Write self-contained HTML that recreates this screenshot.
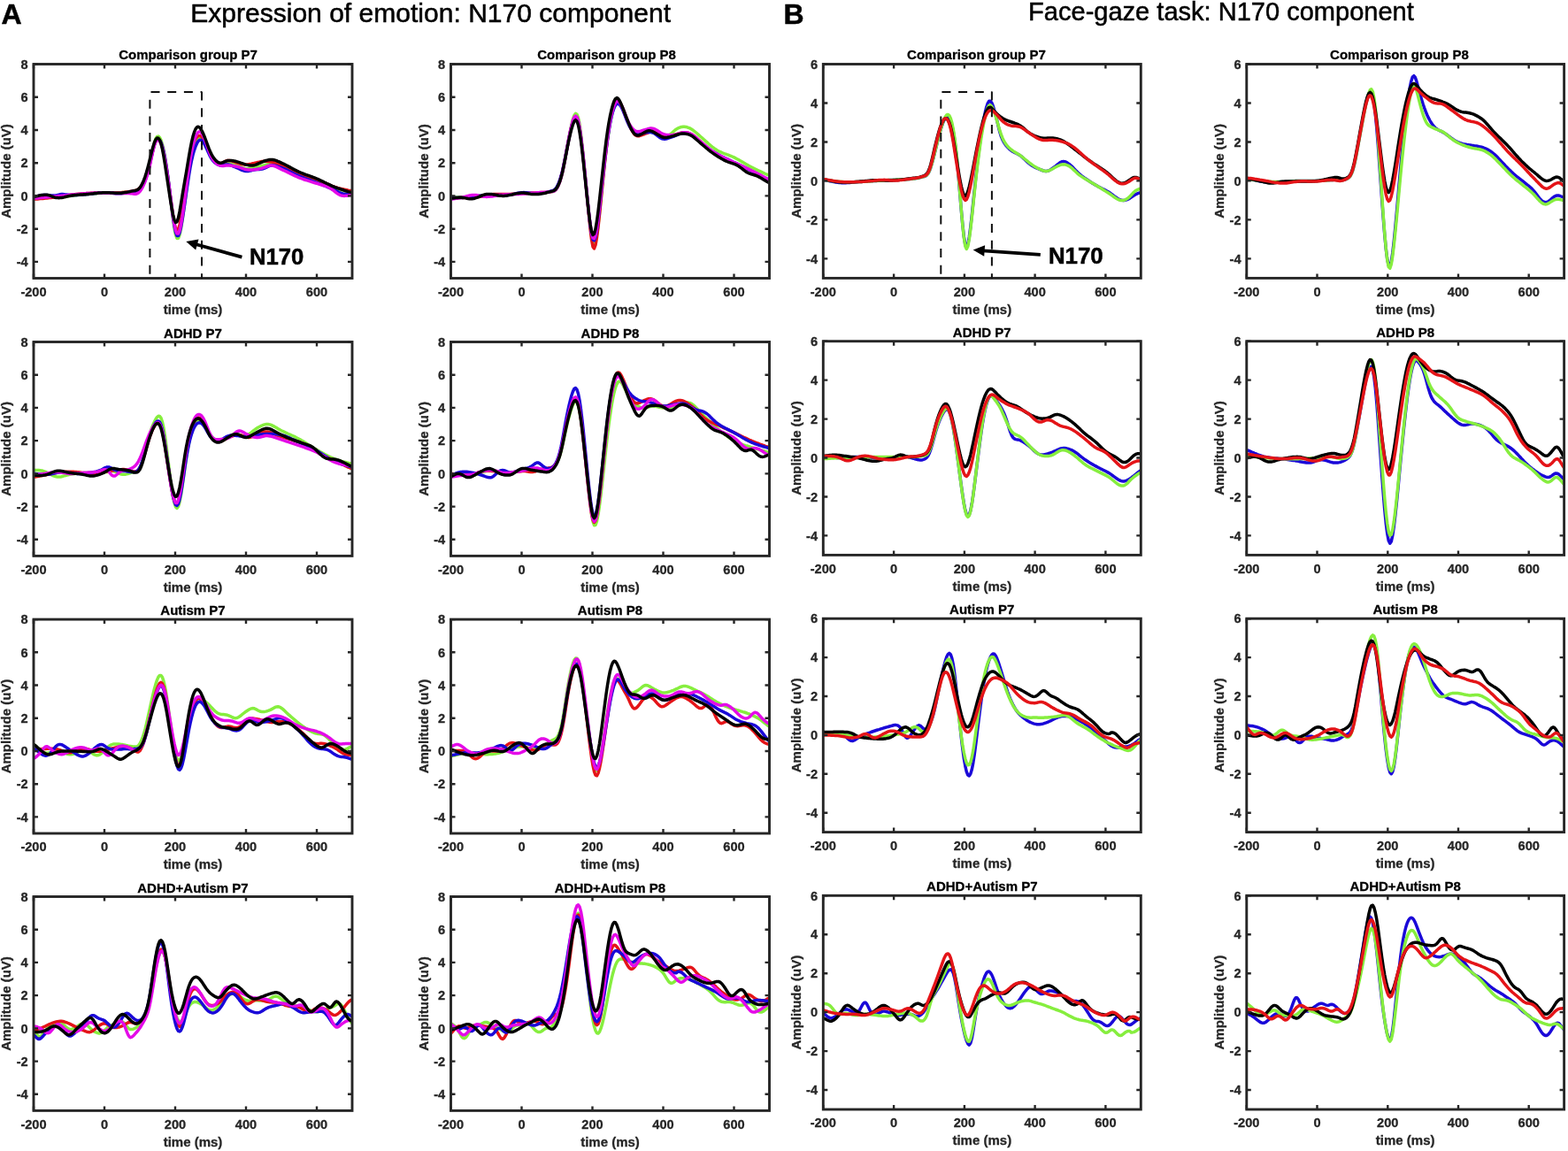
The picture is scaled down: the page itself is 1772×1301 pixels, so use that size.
<!DOCTYPE html><html><head><meta charset="utf-8"><title>N170 component</title>
<style>html,body{margin:0;padding:0;background:#fff;}svg{display:block;}text{font-family:'Liberation Sans', Arial, Helvetica, sans-serif;}</style></head><body>
<svg width="1772" height="1301" viewBox="0 0 1772 1301">
<rect width="1772" height="1301" fill="#fff"/>
<text x="1.4" y="26.7" font-size="32" font-weight="bold" fill="#000" stroke="#000" stroke-width="0.5">A</text>
<text x="885.6" y="27.1" font-size="32" font-weight="bold" fill="#000" stroke="#000" stroke-width="0.5">B</text>
<text x="215.2" y="24.8" font-size="29" fill="#000" stroke="#000" stroke-width="0.5" textLength="542.8" lengthAdjust="spacingAndGlyphs">Expression of emotion: N170 component</text>
<text x="1162.1" y="22.9" font-size="29" fill="#000" stroke="#000" stroke-width="0.5" textLength="435.7" lengthAdjust="spacingAndGlyphs">Face-gaze task: N170 component</text>
<g><clipPath id="cp00"><rect x="38.0" y="72.5" width="360.0" height="242.0"/></clipPath><g clip-path="url(#cp00)" fill="none" stroke-width="3.5" stroke-linejoin="round" stroke-linecap="round"><path d="M38.0 223.3L39.5 223.1 41.0 222.8 42.5 222.5 44.0 222.2 45.5 221.9 47.0 221.7 48.5 221.5 50.0 221.4 51.5 221.4 53.0 221.5 54.5 221.7 56.0 222.0 57.5 222.3 59.0 222.6 60.5 222.8 62.0 223.1 63.5 223.2 65.0 223.3 66.5 223.3 68.0 223.2 69.5 223.0 71.0 222.7 72.5 222.5 74.0 222.2 75.5 221.9 77.0 221.7 78.5 221.4 80.0 221.2 81.5 221.1 83.0 220.9 84.5 220.7 86.0 220.6 87.5 220.5 89.0 220.3 90.5 220.2 92.0 220.1 93.5 219.9 95.0 219.8 96.5 219.7 98.0 219.6 99.5 219.4 101.0 219.3 102.5 219.2 104.0 219.0 105.5 218.9 107.0 218.8 108.5 218.7 110.0 218.6 111.5 218.4 113.0 218.3 114.5 218.2 116.0 218.2 117.5 218.1 119.0 218.0 120.5 218.0 122.0 217.9 123.5 217.9 125.0 217.9 126.5 217.9 128.0 217.9 129.5 217.9 131.0 217.8 132.5 217.8 134.0 217.8 135.5 217.8 137.0 217.7 138.5 217.6 140.0 217.6 141.5 217.5 143.0 217.4 144.5 217.3 146.0 217.2 147.5 217.0 149.0 216.9 150.5 216.7 152.0 216.6 153.5 216.5 155.0 216.1 156.5 215.4 158.0 214.2 159.5 212.4 161.0 210.0 162.5 207.1 164.0 203.5 165.5 199.3 167.0 194.4 168.5 188.6 170.0 181.9 171.5 174.6 173.0 167.3 174.5 161.1 176.0 156.8 177.5 154.5 179.0 154.1 180.5 155.5 182.0 158.6 183.5 163.4 185.0 169.8 186.5 177.7 188.0 187.1 189.5 197.8 191.0 209.8 192.5 222.7 194.0 235.7 195.5 247.7 197.0 257.9 198.5 265.4 200.0 269.4 201.5 269.3 203.0 265.4 204.5 258.5 206.0 249.5 207.5 239.1 209.0 227.9 210.5 216.5 212.0 205.2 213.5 194.5 215.0 184.7 216.5 176.4 218.0 169.6 219.5 164.4 221.0 160.5 222.5 157.7 224.0 156.0 225.5 155.4 227.0 155.6 228.5 156.6 230.0 158.5 231.5 160.9 233.0 164.1 234.5 167.6 236.0 171.3 237.5 174.8 239.0 177.7 240.5 180.1 242.0 181.9 243.5 183.3 245.0 184.4 246.5 185.3 248.0 185.8 249.5 186.1 251.0 186.1 252.5 185.9 254.0 185.5 255.5 185.2 257.0 185.1 258.5 185.1 260.0 185.3 261.5 185.6 263.0 185.9 264.5 186.3 266.0 186.7 267.5 187.2 269.0 187.6 270.5 188.2 272.0 188.7 273.5 189.3 275.0 189.9 276.5 190.4 278.0 190.7 279.5 190.8 281.0 190.7 282.5 190.5 284.0 190.3 285.5 190.0 287.0 189.7 288.5 189.4 290.0 189.0 291.5 188.6 293.0 188.2 294.5 187.8 296.0 187.4 297.5 187.0 299.0 186.7 300.5 186.3 302.0 185.9 303.5 185.6 305.0 185.3 306.5 185.1 308.0 185.1 309.5 185.3 311.0 185.5 312.5 185.9 314.0 186.4 315.5 186.9 317.0 187.4 318.5 188.0 320.0 188.6 321.5 189.2 323.0 189.9 324.5 190.6 326.0 191.3 327.5 192.1 329.0 192.9 330.5 193.6 332.0 194.4 333.5 195.1 335.0 195.9 336.5 196.5 338.0 197.2 339.5 197.7 341.0 198.3 342.5 198.8 344.0 199.3 345.5 199.8 347.0 200.3 348.5 200.7 350.0 201.2 351.5 201.6 353.0 202.1 354.5 202.6 356.0 203.1 357.5 203.6 359.0 204.2 360.5 204.8 362.0 205.4 363.5 206.1 365.0 206.8 366.5 207.4 368.0 208.1 369.5 208.8 371.0 209.4 372.5 210.1 374.0 210.7 375.5 211.3 377.0 211.9 378.5 212.4 380.0 212.9 381.5 213.4 383.0 213.9 384.5 214.3 386.0 214.7 387.5 215.1 389.0 215.5 390.5 215.9 392.0 216.3 393.5 216.7 395.0 217.1 396.5 217.4 398.0 217.7" stroke="#86ee3e"/><path d="M38.0 225.1L39.5 225.1 41.0 225.0 42.5 224.9 44.0 224.8 45.5 224.6 47.0 224.5 48.5 224.4 50.0 224.3 51.5 224.1 53.0 224.0 54.5 223.8 56.0 223.6 57.5 223.5 59.0 223.3 60.5 223.1 62.0 222.9 63.5 222.7 65.0 222.5 66.5 222.3 68.0 222.1 69.5 221.8 71.0 221.6 72.5 221.4 74.0 221.1 75.5 220.9 77.0 220.7 78.5 220.5 80.0 220.3 81.5 220.1 83.0 219.9 84.5 219.8 86.0 219.6 87.5 219.5 89.0 219.3 90.5 219.2 92.0 219.1 93.5 219.0 95.0 218.8 96.5 218.7 98.0 218.6 99.5 218.5 101.0 218.4 102.5 218.3 104.0 218.2 105.5 218.2 107.0 218.1 108.5 218.0 110.0 217.9 111.5 217.9 113.0 217.8 114.5 217.8 116.0 217.7 117.5 217.7 119.0 217.7 120.5 217.7 122.0 217.7 123.5 217.7 125.0 217.8 126.5 217.8 128.0 217.9 129.5 217.9 131.0 218.0 132.5 218.0 134.0 217.9 135.5 217.9 137.0 217.8 138.5 217.6 140.0 217.5 141.5 217.3 143.0 217.1 144.5 216.9 146.0 216.7 147.5 216.4 149.0 216.1 150.5 215.8 152.0 215.5 153.5 215.1 155.0 214.6 156.5 213.7 158.0 212.3 159.5 210.5 161.0 208.1 162.5 205.2 164.0 201.8 165.5 197.9 167.0 193.3 168.5 188.1 170.0 182.1 171.5 175.6 173.0 169.1 174.5 163.6 176.0 159.7 177.5 157.6 179.0 157.2 180.5 158.6 182.0 161.7 183.5 166.4 185.0 172.7 186.5 180.6 188.0 189.6 189.5 199.6 191.0 210.4 192.5 221.6 194.0 232.8 195.5 243.2 197.0 252.0 198.5 258.1 200.0 260.7 201.5 259.2 203.0 254.2 204.5 246.4 206.0 236.6 207.5 225.8 209.0 214.7 210.5 203.9 212.0 193.6 213.5 184.2 215.0 176.1 216.5 169.3 218.0 164.0 219.5 159.9 221.0 156.9 222.5 154.9 224.0 153.7 225.5 153.4 227.0 153.9 228.5 155.0 230.0 156.8 231.5 159.3 233.0 162.3 234.5 165.9 236.0 169.6 237.5 173.2 239.0 176.2 240.5 178.7 242.0 180.8 243.5 182.4 245.0 183.6 246.5 184.4 248.0 184.8 249.5 184.7 251.0 184.2 252.5 183.5 254.0 182.7 255.5 182.0 257.0 181.5 258.5 181.4 260.0 181.6 261.5 181.9 263.0 182.4 264.5 182.9 266.0 183.4 267.5 183.9 269.0 184.4 270.5 184.8 272.0 185.2 273.5 185.5 275.0 185.8 276.5 186.0 278.0 186.1 279.5 186.0 281.0 185.8 282.5 185.5 284.0 185.2 285.5 184.8 287.0 184.5 288.5 184.1 290.0 183.8 291.5 183.4 293.0 183.1 294.5 182.8 296.0 182.6 297.5 182.4 299.0 182.3 300.5 182.3 302.0 182.4 303.5 182.5 305.0 182.7 306.5 182.9 308.0 183.3 309.5 183.7 311.0 184.2 312.5 184.7 314.0 185.3 315.5 185.9 317.0 186.5 318.5 187.2 320.0 187.8 321.5 188.5 323.0 189.2 324.5 189.9 326.0 190.7 327.5 191.4 329.0 192.2 330.5 192.9 332.0 193.6 333.5 194.3 335.0 195.0 336.5 195.7 338.0 196.3 339.5 196.9 341.0 197.4 342.5 197.9 344.0 198.4 345.5 198.9 347.0 199.4 348.5 199.8 350.0 200.3 351.5 200.7 353.0 201.2 354.5 201.7 356.0 202.2 357.5 202.7 359.0 203.3 360.5 203.9 362.0 204.6 363.5 205.2 365.0 205.9 366.5 206.6 368.0 207.2 369.5 207.9 371.0 208.6 372.5 209.2 374.0 209.8 375.5 210.4 377.0 211.0 378.5 211.5 380.0 211.9 381.5 212.4 383.0 212.8 384.5 213.1 386.0 213.5 387.5 213.8 389.0 214.1 390.5 214.4 392.0 214.7 393.5 215.1 395.0 215.4 396.5 215.6 398.0 215.8" stroke="#e41418"/><path d="M38.0 222.4L39.5 222.2 41.0 221.9 42.5 221.6 44.0 221.3 45.5 221.0 47.0 220.8 48.5 220.6 50.0 220.5 51.5 220.5 53.0 220.5 54.5 220.7 56.0 220.8 57.5 221.0 59.0 221.1 60.5 221.1 62.0 221.0 63.5 220.8 65.0 220.5 66.5 220.1 68.0 219.8 69.5 219.6 71.0 219.6 72.5 219.7 74.0 219.9 75.5 220.1 77.0 220.3 78.5 220.5 80.0 220.6 81.5 220.6 83.0 220.6 84.5 220.6 86.0 220.5 87.5 220.4 89.0 220.3 90.5 220.2 92.0 220.1 93.5 219.9 95.0 219.8 96.5 219.7 98.0 219.6 99.5 219.4 101.0 219.3 102.5 219.1 104.0 219.0 105.5 218.8 107.0 218.6 108.5 218.4 110.0 218.3 111.5 218.1 113.0 218.0 114.5 217.9 116.0 217.8 117.5 217.7 119.0 217.7 120.5 217.7 122.0 217.8 123.5 217.9 125.0 218.1 126.5 218.2 128.0 218.4 129.5 218.5 131.0 218.7 132.5 218.8 134.0 218.8 135.5 218.8 137.0 218.7 138.5 218.6 140.0 218.3 141.5 218.1 143.0 217.8 144.5 217.4 146.0 217.1 147.5 216.8 149.0 216.5 150.5 216.4 152.0 216.3 153.5 216.2 155.0 216.0 156.5 215.4 158.0 214.2 159.5 212.5 161.0 210.2 162.5 207.2 164.0 203.7 165.5 199.4 167.0 194.5 168.5 188.8 170.0 182.4 171.5 175.5 173.0 168.8 174.5 163.2 176.0 159.4 177.5 157.5 179.0 157.2 180.5 158.5 182.0 161.2 183.5 165.5 185.0 171.4 186.5 178.9 188.0 187.8 189.5 198.0 191.0 209.5 192.5 221.9 194.0 234.3 195.5 245.8 197.0 255.5 198.5 262.7 200.0 266.6 201.5 266.6 203.0 263.1 204.5 256.8 206.0 248.5 207.5 239.0 209.0 228.7 210.5 218.3 212.0 208.1 213.5 198.2 215.0 189.2 216.5 181.5 218.0 175.0 219.5 169.8 221.0 165.6 222.5 162.2 224.0 159.7 225.5 158.3 227.0 158.2 228.5 159.2 230.0 161.2 231.5 163.8 233.0 166.9 234.5 170.3 236.0 173.6 237.5 176.7 239.0 179.3 240.5 181.4 242.0 183.1 243.5 184.4 245.0 185.4 246.5 186.2 248.0 186.7 249.5 186.9 251.0 186.8 252.5 186.5 254.0 186.2 255.5 185.9 257.0 185.9 258.5 186.1 260.0 186.5 261.5 187.0 263.0 187.6 264.5 188.3 266.0 188.9 267.5 189.6 269.0 190.2 270.5 190.9 272.0 191.6 273.5 192.3 275.0 192.8 276.5 193.2 278.0 193.5 279.5 193.5 281.0 193.4 282.5 193.1 284.0 192.7 285.5 192.4 287.0 192.0 288.5 191.8 290.0 191.6 291.5 191.5 293.0 191.4 294.5 191.3 296.0 191.0 297.5 190.7 299.0 190.1 300.5 189.4 302.0 188.6 303.5 187.9 305.0 187.3 306.5 187.0 308.0 186.8 309.5 186.9 311.0 187.2 312.5 187.6 314.0 188.1 315.5 188.7 317.0 189.2 318.5 189.7 320.0 190.3 321.5 190.9 323.0 191.6 324.5 192.3 326.0 193.0 327.5 193.8 329.0 194.5 330.5 195.3 332.0 196.1 333.5 196.8 335.0 197.5 336.5 198.2 338.0 198.9 339.5 199.5 341.0 200.1 342.5 200.7 344.0 201.3 345.5 201.8 347.0 202.4 348.5 202.9 350.0 203.5 351.5 204.0 353.0 204.6 354.5 205.1 356.0 205.7 357.5 206.3 359.0 206.9 360.5 207.5 362.0 208.1 363.5 208.7 365.0 209.3 366.5 209.9 368.0 210.5 369.5 211.2 371.0 211.8 372.5 212.5 374.0 213.1 375.5 213.8 377.0 214.5 378.5 215.2 380.0 215.9 381.5 216.6 383.0 217.3 384.5 218.0 386.0 218.5 387.5 218.9 389.0 219.2 390.5 219.3 392.0 219.4 393.5 219.5 395.0 219.5 396.5 219.5 398.0 219.6" stroke="#1a08d8"/><path d="M38.0 224.2L39.5 224.1 41.0 224.0 42.5 223.9 44.0 223.7 45.5 223.6 47.0 223.4 48.5 223.3 50.0 223.2 51.5 223.0 53.0 222.9 54.5 222.7 56.0 222.6 57.5 222.5 59.0 222.3 60.5 222.2 62.0 222.0 63.5 221.9 65.0 221.7 66.5 221.6 68.0 221.5 69.5 221.3 71.0 221.2 72.5 221.0 74.0 220.9 75.5 220.8 77.0 220.6 78.5 220.5 80.0 220.3 81.5 220.2 83.0 220.0 84.5 219.9 86.0 219.7 87.5 219.5 89.0 219.4 90.5 219.2 92.0 219.1 93.5 219.0 95.0 218.9 96.5 218.7 98.0 218.6 99.5 218.6 101.0 218.5 102.5 218.4 104.0 218.3 105.5 218.3 107.0 218.2 108.5 218.2 110.0 218.2 111.5 218.1 113.0 218.1 114.5 218.1 116.0 218.1 117.5 218.1 119.0 218.1 120.5 218.1 122.0 218.1 123.5 218.2 125.0 218.2 126.5 218.3 128.0 218.3 129.5 218.4 131.0 218.4 132.5 218.5 134.0 218.5 135.5 218.6 137.0 218.6 138.5 218.6 140.0 218.6 141.5 218.6 143.0 218.6 144.5 218.6 146.0 218.6 147.5 218.7 149.0 218.8 150.5 219.0 152.0 219.2 153.5 219.2 155.0 218.8 156.5 217.9 158.0 216.5 159.5 214.4 161.0 211.8 162.5 208.7 164.0 205.1 165.5 200.9 167.0 196.1 168.5 190.5 170.0 184.1 171.5 177.0 173.0 170.0 174.5 164.2 176.0 160.2 177.5 158.3 179.0 158.1 180.5 159.6 182.0 162.6 183.5 167.2 185.0 173.3 186.5 180.9 188.0 189.7 189.5 199.6 191.0 210.4 192.5 221.9 194.0 233.5 195.5 244.2 197.0 253.5 198.5 260.4 200.0 264.1 201.5 264.0 203.0 260.5 204.5 254.0 206.0 245.3 207.5 234.9 209.0 223.7 210.5 212.3 212.0 201.0 213.5 190.2 215.0 180.3 216.5 171.8 218.0 164.7 219.5 159.0 221.0 154.6 222.5 151.3 224.0 149.4 225.5 148.8 227.0 149.5 228.5 151.5 230.0 154.5 231.5 158.0 233.0 162.0 234.5 166.2 236.0 170.5 237.5 174.4 239.0 177.6 240.5 180.2 242.0 182.3 243.5 183.9 245.0 185.2 246.5 186.2 248.0 186.9 249.5 187.3 251.0 187.5 252.5 187.5 254.0 187.2 255.5 187.0 257.0 186.9 258.5 187.0 260.0 187.1 261.5 187.3 263.0 187.5 264.5 187.7 266.0 187.9 267.5 188.2 269.0 188.6 270.5 189.0 272.0 189.6 273.5 190.1 275.0 190.7 276.5 191.2 278.0 191.5 279.5 191.8 281.0 192.0 282.5 192.0 284.0 192.0 285.5 191.9 287.0 191.8 288.5 191.6 290.0 191.4 291.5 191.2 293.0 190.9 294.5 190.6 296.0 190.2 297.5 189.7 299.0 189.2 300.5 188.6 302.0 188.0 303.5 187.5 305.0 187.1 306.5 187.0 308.0 187.1 309.5 187.5 311.0 188.0 312.5 188.7 314.0 189.4 315.5 190.1 317.0 190.9 318.5 191.6 320.0 192.3 321.5 193.0 323.0 193.7 324.5 194.4 326.0 195.2 327.5 195.9 329.0 196.7 330.5 197.4 332.0 198.1 333.5 198.8 335.0 199.5 336.5 200.2 338.0 200.8 339.5 201.4 341.0 201.9 342.5 202.5 344.0 203.0 345.5 203.5 347.0 203.9 348.5 204.4 350.0 204.9 351.5 205.3 353.0 205.8 354.5 206.3 356.0 206.8 357.5 207.2 359.0 207.7 360.5 208.2 362.0 208.6 363.5 209.0 365.0 209.5 366.5 209.9 368.0 210.4 369.5 211.0 371.0 211.6 372.5 212.4 374.0 213.3 375.5 214.3 377.0 215.4 378.5 216.6 380.0 217.8 381.5 218.9 383.0 219.8 384.5 220.6 386.0 221.0 387.5 221.3 389.0 221.4 390.5 221.3 392.0 221.2 393.5 221.0 395.0 220.8 396.5 220.6 398.0 220.5" stroke="#e40ae8"/><path d="M38.0 222.4L39.5 222.1 41.0 221.8 42.5 221.5 44.0 221.1 45.5 220.8 47.0 220.6 48.5 220.4 50.0 220.2 51.5 220.2 53.0 220.3 54.5 220.5 56.0 220.9 57.5 221.5 59.0 222.1 60.5 222.7 62.0 223.2 63.5 223.5 65.0 223.6 66.5 223.7 68.0 223.6 69.5 223.5 71.0 223.2 72.5 222.9 74.0 222.5 75.5 222.1 77.0 221.7 78.5 221.4 80.0 221.2 81.5 221.0 83.0 220.8 84.5 220.6 86.0 220.5 87.5 220.3 89.0 220.2 90.5 220.1 92.0 220.0 93.5 219.9 95.0 219.8 96.5 219.7 98.0 219.5 99.5 219.4 101.0 219.2 102.5 219.1 104.0 218.9 105.5 218.8 107.0 218.6 108.5 218.4 110.0 218.3 111.5 218.1 113.0 218.0 114.5 217.9 116.0 217.8 117.5 217.7 119.0 217.7 120.5 217.7 122.0 217.7 123.5 217.8 125.0 217.9 126.5 218.0 128.0 218.1 129.5 218.2 131.0 218.2 132.5 218.3 134.0 218.3 135.5 218.2 137.0 218.2 138.5 218.0 140.0 217.8 141.5 217.6 143.0 217.4 144.5 217.1 146.0 216.8 147.5 216.4 149.0 216.1 150.5 215.8 152.0 215.6 153.5 215.2 155.0 214.7 156.5 213.7 158.0 212.2 159.5 210.0 161.0 207.2 162.5 203.7 164.0 199.6 165.5 194.8 167.0 189.4 168.5 183.6 170.0 177.4 171.5 171.3 173.0 165.7 174.5 161.0 176.0 157.7 177.5 156.0 179.0 156.2 180.5 158.3 182.0 162.4 183.5 168.6 185.0 176.6 186.5 185.9 188.0 196.0 189.5 206.1 191.0 216.1 192.5 225.8 194.0 234.7 195.5 242.6 197.0 248.5 198.5 251.4 200.0 250.6 201.5 246.3 203.0 239.1 204.5 230.3 206.0 221.0 207.5 212.0 209.0 203.3 210.5 194.7 212.0 185.8 213.5 176.7 215.0 168.2 216.5 160.6 218.0 154.3 219.5 149.4 221.0 145.9 222.5 143.9 224.0 143.2 225.5 144.0 227.0 145.8 228.5 148.5 230.0 151.8 231.5 155.5 233.0 159.5 234.5 163.6 236.0 167.6 237.5 171.2 239.0 174.3 240.5 177.0 242.0 179.2 243.5 181.0 245.0 182.4 246.5 183.5 248.0 184.0 249.5 184.2 251.0 183.9 252.5 183.3 254.0 182.7 255.5 182.1 257.0 181.6 258.5 181.4 260.0 181.4 261.5 181.5 263.0 181.7 264.5 182.0 266.0 182.3 267.5 182.7 269.0 183.1 270.5 183.6 272.0 184.2 273.5 184.7 275.0 185.2 276.5 185.7 278.0 186.1 279.5 186.4 281.0 186.7 282.5 186.9 284.0 187.0 285.5 187.0 287.0 186.8 288.5 186.4 290.0 185.9 291.5 185.2 293.0 184.5 294.5 183.8 296.0 183.1 297.5 182.5 299.0 182.0 300.5 181.5 302.0 181.1 303.5 180.8 305.0 180.5 306.5 180.4 308.0 180.5 309.5 180.7 311.0 181.1 312.5 181.6 314.0 182.3 315.5 182.9 317.0 183.6 318.5 184.3 320.0 185.0 321.5 185.7 323.0 186.5 324.5 187.3 326.0 188.1 327.5 188.9 329.0 189.7 330.5 190.6 332.0 191.4 333.5 192.2 335.0 192.9 336.5 193.7 338.0 194.4 339.5 195.0 341.0 195.7 342.5 196.2 344.0 196.8 345.5 197.4 347.0 197.9 348.5 198.4 350.0 198.9 351.5 199.5 353.0 200.0 354.5 200.6 356.0 201.2 357.5 201.8 359.0 202.4 360.5 203.1 362.0 203.8 363.5 204.5 365.0 205.2 366.5 206.0 368.0 206.7 369.5 207.5 371.0 208.2 372.5 208.9 374.0 209.6 375.5 210.3 377.0 210.9 378.5 211.5 380.0 212.1 381.5 212.7 383.0 213.2 384.5 213.7 386.0 214.2 387.5 214.7 389.0 215.2 390.5 215.6 392.0 216.1 393.5 216.6 395.0 217.0 396.5 217.4 398.0 217.7" stroke="#000000"/></g><path d="M38.0 314.5V309.5M38.0 72.5V77.5M118.0 314.5V309.5M118.0 72.5V77.5M198.0 314.5V309.5M198.0 72.5V77.5M278.0 314.5V309.5M278.0 72.5V77.5M358.0 314.5V309.5M358.0 72.5V77.5M38.0 295.9H43.0M398.0 295.9H393.0M38.0 258.7H43.0M398.0 258.7H393.0M38.0 221.4H43.0M398.0 221.4H393.0M38.0 184.2H43.0M398.0 184.2H393.0M38.0 147.0H43.0M398.0 147.0H393.0M38.0 109.7H43.0M398.0 109.7H393.0M38.0 72.5H43.0M398.0 72.5H393.0" stroke="#262626" stroke-width="2.4" fill="none"/><rect x="38.0" y="72.5" width="360.0" height="242.0" fill="none" stroke="#262626" stroke-width="2.9"/><text x="38.0" y="334.9" font-size="14.6" font-weight="bold" text-anchor="middle" fill="#262626" stroke="#262626" stroke-width="0.3">-200</text><text x="118.0" y="334.9" font-size="14.6" font-weight="bold" text-anchor="middle" fill="#262626" stroke="#262626" stroke-width="0.3">0</text><text x="198.0" y="334.9" font-size="14.6" font-weight="bold" text-anchor="middle" fill="#262626" stroke="#262626" stroke-width="0.3">200</text><text x="278.0" y="334.9" font-size="14.6" font-weight="bold" text-anchor="middle" fill="#262626" stroke="#262626" stroke-width="0.3">400</text><text x="358.0" y="334.9" font-size="14.6" font-weight="bold" text-anchor="middle" fill="#262626" stroke="#262626" stroke-width="0.3">600</text><text x="31.7" y="301.1" font-size="14.6" font-weight="bold" text-anchor="end" fill="#262626" stroke="#262626" stroke-width="0.3">-4</text><text x="31.7" y="263.9" font-size="14.6" font-weight="bold" text-anchor="end" fill="#262626" stroke="#262626" stroke-width="0.3">-2</text><text x="31.7" y="226.6" font-size="14.6" font-weight="bold" text-anchor="end" fill="#262626" stroke="#262626" stroke-width="0.3">0</text><text x="31.7" y="189.4" font-size="14.6" font-weight="bold" text-anchor="end" fill="#262626" stroke="#262626" stroke-width="0.3">2</text><text x="31.7" y="152.2" font-size="14.6" font-weight="bold" text-anchor="end" fill="#262626" stroke="#262626" stroke-width="0.3">4</text><text x="31.7" y="114.9" font-size="14.6" font-weight="bold" text-anchor="end" fill="#262626" stroke="#262626" stroke-width="0.3">6</text><text x="31.7" y="77.7" font-size="14.6" font-weight="bold" text-anchor="end" fill="#262626" stroke="#262626" stroke-width="0.3">8</text><text x="218.0" y="354.9" font-size="15" font-weight="bold" text-anchor="middle" fill="#262626" stroke="#262626" stroke-width="0.3">time (ms)</text><text transform="translate(12.4 193.5) rotate(-90)" font-size="15" font-weight="bold" text-anchor="middle" fill="#262626" stroke="#262626" stroke-width="0.3">Amplitude (uV)</text><text x="212.5" y="66.8" font-size="15" font-weight="bold" text-anchor="middle" fill="#000" stroke="#000" stroke-width="0.3">Comparison group P7</text></g>
<g><clipPath id="cp01"><rect x="509.5" y="72.5" width="360.0" height="242.0"/></clipPath><g clip-path="url(#cp01)" fill="none" stroke-width="3.5" stroke-linejoin="round" stroke-linecap="round"><path d="M509.5 223.3L511.0 223.2 512.5 223.2 514.0 223.1 515.5 223.1 517.0 223.0 518.5 222.9 520.0 222.9 521.5 222.8 523.0 222.7 524.5 222.7 526.0 222.6 527.5 222.5 529.0 222.4 530.5 222.3 532.0 222.2 533.5 222.0 535.0 221.9 536.5 221.7 538.0 221.5 539.5 221.4 541.0 221.2 542.5 221.0 544.0 220.9 545.5 220.8 547.0 220.7 548.5 220.6 550.0 220.5 551.5 220.4 553.0 220.4 554.5 220.4 556.0 220.4 557.5 220.4 559.0 220.5 560.5 220.5 562.0 220.6 563.5 220.6 565.0 220.6 566.5 220.6 568.0 220.5 569.5 220.5 571.0 220.4 572.5 220.3 574.0 220.2 575.5 220.0 577.0 219.8 578.5 219.7 580.0 219.5 581.5 219.3 583.0 219.2 584.5 219.0 586.0 218.9 587.5 218.8 589.0 218.7 590.5 218.6 592.0 218.6 593.5 218.6 595.0 218.6 596.5 218.6 598.0 218.7 599.5 218.8 601.0 218.8 602.5 218.8 604.0 218.9 605.5 218.8 607.0 218.8 608.5 218.7 610.0 218.6 611.5 218.4 613.0 218.3 614.5 218.1 616.0 217.8 617.5 217.6 619.0 217.3 620.5 217.0 622.0 216.8 623.5 216.7 625.0 216.5 626.5 215.9 628.0 214.8 629.5 212.8 631.0 209.8 632.5 205.9 634.0 201.1 635.5 195.2 637.0 188.2 638.5 180.4 640.0 172.2 641.5 163.8 643.0 155.5 644.5 147.6 646.0 140.4 647.5 134.5 649.0 130.3 650.5 128.4 652.0 129.2 653.5 133.3 655.0 140.8 656.5 151.5 658.0 164.7 659.5 179.4 661.0 195.0 662.5 210.9 664.0 226.6 665.5 241.6 667.0 255.3 668.5 266.4 670.0 273.6 671.5 275.5 673.0 272.3 674.5 264.8 676.0 254.0 677.5 241.0 679.0 226.7 680.5 212.0 682.0 197.4 683.5 183.3 685.0 170.0 686.5 158.1 688.0 147.8 689.5 139.0 691.0 131.7 692.5 125.7 694.0 121.0 695.5 117.6 697.0 115.6 698.5 115.3 700.0 116.3 701.5 118.5 703.0 121.3 704.5 124.7 706.0 128.4 707.5 132.1 709.0 135.7 710.5 138.9 712.0 141.8 713.5 144.5 715.0 146.7 716.5 148.5 718.0 149.9 719.5 150.7 721.0 151.1 722.5 151.0 724.0 150.5 725.5 149.9 727.0 149.4 728.5 149.0 730.0 148.8 731.5 148.9 733.0 149.0 734.5 149.2 736.0 149.5 737.5 149.8 739.0 150.1 740.5 150.5 742.0 151.0 743.5 151.6 745.0 152.2 746.5 152.9 748.0 153.6 749.5 154.2 751.0 154.5 752.5 154.5 754.0 154.2 755.5 153.5 757.0 152.4 758.5 151.1 760.0 149.7 761.5 148.3 763.0 147.0 764.5 145.9 766.0 145.0 767.5 144.3 769.0 143.8 770.5 143.4 772.0 143.2 773.5 143.2 775.0 143.4 776.5 143.8 778.0 144.3 779.5 144.9 781.0 145.7 782.5 146.7 784.0 147.8 785.5 149.0 787.0 150.3 788.5 151.6 790.0 152.9 791.5 154.2 793.0 155.5 794.5 156.9 796.0 158.2 797.5 159.6 799.0 160.9 800.5 162.3 802.0 163.6 803.5 164.9 805.0 166.1 806.5 167.2 808.0 168.3 809.5 169.3 811.0 170.2 812.5 171.0 814.0 171.7 815.5 172.4 817.0 173.0 818.5 173.6 820.0 174.1 821.5 174.7 823.0 175.2 824.5 175.8 826.0 176.4 827.5 177.0 829.0 177.7 830.5 178.4 832.0 179.2 833.5 180.0 835.0 180.8 836.5 181.7 838.0 182.6 839.5 183.4 841.0 184.3 842.5 185.2 844.0 186.1 845.5 186.9 847.0 187.8 848.5 188.6 850.0 189.4 851.5 190.1 853.0 190.9 854.5 191.6 856.0 192.3 857.5 193.0 859.0 193.7 860.5 194.4 862.0 195.1 863.5 195.8 865.0 196.5 866.5 197.1 868.0 197.7 869.5 198.2" stroke="#86ee3e"/><path d="M509.5 224.2L511.0 224.2 512.5 224.1 514.0 224.0 515.5 223.9 517.0 223.8 518.5 223.7 520.0 223.6 521.5 223.6 523.0 223.5 524.5 223.4 526.0 223.3 527.5 223.2 529.0 223.2 530.5 223.1 532.0 223.0 533.5 223.0 535.0 222.9 536.5 222.8 538.0 222.7 539.5 222.6 541.0 222.4 542.5 222.2 544.0 222.0 545.5 221.7 547.0 221.4 548.5 221.1 550.0 220.8 551.5 220.5 553.0 220.2 554.5 220.0 556.0 219.8 557.5 219.6 559.0 219.5 560.5 219.4 562.0 219.4 563.5 219.4 565.0 219.4 566.5 219.5 568.0 219.5 569.5 219.6 571.0 219.6 572.5 219.6 574.0 219.5 575.5 219.5 577.0 219.4 578.5 219.3 580.0 219.3 581.5 219.2 583.0 219.1 584.5 218.9 586.0 218.8 587.5 218.8 589.0 218.7 590.5 218.6 592.0 218.5 593.5 218.4 595.0 218.4 596.5 218.3 598.0 218.2 599.5 218.2 601.0 218.1 602.5 218.0 604.0 218.0 605.5 217.9 607.0 217.8 608.5 217.7 610.0 217.7 611.5 217.6 613.0 217.6 614.5 217.5 616.0 217.5 617.5 217.4 619.0 217.2 620.5 216.9 622.0 216.7 623.5 216.4 625.0 216.0 626.5 215.3 628.0 214.0 629.5 211.8 631.0 208.8 632.5 204.9 634.0 200.0 635.5 194.2 637.0 187.4 638.5 179.8 640.0 171.8 641.5 163.9 643.0 156.2 644.5 148.9 646.0 142.5 647.5 137.1 649.0 133.4 650.5 132.0 652.0 133.3 653.5 137.7 655.0 145.2 656.5 155.4 658.0 167.9 659.5 181.8 661.0 196.6 662.5 212.1 664.0 227.8 665.5 243.4 667.0 258.3 668.5 270.8 670.0 278.9 671.5 281.0 673.0 277.0 674.5 268.4 676.0 256.6 677.5 242.8 679.0 227.9 680.5 212.7 682.0 197.7 683.5 183.2 685.0 169.7 686.5 157.4 688.0 146.7 689.5 137.7 691.0 130.1 692.5 123.8 694.0 118.9 695.5 115.4 697.0 113.6 698.5 113.4 700.0 114.8 701.5 117.2 703.0 120.5 704.5 124.2 706.0 128.3 707.5 132.4 709.0 136.4 710.5 140.1 712.0 143.5 713.5 146.5 715.0 149.1 716.5 151.2 718.0 152.7 719.5 153.5 721.0 153.8 722.5 153.7 724.0 153.2 725.5 152.6 727.0 152.0 728.5 151.5 730.0 150.9 731.5 150.3 733.0 149.7 734.5 149.2 736.0 148.9 737.5 148.8 739.0 149.0 740.5 149.5 742.0 150.1 743.5 150.9 745.0 151.6 746.5 152.4 748.0 152.9 749.5 153.4 751.0 153.6 752.5 153.7 754.0 153.6 755.5 153.5 757.0 153.3 758.5 153.1 760.0 152.8 761.5 152.5 763.0 152.2 764.5 151.7 766.0 151.3 767.5 150.8 769.0 150.4 770.5 150.0 772.0 149.8 773.5 149.7 775.0 149.8 776.5 150.0 778.0 150.3 779.5 150.8 781.0 151.5 782.5 152.3 784.0 153.4 785.5 154.6 787.0 155.8 788.5 157.2 790.0 158.5 791.5 159.8 793.0 161.2 794.5 162.6 796.0 164.0 797.5 165.4 799.0 166.8 800.5 168.1 802.0 169.4 803.5 170.6 805.0 171.7 806.5 172.8 808.0 173.8 809.5 174.7 811.0 175.5 812.5 176.3 814.0 177.1 815.5 177.9 817.0 178.6 818.5 179.3 820.0 180.0 821.5 180.6 823.0 181.3 824.5 182.0 826.0 182.6 827.5 183.2 829.0 183.8 830.5 184.4 832.0 184.9 833.5 185.5 835.0 186.2 836.5 186.8 838.0 187.5 839.5 188.3 841.0 189.0 842.5 189.8 844.0 190.6 845.5 191.4 847.0 192.2 848.5 193.0 850.0 193.8 851.5 194.6 853.0 195.5 854.5 196.3 856.0 197.1 857.5 197.8 859.0 198.6 860.5 199.4 862.0 200.2 863.5 201.0 865.0 201.8 866.5 202.6 868.0 203.2 869.5 203.7" stroke="#e41418"/><path d="M509.5 223.7L511.0 223.6 512.5 223.6 514.0 223.6 515.5 223.6 517.0 223.6 518.5 223.6 520.0 223.5 521.5 223.5 523.0 223.4 524.5 223.3 526.0 223.2 527.5 223.1 529.0 222.9 530.5 222.8 532.0 222.6 533.5 222.4 535.0 222.2 536.5 222.0 538.0 221.8 539.5 221.6 541.0 221.5 542.5 221.3 544.0 221.2 545.5 221.1 547.0 221.0 548.5 220.9 550.0 220.8 551.5 220.7 553.0 220.6 554.5 220.6 556.0 220.5 557.5 220.5 559.0 220.5 560.5 220.5 562.0 220.5 563.5 220.5 565.0 220.6 566.5 220.6 568.0 220.7 569.5 220.7 571.0 220.6 572.5 220.5 574.0 220.4 575.5 220.2 577.0 220.0 578.5 219.7 580.0 219.4 581.5 219.1 583.0 218.7 584.5 218.4 586.0 218.1 587.5 217.9 589.0 217.8 590.5 217.7 592.0 217.6 593.5 217.7 595.0 217.8 596.5 217.9 598.0 218.1 599.5 218.2 601.0 218.4 602.5 218.6 604.0 218.7 605.5 218.8 607.0 218.8 608.5 218.7 610.0 218.6 611.5 218.4 613.0 218.2 614.5 218.0 616.0 217.7 617.5 217.4 619.0 217.0 620.5 216.6 622.0 216.2 623.5 215.8 625.0 215.3 626.5 214.5 628.0 213.1 629.5 210.9 631.0 207.9 632.5 203.9 634.0 199.1 635.5 193.4 637.0 186.7 638.5 179.4 640.0 171.6 641.5 163.8 643.0 156.2 644.5 149.0 646.0 142.5 647.5 137.1 649.0 133.4 650.5 132.0 652.0 133.3 653.5 137.6 655.0 145.1 656.5 155.3 658.0 167.6 659.5 181.5 661.0 196.4 662.5 211.7 664.0 226.9 665.5 241.3 667.0 254.3 668.5 264.6 670.0 270.7 671.5 271.7 673.0 267.9 674.5 260.1 676.0 249.2 677.5 236.4 679.0 222.5 680.5 208.4 682.0 194.6 683.5 181.4 685.0 169.1 686.5 157.8 688.0 147.9 689.5 139.3 691.0 132.1 692.5 126.3 694.0 122.0 695.5 119.0 697.0 117.4 698.5 117.2 700.0 118.1 701.5 120.0 703.0 122.7 704.5 126.1 706.0 129.9 707.5 133.8 709.0 137.5 710.5 140.8 712.0 143.6 713.5 146.0 715.0 148.0 716.5 149.6 718.0 150.9 719.5 151.6 721.0 151.9 722.5 151.8 724.0 151.5 725.5 151.0 727.0 150.4 728.5 150.0 730.0 149.7 731.5 149.6 733.0 149.5 734.5 149.5 736.0 149.6 737.5 150.0 739.0 150.6 740.5 151.5 742.0 152.6 743.5 153.8 745.0 155.0 746.5 156.0 748.0 156.7 749.5 157.1 751.0 157.2 752.5 157.0 754.0 156.7 755.5 156.2 757.0 155.7 758.5 155.2 760.0 154.6 761.5 154.1 763.0 153.4 764.5 152.8 766.0 152.2 767.5 151.7 769.0 151.2 770.5 150.9 772.0 150.7 773.5 150.7 775.0 150.8 776.5 150.9 778.0 151.3 779.5 151.7 781.0 152.4 782.5 153.3 784.0 154.3 785.5 155.5 787.0 156.8 788.5 158.1 790.0 159.4 791.5 160.6 793.0 161.8 794.5 163.0 796.0 164.2 797.5 165.4 799.0 166.6 800.5 167.7 802.0 168.8 803.5 169.9 805.0 170.9 806.5 171.8 808.0 172.7 809.5 173.6 811.0 174.4 812.5 175.2 814.0 176.0 815.5 176.8 817.0 177.5 818.5 178.2 820.0 179.0 821.5 179.7 823.0 180.4 824.5 181.2 826.0 181.9 827.5 182.6 829.0 183.3 830.5 183.9 832.0 184.6 833.5 185.3 835.0 186.1 836.5 186.8 838.0 187.5 839.5 188.3 841.0 189.1 842.5 189.8 844.0 190.6 845.5 191.4 847.0 192.2 848.5 193.0 850.0 193.9 851.5 194.7 853.0 195.5 854.5 196.3 856.0 197.1 857.5 197.8 859.0 198.6 860.5 199.4 862.0 200.2 863.5 201.0 865.0 201.8 866.5 202.6 868.0 203.2 869.5 203.7" stroke="#1a08d8"/><path d="M509.5 225.1L511.0 225.0 512.5 224.8 514.0 224.5 515.5 224.2 517.0 224.0 518.5 223.7 520.0 223.4 521.5 223.2 523.0 222.9 524.5 222.5 526.0 222.2 527.5 221.8 529.0 221.4 530.5 221.0 532.0 220.7 533.5 220.5 535.0 220.4 536.5 220.4 538.0 220.6 539.5 220.8 541.0 221.1 542.5 221.4 544.0 221.7 545.5 222.0 547.0 222.2 548.5 222.3 550.0 222.4 551.5 222.3 553.0 222.2 554.5 222.1 556.0 221.9 557.5 221.7 559.0 221.4 560.5 221.2 562.0 221.0 563.5 220.8 565.0 220.6 566.5 220.4 568.0 220.3 569.5 220.2 571.0 220.1 572.5 220.0 574.0 219.9 575.5 219.9 577.0 219.8 578.5 219.7 580.0 219.7 581.5 219.6 583.0 219.5 584.5 219.4 586.0 219.4 587.5 219.3 589.0 219.2 590.5 219.1 592.0 219.0 593.5 218.9 595.0 218.8 596.5 218.7 598.0 218.5 599.5 218.4 601.0 218.3 602.5 218.2 604.0 218.1 605.5 217.9 607.0 217.8 608.5 217.7 610.0 217.6 611.5 217.5 613.0 217.5 614.5 217.4 616.0 217.3 617.5 217.2 619.0 217.1 620.5 216.9 622.0 216.7 623.5 216.6 625.0 216.4 626.5 215.9 628.0 214.7 629.5 212.7 631.0 209.7 632.5 205.9 634.0 201.0 635.5 195.1 637.0 188.1 638.5 180.3 640.0 172.1 641.5 163.9 643.0 155.9 644.5 148.4 646.0 141.8 647.5 136.3 649.0 132.5 650.5 131.0 652.0 132.3 653.5 136.8 655.0 144.3 656.5 154.7 658.0 167.4 659.5 181.4 661.0 196.4 662.5 211.8 664.0 226.8 665.5 241.0 667.0 253.5 668.5 263.3 670.0 269.0 671.5 269.7 673.0 265.8 674.5 258.0 676.0 247.1 677.5 234.3 679.0 220.4 680.5 206.3 682.0 192.5 683.5 179.3 685.0 167.0 686.5 155.7 688.0 145.8 689.5 137.2 691.0 130.0 692.5 124.0 694.0 119.4 695.5 116.2 697.0 114.5 698.5 114.3 700.0 115.5 701.5 117.7 703.0 120.6 704.5 124.2 706.0 128.0 707.5 131.9 709.0 135.6 710.5 138.8 712.0 141.4 713.5 143.7 715.0 145.5 716.5 147.0 718.0 148.0 719.5 148.6 721.0 148.8 722.5 148.6 724.0 148.2 725.5 147.7 727.0 147.2 728.5 146.8 730.0 146.3 731.5 145.9 733.0 145.4 734.5 145.1 736.0 145.0 737.5 145.2 739.0 145.5 740.5 146.2 742.0 147.0 743.5 148.0 745.0 149.0 746.5 150.0 748.0 150.8 749.5 151.4 751.0 151.9 752.5 152.3 754.0 152.5 755.5 152.6 757.0 152.7 758.5 152.7 760.0 152.6 761.5 152.5 763.0 152.2 764.5 151.9 766.0 151.4 767.5 150.9 769.0 150.5 770.5 150.1 772.0 149.8 773.5 149.7 775.0 149.8 776.5 150.0 778.0 150.3 779.5 150.8 781.0 151.5 782.5 152.3 784.0 153.4 785.5 154.6 787.0 155.8 788.5 157.2 790.0 158.5 791.5 159.8 793.0 161.0 794.5 162.3 796.0 163.6 797.5 164.9 799.0 166.2 800.5 167.4 802.0 168.6 803.5 169.8 805.0 170.8 806.5 171.8 808.0 172.8 809.5 173.7 811.0 174.5 812.5 175.3 814.0 176.1 815.5 176.8 817.0 177.5 818.5 178.3 820.0 179.0 821.5 179.7 823.0 180.5 824.5 181.2 826.0 181.9 827.5 182.6 829.0 183.3 830.5 184.0 832.0 184.7 833.5 185.4 835.0 186.1 836.5 186.8 838.0 187.5 839.5 188.2 841.0 188.9 842.5 189.6 844.0 190.3 845.5 191.0 847.0 191.7 848.5 192.4 850.0 193.1 851.5 193.8 853.0 194.6 854.5 195.3 856.0 196.1 857.5 196.9 859.0 197.7 860.5 198.4 862.0 199.3 863.5 200.1 865.0 200.9 866.5 201.6 868.0 202.3 869.5 202.8" stroke="#e40ae8"/><path d="M509.5 224.2L511.0 224.1 512.5 223.9 514.0 223.8 515.5 223.6 517.0 223.4 518.5 223.3 520.0 223.3 521.5 223.3 523.0 223.4 524.5 223.6 526.0 223.9 527.5 224.2 529.0 224.5 530.5 224.7 532.0 224.8 533.5 224.8 535.0 224.6 536.5 224.2 538.0 223.7 539.5 223.2 541.0 222.6 542.5 221.9 544.0 221.3 545.5 220.7 547.0 220.2 548.5 219.8 550.0 219.5 551.5 219.4 553.0 219.4 554.5 219.5 556.0 219.6 557.5 219.9 559.0 220.1 560.5 220.4 562.0 220.7 563.5 221.0 565.0 221.2 566.5 221.3 568.0 221.4 569.5 221.4 571.0 221.3 572.5 221.2 574.0 220.9 575.5 220.6 577.0 220.3 578.5 220.0 580.0 219.6 581.5 219.2 583.0 218.9 584.5 218.6 586.0 218.4 587.5 218.2 589.0 218.1 590.5 218.1 592.0 218.1 593.5 218.3 595.0 218.5 596.5 218.7 598.0 218.9 599.5 219.2 601.0 219.4 602.5 219.5 604.0 219.6 605.5 219.6 607.0 219.5 608.5 219.4 610.0 219.2 611.5 219.0 613.0 218.8 614.5 218.5 616.0 218.2 617.5 217.8 619.0 217.4 620.5 217.0 622.0 216.6 623.5 216.3 625.0 215.9 626.5 215.2 628.0 213.9 629.5 211.9 631.0 209.1 632.5 205.4 634.0 200.7 635.5 195.0 637.0 188.2 638.5 180.7 640.0 172.8 641.5 165.1 643.0 157.9 644.5 151.3 646.0 145.4 647.5 140.5 649.0 137.1 650.5 135.7 652.0 137.0 653.5 141.4 655.0 148.9 656.5 159.2 658.0 171.5 659.5 185.1 661.0 199.4 662.5 213.9 664.0 228.2 665.5 241.6 667.0 253.2 668.5 261.6 670.0 265.5 671.5 264.3 673.0 258.8 674.5 249.9 676.0 238.7 677.5 225.9 679.0 212.3 680.5 198.5 682.0 184.7 683.5 171.5 685.0 159.2 686.5 148.4 688.0 139.0 689.5 131.0 691.0 124.3 692.5 118.7 694.0 114.4 695.5 111.6 697.0 110.6 698.5 111.4 700.0 113.6 701.5 116.6 703.0 120.1 704.5 123.9 706.0 127.9 707.5 131.9 709.0 135.7 710.5 139.4 712.0 142.8 713.5 145.9 715.0 148.6 716.5 150.8 718.0 152.2 719.5 152.9 721.0 153.0 722.5 152.7 724.0 152.0 725.5 151.3 727.0 150.5 728.5 149.6 730.0 148.8 731.5 148.1 733.0 147.7 734.5 147.8 736.0 148.1 737.5 148.7 739.0 149.5 740.5 150.4 742.0 151.3 743.5 152.2 745.0 153.1 746.5 154.0 748.0 154.8 749.5 155.2 751.0 155.5 752.5 155.5 754.0 155.3 755.5 155.0 757.0 154.7 758.5 154.3 760.0 153.9 761.5 153.5 763.0 153.0 764.5 152.5 766.0 152.0 767.5 151.6 769.0 151.3 770.5 151.1 772.0 151.0 773.5 151.0 775.0 151.2 776.5 151.5 778.0 151.9 779.5 152.4 781.0 153.1 782.5 154.0 784.0 155.1 785.5 156.4 787.0 157.7 788.5 159.0 790.0 160.3 791.5 161.6 793.0 162.9 794.5 164.2 796.0 165.5 797.5 166.8 799.0 168.0 800.5 169.3 802.0 170.5 803.5 171.6 805.0 172.7 806.5 173.8 808.0 174.8 809.5 175.8 811.0 176.8 812.5 177.7 814.0 178.6 815.5 179.5 817.0 180.3 818.5 181.1 820.0 181.8 821.5 182.5 823.0 183.1 824.5 183.6 826.0 184.1 827.5 184.6 829.0 185.1 830.5 185.6 832.0 186.3 833.5 187.1 835.0 188.0 836.5 189.1 838.0 190.2 839.5 191.4 841.0 192.6 842.5 193.7 844.0 194.7 845.5 195.5 847.0 196.2 848.5 196.7 850.0 197.1 851.5 197.5 853.0 198.0 854.5 198.5 856.0 199.2 857.5 199.9 859.0 200.7 860.5 201.6 862.0 202.5 863.5 203.4 865.0 204.3 866.5 205.2 868.0 206.0 869.5 206.5" stroke="#000000"/></g><path d="M509.5 314.5V309.5M509.5 72.5V77.5M589.5 314.5V309.5M589.5 72.5V77.5M669.5 314.5V309.5M669.5 72.5V77.5M749.5 314.5V309.5M749.5 72.5V77.5M829.5 314.5V309.5M829.5 72.5V77.5M509.5 295.9H514.5M869.5 295.9H864.5M509.5 258.7H514.5M869.5 258.7H864.5M509.5 221.4H514.5M869.5 221.4H864.5M509.5 184.2H514.5M869.5 184.2H864.5M509.5 147.0H514.5M869.5 147.0H864.5M509.5 109.7H514.5M869.5 109.7H864.5M509.5 72.5H514.5M869.5 72.5H864.5" stroke="#262626" stroke-width="2.4" fill="none"/><rect x="509.5" y="72.5" width="360.0" height="242.0" fill="none" stroke="#262626" stroke-width="2.9"/><text x="509.5" y="334.9" font-size="14.6" font-weight="bold" text-anchor="middle" fill="#262626" stroke="#262626" stroke-width="0.3">-200</text><text x="589.5" y="334.9" font-size="14.6" font-weight="bold" text-anchor="middle" fill="#262626" stroke="#262626" stroke-width="0.3">0</text><text x="669.5" y="334.9" font-size="14.6" font-weight="bold" text-anchor="middle" fill="#262626" stroke="#262626" stroke-width="0.3">200</text><text x="749.5" y="334.9" font-size="14.6" font-weight="bold" text-anchor="middle" fill="#262626" stroke="#262626" stroke-width="0.3">400</text><text x="829.5" y="334.9" font-size="14.6" font-weight="bold" text-anchor="middle" fill="#262626" stroke="#262626" stroke-width="0.3">600</text><text x="503.2" y="301.1" font-size="14.6" font-weight="bold" text-anchor="end" fill="#262626" stroke="#262626" stroke-width="0.3">-4</text><text x="503.2" y="263.9" font-size="14.6" font-weight="bold" text-anchor="end" fill="#262626" stroke="#262626" stroke-width="0.3">-2</text><text x="503.2" y="226.6" font-size="14.6" font-weight="bold" text-anchor="end" fill="#262626" stroke="#262626" stroke-width="0.3">0</text><text x="503.2" y="189.4" font-size="14.6" font-weight="bold" text-anchor="end" fill="#262626" stroke="#262626" stroke-width="0.3">2</text><text x="503.2" y="152.2" font-size="14.6" font-weight="bold" text-anchor="end" fill="#262626" stroke="#262626" stroke-width="0.3">4</text><text x="503.2" y="114.9" font-size="14.6" font-weight="bold" text-anchor="end" fill="#262626" stroke="#262626" stroke-width="0.3">6</text><text x="503.2" y="77.7" font-size="14.6" font-weight="bold" text-anchor="end" fill="#262626" stroke="#262626" stroke-width="0.3">8</text><text x="689.5" y="354.9" font-size="15" font-weight="bold" text-anchor="middle" fill="#262626" stroke="#262626" stroke-width="0.3">time (ms)</text><text transform="translate(483.9 193.5) rotate(-90)" font-size="15" font-weight="bold" text-anchor="middle" fill="#262626" stroke="#262626" stroke-width="0.3">Amplitude (uV)</text><text x="685.5" y="66.8" font-size="15" font-weight="bold" text-anchor="middle" fill="#000" stroke="#000" stroke-width="0.3">Comparison group P8</text></g>
<g><clipPath id="cp02"><rect x="930.3" y="72.5" width="359.0" height="241.9"/></clipPath><g clip-path="url(#cp02)" fill="none" stroke-width="3.5" stroke-linejoin="round" stroke-linecap="round"><path d="M930.3 203.3L931.8 203.5 933.3 203.8 934.8 204.1 936.3 204.4 937.8 204.7 939.3 205.0 940.8 205.3 942.3 205.6 943.8 205.9 945.3 206.1 946.8 206.3 948.3 206.5 949.8 206.6 951.3 206.7 952.8 206.7 954.3 206.7 955.8 206.7 957.3 206.6 958.8 206.5 960.3 206.4 961.8 206.3 963.3 206.1 964.8 206.0 966.3 205.9 967.8 205.7 969.3 205.6 970.8 205.5 972.3 205.4 973.8 205.4 975.3 205.3 976.8 205.2 978.3 205.1 979.8 205.0 981.3 204.9 982.8 204.9 984.3 204.8 985.8 204.7 987.3 204.6 988.8 204.5 990.3 204.4 991.8 204.3 993.3 204.3 994.8 204.2 996.3 204.1 997.8 204.0 999.3 203.9 1000.8 203.8 1002.3 203.8 1003.8 203.7 1005.3 203.6 1006.8 203.5 1008.3 203.4 1009.8 203.3 1011.3 203.3 1012.8 203.2 1014.3 203.1 1015.8 203.1 1017.3 203.0 1018.8 203.0 1020.3 202.9 1021.8 202.9 1023.3 202.8 1024.8 202.7 1026.3 202.6 1027.8 202.4 1029.3 202.3 1030.8 202.1 1032.3 201.9 1033.8 201.7 1035.3 201.5 1036.8 201.3 1038.3 201.0 1039.8 200.6 1041.3 200.2 1042.8 199.9 1044.3 199.5 1045.8 199.0 1047.3 198.0 1048.8 196.1 1050.3 193.3 1051.8 189.3 1053.3 184.3 1054.8 178.7 1056.3 172.8 1057.8 166.8 1059.3 160.9 1060.8 155.0 1062.3 149.3 1063.8 144.1 1065.3 139.6 1066.8 136.1 1068.3 133.5 1069.8 132.1 1071.3 131.9 1072.8 133.3 1074.3 136.5 1075.8 141.6 1077.3 148.8 1078.8 158.2 1080.3 170.0 1081.8 184.4 1083.3 201.0 1084.8 219.0 1086.3 237.0 1087.8 253.6 1089.3 267.3 1090.8 276.3 1092.3 279.3 1093.8 276.1 1095.3 268.1 1096.8 256.8 1098.3 243.5 1099.8 229.0 1101.3 214.4 1102.8 200.3 1104.3 186.9 1105.8 174.4 1107.3 162.8 1108.8 152.2 1110.3 142.7 1111.8 134.2 1113.3 127.0 1114.8 121.0 1116.3 116.7 1117.8 114.3 1119.3 114.2 1120.8 116.2 1122.3 120.0 1123.8 124.9 1125.3 130.5 1126.8 136.7 1128.3 143.1 1129.8 149.0 1131.3 153.9 1132.8 157.7 1134.3 160.5 1135.8 162.9 1137.3 164.9 1138.8 166.6 1140.3 168.1 1141.8 169.4 1143.3 170.5 1144.8 171.5 1146.3 172.3 1147.8 173.0 1149.3 173.7 1150.8 174.5 1152.3 175.4 1153.8 176.4 1155.3 177.7 1156.8 179.1 1158.3 180.5 1159.8 182.0 1161.3 183.4 1162.8 184.7 1164.3 185.8 1165.8 186.9 1167.3 187.8 1168.8 188.6 1170.3 189.4 1171.8 190.1 1173.3 190.7 1174.8 191.4 1176.3 192.0 1177.8 192.5 1179.3 193.0 1180.8 193.4 1182.3 193.5 1183.8 193.3 1185.3 192.8 1186.8 192.0 1188.3 191.1 1189.8 190.0 1191.3 188.9 1192.8 187.8 1194.3 186.6 1195.8 185.4 1197.3 184.3 1198.8 183.3 1200.3 182.7 1201.8 182.5 1203.3 182.7 1204.8 183.2 1206.3 184.1 1207.8 185.1 1209.3 186.2 1210.8 187.5 1212.3 189.0 1213.8 190.6 1215.3 192.2 1216.8 193.7 1218.3 195.2 1219.8 196.6 1221.3 197.9 1222.8 199.1 1224.3 200.2 1225.8 201.3 1227.3 202.3 1228.8 203.3 1230.3 204.3 1231.8 205.3 1233.3 206.2 1234.8 207.2 1236.3 208.1 1237.8 208.9 1239.3 209.8 1240.8 210.7 1242.3 211.5 1243.8 212.3 1245.3 213.1 1246.8 213.8 1248.3 214.6 1249.8 215.4 1251.3 216.2 1252.8 217.1 1254.3 218.0 1255.8 219.1 1257.3 220.2 1258.8 221.3 1260.3 222.5 1261.8 223.5 1263.3 224.5 1264.8 225.3 1266.3 225.9 1267.8 226.3 1269.3 226.4 1270.8 226.4 1272.3 226.1 1273.8 225.6 1275.3 224.9 1276.8 224.1 1278.3 223.1 1279.8 222.1 1281.3 221.1 1282.8 220.1 1284.3 219.3 1285.8 218.7 1287.3 218.1 1288.8 217.7 1289.3 217.6" stroke="#1a08d8"/><path d="M930.3 203.3L931.8 203.5 933.3 203.6 934.8 203.8 936.3 204.0 937.8 204.2 939.3 204.4 940.8 204.6 942.3 204.8 943.8 205.0 945.3 205.1 946.8 205.3 948.3 205.4 949.8 205.5 951.3 205.6 952.8 205.6 954.3 205.7 955.8 205.7 957.3 205.8 958.8 205.8 960.3 205.8 961.8 205.7 963.3 205.7 964.8 205.7 966.3 205.7 967.8 205.6 969.3 205.6 970.8 205.5 972.3 205.5 973.8 205.4 975.3 205.3 976.8 205.3 978.3 205.2 979.8 205.1 981.3 205.0 982.8 204.9 984.3 204.8 985.8 204.7 987.3 204.6 988.8 204.5 990.3 204.4 991.8 204.3 993.3 204.2 994.8 204.2 996.3 204.1 997.8 204.0 999.3 203.9 1000.8 203.8 1002.3 203.7 1003.8 203.6 1005.3 203.6 1006.8 203.5 1008.3 203.4 1009.8 203.3 1011.3 203.2 1012.8 203.2 1014.3 203.1 1015.8 203.1 1017.3 203.0 1018.8 203.0 1020.3 202.9 1021.8 202.8 1023.3 202.8 1024.8 202.7 1026.3 202.6 1027.8 202.4 1029.3 202.2 1030.8 202.1 1032.3 201.9 1033.8 201.7 1035.3 201.5 1036.8 201.3 1038.3 201.0 1039.8 200.6 1041.3 200.2 1042.8 199.8 1044.3 199.5 1045.8 198.9 1047.3 197.9 1048.8 196.1 1050.3 193.2 1051.8 189.2 1053.3 184.2 1054.8 178.6 1056.3 172.6 1057.8 166.7 1059.3 160.7 1060.8 154.8 1062.3 149.1 1063.8 143.9 1065.3 139.2 1066.8 135.2 1068.3 132.1 1069.8 130.0 1071.3 129.5 1072.8 130.6 1074.3 133.7 1075.8 138.8 1077.3 146.1 1078.8 155.5 1080.3 167.5 1081.8 182.1 1083.3 199.3 1084.8 218.0 1086.3 236.8 1087.8 254.2 1089.3 268.6 1090.8 278.2 1092.3 281.5 1093.8 278.5 1095.3 270.5 1096.8 259.2 1098.3 245.8 1099.8 231.4 1101.3 216.8 1102.8 202.8 1104.3 189.8 1105.8 177.7 1107.3 166.5 1108.8 156.3 1110.3 147.1 1111.8 138.9 1113.3 131.8 1114.8 125.9 1116.3 121.6 1117.8 119.1 1119.3 118.8 1120.8 120.2 1122.3 123.2 1123.8 127.2 1125.3 131.9 1126.8 137.0 1128.3 142.3 1129.8 147.4 1131.3 151.9 1132.8 155.7 1134.3 158.9 1135.8 161.5 1137.3 163.7 1138.8 165.5 1140.3 167.0 1141.8 168.3 1143.3 169.5 1144.8 170.6 1146.3 171.6 1147.8 172.5 1149.3 173.4 1150.8 174.3 1152.3 175.2 1153.8 176.3 1155.3 177.5 1156.8 178.7 1158.3 180.0 1159.8 181.2 1161.3 182.4 1162.8 183.6 1164.3 184.8 1165.8 185.8 1167.3 186.9 1168.8 187.9 1170.3 188.8 1171.8 189.7 1173.3 190.5 1174.8 191.2 1176.3 191.9 1177.8 192.5 1179.3 193.0 1180.8 193.3 1182.3 193.5 1183.8 193.3 1185.3 192.9 1186.8 192.3 1188.3 191.5 1189.8 190.7 1191.3 189.8 1192.8 189.0 1194.3 188.2 1195.8 187.5 1197.3 186.8 1198.8 186.2 1200.3 185.9 1201.8 185.8 1203.3 185.9 1204.8 186.3 1206.3 186.8 1207.8 187.6 1209.3 188.5 1210.8 189.6 1212.3 190.9 1213.8 192.4 1215.3 193.8 1216.8 195.2 1218.3 196.6 1219.8 197.8 1221.3 198.9 1222.8 199.9 1224.3 200.9 1225.8 201.8 1227.3 202.7 1228.8 203.6 1230.3 204.5 1231.8 205.4 1233.3 206.3 1234.8 207.1 1236.3 208.0 1237.8 208.9 1239.3 209.8 1240.8 210.8 1242.3 211.7 1243.8 212.6 1245.3 213.5 1246.8 214.5 1248.3 215.4 1249.8 216.4 1251.3 217.3 1252.8 218.3 1254.3 219.3 1255.8 220.3 1257.3 221.4 1258.8 222.5 1260.3 223.6 1261.8 224.5 1263.3 225.3 1264.8 226.0 1266.3 226.4 1267.8 226.6 1269.3 226.5 1270.8 226.1 1272.3 225.5 1273.8 224.6 1275.3 223.5 1276.8 222.1 1278.3 220.5 1279.8 218.9 1281.3 217.3 1282.8 216.0 1284.3 215.0 1285.8 214.3 1287.3 213.7 1288.8 213.3 1289.3 213.2" stroke="#86ee3e"/><path d="M930.3 202.7L931.8 202.9 933.3 203.1 934.8 203.4 936.3 203.7 937.8 204.0 939.3 204.3 940.8 204.6 942.3 204.9 943.8 205.2 945.3 205.4 946.8 205.6 948.3 205.8 949.8 205.9 951.3 206.0 952.8 206.1 954.3 206.1 955.8 206.1 957.3 206.1 958.8 206.1 960.3 206.0 961.8 205.9 963.3 205.8 964.8 205.7 966.3 205.6 967.8 205.5 969.3 205.4 970.8 205.3 972.3 205.1 973.8 205.0 975.3 204.8 976.8 204.7 978.3 204.5 979.8 204.4 981.3 204.2 982.8 204.1 984.3 203.9 985.8 203.8 987.3 203.7 988.8 203.7 990.3 203.7 991.8 203.7 993.3 203.7 994.8 203.7 996.3 203.7 997.8 203.8 999.3 203.8 1000.8 203.9 1002.3 203.9 1003.8 203.9 1005.3 203.9 1006.8 203.9 1008.3 203.9 1009.8 203.8 1011.3 203.7 1012.8 203.6 1014.3 203.5 1015.8 203.4 1017.3 203.2 1018.8 203.1 1020.3 202.9 1021.8 202.7 1023.3 202.5 1024.8 202.3 1026.3 202.1 1027.8 201.9 1029.3 201.7 1030.8 201.5 1032.3 201.3 1033.8 201.2 1035.3 201.0 1036.8 200.8 1038.3 200.5 1039.8 200.1 1041.3 199.6 1042.8 199.1 1044.3 198.5 1045.8 197.8 1047.3 196.4 1048.8 194.2 1050.3 190.7 1051.8 185.9 1053.3 180.0 1054.8 173.6 1056.3 167.0 1057.8 160.8 1059.3 154.9 1060.8 149.5 1062.3 144.6 1063.8 140.5 1065.3 137.2 1066.8 135.0 1068.3 133.9 1069.8 134.1 1071.3 135.6 1072.8 138.6 1074.3 143.3 1075.8 149.8 1077.3 157.8 1078.8 166.7 1080.3 176.1 1081.8 185.4 1083.3 194.4 1084.8 202.8 1086.3 210.4 1087.8 216.4 1089.3 220.3 1090.8 221.6 1092.3 220.2 1093.8 216.5 1095.3 211.0 1096.8 204.5 1098.3 197.2 1099.8 189.4 1101.3 181.4 1102.8 173.4 1104.3 165.8 1105.8 158.5 1107.3 151.5 1108.8 145.0 1110.3 139.1 1111.8 133.8 1113.3 129.2 1114.8 125.4 1116.3 122.8 1117.8 121.4 1119.3 121.3 1120.8 122.3 1122.3 124.0 1123.8 125.8 1125.3 127.4 1126.8 128.8 1128.3 130.1 1129.8 131.3 1131.3 132.4 1132.8 133.5 1134.3 134.4 1135.8 135.2 1137.3 135.8 1138.8 136.4 1140.3 137.0 1141.8 137.5 1143.3 138.0 1144.8 138.5 1146.3 139.0 1147.8 139.6 1149.3 140.2 1150.8 140.9 1152.3 141.7 1153.8 142.6 1155.3 143.7 1156.8 144.9 1158.3 146.3 1159.8 147.6 1161.3 148.8 1162.8 149.9 1164.3 150.9 1165.8 151.8 1167.3 152.6 1168.8 153.3 1170.3 154.0 1171.8 154.5 1173.3 155.0 1174.8 155.4 1176.3 155.8 1177.8 156.1 1179.3 156.2 1180.8 156.3 1182.3 156.2 1183.8 156.1 1185.3 156.0 1186.8 155.9 1188.3 156.0 1189.8 156.1 1191.3 156.3 1192.8 156.5 1194.3 156.8 1195.8 157.2 1197.3 157.6 1198.8 158.2 1200.3 158.8 1201.8 159.6 1203.3 160.5 1204.8 161.4 1206.3 162.5 1207.8 163.6 1209.3 164.7 1210.8 165.8 1212.3 166.9 1213.8 168.1 1215.3 169.3 1216.8 170.4 1218.3 171.6 1219.8 172.8 1221.3 174.0 1222.8 175.2 1224.3 176.4 1225.8 177.6 1227.3 178.7 1228.8 179.9 1230.3 180.9 1231.8 182.0 1233.3 183.0 1234.8 184.1 1236.3 185.1 1237.8 186.1 1239.3 187.0 1240.8 188.0 1242.3 189.0 1243.8 190.0 1245.3 191.0 1246.8 192.0 1248.3 193.0 1249.8 194.1 1251.3 195.2 1252.8 196.5 1254.3 197.9 1255.8 199.3 1257.3 200.7 1258.8 202.1 1260.3 203.4 1261.8 204.6 1263.3 205.6 1264.8 206.4 1266.3 206.9 1267.8 207.2 1269.3 207.1 1270.8 206.7 1272.3 206.1 1273.8 205.3 1275.3 204.3 1276.8 203.3 1278.3 202.2 1279.8 201.2 1281.3 200.6 1282.8 200.4 1284.3 200.6 1285.8 201.2 1287.3 201.9 1288.8 202.5 1289.3 202.7" stroke="#000000"/><path d="M930.3 202.7L931.8 202.8 933.3 203.0 934.8 203.3 936.3 203.5 937.8 203.8 939.3 204.1 940.8 204.3 942.3 204.6 943.8 204.8 945.3 205.0 946.8 205.2 948.3 205.3 949.8 205.5 951.3 205.6 952.8 205.7 954.3 205.7 955.8 205.8 957.3 205.8 958.8 205.8 960.3 205.8 961.8 205.8 963.3 205.8 964.8 205.7 966.3 205.7 967.8 205.6 969.3 205.6 970.8 205.5 972.3 205.4 973.8 205.4 975.3 205.3 976.8 205.2 978.3 205.1 979.8 204.9 981.3 204.8 982.8 204.7 984.3 204.6 985.8 204.4 987.3 204.3 988.8 204.1 990.3 204.0 991.8 203.8 993.3 203.6 994.8 203.5 996.3 203.4 997.8 203.4 999.3 203.3 1000.8 203.4 1002.3 203.5 1003.8 203.6 1005.3 203.8 1006.8 203.9 1008.3 204.0 1009.8 204.0 1011.3 204.0 1012.8 203.9 1014.3 203.9 1015.8 203.7 1017.3 203.6 1018.8 203.4 1020.3 203.3 1021.8 203.1 1023.3 202.8 1024.8 202.6 1026.3 202.4 1027.8 202.2 1029.3 201.9 1030.8 201.7 1032.3 201.5 1033.8 201.4 1035.3 201.2 1036.8 200.9 1038.3 200.6 1039.8 200.3 1041.3 199.9 1042.8 199.4 1044.3 199.0 1045.8 198.4 1047.3 197.2 1048.8 195.1 1050.3 191.9 1051.8 187.3 1053.3 181.7 1054.8 175.4 1056.3 168.9 1057.8 162.6 1059.3 156.5 1060.8 150.8 1062.3 145.4 1063.8 140.8 1065.3 137.2 1066.8 134.7 1068.3 133.7 1069.8 134.1 1071.3 136.2 1072.8 139.8 1074.3 145.3 1075.8 152.4 1077.3 160.9 1078.8 170.3 1080.3 180.0 1081.8 189.5 1083.3 198.6 1084.8 207.1 1086.3 214.6 1087.8 220.6 1089.3 224.7 1090.8 226.4 1092.3 225.5 1093.8 222.1 1095.3 216.7 1096.8 210.0 1098.3 202.3 1099.8 193.8 1101.3 185.1 1102.8 176.5 1104.3 168.3 1105.8 160.8 1107.3 153.7 1108.8 147.3 1110.3 141.6 1111.8 136.7 1113.3 132.6 1114.8 129.3 1116.3 126.9 1117.8 125.3 1119.3 124.6 1120.8 124.8 1122.3 125.6 1123.8 126.9 1125.3 128.4 1126.8 130.0 1128.3 131.7 1129.8 133.5 1131.3 135.2 1132.8 136.7 1134.3 138.1 1135.8 139.2 1137.3 140.1 1138.8 140.8 1140.3 141.4 1141.8 141.9 1143.3 142.2 1144.8 142.5 1146.3 142.6 1147.8 142.6 1149.3 142.7 1150.8 143.0 1152.3 143.3 1153.8 143.9 1155.3 144.7 1156.8 145.7 1158.3 146.8 1159.8 147.9 1161.3 149.0 1162.8 150.0 1164.3 151.1 1165.8 152.1 1167.3 153.1 1168.8 154.1 1170.3 155.0 1171.8 155.9 1173.3 156.6 1174.8 157.3 1176.3 157.8 1177.8 158.2 1179.3 158.5 1180.8 158.6 1182.3 158.6 1183.8 158.5 1185.3 158.3 1186.8 158.2 1188.3 158.2 1189.8 158.3 1191.3 158.4 1192.8 158.6 1194.3 158.8 1195.8 159.0 1197.3 159.3 1198.8 159.7 1200.3 160.1 1201.8 160.5 1203.3 161.0 1204.8 161.6 1206.3 162.2 1207.8 162.9 1209.3 163.7 1210.8 164.6 1212.3 165.6 1213.8 166.6 1215.3 167.8 1216.8 169.1 1218.3 170.4 1219.8 171.7 1221.3 173.1 1222.8 174.5 1224.3 175.9 1225.8 177.2 1227.3 178.5 1228.8 179.8 1230.3 181.0 1231.8 182.1 1233.3 183.3 1234.8 184.4 1236.3 185.5 1237.8 186.6 1239.3 187.6 1240.8 188.7 1242.3 189.8 1243.8 190.8 1245.3 191.9 1246.8 192.9 1248.3 194.0 1249.8 195.1 1251.3 196.3 1252.8 197.5 1254.3 198.9 1255.8 200.2 1257.3 201.6 1258.8 202.9 1260.3 204.1 1261.8 205.2 1263.3 206.2 1264.8 207.0 1266.3 207.5 1267.8 207.8 1269.3 207.8 1270.8 207.5 1272.3 207.0 1273.8 206.3 1275.3 205.5 1276.8 204.5 1278.3 203.5 1279.8 202.5 1281.3 201.7 1282.8 201.2 1284.3 201.2 1285.8 201.7 1287.3 202.4 1288.8 203.1 1289.3 203.3" stroke="#e41418"/></g><path d="M930.3 314.4V309.4M930.3 72.5V77.5M1010.1 314.4V309.4M1010.1 72.5V77.5M1089.9 314.4V309.4M1089.9 72.5V77.5M1169.6 314.4V309.4M1169.6 72.5V77.5M1249.4 314.4V309.4M1249.4 72.5V77.5M930.3 292.4H935.3M1289.3 292.4H1284.3M930.3 248.4H935.3M1289.3 248.4H1284.3M930.3 204.4H935.3M1289.3 204.4H1284.3M930.3 160.5H935.3M1289.3 160.5H1284.3M930.3 116.5H935.3M1289.3 116.5H1284.3M930.3 72.5H935.3M1289.3 72.5H1284.3" stroke="#262626" stroke-width="2.4" fill="none"/><rect x="930.3" y="72.5" width="359.0" height="241.9" fill="none" stroke="#262626" stroke-width="2.9"/><text x="930.3" y="334.8" font-size="14.6" font-weight="bold" text-anchor="middle" fill="#262626" stroke="#262626" stroke-width="0.3">-200</text><text x="1010.1" y="334.8" font-size="14.6" font-weight="bold" text-anchor="middle" fill="#262626" stroke="#262626" stroke-width="0.3">0</text><text x="1089.9" y="334.8" font-size="14.6" font-weight="bold" text-anchor="middle" fill="#262626" stroke="#262626" stroke-width="0.3">200</text><text x="1169.6" y="334.8" font-size="14.6" font-weight="bold" text-anchor="middle" fill="#262626" stroke="#262626" stroke-width="0.3">400</text><text x="1249.4" y="334.8" font-size="14.6" font-weight="bold" text-anchor="middle" fill="#262626" stroke="#262626" stroke-width="0.3">600</text><text x="924.0" y="297.6" font-size="14.6" font-weight="bold" text-anchor="end" fill="#262626" stroke="#262626" stroke-width="0.3">-4</text><text x="924.0" y="253.6" font-size="14.6" font-weight="bold" text-anchor="end" fill="#262626" stroke="#262626" stroke-width="0.3">-2</text><text x="924.0" y="209.6" font-size="14.6" font-weight="bold" text-anchor="end" fill="#262626" stroke="#262626" stroke-width="0.3">0</text><text x="924.0" y="165.7" font-size="14.6" font-weight="bold" text-anchor="end" fill="#262626" stroke="#262626" stroke-width="0.3">2</text><text x="924.0" y="121.7" font-size="14.6" font-weight="bold" text-anchor="end" fill="#262626" stroke="#262626" stroke-width="0.3">4</text><text x="924.0" y="77.7" font-size="14.6" font-weight="bold" text-anchor="end" fill="#262626" stroke="#262626" stroke-width="0.3">6</text><text x="1109.8" y="354.8" font-size="15" font-weight="bold" text-anchor="middle" fill="#262626" stroke="#262626" stroke-width="0.3">time (ms)</text><text transform="translate(904.7 193.4) rotate(-90)" font-size="15" font-weight="bold" text-anchor="middle" fill="#262626" stroke="#262626" stroke-width="0.3">Amplitude (uV)</text><text x="1103.4" y="66.8" font-size="15" font-weight="bold" text-anchor="middle" fill="#000" stroke="#000" stroke-width="0.3">Comparison group P7</text></g>
<g><clipPath id="cp03"><rect x="1408.8" y="72.5" width="358.8" height="241.9"/></clipPath><g clip-path="url(#cp03)" fill="none" stroke-width="3.5" stroke-linejoin="round" stroke-linecap="round"><path d="M1408.8 201.8L1410.3 202.0 1411.8 202.3 1413.3 202.6 1414.8 202.9 1416.3 203.3 1417.8 203.6 1419.3 203.9 1420.8 204.3 1422.3 204.5 1423.8 204.8 1425.3 205.1 1426.8 205.3 1428.3 205.5 1429.8 205.6 1431.3 205.7 1432.8 205.8 1434.3 205.8 1435.8 205.9 1437.3 205.9 1438.8 205.9 1440.3 205.8 1441.8 205.8 1443.3 205.7 1444.8 205.7 1446.3 205.6 1447.8 205.6 1449.3 205.5 1450.8 205.5 1452.3 205.4 1453.8 205.3 1455.3 205.2 1456.8 205.1 1458.3 205.0 1459.8 204.9 1461.3 204.8 1462.8 204.7 1464.3 204.6 1465.8 204.6 1467.3 204.5 1468.8 204.4 1470.3 204.4 1471.8 204.4 1473.3 204.4 1474.8 204.4 1476.3 204.4 1477.8 204.4 1479.3 204.5 1480.8 204.5 1482.3 204.5 1483.8 204.5 1485.3 204.5 1486.8 204.5 1488.3 204.4 1489.8 204.4 1491.3 204.3 1492.8 204.3 1494.3 204.2 1495.8 204.1 1497.3 204.0 1498.8 203.9 1500.3 203.8 1501.8 203.7 1503.3 203.6 1504.8 203.5 1506.3 203.4 1507.8 203.3 1509.3 203.3 1510.8 203.4 1512.3 203.6 1513.8 203.8 1515.3 203.8 1516.8 203.7 1518.3 203.4 1519.8 203.0 1521.3 202.5 1522.8 201.8 1524.3 200.8 1525.8 199.2 1527.3 196.5 1528.8 192.3 1530.3 186.7 1531.8 179.8 1533.3 172.1 1534.8 163.9 1536.3 155.6 1537.8 147.4 1539.3 139.2 1540.8 131.2 1542.3 123.6 1543.8 116.6 1545.3 110.6 1546.8 105.9 1548.3 103.3 1549.8 103.8 1551.3 108.1 1552.8 116.4 1554.3 128.7 1555.8 144.8 1557.3 163.9 1558.8 184.7 1560.3 206.0 1561.8 226.9 1563.3 247.1 1564.8 265.7 1566.3 281.6 1567.8 293.4 1569.3 300.1 1570.8 300.8 1572.3 295.7 1573.8 285.7 1575.3 272.5 1576.8 257.3 1578.3 240.9 1579.8 223.6 1581.3 206.1 1582.8 189.1 1584.3 172.9 1585.8 157.7 1587.3 143.5 1588.8 130.2 1590.3 118.3 1591.8 107.7 1593.3 98.8 1594.8 91.7 1596.3 87.1 1597.8 85.7 1599.3 87.4 1600.8 91.6 1602.3 97.1 1603.8 102.8 1605.3 108.2 1606.8 113.2 1608.3 118.0 1609.8 122.4 1611.3 126.4 1612.8 130.0 1614.3 133.2 1615.8 136.0 1617.3 138.6 1618.8 140.8 1620.3 142.7 1621.8 144.3 1623.3 145.5 1624.8 146.5 1626.3 147.3 1627.8 148.0 1629.3 148.7 1630.8 149.5 1632.3 150.4 1633.8 151.4 1635.3 152.5 1636.8 153.6 1638.3 154.7 1639.8 155.8 1641.3 156.9 1642.8 158.0 1644.3 158.9 1645.8 159.8 1647.3 160.6 1648.8 161.2 1650.3 161.8 1651.8 162.2 1653.3 162.6 1654.8 162.9 1656.3 163.2 1657.8 163.5 1659.3 163.7 1660.8 163.9 1662.3 164.1 1663.8 164.4 1665.3 164.6 1666.8 164.9 1668.3 165.1 1669.8 165.3 1671.3 165.6 1672.8 165.9 1674.3 166.3 1675.8 166.7 1677.3 167.3 1678.8 167.9 1680.3 168.6 1681.8 169.4 1683.3 170.2 1684.8 171.2 1686.3 172.3 1687.8 173.5 1689.3 174.8 1690.8 176.3 1692.3 177.8 1693.8 179.4 1695.3 181.0 1696.8 182.6 1698.3 184.2 1699.8 185.8 1701.3 187.4 1702.8 188.9 1704.3 190.5 1705.8 192.0 1707.3 193.4 1708.8 194.9 1710.3 196.2 1711.8 197.5 1713.3 198.8 1714.8 200.0 1716.3 201.2 1717.8 202.3 1719.3 203.5 1720.8 204.7 1722.3 205.9 1723.8 207.1 1725.3 208.3 1726.8 209.5 1728.3 210.7 1729.8 212.0 1731.3 213.5 1732.8 215.1 1734.3 216.9 1735.8 218.8 1737.3 220.8 1738.8 222.8 1740.3 224.6 1741.8 226.2 1743.3 227.5 1744.8 228.3 1746.3 228.7 1747.8 228.6 1749.3 228.0 1750.8 227.0 1752.3 225.7 1753.8 224.4 1755.3 223.1 1756.8 222.0 1758.3 221.3 1759.8 221.0 1761.3 221.0 1762.8 221.4 1764.3 222.0 1765.8 222.6 1767.3 223.1 1767.5 223.1" stroke="#1a08d8"/><path d="M1408.8 202.2L1410.3 202.4 1411.8 202.6 1413.3 202.8 1414.8 203.0 1416.3 203.2 1417.8 203.5 1419.3 203.7 1420.8 203.9 1422.3 204.1 1423.8 204.3 1425.3 204.5 1426.8 204.7 1428.3 204.8 1429.8 204.9 1431.3 205.1 1432.8 205.2 1434.3 205.2 1435.8 205.3 1437.3 205.4 1438.8 205.4 1440.3 205.5 1441.8 205.5 1443.3 205.5 1444.8 205.6 1446.3 205.6 1447.8 205.5 1449.3 205.5 1450.8 205.5 1452.3 205.4 1453.8 205.4 1455.3 205.3 1456.8 205.2 1458.3 205.1 1459.8 205.0 1461.3 204.8 1462.8 204.7 1464.3 204.6 1465.8 204.6 1467.3 204.5 1468.8 204.4 1470.3 204.4 1471.8 204.4 1473.3 204.4 1474.8 204.4 1476.3 204.4 1477.8 204.4 1479.3 204.5 1480.8 204.5 1482.3 204.5 1483.8 204.5 1485.3 204.5 1486.8 204.5 1488.3 204.4 1489.8 204.4 1491.3 204.3 1492.8 204.3 1494.3 204.2 1495.8 204.1 1497.3 204.0 1498.8 203.9 1500.3 203.8 1501.8 203.7 1503.3 203.6 1504.8 203.5 1506.3 203.4 1507.8 203.3 1509.3 203.3 1510.8 203.4 1512.3 203.6 1513.8 203.8 1515.3 203.8 1516.8 203.7 1518.3 203.4 1519.8 203.0 1521.3 202.4 1522.8 201.8 1524.3 200.8 1525.8 199.1 1527.3 196.4 1528.8 192.4 1530.3 186.9 1531.8 180.1 1533.3 172.5 1534.8 164.5 1536.3 156.3 1537.8 148.2 1539.3 140.1 1540.8 132.1 1542.3 124.4 1543.8 117.2 1545.3 110.8 1546.8 105.5 1548.3 101.8 1549.8 100.8 1551.3 103.5 1552.8 110.3 1554.3 121.5 1555.8 137.0 1557.3 156.1 1558.8 177.6 1560.3 200.1 1561.8 222.4 1563.3 244.0 1564.8 264.0 1566.3 281.2 1567.8 294.2 1569.3 301.8 1570.8 303.2 1572.3 298.7 1573.8 289.4 1575.3 276.9 1576.8 262.6 1578.3 247.0 1579.8 230.6 1581.3 214.0 1582.8 197.8 1584.3 182.3 1585.8 167.8 1587.3 154.1 1588.8 141.4 1590.3 129.8 1591.8 119.5 1593.3 110.6 1594.8 103.4 1596.3 98.5 1597.8 96.7 1599.3 98.1 1600.8 102.2 1602.3 107.8 1603.8 113.8 1605.3 119.6 1606.8 125.0 1608.3 129.8 1609.8 134.0 1611.3 137.3 1612.8 139.8 1614.3 141.5 1615.8 142.6 1617.3 143.5 1618.8 144.2 1620.3 144.9 1621.8 145.6 1623.3 146.2 1624.8 146.7 1626.3 147.3 1627.8 147.8 1629.3 148.5 1630.8 149.2 1632.3 150.2 1633.8 151.3 1635.3 152.5 1636.8 153.8 1638.3 155.1 1639.8 156.3 1641.3 157.5 1642.8 158.5 1644.3 159.5 1645.8 160.4 1647.3 161.2 1648.8 162.0 1650.3 162.7 1651.8 163.3 1653.3 164.0 1654.8 164.5 1656.3 165.1 1657.8 165.6 1659.3 166.0 1660.8 166.5 1662.3 166.9 1663.8 167.3 1665.3 167.6 1666.8 167.9 1668.3 168.1 1669.8 168.4 1671.3 168.6 1672.8 169.0 1674.3 169.4 1675.8 169.9 1677.3 170.5 1678.8 171.3 1680.3 172.2 1681.8 173.1 1683.3 174.1 1684.8 175.2 1686.3 176.4 1687.8 177.7 1689.3 179.1 1690.8 180.6 1692.3 182.2 1693.8 183.7 1695.3 185.3 1696.8 186.9 1698.3 188.5 1699.8 190.1 1701.3 191.6 1702.8 193.2 1704.3 194.8 1705.8 196.3 1707.3 197.8 1708.8 199.2 1710.3 200.5 1711.8 201.8 1713.3 203.1 1714.8 204.3 1716.3 205.5 1717.8 206.7 1719.3 207.9 1720.8 209.1 1722.3 210.3 1723.8 211.5 1725.3 212.7 1726.8 213.9 1728.3 215.1 1729.8 216.4 1731.3 217.8 1732.8 219.2 1734.3 220.8 1735.8 222.5 1737.3 224.3 1738.8 225.9 1740.3 227.5 1741.8 228.8 1743.3 229.9 1744.8 230.6 1746.3 230.9 1747.8 230.8 1749.3 230.2 1750.8 229.4 1752.3 228.4 1753.8 227.4 1755.3 226.5 1756.8 225.8 1758.3 225.4 1759.8 225.3 1761.3 225.3 1762.8 225.5 1764.3 225.9 1765.8 226.2 1767.3 226.4 1767.5 226.4" stroke="#86ee3e"/><path d="M1408.8 201.6L1410.3 201.8 1411.8 202.1 1413.3 202.4 1414.8 202.7 1416.3 203.1 1417.8 203.4 1419.3 203.7 1420.8 204.0 1422.3 204.4 1423.8 204.7 1425.3 205.0 1426.8 205.4 1428.3 205.7 1429.8 206.1 1431.3 206.4 1432.8 206.7 1434.3 206.9 1435.8 207.1 1437.3 207.1 1438.8 207.0 1440.3 206.8 1441.8 206.6 1443.3 206.3 1444.8 206.0 1446.3 205.8 1447.8 205.5 1449.3 205.3 1450.8 205.2 1452.3 205.1 1453.8 205.0 1455.3 205.0 1456.8 204.9 1458.3 204.9 1459.8 204.9 1461.3 204.9 1462.8 204.9 1464.3 204.9 1465.8 204.9 1467.3 204.9 1468.8 204.9 1470.3 204.9 1471.8 204.9 1473.3 204.9 1474.8 204.9 1476.3 204.9 1477.8 204.9 1479.3 204.9 1480.8 204.9 1482.3 204.9 1483.8 204.8 1485.3 204.7 1486.8 204.6 1488.3 204.4 1489.8 204.2 1491.3 204.0 1492.8 203.7 1494.3 203.4 1495.8 203.1 1497.3 202.8 1498.8 202.5 1500.3 202.1 1501.8 201.8 1503.3 201.5 1504.8 201.2 1506.3 200.9 1507.8 200.6 1509.3 200.5 1510.8 200.5 1512.3 200.8 1513.8 201.2 1515.3 201.7 1516.8 202.0 1518.3 202.1 1519.8 201.9 1521.3 201.4 1522.8 200.7 1524.3 199.6 1525.8 197.7 1527.3 194.7 1528.8 190.3 1530.3 184.4 1531.8 177.3 1533.3 169.4 1534.8 161.2 1536.3 152.8 1537.8 144.5 1539.3 136.3 1540.8 128.3 1542.3 121.0 1543.8 114.5 1545.3 109.3 1546.8 105.7 1548.3 104.4 1549.8 105.7 1551.3 109.8 1552.8 116.4 1554.3 125.3 1555.8 136.0 1557.3 147.9 1558.8 160.2 1560.3 172.3 1561.8 184.1 1563.3 195.0 1564.8 204.6 1566.3 211.9 1567.8 216.4 1569.3 217.6 1570.8 215.4 1572.3 210.4 1573.8 203.3 1575.3 195.0 1576.8 186.0 1578.3 176.4 1579.8 166.6 1581.3 156.9 1582.8 147.7 1584.3 139.0 1585.8 130.8 1587.3 123.2 1588.8 116.2 1590.3 110.1 1591.8 104.7 1593.3 100.3 1594.8 97.0 1596.3 95.0 1597.8 94.4 1599.3 95.0 1600.8 96.5 1602.3 98.4 1603.8 100.2 1605.3 101.9 1606.8 103.5 1608.3 105.0 1609.8 106.4 1611.3 107.6 1612.8 108.7 1614.3 109.6 1615.8 110.3 1617.3 110.9 1618.8 111.4 1620.3 111.8 1621.8 112.2 1623.3 112.7 1624.8 113.2 1626.3 113.7 1627.8 114.2 1629.3 114.7 1630.8 115.3 1632.3 115.8 1633.8 116.5 1635.3 117.2 1636.8 118.0 1638.3 118.9 1639.8 119.9 1641.3 120.9 1642.8 122.0 1644.3 123.0 1645.8 123.9 1647.3 124.7 1648.8 125.4 1650.3 126.0 1651.8 126.4 1653.3 126.7 1654.8 126.9 1656.3 127.1 1657.8 127.3 1659.3 127.5 1660.8 127.8 1662.3 128.2 1663.8 128.7 1665.3 129.2 1666.8 129.9 1668.3 130.6 1669.8 131.4 1671.3 132.2 1672.8 133.2 1674.3 134.2 1675.8 135.4 1677.3 136.8 1678.8 138.3 1680.3 140.0 1681.8 141.7 1683.3 143.5 1684.8 145.2 1686.3 147.0 1687.8 148.6 1689.3 150.2 1690.8 151.8 1692.3 153.3 1693.8 154.7 1695.3 156.1 1696.8 157.6 1698.3 159.0 1699.8 160.5 1701.3 162.0 1702.8 163.5 1704.3 165.1 1705.8 166.7 1707.3 168.4 1708.8 170.1 1710.3 171.8 1711.8 173.6 1713.3 175.3 1714.8 177.0 1716.3 178.7 1717.8 180.3 1719.3 181.9 1720.8 183.4 1722.3 184.8 1723.8 186.3 1725.3 187.6 1726.8 189.0 1728.3 190.3 1729.8 191.5 1731.3 192.8 1732.8 194.0 1734.3 195.2 1735.8 196.5 1737.3 197.7 1738.8 199.1 1740.3 200.4 1741.8 201.6 1743.3 202.7 1744.8 203.6 1746.3 204.2 1747.8 204.4 1749.3 204.3 1750.8 203.9 1752.3 203.3 1753.8 202.5 1755.3 201.6 1756.8 200.8 1758.3 200.2 1759.8 200.1 1761.3 200.4 1762.8 201.3 1764.3 202.5 1765.8 203.7 1767.3 204.7 1767.5 204.9" stroke="#000000"/><path d="M1408.8 201.1L1410.3 201.3 1411.8 201.4 1413.3 201.6 1414.8 201.8 1416.3 202.0 1417.8 202.3 1419.3 202.5 1420.8 202.7 1422.3 202.9 1423.8 203.2 1425.3 203.4 1426.8 203.7 1428.3 204.0 1429.8 204.3 1431.3 204.6 1432.8 204.8 1434.3 205.1 1435.8 205.4 1437.3 205.7 1438.8 205.9 1440.3 206.2 1441.8 206.4 1443.3 206.6 1444.8 206.8 1446.3 206.9 1447.8 207.1 1449.3 207.1 1450.8 207.1 1452.3 207.0 1453.8 206.9 1455.3 206.7 1456.8 206.5 1458.3 206.3 1459.8 206.1 1461.3 205.8 1462.8 205.6 1464.3 205.4 1465.8 205.2 1467.3 205.0 1468.8 204.9 1470.3 204.8 1471.8 204.8 1473.3 204.8 1474.8 204.8 1476.3 204.8 1477.8 204.9 1479.3 204.9 1480.8 204.9 1482.3 205.0 1483.8 205.0 1485.3 205.0 1486.8 204.9 1488.3 204.9 1489.8 204.8 1491.3 204.7 1492.8 204.5 1494.3 204.3 1495.8 204.2 1497.3 204.0 1498.8 203.8 1500.3 203.6 1501.8 203.5 1503.3 203.4 1504.8 203.3 1506.3 203.4 1507.8 203.5 1509.3 203.8 1510.8 204.1 1512.3 204.3 1513.8 204.4 1515.3 204.4 1516.8 204.1 1518.3 203.7 1519.8 203.1 1521.3 202.3 1522.8 201.5 1524.3 200.3 1525.8 198.4 1527.3 195.5 1528.8 191.3 1530.3 185.6 1531.8 178.7 1533.3 171.0 1534.8 162.9 1536.3 154.8 1537.8 146.7 1539.3 138.7 1540.8 130.9 1542.3 123.8 1543.8 117.5 1545.3 112.4 1546.8 108.9 1548.3 107.7 1549.8 109.1 1551.3 113.3 1552.8 120.0 1554.3 129.1 1555.8 140.1 1557.3 152.3 1558.8 165.0 1560.3 177.7 1561.8 189.9 1563.3 201.5 1564.8 211.7 1566.3 219.9 1567.8 225.3 1569.3 227.5 1570.8 226.3 1572.3 221.9 1573.8 215.3 1575.3 207.3 1576.8 198.5 1578.3 189.0 1579.8 179.2 1581.3 169.4 1582.8 159.9 1584.3 150.9 1585.8 142.4 1587.3 134.4 1588.8 127.0 1590.3 120.2 1591.8 114.3 1593.3 109.2 1594.8 105.1 1596.3 102.1 1597.8 100.3 1599.3 99.9 1600.8 100.6 1602.3 101.9 1603.8 103.5 1605.3 105.0 1606.8 106.3 1608.3 107.6 1609.8 108.8 1611.3 110.0 1612.8 111.2 1614.3 112.4 1615.8 113.5 1617.3 114.5 1618.8 115.4 1620.3 116.1 1621.8 116.5 1623.3 116.8 1624.8 116.9 1626.3 117.0 1627.8 117.1 1629.3 117.4 1630.8 118.0 1632.3 118.7 1633.8 119.6 1635.3 120.7 1636.8 121.8 1638.3 122.9 1639.8 124.0 1641.3 125.1 1642.8 126.2 1644.3 127.3 1645.8 128.4 1647.3 129.6 1648.8 130.7 1650.3 131.8 1651.8 132.8 1653.3 133.8 1654.8 134.6 1656.3 135.4 1657.8 136.0 1659.3 136.5 1660.8 136.8 1662.3 137.2 1663.8 137.4 1665.3 137.7 1666.8 138.1 1668.3 138.5 1669.8 139.0 1671.3 139.7 1672.8 140.5 1674.3 141.4 1675.8 142.5 1677.3 143.6 1678.8 144.8 1680.3 146.1 1681.8 147.5 1683.3 148.9 1684.8 150.3 1686.3 151.8 1687.8 153.3 1689.3 154.8 1690.8 156.4 1692.3 158.1 1693.8 159.8 1695.3 161.5 1696.8 163.2 1698.3 165.0 1699.8 166.7 1701.3 168.4 1702.8 170.1 1704.3 171.7 1705.8 173.2 1707.3 174.7 1708.8 176.2 1710.3 177.7 1711.8 179.1 1713.3 180.6 1714.8 182.0 1716.3 183.5 1717.8 185.0 1719.3 186.5 1720.8 188.0 1722.3 189.6 1723.8 191.2 1725.3 192.8 1726.8 194.5 1728.3 196.1 1729.8 197.7 1731.3 199.3 1732.8 200.8 1734.3 202.3 1735.8 203.9 1737.3 205.4 1738.8 207.0 1740.3 208.6 1741.8 210.1 1743.3 211.4 1744.8 212.4 1746.3 213.0 1747.8 213.2 1749.3 212.9 1750.8 212.2 1752.3 211.2 1753.8 210.1 1755.3 209.0 1756.8 208.1 1758.3 207.3 1759.8 206.8 1761.3 206.6 1762.8 207.0 1764.3 207.8 1765.8 208.9 1767.3 209.8 1767.5 209.9" stroke="#e41418"/></g><path d="M1408.8 314.4V309.4M1408.8 72.5V77.5M1488.5 314.4V309.4M1488.5 72.5V77.5M1568.3 314.4V309.4M1568.3 72.5V77.5M1648.0 314.4V309.4M1648.0 72.5V77.5M1727.7 314.4V309.4M1727.7 72.5V77.5M1408.8 292.4H1413.8M1767.6 292.4H1762.6M1408.8 248.4H1413.8M1767.6 248.4H1762.6M1408.8 204.4H1413.8M1767.6 204.4H1762.6M1408.8 160.5H1413.8M1767.6 160.5H1762.6M1408.8 116.5H1413.8M1767.6 116.5H1762.6M1408.8 72.5H1413.8M1767.6 72.5H1762.6" stroke="#262626" stroke-width="2.4" fill="none"/><rect x="1408.8" y="72.5" width="358.8" height="241.9" fill="none" stroke="#262626" stroke-width="2.9"/><text x="1408.8" y="334.8" font-size="14.6" font-weight="bold" text-anchor="middle" fill="#262626" stroke="#262626" stroke-width="0.3">-200</text><text x="1488.5" y="334.8" font-size="14.6" font-weight="bold" text-anchor="middle" fill="#262626" stroke="#262626" stroke-width="0.3">0</text><text x="1568.3" y="334.8" font-size="14.6" font-weight="bold" text-anchor="middle" fill="#262626" stroke="#262626" stroke-width="0.3">200</text><text x="1648.0" y="334.8" font-size="14.6" font-weight="bold" text-anchor="middle" fill="#262626" stroke="#262626" stroke-width="0.3">400</text><text x="1727.7" y="334.8" font-size="14.6" font-weight="bold" text-anchor="middle" fill="#262626" stroke="#262626" stroke-width="0.3">600</text><text x="1402.5" y="297.6" font-size="14.6" font-weight="bold" text-anchor="end" fill="#262626" stroke="#262626" stroke-width="0.3">-4</text><text x="1402.5" y="253.6" font-size="14.6" font-weight="bold" text-anchor="end" fill="#262626" stroke="#262626" stroke-width="0.3">-2</text><text x="1402.5" y="209.6" font-size="14.6" font-weight="bold" text-anchor="end" fill="#262626" stroke="#262626" stroke-width="0.3">0</text><text x="1402.5" y="165.7" font-size="14.6" font-weight="bold" text-anchor="end" fill="#262626" stroke="#262626" stroke-width="0.3">2</text><text x="1402.5" y="121.7" font-size="14.6" font-weight="bold" text-anchor="end" fill="#262626" stroke="#262626" stroke-width="0.3">4</text><text x="1402.5" y="77.7" font-size="14.6" font-weight="bold" text-anchor="end" fill="#262626" stroke="#262626" stroke-width="0.3">6</text><text x="1588.2" y="354.8" font-size="15" font-weight="bold" text-anchor="middle" fill="#262626" stroke="#262626" stroke-width="0.3">time (ms)</text><text transform="translate(1383.2 193.4) rotate(-90)" font-size="15" font-weight="bold" text-anchor="middle" fill="#262626" stroke="#262626" stroke-width="0.3">Amplitude (uV)</text><text x="1581.4" y="66.8" font-size="15" font-weight="bold" text-anchor="middle" fill="#000" stroke="#000" stroke-width="0.3">Comparison group P8</text></g>
<g><clipPath id="cp10"><rect x="38.0" y="386.5" width="360.0" height="241.9"/></clipPath><g clip-path="url(#cp10)" fill="none" stroke-width="3.5" stroke-linejoin="round" stroke-linecap="round"><path d="M38.0 531.6L39.5 531.6 41.0 531.5 42.5 531.5 44.0 531.6 45.5 531.7 47.0 531.9 48.5 532.3 50.0 532.8 51.5 533.4 53.0 534.2 54.5 534.9 56.0 535.7 57.5 536.5 59.0 537.2 60.5 537.9 62.0 538.4 63.5 538.8 65.0 539.0 66.5 539.1 68.0 539.0 69.5 538.7 71.0 538.3 72.5 537.9 74.0 537.5 75.5 537.0 77.0 536.7 78.5 536.3 80.0 536.1 81.5 535.8 83.0 535.6 84.5 535.4 86.0 535.3 87.5 535.1 89.0 535.0 90.5 534.9 92.0 534.8 93.5 534.7 95.0 534.6 96.5 534.5 98.0 534.4 99.5 534.4 101.0 534.3 102.5 534.3 104.0 534.3 105.5 534.3 107.0 534.4 108.5 534.4 110.0 534.4 111.5 534.4 113.0 534.3 114.5 534.3 116.0 534.2 117.5 534.0 119.0 533.8 120.5 533.5 122.0 533.2 123.5 532.8 125.0 532.6 126.5 532.5 128.0 532.6 129.5 533.0 131.0 533.5 132.5 534.2 134.0 534.9 135.5 535.6 137.0 536.0 138.5 536.3 140.0 536.3 141.5 536.2 143.0 535.9 144.5 535.5 146.0 535.1 147.5 534.6 149.0 534.1 150.5 533.7 152.0 533.5 153.5 533.1 155.0 532.4 156.5 530.9 158.0 528.4 159.5 525.0 161.0 520.6 162.5 515.6 164.0 510.1 165.5 504.4 167.0 498.7 168.5 493.3 170.0 488.4 171.5 483.9 173.0 480.0 174.5 476.6 176.0 473.7 177.5 471.5 179.0 470.3 180.5 470.5 182.0 472.6 183.5 477.1 185.0 484.2 186.5 493.6 188.0 504.6 189.5 516.5 191.0 528.6 192.5 540.4 194.0 551.3 195.5 560.8 197.0 568.2 198.5 572.9 200.0 574.4 201.5 572.4 203.0 567.2 204.5 559.5 206.0 550.0 207.5 539.2 209.0 528.2 210.5 517.7 212.0 508.4 213.5 500.6 215.0 494.1 216.5 488.6 218.0 484.1 219.5 480.6 221.0 477.9 222.5 476.1 224.0 475.1 225.5 474.9 227.0 475.4 228.5 476.6 230.0 478.3 231.5 480.5 233.0 483.1 234.5 485.9 236.0 488.7 237.5 491.3 239.0 493.3 240.5 494.9 242.0 496.2 243.5 497.1 245.0 497.9 246.5 498.3 248.0 498.6 249.5 498.5 251.0 498.2 252.5 497.6 254.0 496.8 255.5 495.9 257.0 494.9 258.5 493.9 260.0 492.9 261.5 492.1 263.0 491.4 264.5 490.9 266.0 490.7 267.5 490.7 269.0 491.0 270.5 491.5 272.0 492.0 273.5 492.5 275.0 492.8 276.5 492.8 278.0 492.5 279.5 491.9 281.0 491.1 282.5 490.0 284.0 488.9 285.5 487.6 287.0 486.4 288.5 485.3 290.0 484.3 291.5 483.3 293.0 482.5 294.5 481.7 296.0 481.0 297.5 480.4 299.0 479.9 300.5 479.6 302.0 479.5 303.5 479.6 305.0 479.9 306.5 480.4 308.0 481.1 309.5 481.9 311.0 482.7 312.5 483.6 314.0 484.5 315.5 485.4 317.0 486.2 318.5 487.0 320.0 487.7 321.5 488.4 323.0 489.1 324.5 489.8 326.0 490.5 327.5 491.1 329.0 491.8 330.5 492.5 332.0 493.2 333.5 493.9 335.0 494.7 336.5 495.5 338.0 496.3 339.5 497.1 341.0 498.0 342.5 498.8 344.0 499.8 345.5 500.7 347.0 501.6 348.5 502.6 350.0 503.6 351.5 504.5 353.0 505.4 354.5 506.4 356.0 507.3 357.5 508.1 359.0 509.0 360.5 509.9 362.0 510.7 363.5 511.5 365.0 512.4 366.5 513.2 368.0 514.0 369.5 514.8 371.0 515.6 372.5 516.3 374.0 517.0 375.5 517.7 377.0 518.3 378.5 518.9 380.0 519.5 381.5 520.0 383.0 520.5 384.5 520.9 386.0 521.4 387.5 521.8 389.0 522.1 390.5 522.5 392.0 522.9 393.5 523.3 395.0 523.6 396.5 523.9 398.0 524.2" stroke="#86ee3e"/><path d="M38.0 539.1L39.5 538.9 41.0 538.7 42.5 538.4 44.0 538.2 45.5 537.9 47.0 537.6 48.5 537.4 50.0 537.1 51.5 536.8 53.0 536.5 54.5 536.3 56.0 536.0 57.5 535.7 59.0 535.4 60.5 535.1 62.0 534.8 63.5 534.5 65.0 534.2 66.5 534.0 68.0 533.7 69.5 533.6 71.0 533.4 72.5 533.3 74.0 533.3 75.5 533.2 77.0 533.2 78.5 533.2 80.0 533.2 81.5 533.3 83.0 533.3 84.5 533.4 86.0 533.5 87.5 533.7 89.0 533.8 90.5 534.0 92.0 534.3 93.5 534.5 95.0 534.7 96.5 534.9 98.0 535.1 99.5 535.3 101.0 535.3 102.5 535.4 104.0 535.3 105.5 535.2 107.0 535.1 108.5 534.9 110.0 534.7 111.5 534.5 113.0 534.3 114.5 534.0 116.0 533.8 117.5 533.6 119.0 533.3 120.5 533.1 122.0 532.8 123.5 532.6 125.0 532.3 126.5 532.1 128.0 531.9 129.5 531.6 131.0 531.4 132.5 531.2 134.0 531.0 135.5 530.8 137.0 530.7 138.5 530.6 140.0 530.6 141.5 530.7 143.0 531.0 144.5 531.4 146.0 531.9 147.5 532.3 149.0 532.7 150.5 532.9 152.0 533.0 153.5 532.9 155.0 532.4 156.5 531.0 158.0 528.7 159.5 525.5 161.0 521.4 162.5 516.7 164.0 511.5 165.5 506.2 167.0 501.0 168.5 496.2 170.0 491.8 171.5 487.9 173.0 484.6 174.5 481.7 176.0 479.4 177.5 478.0 179.0 477.7 180.5 479.0 182.0 482.2 183.5 487.6 185.0 495.0 186.5 504.1 188.0 514.0 189.5 524.2 191.0 534.5 192.5 544.3 194.0 553.2 195.5 560.7 197.0 566.3 198.5 569.4 200.0 569.4 201.5 566.2 203.0 560.2 204.5 551.9 206.0 542.0 207.5 531.2 209.0 520.3 210.5 510.3 212.0 501.7 213.5 494.4 215.0 488.4 216.5 483.4 218.0 479.4 219.5 476.3 221.0 474.0 222.5 472.7 224.0 472.1 225.5 472.3 227.0 473.3 228.5 474.9 230.0 477.1 231.5 479.7 233.0 482.8 234.5 486.1 236.0 489.3 237.5 492.1 239.0 494.4 240.5 496.1 242.0 497.4 243.5 498.3 245.0 498.9 246.5 499.2 248.0 499.2 249.5 498.9 251.0 498.3 252.5 497.5 254.0 496.6 255.5 495.8 257.0 495.0 258.5 494.4 260.0 493.8 261.5 493.3 263.0 492.8 264.5 492.4 266.0 492.0 267.5 491.8 269.0 491.6 270.5 491.7 272.0 491.9 273.5 492.3 275.0 492.9 276.5 493.5 278.0 494.0 279.5 494.3 281.0 494.5 282.5 494.3 284.0 493.9 285.5 493.3 287.0 492.5 288.5 491.6 290.0 490.8 291.5 490.0 293.0 489.3 294.5 488.8 296.0 488.4 297.5 488.1 299.0 487.9 300.5 487.9 302.0 487.9 303.5 488.2 305.0 488.6 306.5 489.1 308.0 489.8 309.5 490.5 311.0 491.2 312.5 491.8 314.0 492.4 315.5 492.9 317.0 493.4 318.5 493.9 320.0 494.3 321.5 494.7 323.0 495.2 324.5 495.6 326.0 496.0 327.5 496.4 329.0 496.9 330.5 497.4 332.0 497.8 333.5 498.3 335.0 498.7 336.5 499.2 338.0 499.7 339.5 500.2 341.0 500.8 342.5 501.3 344.0 502.0 345.5 502.7 347.0 503.5 348.5 504.3 350.0 505.2 351.5 506.2 353.0 507.2 354.5 508.3 356.0 509.3 357.5 510.3 359.0 511.3 360.5 512.3 362.0 513.2 363.5 514.0 365.0 514.8 366.5 515.5 368.0 516.2 369.5 516.9 371.0 517.6 372.5 518.3 374.0 519.0 375.5 519.6 377.0 520.3 378.5 521.0 380.0 521.7 381.5 522.4 383.0 523.1 384.5 523.8 386.0 524.5 387.5 525.2 389.0 525.9 390.5 526.7 392.0 527.4 393.5 528.1 395.0 528.7 396.5 529.3 398.0 529.8" stroke="#e41418"/><path d="M38.0 535.4L39.5 535.4 41.0 535.6 42.5 535.7 44.0 535.9 45.5 536.0 47.0 536.1 48.5 536.3 50.0 536.3 51.5 536.4 53.0 536.3 54.5 536.2 56.0 536.1 57.5 535.8 59.0 535.5 60.5 535.2 62.0 534.8 63.5 534.5 65.0 534.1 66.5 533.9 68.0 533.7 69.5 533.5 71.0 533.5 72.5 533.5 74.0 533.7 75.5 533.9 77.0 534.1 78.5 534.4 80.0 534.6 81.5 534.9 83.0 535.1 84.5 535.2 86.0 535.3 87.5 535.4 89.0 535.4 90.5 535.4 92.0 535.4 93.5 535.3 95.0 535.2 96.5 535.1 98.0 534.9 99.5 534.7 101.0 534.5 102.5 534.3 104.0 534.0 105.5 533.7 107.0 533.4 108.5 533.1 110.0 532.7 111.5 532.2 113.0 531.7 114.5 531.0 116.0 530.2 117.5 529.4 119.0 528.6 120.5 528.1 122.0 527.9 123.5 528.1 125.0 528.7 126.5 529.5 128.0 530.3 129.5 531.1 131.0 531.6 132.5 532.0 134.0 532.2 135.5 532.3 137.0 532.4 138.5 532.4 140.0 532.5 141.5 532.6 143.0 532.8 144.5 533.1 146.0 533.3 147.5 533.5 149.0 533.6 150.5 533.6 152.0 533.5 153.5 533.2 155.0 532.5 156.5 531.0 158.0 528.5 159.5 525.1 161.0 520.9 162.5 516.0 164.0 510.7 165.5 505.3 167.0 499.9 168.5 494.9 170.0 490.4 171.5 486.4 173.0 482.9 174.5 480.0 176.0 477.6 177.5 476.2 179.0 475.9 180.5 477.1 182.0 480.3 183.5 485.7 185.0 493.1 186.5 502.2 188.0 512.2 189.5 522.7 191.0 533.2 192.5 543.3 194.0 552.6 195.5 560.5 197.0 566.7 198.5 570.6 200.0 571.6 201.5 569.5 203.0 564.5 204.5 557.3 206.0 548.3 207.5 538.2 209.0 527.8 210.5 518.0 212.0 509.3 213.5 501.9 215.0 495.7 216.5 490.6 218.0 486.4 219.5 483.0 221.0 480.5 222.5 478.8 224.0 477.9 225.5 477.7 227.0 478.2 228.5 479.3 230.0 480.9 231.5 483.1 233.0 485.6 234.5 488.3 236.0 490.9 237.5 493.2 239.0 495.0 240.5 496.3 242.0 497.2 243.5 497.8 245.0 498.1 246.5 498.1 248.0 497.9 249.5 497.4 251.0 496.6 252.5 495.7 254.0 494.7 255.5 493.9 257.0 493.1 258.5 492.6 260.0 492.2 261.5 492.0 263.0 492.0 264.5 492.0 266.0 492.2 267.5 492.4 269.0 492.6 270.5 492.9 272.0 493.1 273.5 493.3 275.0 493.4 276.5 493.5 278.0 493.5 279.5 493.4 281.0 493.3 282.5 493.1 284.0 492.9 285.5 492.6 287.0 492.3 288.5 492.0 290.0 491.8 291.5 491.5 293.0 491.3 294.5 491.1 296.0 490.9 297.5 490.8 299.0 490.7 300.5 490.6 302.0 490.5 303.5 490.5 305.0 490.5 306.5 490.5 308.0 490.5 309.5 490.5 311.0 490.6 312.5 490.8 314.0 490.9 315.5 491.2 317.0 491.5 318.5 491.8 320.0 492.2 321.5 492.7 323.0 493.2 324.5 493.8 326.0 494.4 327.5 495.1 329.0 495.8 330.5 496.5 332.0 497.2 333.5 497.9 335.0 498.7 336.5 499.4 338.0 500.0 339.5 500.7 341.0 501.4 342.5 502.0 344.0 502.7 345.5 503.3 347.0 504.0 348.5 504.7 350.0 505.4 351.5 506.1 353.0 506.8 354.5 507.6 356.0 508.4 357.5 509.2 359.0 510.1 360.5 511.0 362.0 512.0 363.5 513.0 365.0 514.0 366.5 515.0 368.0 516.0 369.5 517.0 371.0 518.0 372.5 518.9 374.0 519.7 375.5 520.5 377.0 521.2 378.5 521.8 380.0 522.4 381.5 523.0 383.0 523.5 384.5 524.0 386.0 524.5 387.5 525.0 389.0 525.4 390.5 525.9 392.0 526.3 393.5 526.8 395.0 527.2 396.5 527.6 398.0 527.9" stroke="#1a08d8"/><path d="M38.0 537.2L39.5 537.1 41.0 536.8 42.5 536.6 44.0 536.4 45.5 536.1 47.0 535.9 48.5 535.6 50.0 535.4 51.5 535.1 53.0 534.9 54.5 534.6 56.0 534.4 57.5 534.1 59.0 533.9 60.5 533.7 62.0 533.6 63.5 533.5 65.0 533.5 66.5 533.5 68.0 533.7 69.5 533.9 71.0 534.2 72.5 534.5 74.0 534.8 75.5 535.0 77.0 535.2 78.5 535.4 80.0 535.4 81.5 535.4 83.0 535.4 84.5 535.3 86.0 535.2 87.5 535.0 89.0 534.9 90.5 534.7 92.0 534.6 93.5 534.4 95.0 534.3 96.5 534.3 98.0 534.2 99.5 534.1 101.0 534.0 102.5 534.0 104.0 533.9 105.5 533.8 107.0 533.6 108.5 533.5 110.0 533.2 111.5 532.8 113.0 532.3 114.5 531.7 116.0 531.2 117.5 530.8 119.0 530.8 120.5 531.2 122.0 532.2 123.5 533.7 125.0 535.6 126.5 537.2 128.0 538.1 129.5 538.1 131.0 537.3 132.5 536.0 134.0 534.6 135.5 533.4 137.0 532.5 138.5 531.9 140.0 531.6 141.5 531.4 143.0 531.2 144.5 530.9 146.0 530.4 147.5 529.8 149.0 529.2 150.5 528.3 152.0 527.2 153.5 525.7 155.0 523.8 156.5 521.3 158.0 518.3 159.5 514.9 161.0 511.2 162.5 507.1 164.0 502.9 165.5 498.7 167.0 494.8 168.5 491.2 170.0 488.0 171.5 485.1 173.0 482.6 174.5 480.5 176.0 478.8 177.5 477.8 179.0 477.8 180.5 479.2 182.0 482.4 183.5 487.7 185.0 495.0 186.5 503.9 188.0 513.7 189.5 523.9 191.0 534.0 192.5 543.7 194.0 552.5 195.5 559.9 197.0 565.4 198.5 568.5 200.0 568.5 201.5 565.4 203.0 559.5 204.5 551.4 206.0 541.7 207.5 530.9 209.0 519.9 210.5 509.7 212.0 500.8 213.5 493.2 215.0 486.9 216.5 481.6 218.0 477.2 219.5 473.7 221.0 471.1 222.5 469.3 224.0 468.5 225.5 468.5 227.0 469.3 228.5 470.9 230.0 473.3 231.5 476.2 233.0 479.8 234.5 483.6 236.0 487.4 237.5 490.7 239.0 493.2 240.5 495.0 242.0 496.1 243.5 496.7 245.0 496.8 246.5 496.8 248.0 496.7 249.5 496.6 251.0 496.5 252.5 496.4 254.0 496.2 255.5 495.9 257.0 495.5 258.5 494.9 260.0 494.2 261.5 493.1 263.0 491.8 264.5 490.5 266.0 489.1 267.5 488.0 269.0 487.2 270.5 487.0 272.0 487.2 273.5 487.8 275.0 488.6 276.5 489.5 278.0 490.4 279.5 491.1 281.0 491.8 282.5 492.4 284.0 493.0 285.5 493.5 287.0 494.0 288.5 494.3 290.0 494.4 291.5 494.4 293.0 494.3 294.5 494.0 296.0 493.6 297.5 493.2 299.0 492.8 300.5 492.6 302.0 492.6 303.5 492.7 305.0 492.9 306.5 493.2 308.0 493.6 309.5 494.1 311.0 494.6 312.5 495.1 314.0 495.7 315.5 496.2 317.0 496.7 318.5 497.2 320.0 497.7 321.5 498.2 323.0 498.7 324.5 499.1 326.0 499.6 327.5 500.1 329.0 500.6 330.5 501.1 332.0 501.6 333.5 502.1 335.0 502.6 336.5 503.2 338.0 503.7 339.5 504.2 341.0 504.7 342.5 505.2 344.0 505.7 345.5 506.3 347.0 506.8 348.5 507.3 350.0 507.9 351.5 508.5 353.0 509.1 354.5 509.7 356.0 510.3 357.5 511.0 359.0 511.7 360.5 512.5 362.0 513.4 363.5 514.2 365.0 515.1 366.5 516.1 368.0 517.0 369.5 517.9 371.0 518.8 372.5 519.7 374.0 520.5 375.5 521.3 377.0 522.0 378.5 522.6 380.0 523.1 381.5 523.6 383.0 524.1 384.5 524.5 386.0 524.8 387.5 525.1 389.0 525.4 390.5 525.7 392.0 526.0 393.5 526.3 395.0 526.5 396.5 526.8 398.0 527.0" stroke="#e40ae8"/><path d="M38.0 537.2L39.5 537.3 41.0 537.3 42.5 537.4 44.0 537.4 45.5 537.5 47.0 537.4 48.5 537.3 50.0 537.1 51.5 536.8 53.0 536.4 54.5 535.9 56.0 535.3 57.5 534.7 59.0 534.0 60.5 533.4 62.0 532.9 63.5 532.5 65.0 532.3 66.5 532.2 68.0 532.3 69.5 532.4 71.0 532.7 72.5 533.1 74.0 533.4 75.5 533.8 77.0 534.1 78.5 534.4 80.0 534.6 81.5 534.8 83.0 535.0 84.5 535.2 86.0 535.3 87.5 535.5 89.0 535.6 90.5 535.8 92.0 536.0 93.5 536.3 95.0 536.6 96.5 536.9 98.0 537.3 99.5 537.6 101.0 537.9 102.5 538.0 104.0 538.0 105.5 537.9 107.0 537.7 108.5 537.4 110.0 537.0 111.5 536.6 113.0 536.1 114.5 535.5 116.0 534.8 117.5 534.1 119.0 533.3 120.5 532.4 122.0 531.5 123.5 530.6 125.0 530.0 126.5 529.6 128.0 529.5 129.5 529.6 131.0 529.9 132.5 530.2 134.0 530.5 135.5 530.7 137.0 530.8 138.5 531.0 140.0 531.1 141.5 531.2 143.0 531.4 144.5 531.7 146.0 532.0 147.5 532.5 149.0 533.1 150.5 533.7 152.0 534.1 153.5 534.1 155.0 533.8 156.5 532.8 158.0 530.8 159.5 527.5 161.0 523.2 162.5 518.1 164.0 512.6 165.5 506.9 167.0 501.4 168.5 496.3 170.0 491.8 171.5 487.8 173.0 484.4 174.5 481.6 176.0 479.5 177.5 478.5 179.0 478.8 180.5 480.6 182.0 484.4 183.5 490.1 185.0 497.4 186.5 505.8 188.0 514.8 189.5 523.9 191.0 532.9 192.5 541.4 194.0 548.9 195.5 555.1 197.0 559.5 198.5 561.4 200.0 560.6 201.5 556.9 203.0 550.8 204.5 542.9 206.0 533.7 207.5 523.8 209.0 514.1 210.5 505.4 212.0 497.9 213.5 491.7 215.0 486.5 216.5 482.2 218.0 478.8 219.5 476.2 221.0 474.3 222.5 473.3 224.0 473.0 225.5 473.5 227.0 474.6 228.5 476.2 230.0 478.4 231.5 481.1 233.0 484.1 234.5 487.3 236.0 490.4 237.5 493.1 239.0 495.4 240.5 497.1 242.0 498.4 243.5 499.3 245.0 499.9 246.5 500.1 248.0 499.9 249.5 499.4 251.0 498.6 252.5 497.7 254.0 496.7 255.5 495.8 257.0 494.8 258.5 493.9 260.0 493.0 261.5 492.2 263.0 491.5 264.5 491.0 266.0 490.7 267.5 490.7 269.0 491.1 270.5 491.7 272.0 492.5 273.5 493.3 275.0 493.9 276.5 494.3 278.0 494.4 279.5 494.2 281.0 493.8 282.5 493.1 284.0 492.3 285.5 491.4 287.0 490.5 288.5 489.7 290.0 488.9 291.5 488.1 293.0 487.3 294.5 486.5 296.0 485.7 297.5 485.1 299.0 484.6 300.5 484.3 302.0 484.2 303.5 484.4 305.0 484.8 306.5 485.4 308.0 486.2 309.5 487.0 311.0 487.9 312.5 488.7 314.0 489.5 315.5 490.3 317.0 491.0 318.5 491.8 320.0 492.5 321.5 493.2 323.0 493.9 324.5 494.6 326.0 495.2 327.5 495.8 329.0 496.4 330.5 497.0 332.0 497.5 333.5 498.0 335.0 498.5 336.5 499.0 338.0 499.5 339.5 500.0 341.0 500.6 342.5 501.1 344.0 501.6 345.5 502.1 347.0 502.6 348.5 503.1 350.0 503.7 351.5 504.4 353.0 505.2 354.5 506.3 356.0 507.5 357.5 508.9 359.0 510.4 360.5 511.9 362.0 513.4 363.5 514.8 365.0 516.1 366.5 517.0 368.0 517.8 369.5 518.3 371.0 518.6 372.5 518.8 374.0 519.0 375.5 519.0 377.0 519.1 378.5 519.3 380.0 519.5 381.5 519.9 383.0 520.3 384.5 520.9 386.0 521.6 387.5 522.3 389.0 523.0 390.5 523.8 392.0 524.6 393.5 525.4 395.0 526.2 396.5 526.9 398.0 527.4" stroke="#000000"/></g><path d="M38.0 628.4V623.4M38.0 386.5V391.5M118.0 628.4V623.4M118.0 386.5V391.5M198.0 628.4V623.4M198.0 386.5V391.5M278.0 628.4V623.4M278.0 386.5V391.5M358.0 628.4V623.4M358.0 386.5V391.5M38.0 609.8H43.0M398.0 609.8H393.0M38.0 572.6H43.0M398.0 572.6H393.0M38.0 535.4H43.0M398.0 535.4H393.0M38.0 498.1H43.0M398.0 498.1H393.0M38.0 460.9H43.0M398.0 460.9H393.0M38.0 423.7H43.0M398.0 423.7H393.0M38.0 386.5H43.0M398.0 386.5H393.0" stroke="#262626" stroke-width="2.4" fill="none"/><rect x="38.0" y="386.5" width="360.0" height="241.9" fill="none" stroke="#262626" stroke-width="2.9"/><text x="38.0" y="648.8" font-size="14.6" font-weight="bold" text-anchor="middle" fill="#262626" stroke="#262626" stroke-width="0.3">-200</text><text x="118.0" y="648.8" font-size="14.6" font-weight="bold" text-anchor="middle" fill="#262626" stroke="#262626" stroke-width="0.3">0</text><text x="198.0" y="648.8" font-size="14.6" font-weight="bold" text-anchor="middle" fill="#262626" stroke="#262626" stroke-width="0.3">200</text><text x="278.0" y="648.8" font-size="14.6" font-weight="bold" text-anchor="middle" fill="#262626" stroke="#262626" stroke-width="0.3">400</text><text x="358.0" y="648.8" font-size="14.6" font-weight="bold" text-anchor="middle" fill="#262626" stroke="#262626" stroke-width="0.3">600</text><text x="31.7" y="615.0" font-size="14.6" font-weight="bold" text-anchor="end" fill="#262626" stroke="#262626" stroke-width="0.3">-4</text><text x="31.7" y="577.8" font-size="14.6" font-weight="bold" text-anchor="end" fill="#262626" stroke="#262626" stroke-width="0.3">-2</text><text x="31.7" y="540.6" font-size="14.6" font-weight="bold" text-anchor="end" fill="#262626" stroke="#262626" stroke-width="0.3">0</text><text x="31.7" y="503.3" font-size="14.6" font-weight="bold" text-anchor="end" fill="#262626" stroke="#262626" stroke-width="0.3">2</text><text x="31.7" y="466.1" font-size="14.6" font-weight="bold" text-anchor="end" fill="#262626" stroke="#262626" stroke-width="0.3">4</text><text x="31.7" y="428.9" font-size="14.6" font-weight="bold" text-anchor="end" fill="#262626" stroke="#262626" stroke-width="0.3">6</text><text x="31.7" y="391.7" font-size="14.6" font-weight="bold" text-anchor="end" fill="#262626" stroke="#262626" stroke-width="0.3">8</text><text x="218.0" y="668.8" font-size="15" font-weight="bold" text-anchor="middle" fill="#262626" stroke="#262626" stroke-width="0.3">time (ms)</text><text transform="translate(12.4 507.4) rotate(-90)" font-size="15" font-weight="bold" text-anchor="middle" fill="#262626" stroke="#262626" stroke-width="0.3">Amplitude (uV)</text><text x="218.0" y="381.6" font-size="15" font-weight="bold" text-anchor="middle" fill="#000" stroke="#000" stroke-width="0.3">ADHD P7</text></g>
<g><clipPath id="cp11"><rect x="509.5" y="386.5" width="360.0" height="241.9"/></clipPath><g clip-path="url(#cp11)" fill="none" stroke-width="3.5" stroke-linejoin="round" stroke-linecap="round"><path d="M509.5 537.2L511.0 536.9 512.5 536.5 514.0 536.0 515.5 535.5 517.0 535.1 518.5 534.7 520.0 534.5 521.5 534.4 523.0 534.6 524.5 534.9 526.0 535.4 527.5 535.9 529.0 536.4 530.5 536.9 532.0 537.2 533.5 537.2 535.0 537.1 536.5 536.8 538.0 536.3 539.5 535.7 541.0 535.2 542.5 534.6 544.0 534.0 545.5 533.5 547.0 533.1 548.5 532.7 550.0 532.4 551.5 532.1 553.0 531.8 554.5 531.6 556.0 531.6 557.5 531.7 559.0 531.9 560.5 532.4 562.0 532.9 563.5 533.5 565.0 534.1 566.5 534.7 568.0 535.1 569.5 535.3 571.0 535.4 572.5 535.3 574.0 535.1 575.5 534.9 577.0 534.6 578.5 534.2 580.0 533.9 581.5 533.6 583.0 533.3 584.5 533.0 586.0 532.8 587.5 532.5 589.0 532.2 590.5 532.0 592.0 531.8 593.5 531.7 595.0 531.6 596.5 531.5 598.0 531.5 599.5 531.5 601.0 531.5 602.5 531.6 604.0 531.6 605.5 531.7 607.0 531.7 608.5 531.8 610.0 532.0 611.5 532.1 613.0 532.1 614.5 532.0 616.0 531.9 617.5 531.7 619.0 531.5 620.5 531.2 622.0 530.8 623.5 530.2 625.0 529.2 626.5 527.6 628.0 525.6 629.5 523.0 631.0 519.7 632.5 515.6 634.0 510.4 635.5 504.2 637.0 497.3 638.5 490.2 640.0 483.3 641.5 477.0 643.0 471.2 644.5 465.9 646.0 461.2 647.5 457.3 649.0 454.5 650.5 453.5 652.0 454.7 653.5 458.5 655.0 465.0 656.5 474.3 658.0 485.8 659.5 499.0 661.0 513.3 662.5 528.1 664.0 542.8 665.5 557.0 667.0 570.0 668.5 581.2 670.0 589.5 671.5 593.7 673.0 593.5 674.5 589.1 676.0 581.5 677.5 571.4 679.0 559.4 680.5 546.2 682.0 532.5 683.5 518.8 685.0 505.3 686.5 492.3 688.0 480.1 689.5 469.0 691.0 459.2 692.5 450.7 694.0 443.7 695.5 438.1 697.0 434.2 698.5 431.8 700.0 431.0 701.5 431.7 703.0 433.5 704.5 436.1 706.0 439.1 707.5 442.4 709.0 445.6 710.5 448.7 712.0 451.3 713.5 453.4 715.0 455.0 716.5 456.3 718.0 457.4 719.5 458.4 721.0 459.2 722.5 459.8 724.0 460.4 725.5 460.7 727.0 460.9 728.5 461.0 730.0 460.8 731.5 460.5 733.0 460.0 734.5 459.6 736.0 459.3 737.5 459.1 739.0 459.1 740.5 459.2 742.0 459.5 743.5 459.8 745.0 460.2 746.5 460.5 748.0 460.7 749.5 460.9 751.0 461.0 752.5 460.9 754.0 460.9 755.5 460.7 757.0 460.5 758.5 460.3 760.0 460.1 761.5 459.8 763.0 459.5 764.5 459.2 766.0 458.8 767.5 458.3 769.0 457.7 770.5 457.0 772.0 456.3 773.5 455.7 775.0 455.3 776.5 455.0 778.0 455.1 779.5 455.4 781.0 456.1 782.5 457.0 784.0 458.2 785.5 459.6 787.0 461.2 788.5 462.8 790.0 464.5 791.5 466.1 793.0 467.6 794.5 469.1 796.0 470.6 797.5 472.0 799.0 473.5 800.5 474.9 802.0 476.3 803.5 477.8 805.0 479.2 806.5 480.5 808.0 481.9 809.5 483.2 811.0 484.5 812.5 485.8 814.0 487.0 815.5 488.3 817.0 489.5 818.5 490.7 820.0 491.8 821.5 492.9 823.0 494.0 824.5 495.1 826.0 496.1 827.5 497.0 829.0 497.9 830.5 498.7 832.0 499.5 833.5 500.2 835.0 500.9 836.5 501.5 838.0 502.0 839.5 502.6 841.0 503.1 842.5 503.6 844.0 504.0 845.5 504.5 847.0 505.0 848.5 505.5 850.0 505.9 851.5 506.4 853.0 506.9 854.5 507.3 856.0 507.7 857.5 508.2 859.0 508.6 860.5 509.0 862.0 509.4 863.5 509.8 865.0 510.2 866.5 510.6 868.0 510.9 869.5 511.2" stroke="#86ee3e"/><path d="M509.5 535.4L511.0 535.6 512.5 535.8 514.0 536.1 515.5 536.4 517.0 536.7 518.5 536.9 520.0 537.1 521.5 537.2 523.0 537.3 524.5 537.3 526.0 537.2 527.5 537.1 529.0 537.0 530.5 536.8 532.0 536.5 533.5 536.2 535.0 535.9 536.5 535.4 538.0 534.9 539.5 534.4 541.0 533.8 542.5 533.4 544.0 532.9 545.5 532.6 547.0 532.4 548.5 532.3 550.0 532.2 551.5 532.2 553.0 532.2 554.5 532.3 556.0 532.4 557.5 532.6 559.0 532.9 560.5 533.3 562.0 533.7 563.5 534.1 565.0 534.6 566.5 534.9 568.0 535.2 569.5 535.4 571.0 535.4 572.5 535.2 574.0 535.0 575.5 534.7 577.0 534.4 578.5 534.1 580.0 533.8 581.5 533.5 583.0 533.3 584.5 533.1 586.0 532.9 587.5 532.8 589.0 532.7 590.5 532.6 592.0 532.5 593.5 532.6 595.0 532.8 596.5 533.0 598.0 533.3 599.5 533.5 601.0 533.5 602.5 533.4 604.0 533.1 605.5 532.7 607.0 532.1 608.5 531.6 610.0 531.0 611.5 530.5 613.0 530.1 614.5 529.8 616.0 529.6 617.5 529.5 619.0 529.3 620.5 529.0 622.0 528.7 623.5 528.3 625.0 527.5 626.5 526.3 628.0 524.5 629.5 521.9 631.0 518.4 632.5 514.0 634.0 508.4 635.5 501.7 637.0 494.4 638.5 486.9 640.0 479.8 641.5 473.2 643.0 467.1 644.5 461.7 646.0 456.9 647.5 453.0 649.0 450.4 650.5 449.8 652.0 451.6 653.5 456.1 655.0 463.4 656.5 473.4 658.0 485.5 659.5 499.0 661.0 513.5 662.5 528.4 664.0 543.1 665.5 557.1 667.0 569.8 668.5 580.3 670.0 587.5 671.5 590.4 673.0 588.5 674.5 582.6 676.0 573.5 677.5 561.9 679.0 548.5 680.5 534.1 682.0 519.4 683.5 504.8 685.0 490.6 686.5 477.1 688.0 464.8 689.5 453.7 691.0 444.1 692.5 436.0 694.0 429.6 695.5 424.9 697.0 422.0 698.5 420.9 700.0 421.4 701.5 423.3 703.0 426.1 704.5 429.4 706.0 433.1 707.5 436.8 709.0 440.5 710.5 443.9 712.0 447.1 713.5 450.0 715.0 452.4 716.5 454.3 718.0 455.4 719.5 455.9 721.0 455.8 722.5 455.3 724.0 454.6 725.5 453.8 727.0 453.1 728.5 452.4 730.0 451.8 731.5 451.2 733.0 450.8 734.5 450.7 736.0 450.8 737.5 451.3 739.0 452.1 740.5 453.1 742.0 454.3 743.5 455.5 745.0 456.7 746.5 457.7 748.0 458.5 749.5 459.0 751.0 459.2 752.5 459.1 754.0 458.7 755.5 458.1 757.0 457.3 758.5 456.4 760.0 455.5 761.5 454.6 763.0 453.8 764.5 453.1 766.0 452.7 767.5 452.4 769.0 452.5 770.5 452.7 772.0 453.2 773.5 453.9 775.0 454.6 776.5 455.5 778.0 456.5 779.5 457.5 781.0 458.6 782.5 459.7 784.0 461.0 785.5 462.4 787.0 463.8 788.5 465.4 790.0 466.9 791.5 468.4 793.0 469.9 794.5 471.3 796.0 472.6 797.5 473.8 799.0 474.8 800.5 475.7 802.0 476.5 803.5 477.2 805.0 477.9 806.5 478.5 808.0 479.1 809.5 479.8 811.0 480.4 812.5 481.0 814.0 481.7 815.5 482.4 817.0 483.1 818.5 483.8 820.0 484.5 821.5 485.2 823.0 485.9 824.5 486.6 826.0 487.3 827.5 488.0 829.0 488.7 830.5 489.4 832.0 490.2 833.5 490.9 835.0 491.6 836.5 492.3 838.0 493.1 839.5 493.8 841.0 494.5 842.5 495.2 844.0 495.9 845.5 496.6 847.0 497.3 848.5 497.9 850.0 498.6 851.5 499.2 853.0 499.8 854.5 500.4 856.0 501.0 857.5 501.5 859.0 502.1 860.5 502.6 862.0 503.2 863.5 503.7 865.0 504.3 866.5 504.8 868.0 505.2 869.5 505.6" stroke="#e41418"/><path d="M509.5 537.2L511.0 536.8 512.5 536.2 514.0 535.5 515.5 534.9 517.0 534.4 518.5 533.9 520.0 533.6 521.5 533.4 523.0 533.2 524.5 533.2 526.0 533.2 527.5 533.3 529.0 533.5 530.5 533.7 532.0 533.9 533.5 534.2 535.0 534.5 536.5 534.8 538.0 535.2 539.5 535.6 541.0 536.0 542.5 536.5 544.0 537.0 545.5 537.5 547.0 538.0 548.5 538.6 550.0 539.1 551.5 539.6 553.0 539.8 554.5 539.8 556.0 539.3 557.5 538.4 559.0 537.2 560.5 535.8 562.0 534.4 563.5 533.1 565.0 532.2 566.5 531.7 568.0 531.5 569.5 531.7 571.0 532.2 572.5 532.8 574.0 533.4 575.5 533.8 577.0 534.0 578.5 534.0 580.0 533.8 581.5 533.4 583.0 533.0 584.5 532.4 586.0 531.9 587.5 531.3 589.0 530.8 590.5 530.4 592.0 530.0 593.5 529.7 595.0 529.3 596.5 528.9 598.0 528.4 599.5 527.7 601.0 526.8 602.5 525.7 604.0 524.5 605.5 523.5 607.0 522.9 608.5 523.1 610.0 523.9 611.5 525.1 613.0 526.4 614.5 527.6 616.0 528.5 617.5 529.2 619.0 529.5 620.5 529.6 622.0 529.3 623.5 528.7 625.0 527.7 626.5 526.0 628.0 523.6 629.5 520.5 631.0 516.6 632.5 511.5 634.0 505.2 635.5 497.7 637.0 489.4 638.5 480.9 640.0 472.8 641.5 465.3 643.0 458.5 644.5 452.3 646.0 446.8 647.5 442.4 649.0 439.4 650.5 438.6 652.0 440.4 653.5 445.0 655.0 452.6 656.5 462.9 658.0 475.3 659.5 489.3 661.0 504.3 662.5 519.7 664.0 534.9 665.5 549.4 667.0 562.4 668.5 573.4 670.0 580.8 671.5 583.8 673.0 582.1 674.5 576.3 676.0 567.3 677.5 555.9 679.0 542.8 680.5 528.7 682.0 514.5 683.5 500.4 685.0 486.8 686.5 474.0 688.0 462.5 689.5 452.2 691.0 443.5 692.5 436.3 694.0 430.9 695.5 427.1 697.0 425.0 698.5 424.5 700.0 425.3 701.5 427.1 703.0 429.4 704.5 432.1 706.0 434.9 707.5 437.7 709.0 440.3 710.5 442.7 712.0 444.7 713.5 446.4 715.0 447.9 716.5 449.1 718.0 450.2 719.5 451.1 721.0 452.0 722.5 452.6 724.0 453.1 725.5 453.5 727.0 453.7 728.5 453.8 730.0 453.9 731.5 454.1 733.0 454.3 734.5 454.7 736.0 455.1 737.5 455.6 739.0 456.2 740.5 456.7 742.0 457.3 743.5 457.8 745.0 458.3 746.5 458.7 748.0 458.9 749.5 459.1 751.0 459.1 752.5 458.9 754.0 458.7 755.5 458.4 757.0 458.1 758.5 457.8 760.0 457.5 761.5 457.2 763.0 456.9 764.5 456.6 766.0 456.4 767.5 456.2 769.0 456.0 770.5 456.0 772.0 456.1 773.5 456.4 775.0 456.8 776.5 457.5 778.0 458.3 779.5 459.2 781.0 460.1 782.5 461.0 784.0 461.8 785.5 462.5 787.0 463.1 788.5 463.6 790.0 464.0 791.5 464.3 793.0 464.7 794.5 465.2 796.0 465.9 797.5 466.7 799.0 467.7 800.5 469.0 802.0 470.4 803.5 471.9 805.0 473.4 806.5 474.9 808.0 476.3 809.5 477.6 811.0 478.7 812.5 479.8 814.0 480.8 815.5 481.7 817.0 482.6 818.5 483.4 820.0 484.2 821.5 484.9 823.0 485.6 824.5 486.4 826.0 487.1 827.5 487.9 829.0 488.7 830.5 489.6 832.0 490.4 833.5 491.3 835.0 492.2 836.5 493.1 838.0 494.0 839.5 494.9 841.0 495.8 842.5 496.6 844.0 497.4 845.5 498.2 847.0 499.0 848.5 499.7 850.0 500.4 851.5 501.0 853.0 501.6 854.5 502.2 856.0 502.7 857.5 503.2 859.0 503.6 860.5 504.1 862.0 504.5 863.5 505.0 865.0 505.4 866.5 505.8 868.0 506.2 869.5 506.5" stroke="#1a08d8"/><path d="M509.5 539.1L511.0 538.9 512.5 538.7 514.0 538.5 515.5 538.2 517.0 538.0 518.5 537.7 520.0 537.5 521.5 537.4 523.0 537.2 524.5 537.1 526.0 537.0 527.5 536.9 529.0 536.8 530.5 536.7 532.0 536.5 533.5 536.3 535.0 535.9 536.5 535.5 538.0 535.0 539.5 534.4 541.0 533.9 542.5 533.4 544.0 533.0 545.5 532.6 547.0 532.3 548.5 532.0 550.0 531.8 551.5 531.7 553.0 531.6 554.5 531.5 556.0 531.6 557.5 531.7 559.0 531.9 560.5 532.2 562.0 532.6 563.5 533.0 565.0 533.5 566.5 533.9 568.0 534.2 569.5 534.4 571.0 534.5 572.5 534.5 574.0 534.4 575.5 534.3 577.0 534.1 578.5 533.9 580.0 533.7 581.5 533.5 583.0 533.3 584.5 533.1 586.0 532.9 587.5 532.7 589.0 532.4 590.5 532.1 592.0 531.8 593.5 531.5 595.0 531.1 596.5 530.7 598.0 530.2 599.5 529.8 601.0 529.4 602.5 529.1 604.0 528.9 605.5 528.9 607.0 529.0 608.5 529.3 610.0 529.8 611.5 530.2 613.0 530.7 614.5 531.1 616.0 531.5 617.5 531.7 619.0 531.7 620.5 531.5 622.0 530.9 623.5 530.1 625.0 528.8 626.5 527.1 628.0 524.8 629.5 522.0 631.0 518.4 632.5 513.9 634.0 508.3 635.5 501.5 637.0 494.1 638.5 486.6 640.0 479.3 641.5 472.6 643.0 466.5 644.5 460.9 646.0 456.1 647.5 452.1 649.0 449.5 650.5 448.9 652.0 450.7 653.5 455.2 655.0 462.5 656.5 472.4 658.0 484.5 659.5 498.1 661.0 512.6 662.5 527.5 664.0 542.2 665.5 556.1 667.0 568.8 668.5 579.4 670.0 586.6 671.5 589.4 673.0 587.6 674.5 581.8 676.0 572.8 677.5 561.3 679.0 548.0 680.5 533.9 682.0 519.4 683.5 505.1 685.0 491.2 686.5 478.1 688.0 466.2 689.5 455.6 691.0 446.4 692.5 438.8 694.0 432.9 695.5 428.7 697.0 426.2 698.5 425.5 700.0 426.2 701.5 428.2 703.0 430.9 704.5 434.0 706.0 437.3 707.5 440.8 709.0 444.2 710.5 447.7 712.0 451.0 713.5 454.2 715.0 457.0 716.5 459.3 718.0 461.0 719.5 461.9 721.0 462.3 722.5 462.2 724.0 461.7 725.5 460.9 727.0 459.8 728.5 458.3 730.0 456.6 731.5 454.8 733.0 453.3 734.5 452.2 736.0 451.6 737.5 451.5 739.0 452.1 740.5 453.0 742.0 454.2 743.5 455.6 745.0 457.0 746.5 458.2 748.0 459.2 749.5 459.8 751.0 460.2 752.5 460.2 754.0 460.1 755.5 459.7 757.0 459.3 758.5 458.8 760.0 458.3 761.5 457.8 763.0 457.5 764.5 457.3 766.0 457.2 767.5 457.2 769.0 457.3 770.5 457.4 772.0 457.6 773.5 457.8 775.0 458.2 776.5 458.6 778.0 459.2 779.5 459.9 781.0 460.8 782.5 461.8 784.0 463.1 785.5 464.5 787.0 466.1 788.5 467.8 790.0 469.6 791.5 471.3 793.0 473.1 794.5 474.7 796.0 476.2 797.5 477.6 799.0 478.8 800.5 479.9 802.0 480.9 803.5 481.8 805.0 482.7 806.5 483.5 808.0 484.3 809.5 485.1 811.0 485.8 812.5 486.6 814.0 487.3 815.5 488.1 817.0 488.7 818.5 489.4 820.0 490.0 821.5 490.7 823.0 491.3 824.5 492.0 826.0 492.7 827.5 493.5 829.0 494.5 830.5 495.5 832.0 496.7 833.5 498.1 835.0 499.5 836.5 501.0 838.0 502.5 839.5 503.9 841.0 505.1 842.5 506.2 844.0 506.9 845.5 507.4 847.0 507.5 848.5 507.4 850.0 507.0 851.5 506.6 853.0 506.5 854.5 506.7 856.0 507.1 857.5 507.7 859.0 508.4 860.5 509.3 862.0 510.3 863.5 511.4 865.0 512.4 866.5 513.4 868.0 514.3 869.5 514.9" stroke="#e40ae8"/><path d="M509.5 538.5L511.0 538.0 512.5 537.2 514.0 536.4 515.5 535.8 517.0 535.4 518.5 535.4 520.0 535.7 521.5 536.3 523.0 537.1 524.5 538.0 526.0 538.8 527.5 539.4 529.0 539.6 530.5 539.6 532.0 539.2 533.5 538.6 535.0 537.8 536.5 537.0 538.0 536.1 539.5 535.2 541.0 534.3 542.5 533.5 544.0 532.8 545.5 532.0 547.0 531.2 548.5 530.5 550.0 530.0 551.5 529.7 553.0 529.6 554.5 529.8 556.0 530.3 557.5 531.0 559.0 531.9 560.5 532.9 562.0 533.8 563.5 534.7 565.0 535.4 566.5 536.0 568.0 536.4 569.5 536.7 571.0 537.0 572.5 537.1 574.0 537.1 575.5 537.0 577.0 536.7 578.5 536.1 580.0 535.4 581.5 534.4 583.0 533.4 584.5 532.3 586.0 531.3 587.5 530.4 589.0 529.8 590.5 529.5 592.0 529.4 593.5 529.5 595.0 529.8 596.5 530.2 598.0 530.6 599.5 531.0 601.0 531.3 602.5 531.6 604.0 531.8 605.5 532.1 607.0 532.3 608.5 532.5 610.0 532.7 611.5 532.9 613.0 533.1 614.5 533.4 616.0 533.6 617.5 533.7 619.0 533.6 620.5 533.2 622.0 532.5 623.5 531.6 625.0 530.2 626.5 528.4 628.0 526.1 629.5 523.4 631.0 519.9 632.5 515.5 634.0 510.1 635.5 503.6 637.0 496.4 638.5 489.1 640.0 482.1 641.5 475.6 643.0 469.7 644.5 464.3 646.0 459.6 647.5 455.7 649.0 453.2 650.5 452.6 652.0 454.3 653.5 458.6 655.0 465.5 656.5 474.9 658.0 486.4 659.5 499.2 661.0 513.0 662.5 527.1 664.0 541.1 665.5 554.4 667.0 566.4 668.5 576.4 670.0 583.2 671.5 585.7 673.0 583.6 674.5 577.6 676.0 568.3 677.5 556.6 679.0 543.1 680.5 528.6 682.0 514.0 683.5 499.5 685.0 485.5 686.5 472.4 688.0 460.4 689.5 449.9 691.0 440.9 692.5 433.5 694.0 427.9 695.5 424.1 697.0 422.1 698.5 421.9 700.0 423.3 701.5 426.0 703.0 429.4 704.5 433.2 706.0 437.3 707.5 441.5 709.0 445.6 710.5 449.5 712.0 453.1 713.5 456.5 715.0 459.9 716.5 463.1 718.0 466.1 719.5 468.5 721.0 469.9 722.5 470.2 724.0 469.2 725.5 467.3 727.0 465.1 728.5 463.0 730.0 461.2 731.5 459.9 733.0 459.1 734.5 458.7 736.0 458.5 737.5 458.4 739.0 458.4 740.5 458.3 742.0 458.3 743.5 458.4 745.0 458.6 746.5 458.9 748.0 459.3 749.5 460.0 751.0 460.8 752.5 461.8 754.0 462.7 755.5 463.6 757.0 464.0 758.5 464.1 760.0 463.6 761.5 462.7 763.0 461.5 764.5 460.2 766.0 459.0 767.5 458.1 769.0 457.4 770.5 457.2 772.0 457.2 773.5 457.5 775.0 458.0 776.5 458.7 778.0 459.5 779.5 460.4 781.0 461.4 782.5 462.6 784.0 463.9 785.5 465.3 787.0 466.9 788.5 468.5 790.0 470.1 791.5 471.8 793.0 473.3 794.5 474.9 796.0 476.4 797.5 478.0 799.0 479.5 800.5 480.9 802.0 482.3 803.5 483.6 805.0 484.7 806.5 485.6 808.0 486.3 809.5 486.9 811.0 487.4 812.5 487.9 814.0 488.4 815.5 489.0 817.0 489.6 818.5 490.5 820.0 491.4 821.5 492.4 823.0 493.5 824.5 494.7 826.0 495.9 827.5 497.2 829.0 498.5 830.5 499.9 832.0 501.4 833.5 503.0 835.0 504.6 836.5 506.1 838.0 507.5 839.5 508.5 841.0 509.3 842.5 509.6 844.0 509.5 845.5 508.9 847.0 508.4 848.5 508.3 850.0 508.7 851.5 509.6 853.0 510.8 854.5 512.2 856.0 513.7 857.5 514.9 859.0 515.8 860.5 516.3 862.0 516.4 863.5 516.1 865.0 515.6 866.5 515.0 868.0 514.4 869.5 514.0" stroke="#000000"/></g><path d="M509.5 628.4V623.4M509.5 386.5V391.5M589.5 628.4V623.4M589.5 386.5V391.5M669.5 628.4V623.4M669.5 386.5V391.5M749.5 628.4V623.4M749.5 386.5V391.5M829.5 628.4V623.4M829.5 386.5V391.5M509.5 609.8H514.5M869.5 609.8H864.5M509.5 572.6H514.5M869.5 572.6H864.5M509.5 535.4H514.5M869.5 535.4H864.5M509.5 498.1H514.5M869.5 498.1H864.5M509.5 460.9H514.5M869.5 460.9H864.5M509.5 423.7H514.5M869.5 423.7H864.5M509.5 386.5H514.5M869.5 386.5H864.5" stroke="#262626" stroke-width="2.4" fill="none"/><rect x="509.5" y="386.5" width="360.0" height="241.9" fill="none" stroke="#262626" stroke-width="2.9"/><text x="509.5" y="648.8" font-size="14.6" font-weight="bold" text-anchor="middle" fill="#262626" stroke="#262626" stroke-width="0.3">-200</text><text x="589.5" y="648.8" font-size="14.6" font-weight="bold" text-anchor="middle" fill="#262626" stroke="#262626" stroke-width="0.3">0</text><text x="669.5" y="648.8" font-size="14.6" font-weight="bold" text-anchor="middle" fill="#262626" stroke="#262626" stroke-width="0.3">200</text><text x="749.5" y="648.8" font-size="14.6" font-weight="bold" text-anchor="middle" fill="#262626" stroke="#262626" stroke-width="0.3">400</text><text x="829.5" y="648.8" font-size="14.6" font-weight="bold" text-anchor="middle" fill="#262626" stroke="#262626" stroke-width="0.3">600</text><text x="503.2" y="615.0" font-size="14.6" font-weight="bold" text-anchor="end" fill="#262626" stroke="#262626" stroke-width="0.3">-4</text><text x="503.2" y="577.8" font-size="14.6" font-weight="bold" text-anchor="end" fill="#262626" stroke="#262626" stroke-width="0.3">-2</text><text x="503.2" y="540.6" font-size="14.6" font-weight="bold" text-anchor="end" fill="#262626" stroke="#262626" stroke-width="0.3">0</text><text x="503.2" y="503.3" font-size="14.6" font-weight="bold" text-anchor="end" fill="#262626" stroke="#262626" stroke-width="0.3">2</text><text x="503.2" y="466.1" font-size="14.6" font-weight="bold" text-anchor="end" fill="#262626" stroke="#262626" stroke-width="0.3">4</text><text x="503.2" y="428.9" font-size="14.6" font-weight="bold" text-anchor="end" fill="#262626" stroke="#262626" stroke-width="0.3">6</text><text x="503.2" y="391.7" font-size="14.6" font-weight="bold" text-anchor="end" fill="#262626" stroke="#262626" stroke-width="0.3">8</text><text x="689.5" y="668.8" font-size="15" font-weight="bold" text-anchor="middle" fill="#262626" stroke="#262626" stroke-width="0.3">time (ms)</text><text transform="translate(483.9 507.4) rotate(-90)" font-size="15" font-weight="bold" text-anchor="middle" fill="#262626" stroke="#262626" stroke-width="0.3">Amplitude (uV)</text><text x="689.5" y="381.6" font-size="15" font-weight="bold" text-anchor="middle" fill="#000" stroke="#000" stroke-width="0.3">ADHD P8</text></g>
<g><clipPath id="cp12"><rect x="930.3" y="385.7" width="359.0" height="241.7"/></clipPath><g clip-path="url(#cp12)" fill="none" stroke-width="3.5" stroke-linejoin="round" stroke-linecap="round"><path d="M930.3 516.4L931.8 516.5 933.3 516.6 934.8 516.7 936.3 516.8 937.8 516.9 939.3 517.0 940.8 517.2 942.3 517.3 943.8 517.3 945.3 517.4 946.8 517.5 948.3 517.5 949.8 517.5 951.3 517.5 952.8 517.5 954.3 517.4 955.8 517.3 957.3 517.2 958.8 517.1 960.3 517.0 961.8 516.9 963.3 516.7 964.8 516.6 966.3 516.5 967.8 516.5 969.3 516.4 970.8 516.4 972.3 516.5 973.8 516.5 975.3 516.6 976.8 516.7 978.3 516.8 979.8 516.9 981.3 517.0 982.8 517.1 984.3 517.2 985.8 517.3 987.3 517.4 988.8 517.5 990.3 517.5 991.8 517.6 993.3 517.6 994.8 517.6 996.3 517.7 997.8 517.7 999.3 517.7 1000.8 517.7 1002.3 517.7 1003.8 517.7 1005.3 517.7 1006.8 517.6 1008.3 517.6 1009.8 517.5 1011.3 517.4 1012.8 517.2 1014.3 517.1 1015.8 516.9 1017.3 516.6 1018.8 516.5 1020.3 516.3 1021.8 516.2 1023.3 516.2 1024.8 516.3 1026.3 516.5 1027.8 516.9 1029.3 517.3 1030.8 517.8 1032.3 518.2 1033.8 518.7 1035.3 519.1 1036.8 519.5 1038.3 519.8 1039.8 519.9 1041.3 519.9 1042.8 519.7 1044.3 519.2 1045.8 518.5 1047.3 517.2 1048.8 515.2 1050.3 512.2 1051.8 508.1 1053.3 503.1 1054.8 497.6 1056.3 492.0 1057.8 486.7 1059.3 482.0 1060.8 477.8 1062.3 474.1 1063.8 470.8 1065.3 467.9 1066.8 465.4 1068.3 463.5 1069.8 462.6 1071.3 463.2 1072.8 465.7 1074.3 470.0 1075.8 476.1 1077.3 483.9 1078.8 493.1 1080.3 503.6 1081.8 514.7 1083.3 526.1 1084.8 537.5 1086.3 548.6 1087.8 559.3 1089.3 568.8 1090.8 576.5 1092.3 581.5 1093.8 583.4 1095.3 581.9 1096.8 577.1 1098.3 569.4 1099.8 559.5 1101.3 548.1 1102.8 536.0 1104.3 523.8 1105.8 511.9 1107.3 500.2 1108.8 489.3 1110.3 479.3 1111.8 470.5 1113.3 463.0 1114.8 456.9 1116.3 452.2 1117.8 449.0 1119.3 447.4 1120.8 447.4 1122.3 448.5 1123.8 450.2 1125.3 452.1 1126.8 454.0 1128.3 456.0 1129.8 458.2 1131.3 460.7 1132.8 463.4 1134.3 466.5 1135.8 470.2 1137.3 474.3 1138.8 479.1 1140.3 483.9 1141.8 488.4 1143.3 492.0 1144.8 494.5 1146.3 495.9 1147.8 496.6 1149.3 496.9 1150.8 497.1 1152.3 497.4 1153.8 498.1 1155.3 498.9 1156.8 499.8 1158.3 500.9 1159.8 501.9 1161.3 503.0 1162.8 504.2 1164.3 505.4 1165.8 506.8 1167.3 508.2 1168.8 509.6 1170.3 510.9 1171.8 512.1 1173.3 513.0 1174.8 513.6 1176.3 514.0 1177.8 514.0 1179.3 513.9 1180.8 513.6 1182.3 513.3 1183.8 512.9 1185.3 512.4 1186.8 512.0 1188.3 511.5 1189.8 510.9 1191.3 510.2 1192.8 509.5 1194.3 508.8 1195.8 508.1 1197.3 507.5 1198.8 507.0 1200.3 506.7 1201.8 506.6 1203.3 506.6 1204.8 506.8 1206.3 507.1 1207.8 507.5 1209.3 508.1 1210.8 508.7 1212.3 509.4 1213.8 510.2 1215.3 511.2 1216.8 512.2 1218.3 513.3 1219.8 514.6 1221.3 515.8 1222.8 517.0 1224.3 518.2 1225.8 519.3 1227.3 520.3 1228.8 521.3 1230.3 522.3 1231.8 523.2 1233.3 524.1 1234.8 524.9 1236.3 525.8 1237.8 526.6 1239.3 527.4 1240.8 528.2 1242.3 529.0 1243.8 529.8 1245.3 530.5 1246.8 531.3 1248.3 532.0 1249.8 532.8 1251.3 533.6 1252.8 534.4 1254.3 535.3 1255.8 536.4 1257.3 537.5 1258.8 538.6 1260.3 539.7 1261.8 540.8 1263.3 541.8 1264.8 542.7 1266.3 543.4 1267.8 543.8 1269.3 544.0 1270.8 543.9 1272.3 543.5 1273.8 542.9 1275.3 542.1 1276.8 541.1 1278.3 540.1 1279.8 539.0 1281.3 537.9 1282.8 536.7 1284.3 535.4 1285.8 534.2 1287.3 533.0 1288.8 532.1 1289.3 531.8" stroke="#1a08d8"/><path d="M930.3 518.6L931.8 518.6 933.3 518.5 934.8 518.4 936.3 518.3 937.8 518.2 939.3 518.1 940.8 518.0 942.3 517.9 943.8 517.8 945.3 517.7 946.8 517.7 948.3 517.6 949.8 517.6 951.3 517.5 952.8 517.5 954.3 517.5 955.8 517.5 957.3 517.5 958.8 517.5 960.3 517.5 961.8 517.6 963.3 517.6 964.8 517.6 966.3 517.6 967.8 517.6 969.3 517.6 970.8 517.5 972.3 517.5 973.8 517.4 975.3 517.3 976.8 517.2 978.3 517.1 979.8 517.0 981.3 516.9 982.8 516.8 984.3 516.7 985.8 516.6 987.3 516.6 988.8 516.5 990.3 516.4 991.8 516.4 993.3 516.4 994.8 516.4 996.3 516.4 997.8 516.4 999.3 516.4 1000.8 516.4 1002.3 516.4 1003.8 516.4 1005.3 516.4 1006.8 516.4 1008.3 516.4 1009.8 516.4 1011.3 516.4 1012.8 516.5 1014.3 516.5 1015.8 516.5 1017.3 516.5 1018.8 516.5 1020.3 516.5 1021.8 516.5 1023.3 516.5 1024.8 516.5 1026.3 516.4 1027.8 516.4 1029.3 516.4 1030.8 516.4 1032.3 516.4 1033.8 516.4 1035.3 516.3 1036.8 516.2 1038.3 516.0 1039.8 515.8 1041.3 515.5 1042.8 515.3 1044.3 515.1 1045.8 514.7 1047.3 513.9 1048.8 512.4 1050.3 509.7 1051.8 505.9 1053.3 501.1 1054.8 495.7 1056.3 490.2 1057.8 485.1 1059.3 480.4 1060.8 476.3 1062.3 472.7 1063.8 469.4 1065.3 466.6 1066.8 464.2 1068.3 462.3 1069.8 461.5 1071.3 462.1 1072.8 464.7 1074.3 469.1 1075.8 475.3 1077.3 483.2 1078.8 492.6 1080.3 503.2 1081.8 514.6 1083.3 526.2 1084.8 537.8 1086.3 549.2 1087.8 560.0 1089.3 569.7 1090.8 577.5 1092.3 582.6 1093.8 584.5 1095.3 582.9 1096.8 577.9 1098.3 570.0 1099.8 559.8 1101.3 548.0 1102.8 535.6 1104.3 523.2 1105.8 510.9 1107.3 499.1 1108.8 488.0 1110.3 478.0 1111.8 469.2 1113.3 461.8 1114.8 455.8 1116.3 451.3 1117.8 448.4 1119.3 447.2 1120.8 447.6 1122.3 449.1 1123.8 451.1 1125.3 453.1 1126.8 455.2 1128.3 457.4 1129.8 459.9 1131.3 462.8 1132.8 466.1 1134.3 469.5 1135.8 473.0 1137.3 476.5 1138.8 479.8 1140.3 482.8 1141.8 485.5 1143.3 487.7 1144.8 489.3 1146.3 490.4 1147.8 491.2 1149.3 491.9 1150.8 492.5 1152.3 493.3 1153.8 494.4 1155.3 495.6 1156.8 497.1 1158.3 498.6 1159.8 500.2 1161.3 501.7 1162.8 503.3 1164.3 504.9 1165.8 506.4 1167.3 507.9 1168.8 509.3 1170.3 510.7 1171.8 511.9 1173.3 513.0 1174.8 513.8 1176.3 514.5 1177.8 515.0 1179.3 515.3 1180.8 515.5 1182.3 515.6 1183.8 515.5 1185.3 515.4 1186.8 515.1 1188.3 514.7 1189.8 514.1 1191.3 513.3 1192.8 512.4 1194.3 511.4 1195.8 510.5 1197.3 509.7 1198.8 509.1 1200.3 508.8 1201.8 508.7 1203.3 508.9 1204.8 509.3 1206.3 510.0 1207.8 510.7 1209.3 511.6 1210.8 512.5 1212.3 513.5 1213.8 514.6 1215.3 515.8 1216.8 517.0 1218.3 518.3 1219.8 519.7 1221.3 521.0 1222.8 522.3 1224.3 523.6 1225.8 524.7 1227.3 525.8 1228.8 526.7 1230.3 527.6 1231.8 528.4 1233.3 529.2 1234.8 529.9 1236.3 530.6 1237.8 531.4 1239.3 532.1 1240.8 532.9 1242.3 533.6 1243.8 534.4 1245.3 535.1 1246.8 535.9 1248.3 536.6 1249.8 537.4 1251.3 538.2 1252.8 539.1 1254.3 540.1 1255.8 541.2 1257.3 542.5 1258.8 543.7 1260.3 545.0 1261.8 546.2 1263.3 547.3 1264.8 548.2 1266.3 548.8 1267.8 549.1 1269.3 549.1 1270.8 548.6 1272.3 547.6 1273.8 546.4 1275.3 544.9 1276.8 543.3 1278.3 541.8 1279.8 540.5 1281.3 539.2 1282.8 538.1 1284.3 537.0 1285.8 536.0 1287.3 535.1 1288.8 534.4 1289.3 534.2" stroke="#86ee3e"/><path d="M930.3 515.3L931.8 515.2 933.3 515.1 934.8 514.9 936.3 514.7 937.8 514.5 939.3 514.4 940.8 514.3 942.3 514.2 943.8 514.3 945.3 514.3 946.8 514.4 948.3 514.6 949.8 514.8 951.3 515.0 952.8 515.2 954.3 515.4 955.8 515.6 957.3 515.8 958.8 516.0 960.3 516.2 961.8 516.4 963.3 516.5 964.8 516.7 966.3 516.9 967.8 517.2 969.3 517.4 970.8 517.8 972.3 518.2 973.8 518.6 975.3 519.0 976.8 519.4 978.3 519.8 979.8 520.2 981.3 520.5 982.8 520.8 984.3 521.0 985.8 521.2 987.3 521.3 988.8 521.3 990.3 521.2 991.8 521.0 993.3 520.7 994.8 520.3 996.3 520.0 997.8 519.6 999.3 519.2 1000.8 518.9 1002.3 518.6 1003.8 518.4 1005.3 518.2 1006.8 518.0 1008.3 517.7 1009.8 517.2 1011.3 516.5 1012.8 515.7 1014.3 515.0 1015.8 514.4 1017.3 514.1 1018.8 514.2 1020.3 514.5 1021.8 515.0 1023.3 515.6 1024.8 516.0 1026.3 516.4 1027.8 516.5 1029.3 516.5 1030.8 516.4 1032.3 516.3 1033.8 516.1 1035.3 515.9 1036.8 515.6 1038.3 515.4 1039.8 515.1 1041.3 514.8 1042.8 514.3 1044.3 513.8 1045.8 513.0 1047.3 511.9 1048.8 510.0 1050.3 507.1 1051.8 502.7 1053.3 497.2 1054.8 491.0 1056.3 484.7 1057.8 479.0 1059.3 473.9 1060.8 469.5 1062.3 465.7 1063.8 462.3 1065.3 459.6 1066.8 457.5 1068.3 456.5 1069.8 456.8 1071.3 458.7 1072.8 461.9 1074.3 466.2 1075.8 471.7 1077.3 477.9 1078.8 484.8 1080.3 491.9 1081.8 499.0 1083.3 506.0 1084.8 512.7 1086.3 518.7 1087.8 523.4 1089.3 526.5 1090.8 527.7 1092.3 526.8 1093.8 524.0 1095.3 519.6 1096.8 514.1 1098.3 507.5 1099.8 500.5 1101.3 493.4 1102.8 486.3 1104.3 479.4 1105.8 472.6 1107.3 466.3 1108.8 460.4 1110.3 455.3 1111.8 450.8 1113.3 447.0 1114.8 443.9 1116.3 441.6 1117.8 440.1 1119.3 439.5 1120.8 439.8 1122.3 440.8 1123.8 442.2 1125.3 443.8 1126.8 445.4 1128.3 446.9 1129.8 448.3 1131.3 449.7 1132.8 451.0 1134.3 452.3 1135.8 453.4 1137.3 454.4 1138.8 455.3 1140.3 456.0 1141.8 456.6 1143.3 457.2 1144.8 457.6 1146.3 458.1 1147.8 458.7 1149.3 459.4 1150.8 460.2 1152.3 461.1 1153.8 462.1 1155.3 463.1 1156.8 464.2 1158.3 465.2 1159.8 466.2 1161.3 467.1 1162.8 467.9 1164.3 468.7 1165.8 469.5 1167.3 470.2 1168.8 470.9 1170.3 471.5 1171.8 472.0 1173.3 472.5 1174.8 472.8 1176.3 473.0 1177.8 473.2 1179.3 473.1 1180.8 473.0 1182.3 472.8 1183.8 472.5 1185.3 472.0 1186.8 471.4 1188.3 470.6 1189.8 469.9 1191.3 469.2 1192.8 468.7 1194.3 468.5 1195.8 468.6 1197.3 468.9 1198.8 469.4 1200.3 470.0 1201.8 470.7 1203.3 471.4 1204.8 472.3 1206.3 473.2 1207.8 474.2 1209.3 475.3 1210.8 476.4 1212.3 477.6 1213.8 478.8 1215.3 480.1 1216.8 481.5 1218.3 482.9 1219.8 484.3 1221.3 485.8 1222.8 487.2 1224.3 488.6 1225.8 489.9 1227.3 491.1 1228.8 492.3 1230.3 493.4 1231.8 494.5 1233.3 495.6 1234.8 496.8 1236.3 498.0 1237.8 499.3 1239.3 500.6 1240.8 502.1 1242.3 503.5 1243.8 505.0 1245.3 506.5 1246.8 507.9 1248.3 509.2 1249.8 510.4 1251.3 511.4 1252.8 512.4 1254.3 513.2 1255.8 514.0 1257.3 514.8 1258.8 515.6 1260.3 516.4 1261.8 517.4 1263.3 518.5 1264.8 519.7 1266.3 520.8 1267.8 521.8 1269.3 522.4 1270.8 522.6 1272.3 522.4 1273.8 521.6 1275.3 520.6 1276.8 519.3 1278.3 517.8 1279.8 516.3 1281.3 514.9 1282.8 513.8 1284.3 513.1 1285.8 512.8 1287.3 512.8 1288.8 513.0 1289.3 513.1" stroke="#000000"/><path d="M930.3 515.3L931.8 515.4 933.3 515.4 934.8 515.5 936.3 515.5 937.8 515.5 939.3 515.6 940.8 515.7 942.3 515.8 943.8 516.1 945.3 516.4 946.8 516.8 948.3 517.3 949.8 518.0 951.3 518.7 952.8 519.4 954.3 520.0 955.8 520.5 957.3 520.8 958.8 520.8 960.3 520.6 961.8 520.1 963.3 519.5 964.8 518.8 966.3 518.1 967.8 517.4 969.3 516.8 970.8 516.3 972.3 515.9 973.8 515.6 975.3 515.4 976.8 515.3 978.3 515.3 979.8 515.4 981.3 515.6 982.8 515.9 984.3 516.2 985.8 516.6 987.3 517.0 988.8 517.4 990.3 517.8 991.8 518.2 993.3 518.5 994.8 518.7 996.3 518.9 997.8 519.1 999.3 519.3 1000.8 519.5 1002.3 519.6 1003.8 519.7 1005.3 519.8 1006.8 519.8 1008.3 519.8 1009.8 519.7 1011.3 519.6 1012.8 519.4 1014.3 519.1 1015.8 518.8 1017.3 518.5 1018.8 518.1 1020.3 517.7 1021.8 517.3 1023.3 517.0 1024.8 516.7 1026.3 516.4 1027.8 516.2 1029.3 516.1 1030.8 516.0 1032.3 516.0 1033.8 515.9 1035.3 515.8 1036.8 515.6 1038.3 515.3 1039.8 514.9 1041.3 514.4 1042.8 513.9 1044.3 513.3 1045.8 512.6 1047.3 511.3 1048.8 509.3 1050.3 506.1 1051.8 501.8 1053.3 496.6 1054.8 490.8 1056.3 485.2 1057.8 480.0 1059.3 475.3 1060.8 471.3 1062.3 467.7 1063.8 464.7 1065.3 462.1 1066.8 460.2 1068.3 459.3 1069.8 459.7 1071.3 461.6 1072.8 464.9 1074.3 469.3 1075.8 474.7 1077.3 481.1 1078.8 488.1 1080.3 495.6 1081.8 503.0 1083.3 510.5 1084.8 517.7 1086.3 524.5 1087.8 530.4 1089.3 535.0 1090.8 537.7 1092.3 538.4 1093.8 537.0 1095.3 533.7 1096.8 528.9 1098.3 522.9 1099.8 515.9 1101.3 508.5 1102.8 501.0 1104.3 493.7 1105.8 486.5 1107.3 479.5 1108.8 472.9 1110.3 467.0 1111.8 461.7 1113.3 457.2 1114.8 453.4 1116.3 450.3 1117.8 448.1 1119.3 446.7 1120.8 446.1 1122.3 446.3 1123.8 447.1 1125.3 448.2 1126.8 449.4 1128.3 450.6 1129.8 451.6 1131.3 452.7 1132.8 453.7 1134.3 454.6 1135.8 455.5 1137.3 456.4 1138.8 457.1 1140.3 457.8 1141.8 458.4 1143.3 458.9 1144.8 459.5 1146.3 460.0 1147.8 460.5 1149.3 461.1 1150.8 461.7 1152.3 462.3 1153.8 463.0 1155.3 463.6 1156.8 464.3 1158.3 465.1 1159.8 465.9 1161.3 466.9 1162.8 468.0 1164.3 469.3 1165.8 470.8 1167.3 472.2 1168.8 473.6 1170.3 474.9 1171.8 476.0 1173.3 476.7 1174.8 477.1 1176.3 477.1 1177.8 476.7 1179.3 476.2 1180.8 475.5 1182.3 474.9 1183.8 474.6 1185.3 474.7 1186.8 475.0 1188.3 475.5 1189.8 476.3 1191.3 477.2 1192.8 478.2 1194.3 479.1 1195.8 480.0 1197.3 480.8 1198.8 481.4 1200.3 481.9 1201.8 482.3 1203.3 482.6 1204.8 483.0 1206.3 483.4 1207.8 483.9 1209.3 484.5 1210.8 485.2 1212.3 486.0 1213.8 486.9 1215.3 487.9 1216.8 488.9 1218.3 490.0 1219.8 491.1 1221.3 492.3 1222.8 493.5 1224.3 494.7 1225.8 495.9 1227.3 497.2 1228.8 498.5 1230.3 499.8 1231.8 501.1 1233.3 502.4 1234.8 503.6 1236.3 504.7 1237.8 505.7 1239.3 506.6 1240.8 507.3 1242.3 508.0 1243.8 508.6 1245.3 509.2 1246.8 509.9 1248.3 510.8 1249.8 511.7 1251.3 512.9 1252.8 514.2 1254.3 515.6 1255.8 517.0 1257.3 518.5 1258.8 520.0 1260.3 521.5 1261.8 522.9 1263.3 524.4 1264.8 525.8 1266.3 527.1 1267.8 528.0 1269.3 528.5 1270.8 528.5 1272.3 527.9 1273.8 527.0 1275.3 526.0 1276.8 524.9 1278.3 524.0 1279.8 523.1 1281.3 522.4 1282.8 521.8 1284.3 521.3 1285.8 521.0 1287.3 520.9 1288.8 520.8 1289.3 520.8" stroke="#e41418"/></g><path d="M930.3 627.4V622.4M930.3 385.7V390.7M1010.1 627.4V622.4M1010.1 385.7V390.7M1089.9 627.4V622.4M1089.9 385.7V390.7M1169.6 627.4V622.4M1169.6 385.7V390.7M1249.4 627.4V622.4M1249.4 385.7V390.7M930.3 605.4H935.3M1289.3 605.4H1284.3M930.3 561.5H935.3M1289.3 561.5H1284.3M930.3 517.5H935.3M1289.3 517.5H1284.3M930.3 473.6H935.3M1289.3 473.6H1284.3M930.3 429.6H935.3M1289.3 429.6H1284.3M930.3 385.7H935.3M1289.3 385.7H1284.3" stroke="#262626" stroke-width="2.4" fill="none"/><rect x="930.3" y="385.7" width="359.0" height="241.7" fill="none" stroke="#262626" stroke-width="2.9"/><text x="930.3" y="647.8" font-size="14.6" font-weight="bold" text-anchor="middle" fill="#262626" stroke="#262626" stroke-width="0.3">-200</text><text x="1010.1" y="647.8" font-size="14.6" font-weight="bold" text-anchor="middle" fill="#262626" stroke="#262626" stroke-width="0.3">0</text><text x="1089.9" y="647.8" font-size="14.6" font-weight="bold" text-anchor="middle" fill="#262626" stroke="#262626" stroke-width="0.3">200</text><text x="1169.6" y="647.8" font-size="14.6" font-weight="bold" text-anchor="middle" fill="#262626" stroke="#262626" stroke-width="0.3">400</text><text x="1249.4" y="647.8" font-size="14.6" font-weight="bold" text-anchor="middle" fill="#262626" stroke="#262626" stroke-width="0.3">600</text><text x="924.0" y="610.6" font-size="14.6" font-weight="bold" text-anchor="end" fill="#262626" stroke="#262626" stroke-width="0.3">-4</text><text x="924.0" y="566.7" font-size="14.6" font-weight="bold" text-anchor="end" fill="#262626" stroke="#262626" stroke-width="0.3">-2</text><text x="924.0" y="522.7" font-size="14.6" font-weight="bold" text-anchor="end" fill="#262626" stroke="#262626" stroke-width="0.3">0</text><text x="924.0" y="478.8" font-size="14.6" font-weight="bold" text-anchor="end" fill="#262626" stroke="#262626" stroke-width="0.3">2</text><text x="924.0" y="434.8" font-size="14.6" font-weight="bold" text-anchor="end" fill="#262626" stroke="#262626" stroke-width="0.3">4</text><text x="924.0" y="390.9" font-size="14.6" font-weight="bold" text-anchor="end" fill="#262626" stroke="#262626" stroke-width="0.3">6</text><text x="1109.8" y="667.8" font-size="15" font-weight="bold" text-anchor="middle" fill="#262626" stroke="#262626" stroke-width="0.3">time (ms)</text><text transform="translate(904.7 506.5) rotate(-90)" font-size="15" font-weight="bold" text-anchor="middle" fill="#262626" stroke="#262626" stroke-width="0.3">Amplitude (uV)</text><text x="1109.8" y="380.8" font-size="15" font-weight="bold" text-anchor="middle" fill="#000" stroke="#000" stroke-width="0.3">ADHD P7</text></g>
<g><clipPath id="cp13"><rect x="1408.8" y="385.7" width="358.8" height="241.7"/></clipPath><g clip-path="url(#cp13)" fill="none" stroke-width="3.5" stroke-linejoin="round" stroke-linecap="round"><path d="M1408.8 508.7L1410.3 509.1 1411.8 509.7 1413.3 510.3 1414.8 511.0 1416.3 511.6 1417.8 512.3 1419.3 512.9 1420.8 513.6 1422.3 514.2 1423.8 514.7 1425.3 515.2 1426.8 515.7 1428.3 516.2 1429.8 516.5 1431.3 516.8 1432.8 517.1 1434.3 517.3 1435.8 517.5 1437.3 517.7 1438.8 517.8 1440.3 517.9 1441.8 518.0 1443.3 518.1 1444.8 518.2 1446.3 518.4 1447.8 518.5 1449.3 518.7 1450.8 518.9 1452.3 519.1 1453.8 519.3 1455.3 519.5 1456.8 519.7 1458.3 520.0 1459.8 520.2 1461.3 520.4 1462.8 520.6 1464.3 520.9 1465.8 521.1 1467.3 521.4 1468.8 521.7 1470.3 522.0 1471.8 522.3 1473.3 522.6 1474.8 522.8 1476.3 523.0 1477.8 523.1 1479.3 523.1 1480.8 523.0 1482.3 522.7 1483.8 522.3 1485.3 521.8 1486.8 521.2 1488.3 520.7 1489.8 520.2 1491.3 519.9 1492.8 519.7 1494.3 519.7 1495.8 519.9 1497.3 520.2 1498.8 520.6 1500.3 521.1 1501.8 521.6 1503.3 522.1 1504.8 522.5 1506.3 522.9 1507.8 523.1 1509.3 523.1 1510.8 523.1 1512.3 522.9 1513.8 522.6 1515.3 522.2 1516.8 521.7 1518.3 521.0 1519.8 520.2 1521.3 519.3 1522.8 518.3 1524.3 517.0 1525.8 515.0 1527.3 512.0 1528.8 507.6 1530.3 501.8 1531.8 494.7 1533.3 486.9 1534.8 478.5 1536.3 470.0 1537.8 461.5 1539.3 452.9 1540.8 444.4 1542.3 436.4 1543.8 429.0 1545.3 422.6 1546.8 417.6 1548.3 414.7 1549.8 414.6 1551.3 418.2 1552.8 426.0 1554.3 438.5 1555.8 455.3 1557.3 475.1 1558.8 496.2 1560.3 517.6 1561.8 538.7 1563.3 558.6 1564.8 576.5 1566.3 591.7 1567.8 603.5 1569.3 611.3 1570.8 614.2 1572.3 612.0 1573.8 605.2 1575.3 595.1 1576.8 582.6 1578.3 568.6 1579.8 553.3 1581.3 537.2 1582.8 521.2 1584.3 505.6 1585.8 490.6 1587.3 476.2 1588.8 462.6 1590.3 449.9 1591.8 438.7 1593.3 429.0 1594.8 421.0 1596.3 414.7 1597.8 410.3 1599.3 407.9 1600.8 407.6 1602.3 408.6 1603.8 410.5 1605.3 412.6 1606.8 415.2 1608.3 418.5 1609.8 422.8 1611.3 428.1 1612.8 433.7 1614.3 439.3 1615.8 444.1 1617.3 448.1 1618.8 451.1 1620.3 453.3 1621.8 455.0 1623.3 456.3 1624.8 457.4 1626.3 458.6 1627.8 459.9 1629.3 461.3 1630.8 462.7 1632.3 464.2 1633.8 465.6 1635.3 467.1 1636.8 468.4 1638.3 469.8 1639.8 471.1 1641.3 472.5 1642.8 473.8 1644.3 475.1 1645.8 476.4 1647.3 477.6 1648.8 478.6 1650.3 479.4 1651.8 480.1 1653.3 480.4 1654.8 480.5 1656.3 480.4 1657.8 480.1 1659.3 479.7 1660.8 479.3 1662.3 479.1 1663.8 479.1 1665.3 479.1 1666.8 479.3 1668.3 479.5 1669.8 479.8 1671.3 480.2 1672.8 480.7 1674.3 481.3 1675.8 482.0 1677.3 482.8 1678.8 483.9 1680.3 485.0 1681.8 486.4 1683.3 488.0 1684.8 489.7 1686.3 491.5 1687.8 493.3 1689.3 495.0 1690.8 496.6 1692.3 497.9 1693.8 499.1 1695.3 500.1 1696.8 501.0 1698.3 501.7 1699.8 502.4 1701.3 503.1 1702.8 503.8 1704.3 504.6 1705.8 505.5 1707.3 506.5 1708.8 507.6 1710.3 508.9 1711.8 510.3 1713.3 511.7 1714.8 513.3 1716.3 514.9 1717.8 516.5 1719.3 518.2 1720.8 519.8 1722.3 521.4 1723.8 522.9 1725.3 524.4 1726.8 525.8 1728.3 527.1 1729.8 528.3 1731.3 529.6 1732.8 530.7 1734.3 531.9 1735.8 533.0 1737.3 534.0 1738.8 535.0 1740.3 535.9 1741.8 536.8 1743.3 537.5 1744.8 538.2 1746.3 538.9 1747.8 539.3 1749.3 539.5 1750.8 539.3 1752.3 538.6 1753.8 537.6 1755.3 536.5 1756.8 535.5 1758.3 535.0 1759.8 535.2 1761.3 535.9 1762.8 537.2 1764.3 538.7 1765.8 540.3 1767.3 541.5 1767.5 541.7" stroke="#1a08d8"/><path d="M1408.8 515.3L1410.3 515.5 1411.8 515.6 1413.3 515.8 1414.8 516.0 1416.3 516.1 1417.8 516.3 1419.3 516.5 1420.8 516.7 1422.3 516.8 1423.8 517.0 1425.3 517.2 1426.8 517.3 1428.3 517.5 1429.8 517.6 1431.3 517.7 1432.8 517.8 1434.3 517.9 1435.8 518.0 1437.3 518.1 1438.8 518.2 1440.3 518.3 1441.8 518.4 1443.3 518.4 1444.8 518.5 1446.3 518.6 1447.8 518.6 1449.3 518.6 1450.8 518.7 1452.3 518.7 1453.8 518.7 1455.3 518.8 1456.8 518.8 1458.3 518.8 1459.8 518.8 1461.3 518.8 1462.8 518.7 1464.3 518.7 1465.8 518.7 1467.3 518.7 1468.8 518.6 1470.3 518.6 1471.8 518.5 1473.3 518.4 1474.8 518.4 1476.3 518.3 1477.8 518.2 1479.3 518.1 1480.8 518.0 1482.3 517.9 1483.8 517.8 1485.3 517.7 1486.8 517.6 1488.3 517.5 1489.8 517.4 1491.3 517.3 1492.8 517.1 1494.3 517.0 1495.8 516.9 1497.3 516.7 1498.8 516.6 1500.3 516.5 1501.8 516.5 1503.3 516.4 1504.8 516.5 1506.3 516.7 1507.8 516.9 1509.3 517.3 1510.8 517.7 1512.3 518.1 1513.8 518.4 1515.3 518.5 1516.8 518.5 1518.3 518.3 1519.8 518.0 1521.3 517.5 1522.8 517.0 1524.3 516.1 1525.8 514.6 1527.3 511.8 1528.8 507.5 1530.3 501.6 1531.8 494.2 1533.3 485.9 1534.8 477.0 1536.3 468.0 1537.8 458.9 1539.3 449.8 1540.8 440.8 1542.3 432.1 1543.8 424.1 1545.3 417.1 1546.8 411.4 1548.3 407.7 1549.8 406.6 1551.3 409.0 1552.8 415.7 1554.3 426.9 1555.8 442.5 1557.3 461.5 1558.8 482.3 1560.3 503.7 1561.8 524.8 1563.3 544.9 1564.8 563.4 1566.3 579.3 1567.8 592.0 1569.3 600.9 1570.8 605.1 1572.3 604.3 1573.8 598.7 1575.3 589.4 1576.8 577.7 1578.3 564.1 1579.8 549.3 1581.3 533.7 1582.8 517.9 1584.3 502.4 1585.8 487.6 1587.3 473.4 1588.8 459.9 1590.3 447.4 1591.8 436.2 1593.3 426.6 1594.8 418.6 1596.3 412.4 1597.8 408.0 1599.3 405.7 1600.8 405.4 1602.3 406.5 1603.8 408.3 1605.3 410.4 1606.8 412.8 1608.3 415.6 1609.8 419.1 1611.3 423.1 1612.8 427.4 1614.3 431.6 1615.8 435.3 1617.3 438.3 1618.8 440.7 1620.3 442.6 1621.8 444.2 1623.3 445.6 1624.8 446.9 1626.3 448.3 1627.8 449.6 1629.3 450.9 1630.8 452.2 1632.3 453.5 1633.8 454.9 1635.3 456.4 1636.8 458.1 1638.3 460.0 1639.8 462.1 1641.3 464.2 1642.8 466.4 1644.3 468.4 1645.8 470.2 1647.3 471.7 1648.8 473.0 1650.3 473.9 1651.8 474.6 1653.3 475.2 1654.8 475.7 1656.3 476.2 1657.8 476.7 1659.3 477.1 1660.8 477.5 1662.3 477.9 1663.8 478.3 1665.3 478.7 1666.8 479.1 1668.3 479.6 1669.8 480.1 1671.3 480.6 1672.8 481.1 1674.3 481.6 1675.8 482.2 1677.3 482.8 1678.8 483.5 1680.3 484.2 1681.8 484.9 1683.3 485.6 1684.8 486.5 1686.3 487.4 1687.8 488.6 1689.3 489.9 1690.8 491.4 1692.3 493.1 1693.8 494.9 1695.3 496.9 1696.8 499.0 1698.3 501.3 1699.8 503.7 1701.3 506.2 1702.8 508.6 1704.3 510.8 1705.8 512.7 1707.3 514.4 1708.8 515.8 1710.3 516.9 1711.8 517.8 1713.3 518.6 1714.8 519.4 1716.3 520.2 1717.8 521.0 1719.3 521.9 1720.8 522.9 1722.3 523.9 1723.8 525.0 1725.3 526.1 1726.8 527.2 1728.3 528.4 1729.8 529.5 1731.3 530.8 1732.8 532.1 1734.3 533.5 1735.8 535.0 1737.3 536.5 1738.8 538.0 1740.3 539.4 1741.8 540.7 1743.3 541.9 1744.8 543.0 1746.3 543.9 1747.8 544.7 1749.3 545.0 1750.8 544.8 1752.3 544.0 1753.8 542.8 1755.3 541.4 1756.8 540.1 1758.3 539.5 1759.8 539.6 1761.3 540.4 1762.8 541.9 1764.3 543.7 1765.8 545.5 1767.3 547.0 1767.5 547.2" stroke="#86ee3e"/><path d="M1408.8 517.5L1410.3 517.4 1411.8 517.1 1413.3 516.8 1414.8 516.5 1416.3 516.3 1417.8 516.2 1419.3 516.3 1420.8 516.5 1422.3 517.0 1423.8 517.6 1425.3 518.4 1426.8 519.3 1428.3 520.1 1429.8 520.9 1431.3 521.5 1432.8 521.9 1434.3 522.1 1435.8 522.1 1437.3 521.9 1438.8 521.6 1440.3 521.2 1441.8 520.7 1443.3 520.2 1444.8 519.7 1446.3 519.3 1447.8 518.9 1449.3 518.6 1450.8 518.3 1452.3 518.0 1453.8 517.7 1455.3 517.5 1456.8 517.2 1458.3 517.0 1459.8 516.8 1461.3 516.6 1462.8 516.5 1464.3 516.4 1465.8 516.3 1467.3 516.4 1468.8 516.5 1470.3 516.8 1471.8 517.1 1473.3 517.5 1474.8 517.9 1476.3 518.3 1477.8 518.6 1479.3 518.7 1480.8 518.6 1482.3 518.4 1483.8 518.0 1485.3 517.6 1486.8 517.1 1488.3 516.6 1489.8 516.1 1491.3 515.7 1492.8 515.2 1494.3 514.8 1495.8 514.4 1497.3 514.0 1498.8 513.6 1500.3 513.3 1501.8 512.9 1503.3 512.7 1504.8 512.5 1506.3 512.5 1507.8 512.6 1509.3 512.8 1510.8 513.2 1512.3 513.6 1513.8 514.0 1515.3 514.3 1516.8 514.5 1518.3 514.6 1519.8 514.5 1521.3 514.1 1522.8 513.3 1524.3 511.9 1525.8 509.8 1527.3 506.5 1528.8 501.9 1530.3 495.8 1531.8 488.3 1533.3 479.9 1534.8 471.0 1536.3 462.0 1537.8 453.0 1539.3 443.9 1540.8 435.0 1542.3 426.8 1543.8 419.4 1545.3 413.3 1546.8 408.8 1548.3 406.6 1549.8 407.2 1551.3 410.9 1552.8 417.9 1554.3 427.9 1555.8 440.2 1557.3 453.8 1558.8 467.7 1560.3 481.4 1561.8 494.5 1563.3 506.3 1564.8 516.4 1566.3 524.1 1567.8 529.1 1569.3 530.7 1570.8 528.9 1572.3 524.0 1573.8 516.9 1575.3 508.3 1576.8 498.6 1578.3 488.1 1579.8 477.3 1581.3 466.7 1582.8 456.4 1584.3 446.6 1585.8 437.3 1587.3 428.7 1588.8 420.9 1590.3 414.3 1591.8 408.9 1593.3 404.7 1594.8 401.7 1596.3 399.9 1597.8 399.5 1599.3 400.3 1600.8 401.9 1602.3 404.0 1603.8 406.1 1605.3 408.2 1606.8 410.2 1608.3 412.1 1609.8 413.8 1611.3 415.4 1612.8 416.7 1614.3 417.8 1615.8 418.6 1617.3 419.2 1618.8 419.6 1620.3 419.9 1621.8 420.1 1623.3 420.1 1624.8 419.5 1626.3 419.4 1627.8 419.6 1629.3 419.9 1630.8 420.3 1632.3 420.9 1633.8 421.6 1635.3 422.5 1636.8 423.5 1638.3 424.7 1639.8 426.0 1641.3 427.2 1642.8 428.3 1644.3 429.2 1645.8 429.7 1647.3 430.0 1648.8 430.2 1650.3 430.4 1651.8 430.7 1653.3 431.1 1654.8 431.6 1656.3 432.2 1657.8 432.9 1659.3 433.7 1660.8 434.4 1662.3 435.2 1663.8 436.0 1665.3 436.8 1666.8 437.6 1668.3 438.4 1669.8 439.2 1671.3 440.0 1672.8 440.9 1674.3 441.8 1675.8 442.7 1677.3 443.7 1678.8 444.8 1680.3 445.9 1681.8 447.0 1683.3 448.2 1684.8 449.3 1686.3 450.4 1687.8 451.5 1689.3 452.6 1690.8 453.7 1692.3 454.7 1693.8 455.7 1695.3 456.8 1696.8 458.0 1698.3 459.2 1699.8 460.6 1701.3 462.1 1702.8 463.7 1704.3 465.4 1705.8 467.3 1707.3 469.4 1708.8 471.9 1710.3 474.6 1711.8 477.5 1713.3 480.5 1714.8 483.7 1716.3 486.8 1717.8 490.0 1719.3 493.1 1720.8 496.0 1722.3 498.7 1723.8 500.8 1725.3 502.4 1726.8 503.6 1728.3 504.4 1729.8 505.1 1731.3 505.8 1732.8 506.5 1734.3 507.3 1735.8 508.2 1737.3 509.1 1738.8 510.1 1740.3 511.2 1741.8 512.4 1743.3 513.5 1744.8 514.6 1746.3 515.2 1747.8 515.3 1749.3 514.8 1750.8 513.6 1752.3 512.1 1753.8 510.2 1755.3 508.3 1756.8 506.5 1758.3 505.4 1759.8 505.3 1761.3 506.4 1762.8 508.5 1764.3 511.2 1765.8 513.9 1767.3 516.1 1767.5 516.4" stroke="#000000"/><path d="M1408.8 513.1L1410.3 513.3 1411.8 513.5 1413.3 513.8 1414.8 514.1 1416.3 514.3 1417.8 514.6 1419.3 514.9 1420.8 515.1 1422.3 515.4 1423.8 515.6 1425.3 515.9 1426.8 516.1 1428.3 516.3 1429.8 516.6 1431.3 516.8 1432.8 517.0 1434.3 517.2 1435.8 517.4 1437.3 517.6 1438.8 517.8 1440.3 518.0 1441.8 518.2 1443.3 518.3 1444.8 518.5 1446.3 518.5 1447.8 518.6 1449.3 518.6 1450.8 518.6 1452.3 518.6 1453.8 518.5 1455.3 518.4 1456.8 518.2 1458.3 518.0 1459.8 517.9 1461.3 517.7 1462.8 517.6 1464.3 517.5 1465.8 517.5 1467.3 517.5 1468.8 517.6 1470.3 517.8 1471.8 518.0 1473.3 518.3 1474.8 518.7 1476.3 519.1 1477.8 519.6 1479.3 520.0 1480.8 520.4 1482.3 520.7 1483.8 520.9 1485.3 521.0 1486.8 521.0 1488.3 520.8 1489.8 520.5 1491.3 520.0 1492.8 519.4 1494.3 518.8 1495.8 518.1 1497.3 517.5 1498.8 516.9 1500.3 516.5 1501.8 516.3 1503.3 516.2 1504.8 516.3 1506.3 516.5 1507.8 516.8 1509.3 517.0 1510.8 517.2 1512.3 517.2 1513.8 517.1 1515.3 516.9 1516.8 516.6 1518.3 516.4 1519.8 516.2 1521.3 516.0 1522.8 515.4 1524.3 514.2 1525.8 512.2 1527.3 509.1 1528.8 504.7 1530.3 499.0 1531.8 492.3 1533.3 485.0 1534.8 477.2 1536.3 469.3 1537.8 461.3 1539.3 453.2 1540.8 445.3 1542.3 437.7 1543.8 430.8 1545.3 424.9 1546.8 420.2 1548.3 417.2 1549.8 416.5 1551.3 418.5 1552.8 423.7 1554.3 431.9 1555.8 442.8 1557.3 455.5 1558.8 468.9 1560.3 482.4 1561.8 495.5 1563.3 507.8 1564.8 518.5 1566.3 527.2 1567.8 533.6 1569.3 536.9 1570.8 536.9 1572.3 533.5 1573.8 527.4 1575.3 519.5 1576.8 510.4 1578.3 500.2 1579.8 489.5 1581.3 478.6 1582.8 468.0 1584.3 457.8 1585.8 448.1 1587.3 438.9 1588.8 430.4 1590.3 422.9 1591.8 416.5 1593.3 411.3 1594.8 407.4 1596.3 404.6 1597.8 403.2 1599.3 402.9 1600.8 403.5 1602.3 404.5 1603.8 405.6 1605.3 406.7 1606.8 407.8 1608.3 409.0 1609.8 410.4 1611.3 412.1 1612.8 413.8 1614.3 415.7 1615.8 417.5 1617.3 419.2 1618.8 420.6 1620.3 421.8 1621.8 422.7 1623.3 423.3 1624.8 423.8 1626.3 424.1 1627.8 424.4 1629.3 424.7 1630.8 425.1 1632.3 425.6 1633.8 426.2 1635.3 426.9 1636.8 427.8 1638.3 428.6 1639.8 429.5 1641.3 430.4 1642.8 431.3 1644.3 432.2 1645.8 433.1 1647.3 433.9 1648.8 434.6 1650.3 435.3 1651.8 436.0 1653.3 436.6 1654.8 437.2 1656.3 437.8 1657.8 438.4 1659.3 439.0 1660.8 439.6 1662.3 440.3 1663.8 440.9 1665.3 441.5 1666.8 442.2 1668.3 442.8 1669.8 443.4 1671.3 444.1 1672.8 444.8 1674.3 445.7 1675.8 446.6 1677.3 447.6 1678.8 448.7 1680.3 450.0 1681.8 451.2 1683.3 452.5 1684.8 453.9 1686.3 455.2 1687.8 456.5 1689.3 457.7 1690.8 458.9 1692.3 460.0 1693.8 461.2 1695.3 462.5 1696.8 463.8 1698.3 465.2 1699.8 466.7 1701.3 468.3 1702.8 470.0 1704.3 471.8 1705.8 473.9 1707.3 476.2 1708.8 478.9 1710.3 481.8 1711.8 485.0 1713.3 488.2 1714.8 491.2 1716.3 493.9 1717.8 496.4 1719.3 498.7 1720.8 500.8 1722.3 502.7 1723.8 504.4 1725.3 506.0 1726.8 507.4 1728.3 508.7 1729.8 509.9 1731.3 511.1 1732.8 512.2 1734.3 513.5 1735.8 514.9 1737.3 516.5 1738.8 518.2 1740.3 520.1 1741.8 521.9 1743.3 523.6 1744.8 524.9 1746.3 525.8 1747.8 526.3 1749.3 526.3 1750.8 525.8 1752.3 524.8 1753.8 523.5 1755.3 521.9 1756.8 520.2 1758.3 519.0 1759.8 518.7 1761.3 519.4 1762.8 521.2 1764.3 523.7 1765.8 526.2 1767.3 528.2 1767.5 528.5" stroke="#e41418"/></g><path d="M1408.8 627.4V622.4M1408.8 385.7V390.7M1488.5 627.4V622.4M1488.5 385.7V390.7M1568.3 627.4V622.4M1568.3 385.7V390.7M1648.0 627.4V622.4M1648.0 385.7V390.7M1727.7 627.4V622.4M1727.7 385.7V390.7M1408.8 605.4H1413.8M1767.6 605.4H1762.6M1408.8 561.5H1413.8M1767.6 561.5H1762.6M1408.8 517.5H1413.8M1767.6 517.5H1762.6M1408.8 473.6H1413.8M1767.6 473.6H1762.6M1408.8 429.6H1413.8M1767.6 429.6H1762.6M1408.8 385.7H1413.8M1767.6 385.7H1762.6" stroke="#262626" stroke-width="2.4" fill="none"/><rect x="1408.8" y="385.7" width="358.8" height="241.7" fill="none" stroke="#262626" stroke-width="2.9"/><text x="1408.8" y="647.8" font-size="14.6" font-weight="bold" text-anchor="middle" fill="#262626" stroke="#262626" stroke-width="0.3">-200</text><text x="1488.5" y="647.8" font-size="14.6" font-weight="bold" text-anchor="middle" fill="#262626" stroke="#262626" stroke-width="0.3">0</text><text x="1568.3" y="647.8" font-size="14.6" font-weight="bold" text-anchor="middle" fill="#262626" stroke="#262626" stroke-width="0.3">200</text><text x="1648.0" y="647.8" font-size="14.6" font-weight="bold" text-anchor="middle" fill="#262626" stroke="#262626" stroke-width="0.3">400</text><text x="1727.7" y="647.8" font-size="14.6" font-weight="bold" text-anchor="middle" fill="#262626" stroke="#262626" stroke-width="0.3">600</text><text x="1402.5" y="610.6" font-size="14.6" font-weight="bold" text-anchor="end" fill="#262626" stroke="#262626" stroke-width="0.3">-4</text><text x="1402.5" y="566.7" font-size="14.6" font-weight="bold" text-anchor="end" fill="#262626" stroke="#262626" stroke-width="0.3">-2</text><text x="1402.5" y="522.7" font-size="14.6" font-weight="bold" text-anchor="end" fill="#262626" stroke="#262626" stroke-width="0.3">0</text><text x="1402.5" y="478.8" font-size="14.6" font-weight="bold" text-anchor="end" fill="#262626" stroke="#262626" stroke-width="0.3">2</text><text x="1402.5" y="434.8" font-size="14.6" font-weight="bold" text-anchor="end" fill="#262626" stroke="#262626" stroke-width="0.3">4</text><text x="1402.5" y="390.9" font-size="14.6" font-weight="bold" text-anchor="end" fill="#262626" stroke="#262626" stroke-width="0.3">6</text><text x="1588.2" y="667.8" font-size="15" font-weight="bold" text-anchor="middle" fill="#262626" stroke="#262626" stroke-width="0.3">time (ms)</text><text transform="translate(1383.2 506.5) rotate(-90)" font-size="15" font-weight="bold" text-anchor="middle" fill="#262626" stroke="#262626" stroke-width="0.3">Amplitude (uV)</text><text x="1588.2" y="380.8" font-size="15" font-weight="bold" text-anchor="middle" fill="#000" stroke="#000" stroke-width="0.3">ADHD P8</text></g>
<g><clipPath id="cp20"><rect x="38.0" y="700.1" width="360.0" height="241.9"/></clipPath><g clip-path="url(#cp20)" fill="none" stroke-width="3.5" stroke-linejoin="round" stroke-linecap="round"><path d="M38.0 841.5L39.5 842.4 41.0 843.7 42.5 845.1 44.0 846.5 45.5 847.8 47.0 849.0 48.5 850.0 50.0 850.7 51.5 851.1 53.0 851.2 54.5 851.1 56.0 850.7 57.5 850.1 59.0 849.5 60.5 848.9 62.0 848.4 63.5 848.0 65.0 848.0 66.5 848.1 68.0 848.5 69.5 849.1 71.0 849.8 72.5 850.6 74.0 851.3 75.5 852.0 77.0 852.5 78.5 852.7 80.0 852.8 81.5 852.6 83.0 852.2 84.5 851.7 86.0 851.1 87.5 850.4 89.0 849.7 90.5 849.1 92.0 848.6 93.5 848.1 95.0 847.9 96.5 847.9 98.0 848.1 99.5 848.7 101.0 849.4 102.5 850.4 104.0 851.4 105.5 852.4 107.0 853.2 108.5 853.7 110.0 853.8 111.5 853.5 113.0 852.8 114.5 851.7 116.0 850.4 117.5 848.9 119.0 847.3 120.5 845.8 122.0 844.4 123.5 843.2 125.0 842.2 126.5 841.6 128.0 841.1 129.5 840.9 131.0 840.9 132.5 840.9 134.0 841.0 135.5 841.2 137.0 841.4 138.5 841.6 140.0 841.9 141.5 842.2 143.0 842.6 144.5 843.0 146.0 843.3 147.5 843.5 149.0 843.7 150.5 843.9 152.0 844.0 153.5 844.0 155.0 843.6 156.5 842.6 158.0 840.7 159.5 837.9 161.0 834.2 162.5 829.6 164.0 824.2 165.5 818.1 167.0 811.5 168.5 804.7 170.0 797.9 171.5 791.1 173.0 784.6 174.5 778.5 176.0 773.1 177.5 768.6 179.0 765.2 180.5 763.4 182.0 763.4 183.5 765.6 185.0 770.1 186.5 776.7 188.0 785.3 189.5 795.3 191.0 805.9 192.5 816.6 194.0 827.0 195.5 836.7 197.0 845.3 198.5 852.4 200.0 857.4 201.5 859.9 203.0 859.6 204.5 856.6 206.0 851.4 207.5 844.8 209.0 837.1 210.5 829.1 212.0 821.3 213.5 814.2 215.0 807.9 216.5 802.4 218.0 797.9 219.5 794.4 221.0 791.9 222.5 790.3 224.0 789.5 225.5 789.3 227.0 789.7 228.5 790.5 230.0 791.5 231.5 792.6 233.0 793.8 234.5 795.1 236.0 796.6 237.5 798.1 239.0 799.7 240.5 801.3 242.0 802.9 243.5 804.2 245.0 805.4 246.5 806.3 248.0 806.9 249.5 807.3 251.0 807.5 252.5 807.6 254.0 807.7 255.5 807.9 257.0 808.3 258.5 808.8 260.0 809.5 261.5 810.2 263.0 811.0 264.5 811.5 266.0 811.7 267.5 811.6 269.0 811.0 270.5 810.1 272.0 809.0 273.5 807.7 275.0 806.5 276.5 805.3 278.0 804.2 279.5 803.2 281.0 802.3 282.5 801.5 284.0 800.9 285.5 800.6 287.0 800.7 288.5 801.3 290.0 802.1 291.5 803.0 293.0 803.7 294.5 804.3 296.0 804.5 297.5 804.6 299.0 804.4 300.5 804.1 302.0 803.7 303.5 803.2 305.0 802.6 306.5 801.9 308.0 801.1 309.5 800.2 311.0 799.4 312.5 798.9 314.0 798.7 315.5 799.0 317.0 799.7 318.5 800.7 320.0 801.9 321.5 803.3 323.0 804.8 324.5 806.2 326.0 807.6 327.5 808.9 329.0 810.2 330.5 811.5 332.0 812.8 333.5 814.1 335.0 815.4 336.5 816.6 338.0 817.8 339.5 819.0 341.0 820.1 342.5 821.2 344.0 822.2 345.5 823.2 347.0 824.1 348.5 825.1 350.0 825.9 351.5 826.7 353.0 827.5 354.5 828.1 356.0 828.7 357.5 829.1 359.0 829.4 360.5 829.5 362.0 829.7 363.5 829.9 365.0 830.3 366.5 831.0 368.0 832.1 369.5 833.4 371.0 834.8 372.5 836.3 374.0 837.9 375.5 839.4 377.0 840.9 378.5 842.4 380.0 843.7 381.5 844.8 383.0 845.7 384.5 846.4 386.0 846.9 387.5 847.1 389.0 847.2 390.5 846.9 392.0 846.4 393.5 845.7 395.0 844.8 396.5 844.0 398.0 843.4" stroke="#86ee3e"/><path d="M38.0 847.1L39.5 847.1 41.0 847.0 42.5 847.0 44.0 846.9 45.5 846.8 47.0 846.7 48.5 846.6 50.0 846.5 51.5 846.4 53.0 846.3 54.5 846.2 56.0 846.2 57.5 846.2 59.0 846.3 60.5 846.4 62.0 846.5 63.5 846.7 65.0 847.0 66.5 847.4 68.0 847.8 69.5 848.3 71.0 848.9 72.5 849.5 74.0 850.0 75.5 850.5 77.0 850.7 78.5 850.8 80.0 850.7 81.5 850.4 83.0 850.0 84.5 849.4 86.0 848.7 87.5 848.1 89.0 847.4 90.5 846.9 92.0 846.5 93.5 846.2 95.0 846.2 96.5 846.3 98.0 846.5 99.5 846.9 101.0 847.3 102.5 847.8 104.0 848.2 105.5 848.7 107.0 849.0 108.5 849.2 110.0 849.3 111.5 849.3 113.0 849.2 114.5 849.0 116.0 848.7 117.5 848.3 119.0 847.9 120.5 847.6 122.0 847.2 123.5 846.8 125.0 846.4 126.5 846.0 128.0 845.6 129.5 845.3 131.0 844.9 132.5 844.5 134.0 844.2 135.5 843.9 137.0 843.8 138.5 843.8 140.0 843.8 141.5 844.1 143.0 844.4 144.5 844.8 146.0 845.2 147.5 845.8 149.0 846.4 150.5 847.3 152.0 848.3 153.5 849.4 155.0 850.0 156.5 849.9 158.0 848.7 159.5 846.4 161.0 843.1 162.5 838.8 164.0 833.6 165.5 827.7 167.0 821.3 168.5 814.7 170.0 808.1 171.5 801.5 173.0 795.0 174.5 788.9 176.0 783.3 177.5 778.6 179.0 774.8 180.5 772.2 182.0 771.4 183.5 772.6 185.0 776.1 186.5 781.9 188.0 789.8 189.5 799.4 191.0 810.0 192.5 820.9 194.0 831.5 195.5 841.5 197.0 850.4 198.5 857.7 200.0 862.9 201.5 865.5 203.0 865.1 204.5 861.8 206.0 856.2 207.5 849.0 209.0 840.8 210.5 832.1 212.0 823.7 213.5 816.0 215.0 809.1 216.5 803.2 218.0 798.3 219.5 794.5 221.0 791.8 222.5 790.1 224.0 789.4 225.5 789.6 227.0 790.6 228.5 792.2 230.0 794.4 231.5 796.8 233.0 799.6 234.5 802.6 236.0 805.6 237.5 808.5 239.0 811.2 240.5 813.8 242.0 816.1 243.5 818.2 245.0 819.9 246.5 821.2 248.0 822.0 249.5 822.4 251.0 822.5 252.5 822.2 254.0 821.8 255.5 821.4 257.0 821.1 258.5 821.1 260.0 821.2 261.5 821.5 263.0 821.9 264.5 822.2 266.0 822.4 267.5 822.4 269.0 822.1 270.5 821.6 272.0 820.7 273.5 819.6 275.0 818.3 276.5 816.9 278.0 815.5 279.5 814.3 281.0 813.3 282.5 812.7 284.0 812.3 285.5 812.1 287.0 812.2 288.5 812.4 290.0 812.7 291.5 813.0 293.0 813.3 294.5 813.7 296.0 814.0 297.5 814.4 299.0 814.9 300.5 815.3 302.0 815.7 303.5 816.0 305.0 816.3 306.5 816.4 308.0 816.4 309.5 816.3 311.0 816.1 312.5 815.8 314.0 815.6 315.5 815.4 317.0 815.4 318.5 815.5 320.0 815.7 321.5 816.0 323.0 816.4 324.5 816.8 326.0 817.3 327.5 818.0 329.0 818.7 330.5 819.5 332.0 820.4 333.5 821.5 335.0 822.6 336.5 823.8 338.0 825.1 339.5 826.4 341.0 827.7 342.5 829.1 344.0 830.6 345.5 832.1 347.0 833.6 348.5 835.2 350.0 836.6 351.5 837.9 353.0 839.0 354.5 839.8 356.0 840.3 357.5 840.6 359.0 840.7 360.5 840.6 362.0 840.3 363.5 840.3 365.0 840.4 366.5 840.6 368.0 841.0 369.5 841.5 371.0 842.0 372.5 842.6 374.0 843.3 375.5 843.9 377.0 844.7 378.5 845.5 380.0 846.4 381.5 847.4 383.0 848.5 384.5 849.5 386.0 850.5 387.5 851.4 389.0 852.1 390.5 852.7 392.0 853.0 393.5 853.3 395.0 853.4 396.5 853.5 398.0 853.6" stroke="#e41418"/><path d="M38.0 846.2L39.5 846.9 41.0 847.8 42.5 849.0 44.0 850.2 45.5 851.3 47.0 852.4 48.5 853.3 50.0 853.9 51.5 854.2 53.0 854.0 54.5 853.4 56.0 852.2 57.5 850.7 59.0 848.8 60.5 846.8 62.0 844.9 63.5 843.3 65.0 842.1 66.5 841.5 68.0 841.4 69.5 841.7 71.0 842.4 72.5 843.2 74.0 844.2 75.5 845.3 77.0 846.3 78.5 847.2 80.0 848.2 81.5 849.2 83.0 850.2 84.5 851.2 86.0 852.2 87.5 853.2 89.0 853.9 90.5 854.5 92.0 854.9 93.5 854.9 95.0 854.7 96.5 854.2 98.0 853.3 99.5 852.3 101.0 851.1 102.5 849.7 104.0 848.3 105.5 847.0 107.0 845.6 108.5 844.4 110.0 843.3 111.5 842.3 113.0 841.7 114.5 841.5 116.0 841.8 117.5 842.6 119.0 843.7 120.5 844.8 122.0 845.7 123.5 846.3 125.0 846.7 126.5 846.9 128.0 847.0 129.5 847.1 131.0 847.1 132.5 847.1 134.0 847.1 135.5 847.0 137.0 846.9 138.5 846.7 140.0 846.6 141.5 846.5 143.0 846.5 144.5 846.6 146.0 846.7 147.5 846.8 149.0 846.9 150.5 846.8 152.0 846.6 153.5 846.4 155.0 846.1 156.5 845.7 158.0 845.1 159.5 844.0 161.0 841.9 162.5 838.7 164.0 834.3 165.5 828.9 167.0 822.8 168.5 816.4 170.0 810.0 171.5 803.7 173.0 797.5 174.5 791.7 176.0 786.5 177.5 782.0 179.0 778.4 180.5 776.0 182.0 775.2 183.5 776.3 185.0 779.5 186.5 784.9 188.0 792.4 189.5 801.5 191.0 811.7 192.5 822.2 194.0 832.6 195.5 842.5 197.0 851.6 198.5 859.4 200.0 865.5 201.5 869.3 203.0 870.3 204.5 868.5 206.0 864.1 207.5 857.8 209.0 850.2 210.5 841.7 212.0 833.1 213.5 825.0 215.0 817.6 216.5 811.1 218.0 805.5 219.5 801.0 221.0 797.4 222.5 795.0 224.0 793.6 225.5 793.1 227.0 793.6 228.5 794.8 230.0 796.6 231.5 798.9 233.0 801.6 234.5 804.5 236.0 807.4 237.5 810.2 239.0 812.6 240.5 814.7 242.0 816.4 243.5 817.9 245.0 819.2 246.5 820.3 248.0 821.1 249.5 821.7 251.0 822.1 252.5 822.4 254.0 822.6 255.5 822.8 257.0 823.1 258.5 823.4 260.0 823.9 261.5 824.5 263.0 825.0 264.5 825.5 266.0 825.8 267.5 825.9 269.0 825.6 270.5 825.0 272.0 823.9 273.5 822.5 275.0 820.9 276.5 819.2 278.0 817.6 279.5 816.3 281.0 815.2 282.5 814.5 284.0 814.2 285.5 814.3 287.0 814.6 288.5 815.0 290.0 815.5 291.5 816.0 293.0 816.3 294.5 816.4 296.0 816.4 297.5 816.2 299.0 816.0 300.5 815.7 302.0 815.4 303.5 815.1 305.0 814.7 306.5 814.3 308.0 813.9 309.5 813.3 311.0 812.8 312.5 812.3 314.0 811.9 315.5 811.6 317.0 811.6 318.5 811.9 320.0 812.3 321.5 813.0 323.0 813.8 324.5 814.8 326.0 815.9 327.5 817.1 329.0 818.2 330.5 819.5 332.0 820.7 333.5 822.0 335.0 823.4 336.5 824.8 338.0 826.2 339.5 827.7 341.0 829.3 342.5 831.0 344.0 832.7 345.5 834.5 347.0 836.3 348.5 838.0 350.0 839.5 351.5 840.9 353.0 842.2 354.5 843.2 356.0 844.2 357.5 845.0 359.0 845.6 360.5 846.0 362.0 846.3 363.5 846.4 365.0 846.5 366.5 846.7 368.0 846.9 369.5 847.4 371.0 848.0 372.5 848.8 374.0 849.7 375.5 850.8 377.0 851.9 378.5 852.8 380.0 853.7 381.5 854.4 383.0 854.9 384.5 855.2 386.0 855.4 387.5 855.5 389.0 855.7 390.5 856.0 392.0 856.4 393.5 856.9 395.0 857.4 396.5 857.9 398.0 858.3" stroke="#1a08d8"/><path d="M38.0 857.3L39.5 856.5 41.0 855.4 42.5 854.0 44.0 852.6 45.5 850.9 47.0 848.9 48.5 846.9 50.0 845.1 51.5 844.0 53.0 843.7 54.5 844.3 56.0 845.5 57.5 846.8 59.0 848.1 60.5 849.2 62.0 850.1 63.5 851.0 65.0 851.7 66.5 852.2 68.0 852.6 69.5 852.7 71.0 852.5 72.5 852.1 74.0 851.5 75.5 850.7 77.0 849.8 78.5 848.9 80.0 848.1 81.5 847.4 83.0 846.8 84.5 846.2 86.0 845.7 87.5 845.3 89.0 845.0 90.5 844.8 92.0 844.7 93.5 844.9 95.0 845.2 96.5 845.8 98.0 846.5 99.5 847.2 101.0 847.8 102.5 848.1 104.0 848.1 105.5 847.7 107.0 847.2 108.5 846.6 110.0 846.1 111.5 846.0 113.0 846.4 114.5 847.2 116.0 848.5 117.5 850.1 119.0 851.8 120.5 853.1 122.0 853.8 123.5 853.7 125.0 853.0 126.5 851.7 128.0 850.0 129.5 848.2 131.0 846.5 132.5 845.1 134.0 844.1 135.5 843.5 137.0 843.2 138.5 843.1 140.0 843.3 141.5 843.6 143.0 844.0 144.5 844.5 146.0 845.1 147.5 845.9 149.0 846.7 150.5 847.5 152.0 848.1 153.5 848.2 155.0 847.8 156.5 847.0 158.0 845.7 159.5 843.8 161.0 841.1 162.5 837.4 164.0 832.8 165.5 827.3 167.0 821.3 168.5 815.1 170.0 808.8 171.5 802.6 173.0 796.5 174.5 790.8 176.0 785.6 177.5 781.1 179.0 777.6 180.5 775.2 182.0 774.3 183.5 775.2 185.0 778.1 186.5 783.0 188.0 789.6 189.5 797.7 191.0 806.7 192.5 815.8 194.0 824.8 195.5 833.2 197.0 840.7 198.5 846.9 200.0 851.3 201.5 853.5 203.0 853.0 204.5 850.2 206.0 845.4 207.5 839.1 209.0 832.0 210.5 824.5 212.0 817.2 213.5 810.5 215.0 804.6 216.5 799.5 218.0 795.3 219.5 792.0 221.0 789.6 222.5 788.2 224.0 787.5 225.5 787.7 227.0 788.6 228.5 790.0 230.0 791.8 231.5 794.0 233.0 796.4 234.5 799.0 236.0 801.6 237.5 804.0 239.0 806.0 240.5 807.7 242.0 809.2 243.5 810.3 245.0 811.3 246.5 812.2 248.0 812.9 249.5 813.5 251.0 814.0 252.5 814.3 254.0 814.5 255.5 814.5 257.0 814.5 258.5 814.6 260.0 814.7 261.5 814.9 263.0 815.3 264.5 815.9 266.0 816.4 267.5 816.9 269.0 817.3 270.5 817.3 272.0 817.0 273.5 816.3 275.0 815.5 276.5 814.5 278.0 813.5 279.5 812.6 281.0 812.0 282.5 811.7 284.0 811.8 285.5 812.1 287.0 812.6 288.5 813.2 290.0 813.7 291.5 814.2 293.0 814.5 294.5 814.5 296.0 814.3 297.5 813.9 299.0 813.3 300.5 812.6 302.0 811.8 303.5 811.0 305.0 810.3 306.5 809.7 308.0 809.3 309.5 809.0 311.0 809.0 312.5 809.0 314.0 809.2 315.5 809.5 317.0 809.9 318.5 810.3 320.0 810.9 321.5 811.5 323.0 812.2 324.5 813.0 326.0 813.9 327.5 814.9 329.0 815.9 330.5 816.9 332.0 817.9 333.5 818.8 335.0 819.5 336.5 820.3 338.0 820.9 339.5 821.5 341.0 822.1 342.5 822.6 344.0 823.1 345.5 823.6 347.0 824.0 348.5 824.4 350.0 824.8 351.5 825.1 353.0 825.4 354.5 825.7 356.0 826.1 357.5 826.5 359.0 827.1 360.5 827.6 362.0 828.2 363.5 828.9 365.0 829.6 366.5 830.4 368.0 831.2 369.5 832.1 371.0 833.1 372.5 834.1 374.0 835.3 375.5 836.5 377.0 837.7 378.5 838.7 380.0 839.6 381.5 840.3 383.0 840.7 384.5 840.9 386.0 840.9 387.5 840.8 389.0 840.7 390.5 840.6 392.0 840.6 393.5 840.6 395.0 840.6 396.5 840.6 398.0 840.6" stroke="#e40ae8"/><path d="M38.0 841.5L39.5 842.4 41.0 843.6 42.5 845.0 44.0 846.3 45.5 847.6 47.0 848.8 48.5 849.9 50.0 850.9 51.5 851.8 53.0 852.4 54.5 852.8 56.0 852.8 57.5 852.6 59.0 852.1 60.5 851.5 62.0 850.9 63.5 850.3 65.0 849.8 66.5 849.4 68.0 849.2 69.5 849.0 71.0 849.0 72.5 848.9 74.0 848.9 75.5 848.9 77.0 848.9 78.5 848.9 80.0 849.0 81.5 849.0 83.0 849.0 84.5 849.1 86.0 849.1 87.5 849.2 89.0 849.2 90.5 849.3 92.0 849.3 93.5 849.4 95.0 849.4 96.5 849.5 98.0 849.6 99.5 849.7 101.0 849.7 102.5 849.7 104.0 849.5 105.5 849.2 107.0 848.8 108.5 848.2 110.0 847.5 111.5 846.9 113.0 846.6 114.5 846.6 116.0 847.0 117.5 847.6 119.0 848.5 120.5 849.4 122.0 850.3 123.5 851.3 125.0 852.2 126.5 853.1 128.0 854.1 129.5 855.0 131.0 856.0 132.5 857.0 134.0 857.8 135.5 858.2 137.0 858.2 138.5 857.6 140.0 856.8 141.5 855.8 143.0 854.7 144.5 853.6 146.0 852.5 147.5 851.4 149.0 850.5 150.5 849.7 152.0 849.0 153.5 848.4 155.0 847.6 156.5 846.5 158.0 845.1 159.5 843.1 161.0 840.6 162.5 837.2 164.0 833.0 165.5 828.2 167.0 822.8 168.5 817.3 170.0 811.7 171.5 806.2 173.0 800.9 174.5 796.0 176.0 791.6 177.5 787.9 179.0 785.2 180.5 783.8 182.0 783.9 183.5 785.8 185.0 789.7 186.5 795.4 188.0 802.8 189.5 811.4 191.0 820.7 192.5 829.9 194.0 838.9 195.5 847.3 197.0 854.7 198.5 860.9 200.0 865.1 201.5 866.7 203.0 865.3 204.5 860.8 206.0 853.8 207.5 845.0 209.0 834.9 210.5 824.5 212.0 814.7 213.5 805.8 215.0 798.1 216.5 791.6 218.0 786.4 219.5 782.6 221.0 780.2 222.5 779.2 224.0 779.5 225.5 781.0 227.0 783.3 228.5 786.4 230.0 790.0 231.5 793.9 233.0 797.9 234.5 801.8 236.0 805.3 237.5 808.6 239.0 811.4 240.5 813.8 242.0 815.7 243.5 817.2 245.0 818.5 246.5 819.5 248.0 820.4 249.5 821.1 251.0 821.6 252.5 822.0 254.0 822.2 255.5 822.5 257.0 822.7 258.5 823.0 260.0 823.3 261.5 823.7 263.0 824.0 264.5 824.2 266.0 824.3 267.5 824.3 269.0 824.0 270.5 823.3 272.0 822.4 273.5 821.1 275.0 819.6 276.5 818.1 278.0 816.7 279.5 815.6 281.0 815.0 282.5 815.0 284.0 815.6 285.5 816.6 287.0 817.8 288.5 818.8 290.0 819.4 291.5 819.3 293.0 818.6 294.5 817.6 296.0 816.3 297.5 815.0 299.0 813.9 300.5 813.1 302.0 812.7 303.5 812.8 305.0 813.3 306.5 814.0 308.0 815.0 309.5 816.0 311.0 816.9 312.5 817.7 314.0 818.2 315.5 818.4 317.0 818.3 318.5 817.9 320.0 817.5 321.5 817.1 323.0 816.8 324.5 816.9 326.0 817.2 327.5 817.8 329.0 818.6 330.5 819.7 332.0 820.8 333.5 822.1 335.0 823.4 336.5 824.7 338.0 826.0 339.5 827.3 341.0 828.6 342.5 829.9 344.0 831.2 345.5 832.5 347.0 833.8 348.5 835.1 350.0 836.4 351.5 837.7 353.0 839.0 354.5 840.2 356.0 841.4 357.5 842.6 359.0 843.6 360.5 844.4 362.0 844.9 363.5 845.0 365.0 844.7 366.5 844.0 368.0 843.0 369.5 842.1 371.0 841.3 372.5 840.7 374.0 840.6 375.5 840.7 377.0 841.1 378.5 841.8 380.0 842.5 381.5 843.4 383.0 844.3 384.5 845.4 386.0 846.5 387.5 847.6 389.0 848.6 390.5 849.4 392.0 850.1 393.5 850.6 395.0 851.0 396.5 851.3 398.0 851.6" stroke="#000000"/></g><path d="M38.0 942.0V937.0M38.0 700.1V705.1M118.0 942.0V937.0M118.0 700.1V705.1M198.0 942.0V937.0M198.0 700.1V705.1M278.0 942.0V937.0M278.0 700.1V705.1M358.0 942.0V937.0M358.0 700.1V705.1M38.0 923.4H43.0M398.0 923.4H393.0M38.0 886.2H43.0M398.0 886.2H393.0M38.0 849.0H43.0M398.0 849.0H393.0M38.0 811.7H43.0M398.0 811.7H393.0M38.0 774.5H43.0M398.0 774.5H393.0M38.0 737.3H43.0M398.0 737.3H393.0M38.0 700.1H43.0M398.0 700.1H393.0" stroke="#262626" stroke-width="2.4" fill="none"/><rect x="38.0" y="700.1" width="360.0" height="241.9" fill="none" stroke="#262626" stroke-width="2.9"/><text x="38.0" y="962.4" font-size="14.6" font-weight="bold" text-anchor="middle" fill="#262626" stroke="#262626" stroke-width="0.3">-200</text><text x="118.0" y="962.4" font-size="14.6" font-weight="bold" text-anchor="middle" fill="#262626" stroke="#262626" stroke-width="0.3">0</text><text x="198.0" y="962.4" font-size="14.6" font-weight="bold" text-anchor="middle" fill="#262626" stroke="#262626" stroke-width="0.3">200</text><text x="278.0" y="962.4" font-size="14.6" font-weight="bold" text-anchor="middle" fill="#262626" stroke="#262626" stroke-width="0.3">400</text><text x="358.0" y="962.4" font-size="14.6" font-weight="bold" text-anchor="middle" fill="#262626" stroke="#262626" stroke-width="0.3">600</text><text x="31.7" y="928.6" font-size="14.6" font-weight="bold" text-anchor="end" fill="#262626" stroke="#262626" stroke-width="0.3">-4</text><text x="31.7" y="891.4" font-size="14.6" font-weight="bold" text-anchor="end" fill="#262626" stroke="#262626" stroke-width="0.3">-2</text><text x="31.7" y="854.2" font-size="14.6" font-weight="bold" text-anchor="end" fill="#262626" stroke="#262626" stroke-width="0.3">0</text><text x="31.7" y="816.9" font-size="14.6" font-weight="bold" text-anchor="end" fill="#262626" stroke="#262626" stroke-width="0.3">2</text><text x="31.7" y="779.7" font-size="14.6" font-weight="bold" text-anchor="end" fill="#262626" stroke="#262626" stroke-width="0.3">4</text><text x="31.7" y="742.5" font-size="14.6" font-weight="bold" text-anchor="end" fill="#262626" stroke="#262626" stroke-width="0.3">6</text><text x="31.7" y="705.3" font-size="14.6" font-weight="bold" text-anchor="end" fill="#262626" stroke="#262626" stroke-width="0.3">8</text><text x="218.0" y="982.4" font-size="15" font-weight="bold" text-anchor="middle" fill="#262626" stroke="#262626" stroke-width="0.3">time (ms)</text><text transform="translate(12.4 821.0) rotate(-90)" font-size="15" font-weight="bold" text-anchor="middle" fill="#262626" stroke="#262626" stroke-width="0.3">Amplitude (uV)</text><text x="218.0" y="695.2" font-size="15" font-weight="bold" text-anchor="middle" fill="#000" stroke="#000" stroke-width="0.3">Autism P7</text></g>
<g><clipPath id="cp21"><rect x="509.5" y="700.1" width="360.0" height="241.9"/></clipPath><g clip-path="url(#cp21)" fill="none" stroke-width="3.5" stroke-linejoin="round" stroke-linecap="round"><path d="M509.5 854.5L511.0 854.3 512.5 854.0 514.0 853.7 515.5 853.3 517.0 853.0 518.5 852.6 520.0 852.3 521.5 851.9 523.0 851.6 524.5 851.4 526.0 851.1 527.5 851.0 529.0 850.8 530.5 850.8 532.0 850.8 533.5 850.9 535.0 851.0 536.5 851.2 538.0 851.4 539.5 851.7 541.0 851.9 542.5 852.1 544.0 852.3 545.5 852.5 547.0 852.6 548.5 852.7 550.0 852.7 551.5 852.7 553.0 852.6 554.5 852.5 556.0 852.4 557.5 852.3 559.0 852.1 560.5 851.9 562.0 851.6 563.5 851.2 565.0 850.8 566.5 850.3 568.0 849.8 569.5 849.3 571.0 848.7 572.5 848.2 574.0 847.6 575.5 847.1 577.0 846.6 578.5 846.1 580.0 845.7 581.5 845.2 583.0 844.8 584.5 844.4 586.0 844.1 587.5 843.9 589.0 843.8 590.5 843.8 592.0 844.0 593.5 844.3 595.0 844.7 596.5 845.1 598.0 845.5 599.5 845.8 601.0 845.9 602.5 846.0 604.0 845.9 605.5 845.8 607.0 845.6 608.5 845.3 610.0 844.9 611.5 844.4 613.0 843.8 614.5 843.1 616.0 842.2 617.5 841.2 619.0 840.0 620.5 838.9 622.0 837.9 623.5 837.0 625.0 836.3 626.5 835.7 628.0 834.9 629.5 833.5 631.0 831.1 632.5 827.4 634.0 822.2 635.5 815.3 637.0 806.7 638.5 797.0 640.0 786.9 641.5 777.3 643.0 768.7 644.5 761.3 646.0 754.9 647.5 749.8 649.0 746.0 650.5 744.0 652.0 744.2 653.5 746.8 655.0 752.0 656.5 759.5 658.0 769.0 659.5 780.2 661.0 792.2 662.5 804.7 664.0 817.2 665.5 829.5 667.0 841.1 668.5 851.5 670.0 860.3 671.5 866.9 673.0 870.7 674.5 871.1 676.0 868.3 677.5 862.8 679.0 855.3 680.5 846.2 682.0 836.2 683.5 825.7 685.0 815.4 686.5 805.3 688.0 795.8 689.5 787.4 691.0 780.1 692.5 774.4 694.0 770.2 695.5 767.7 697.0 766.8 698.5 767.5 700.0 769.1 701.5 771.3 703.0 773.6 704.5 775.9 706.0 778.0 707.5 779.8 709.0 781.3 710.5 782.3 712.0 783.0 713.5 783.2 715.0 783.0 716.5 782.6 718.0 781.9 719.5 781.2 721.0 780.3 722.5 779.2 724.0 778.0 725.5 776.7 727.0 775.6 728.5 774.8 730.0 774.5 731.5 774.7 733.0 775.3 734.5 776.1 736.0 777.0 737.5 777.9 739.0 778.7 740.5 779.5 742.0 780.3 743.5 781.1 745.0 781.7 746.5 782.3 748.0 782.7 749.5 782.9 751.0 782.9 752.5 782.8 754.0 782.5 755.5 782.1 757.0 781.7 758.5 781.2 760.0 780.6 761.5 780.1 763.0 779.4 764.5 778.7 766.0 778.0 767.5 777.2 769.0 776.5 770.5 776.0 772.0 775.6 773.5 775.5 775.0 775.6 776.5 775.9 778.0 776.4 779.5 777.0 781.0 777.7 782.5 778.4 784.0 779.2 785.5 779.9 787.0 780.6 788.5 781.3 790.0 781.9 791.5 782.6 793.0 783.4 794.5 784.1 796.0 784.9 797.5 785.7 799.0 786.6 800.5 787.5 802.0 788.5 803.5 789.4 805.0 790.4 806.5 791.4 808.0 792.3 809.5 793.2 811.0 794.0 812.5 794.8 814.0 795.6 815.5 796.3 817.0 797.0 818.5 797.7 820.0 798.3 821.5 798.9 823.0 799.5 824.5 800.0 826.0 800.5 827.5 801.0 829.0 801.4 830.5 801.9 832.0 802.3 833.5 802.8 835.0 803.2 836.5 803.7 838.0 804.1 839.5 804.6 841.0 805.0 842.5 805.5 844.0 806.0 845.5 806.6 847.0 807.2 848.5 807.8 850.0 808.4 851.5 809.1 853.0 809.8 854.5 810.6 856.0 811.4 857.5 812.4 859.0 813.4 860.5 814.4 862.0 815.6 863.5 816.8 865.0 818.0 866.5 819.2 868.0 820.3 869.5 821.0" stroke="#86ee3e"/><path d="M509.5 848.2L511.0 848.3 512.5 848.5 514.0 848.5 515.5 848.5 517.0 848.4 518.5 848.4 520.0 848.4 521.5 848.5 523.0 848.8 524.5 849.2 526.0 849.8 527.5 850.6 529.0 851.7 530.5 853.0 532.0 854.5 533.5 855.9 535.0 857.0 536.5 857.6 538.0 857.7 539.5 857.2 541.0 856.3 542.5 855.1 544.0 853.7 545.5 852.3 547.0 851.1 548.5 850.1 550.0 849.4 551.5 849.0 553.0 848.8 554.5 848.7 556.0 848.8 557.5 849.0 559.0 849.1 560.5 849.1 562.0 849.0 563.5 848.7 565.0 848.2 566.5 847.4 568.0 846.4 569.5 845.2 571.0 843.8 572.5 842.5 574.0 841.4 575.5 840.4 577.0 839.9 578.5 839.6 580.0 839.7 581.5 840.0 583.0 840.4 584.5 841.0 586.0 841.5 587.5 842.1 589.0 842.7 590.5 843.3 592.0 843.9 593.5 844.6 595.0 845.2 596.5 845.8 598.0 846.4 599.5 846.9 601.0 847.5 602.5 847.9 604.0 848.2 605.5 848.2 607.0 847.8 608.5 847.2 610.0 846.3 611.5 845.2 613.0 844.1 614.5 843.1 616.0 842.3 617.5 841.7 619.0 841.4 620.5 841.3 622.0 841.3 623.5 841.6 625.0 842.0 626.5 842.1 628.0 841.8 629.5 840.7 631.0 838.5 632.5 835.1 634.0 830.1 635.5 823.6 637.0 815.5 638.5 806.1 640.0 796.2 641.5 786.6 643.0 778.0 644.5 770.3 646.0 763.8 647.5 758.3 649.0 754.0 650.5 751.1 652.0 750.3 653.5 751.8 655.0 755.9 656.5 762.6 658.0 771.6 659.5 782.5 661.0 794.6 662.5 807.4 664.0 820.3 665.5 833.0 667.0 845.1 668.5 856.0 670.0 865.2 671.5 872.2 673.0 876.2 674.5 876.8 676.0 874.0 677.5 868.5 679.0 860.8 680.5 851.7 682.0 841.5 683.5 830.9 685.0 820.3 686.5 809.9 688.0 800.1 689.5 791.3 691.0 783.6 692.5 777.4 694.0 772.8 695.5 769.9 697.0 768.8 698.5 769.4 700.0 771.3 701.5 773.8 703.0 776.7 704.5 779.5 706.0 782.1 707.5 784.7 709.0 787.4 710.5 790.5 712.0 794.0 713.5 797.2 715.0 799.7 716.5 800.9 718.0 800.8 719.5 799.8 721.0 798.2 722.5 796.3 724.0 794.3 725.5 792.1 727.0 790.2 728.5 788.6 730.0 787.6 731.5 787.1 733.0 787.2 734.5 787.7 736.0 788.4 737.5 789.5 739.0 790.8 740.5 792.3 742.0 794.1 743.5 795.8 745.0 797.3 746.5 798.3 748.0 798.8 749.5 798.6 751.0 798.0 752.5 797.1 754.0 796.0 755.5 794.9 757.0 793.8 758.5 792.7 760.0 791.7 761.5 790.8 763.0 789.8 764.5 789.0 766.0 788.3 767.5 787.8 769.0 787.6 770.5 787.6 772.0 787.9 773.5 788.4 775.0 789.1 776.5 790.0 778.0 790.9 779.5 791.9 781.0 793.0 782.5 794.2 784.0 795.5 785.5 796.8 787.0 798.2 788.5 799.3 790.0 800.2 791.5 800.6 793.0 800.5 794.5 799.7 796.0 798.5 797.5 797.3 799.0 796.6 800.5 796.6 802.0 797.5 803.5 799.3 805.0 801.8 806.5 804.9 808.0 808.2 809.5 811.4 811.0 814.1 812.5 816.1 814.0 817.3 815.5 817.7 817.0 817.2 818.5 816.3 820.0 815.6 821.5 815.5 823.0 815.9 824.5 816.7 826.0 817.7 827.5 818.7 829.0 819.6 830.5 820.3 832.0 820.6 833.5 820.7 835.0 820.6 836.5 820.3 838.0 820.0 839.5 819.8 841.0 819.8 842.5 820.0 844.0 820.5 845.5 821.2 847.0 822.2 848.5 823.5 850.0 824.9 851.5 826.4 853.0 828.1 854.5 829.8 856.0 831.6 857.5 833.5 859.0 835.2 860.5 836.8 862.0 838.1 863.5 839.2 865.0 840.0 866.5 840.6 868.0 841.1 869.5 841.5" stroke="#e41418"/><path d="M509.5 853.8L511.0 853.6 512.5 853.3 514.0 853.0 515.5 852.6 517.0 852.3 518.5 852.0 520.0 851.7 521.5 851.4 523.0 851.1 524.5 850.9 526.0 850.8 527.5 850.7 529.0 850.7 530.5 850.8 532.0 850.8 533.5 850.9 535.0 851.0 536.5 851.1 538.0 851.1 539.5 851.0 541.0 850.8 542.5 850.6 544.0 850.3 545.5 849.9 547.0 849.5 548.5 849.0 550.0 848.5 551.5 847.9 553.0 847.4 554.5 846.8 556.0 846.3 557.5 845.7 559.0 845.1 560.5 844.4 562.0 843.7 563.5 843.1 565.0 842.7 566.5 842.6 568.0 842.9 569.5 843.6 571.0 844.7 572.5 846.0 574.0 847.2 575.5 848.0 577.0 848.3 578.5 847.8 580.0 846.9 581.5 845.5 583.0 844.0 584.5 842.7 586.0 841.7 587.5 841.0 589.0 840.5 590.5 840.3 592.0 840.3 593.5 840.3 595.0 840.5 596.5 840.8 598.0 841.2 599.5 841.6 601.0 842.2 602.5 842.8 604.0 843.3 605.5 843.9 607.0 844.5 608.5 845.2 610.0 845.8 611.5 846.3 613.0 846.6 614.5 846.6 616.0 846.3 617.5 845.7 619.0 844.8 620.5 843.7 622.0 842.5 623.5 841.4 625.0 840.4 626.5 839.5 628.0 838.4 629.5 836.8 631.0 834.3 632.5 830.7 634.0 825.7 635.5 819.1 637.0 810.9 638.5 801.5 640.0 791.8 641.5 782.6 643.0 774.4 644.5 767.2 646.0 761.1 647.5 756.2 649.0 752.6 650.5 750.6 652.0 750.6 653.5 752.9 655.0 757.5 656.5 764.2 658.0 772.7 659.5 782.7 661.0 793.5 662.5 804.7 664.0 816.0 665.5 827.2 667.0 837.8 668.5 847.4 670.0 855.7 671.5 862.3 673.0 866.4 674.5 867.6 676.0 865.9 677.5 861.7 679.0 855.5 680.5 847.8 682.0 839.1 683.5 829.7 685.0 820.2 686.5 810.9 688.0 801.9 689.5 793.4 691.0 785.9 692.5 779.5 694.0 774.3 695.5 770.6 697.0 768.5 698.5 768.0 700.0 768.9 701.5 770.9 703.0 773.4 704.5 776.0 706.0 778.5 707.5 780.7 709.0 782.7 710.5 784.4 712.0 785.9 713.5 787.2 715.0 788.2 716.5 789.0 718.0 789.5 719.5 789.7 721.0 789.7 722.5 789.4 724.0 788.9 725.5 788.3 727.0 787.6 728.5 786.9 730.0 786.3 731.5 785.6 733.0 784.9 734.5 784.3 736.0 783.9 737.5 783.9 739.0 784.2 740.5 785.0 742.0 786.0 743.5 787.2 745.0 788.5 746.5 789.7 748.0 790.6 749.5 791.2 751.0 791.4 752.5 791.3 754.0 791.0 755.5 790.4 757.0 789.8 758.5 789.0 760.0 788.2 761.5 787.4 763.0 786.7 764.5 786.1 766.0 785.6 767.5 785.2 769.0 784.8 770.5 784.4 772.0 784.1 773.5 783.9 775.0 783.8 776.5 783.8 778.0 783.9 779.5 784.2 781.0 784.7 782.5 785.2 784.0 785.8 785.5 786.5 787.0 787.2 788.5 788.0 790.0 788.7 791.5 789.5 793.0 790.3 794.5 791.1 796.0 791.9 797.5 792.8 799.0 793.6 800.5 794.5 802.0 795.4 803.5 796.4 805.0 797.4 806.5 798.3 808.0 799.3 809.5 800.3 811.0 801.2 812.5 802.1 814.0 802.9 815.5 803.7 817.0 804.4 818.5 805.1 820.0 805.8 821.5 806.6 823.0 807.5 824.5 808.4 826.0 809.4 827.5 810.4 829.0 811.4 830.5 812.4 832.0 813.3 833.5 814.0 835.0 814.7 836.5 815.3 838.0 815.9 839.5 816.3 841.0 816.8 842.5 817.2 844.0 817.6 845.5 817.9 847.0 818.2 848.5 818.5 850.0 818.8 851.5 819.3 853.0 819.9 854.5 820.8 856.0 822.0 857.5 823.4 859.0 825.1 860.5 826.9 862.0 828.9 863.5 830.9 865.0 832.9 866.5 834.9 868.0 836.6 869.5 837.8" stroke="#1a08d8"/><path d="M509.5 843.8L511.0 843.3 512.5 842.6 514.0 842.0 515.5 841.6 517.0 841.5 518.5 841.8 520.0 842.4 521.5 843.3 523.0 844.4 524.5 845.6 526.0 846.9 527.5 848.0 529.0 848.9 530.5 849.7 532.0 850.4 533.5 850.9 535.0 851.4 536.5 851.7 538.0 851.9 539.5 851.9 541.0 851.6 542.5 851.1 544.0 850.4 545.5 849.5 547.0 848.6 548.5 847.8 550.0 847.1 551.5 846.7 553.0 846.4 554.5 846.1 556.0 846.0 557.5 846.0 559.0 846.0 560.5 846.1 562.0 846.2 563.5 846.4 565.0 846.6 566.5 846.9 568.0 847.3 569.5 847.8 571.0 848.3 572.5 848.8 574.0 849.4 575.5 849.9 577.0 850.4 578.5 850.8 580.0 851.2 581.5 851.5 583.0 851.6 584.5 851.6 586.0 851.4 587.5 851.1 589.0 850.5 590.5 849.8 592.0 849.1 593.5 848.3 595.0 847.5 596.5 846.7 598.0 845.9 599.5 844.9 601.0 843.9 602.5 842.6 604.0 841.2 605.5 839.7 607.0 838.2 608.5 836.8 610.0 835.8 611.5 835.1 613.0 834.9 614.5 835.0 616.0 835.4 617.5 836.0 619.0 837.0 620.5 838.1 622.0 839.2 623.5 840.1 625.0 840.6 626.5 840.5 628.0 839.7 629.5 838.1 631.0 835.6 632.5 831.9 634.0 826.8 635.5 820.2 637.0 811.9 638.5 802.2 640.0 792.0 641.5 782.2 643.0 773.3 644.5 765.4 646.0 758.7 647.5 753.0 649.0 748.6 650.5 745.6 652.0 744.7 653.5 746.2 655.0 750.2 656.5 756.8 658.0 765.6 659.5 776.4 661.0 788.3 662.5 800.8 664.0 813.5 665.5 826.1 667.0 838.0 668.5 848.7 670.0 857.7 671.5 864.6 673.0 868.7 674.5 869.5 676.0 867.1 677.5 862.0 679.0 855.1 680.5 846.6 682.0 837.2 683.5 827.2 685.0 817.2 686.5 807.3 688.0 797.8 689.5 789.0 691.0 781.1 692.5 774.3 694.0 768.9 695.5 765.1 697.0 762.9 698.5 762.4 700.0 763.5 701.5 765.7 703.0 768.4 704.5 771.4 706.0 774.1 707.5 776.6 709.0 778.8 710.5 780.9 712.0 782.7 713.5 784.4 715.0 785.8 716.5 786.9 718.0 787.6 719.5 788.0 721.0 788.1 722.5 787.8 724.0 787.3 725.5 786.7 727.0 785.8 728.5 784.8 730.0 783.6 731.5 782.3 733.0 781.2 734.5 780.4 736.0 780.1 737.5 780.3 739.0 781.0 740.5 782.0 742.0 783.1 743.5 784.2 745.0 785.1 746.5 785.8 748.0 786.3 749.5 786.7 751.0 786.9 752.5 787.1 754.0 787.1 755.5 786.9 757.0 786.6 758.5 786.1 760.0 785.5 761.5 784.7 763.0 783.8 764.5 783.0 766.0 782.4 767.5 782.0 769.0 781.9 770.5 782.1 772.0 782.5 773.5 783.0 775.0 783.4 776.5 783.8 778.0 783.8 779.5 783.7 781.0 783.3 782.5 782.8 784.0 782.3 785.5 781.9 787.0 781.7 788.5 781.8 790.0 782.2 791.5 783.0 793.0 784.0 794.5 785.3 796.0 786.6 797.5 788.0 799.0 789.3 800.5 790.6 802.0 791.7 803.5 792.7 805.0 793.6 806.5 794.5 808.0 795.3 809.5 795.9 811.0 796.5 812.5 796.9 814.0 797.2 815.5 797.3 817.0 796.8 818.5 796.4 820.0 796.5 821.5 796.8 823.0 797.5 824.5 798.4 826.0 799.5 827.5 800.7 829.0 802.0 830.5 803.4 832.0 804.9 833.5 806.4 835.0 807.9 836.5 809.2 838.0 810.2 839.5 811.1 841.0 811.6 842.5 812.0 844.0 811.9 845.5 811.4 847.0 810.4 848.5 808.9 850.0 807.3 851.5 806.0 853.0 805.3 854.5 805.4 856.0 806.3 857.5 807.8 859.0 809.5 860.5 811.2 862.0 812.8 863.5 814.2 865.0 815.4 866.5 816.6 868.0 817.5 869.5 818.3" stroke="#e40ae8"/><path d="M509.5 847.1L511.0 847.5 512.5 848.0 514.0 848.6 515.5 849.3 517.0 849.9 518.5 850.4 520.0 851.0 521.5 851.5 523.0 851.9 524.5 852.4 526.0 852.8 527.5 853.1 529.0 853.4 530.5 853.6 532.0 853.8 533.5 853.8 535.0 853.7 536.5 853.6 538.0 853.4 539.5 853.1 541.0 852.7 542.5 852.3 544.0 851.9 545.5 851.5 547.0 851.1 548.5 850.6 550.0 850.1 551.5 849.6 553.0 849.1 554.5 848.7 556.0 848.4 557.5 848.2 559.0 848.2 560.5 848.4 562.0 848.7 563.5 849.1 565.0 849.4 566.5 849.6 568.0 849.5 569.5 849.2 571.0 848.6 572.5 847.8 574.0 846.7 575.5 845.6 577.0 844.4 578.5 843.2 580.0 842.2 581.5 841.3 583.0 840.5 584.5 839.9 586.0 839.6 587.5 839.7 589.0 840.3 590.5 841.3 592.0 842.7 593.5 844.2 595.0 845.9 596.5 847.6 598.0 849.3 599.5 850.7 601.0 851.5 602.5 851.4 604.0 850.6 605.5 849.2 607.0 847.5 608.5 845.9 610.0 844.5 611.5 843.4 613.0 842.5 614.5 841.8 616.0 841.3 617.5 841.0 619.0 840.9 620.5 840.9 622.0 840.8 623.5 840.6 625.0 840.3 626.5 839.6 628.0 838.5 629.5 836.8 631.0 834.3 632.5 830.7 634.0 825.8 635.5 819.4 637.0 811.4 638.5 802.2 640.0 792.7 641.5 783.7 643.0 775.6 644.5 768.6 646.0 762.7 647.5 757.8 649.0 754.3 650.5 752.4 652.0 752.5 653.5 755.0 655.0 759.7 656.5 766.6 658.0 775.4 659.5 785.4 661.0 796.2 662.5 807.2 664.0 818.2 665.5 828.8 667.0 838.5 668.5 846.8 670.0 853.3 671.5 857.0 673.0 857.5 674.5 854.5 676.0 848.6 677.5 840.3 679.0 830.2 680.5 819.0 682.0 807.4 683.5 795.9 685.0 784.8 686.5 774.5 688.0 765.6 689.5 758.2 691.0 752.6 692.5 748.9 694.0 747.3 695.5 747.7 697.0 749.8 698.5 752.9 700.0 756.6 701.5 760.6 703.0 764.8 704.5 768.9 706.0 772.8 707.5 776.3 709.0 779.3 710.5 781.8 712.0 783.5 713.5 784.6 715.0 785.0 716.5 785.1 718.0 785.2 719.5 785.5 721.0 786.1 722.5 787.0 724.0 787.9 725.5 788.8 727.0 789.3 728.5 789.5 730.0 789.1 731.5 788.4 733.0 787.5 734.5 786.6 736.0 785.9 737.5 785.7 739.0 785.9 740.5 786.4 742.0 787.3 743.5 788.2 745.0 789.2 746.5 790.1 748.0 790.8 749.5 791.2 751.0 791.3 752.5 791.2 754.0 790.8 755.5 790.3 757.0 789.8 758.5 789.2 760.0 788.7 761.5 788.1 763.0 787.7 764.5 787.2 766.0 786.7 767.5 786.3 769.0 785.9 770.5 785.7 772.0 785.6 773.5 785.7 775.0 786.0 776.5 786.5 778.0 787.1 779.5 787.9 781.0 788.7 782.5 789.5 784.0 790.3 785.5 791.1 787.0 791.8 788.5 792.5 790.0 793.1 791.5 793.8 793.0 794.5 794.5 795.2 796.0 796.0 797.5 796.9 799.0 797.9 800.5 799.0 802.0 800.2 803.5 801.4 805.0 802.6 806.5 803.8 808.0 805.0 809.5 806.2 811.0 807.2 812.5 808.3 814.0 809.3 815.5 810.2 817.0 811.2 818.5 812.2 820.0 813.2 821.5 814.3 823.0 815.3 824.5 816.4 826.0 817.4 827.5 818.2 829.0 819.0 830.5 819.4 832.0 819.7 833.5 819.7 835.0 819.5 836.5 819.1 838.0 818.7 839.5 818.4 841.0 818.2 842.5 818.3 844.0 818.6 845.5 819.3 847.0 820.2 848.5 821.4 850.0 822.7 851.5 824.1 853.0 825.6 854.5 827.1 856.0 828.7 857.5 830.3 859.0 831.8 860.5 833.1 862.0 834.1 863.5 834.8 865.0 835.3 866.5 835.6 868.0 835.8 869.5 835.9" stroke="#000000"/></g><path d="M509.5 942.0V937.0M509.5 700.1V705.1M589.5 942.0V937.0M589.5 700.1V705.1M669.5 942.0V937.0M669.5 700.1V705.1M749.5 942.0V937.0M749.5 700.1V705.1M829.5 942.0V937.0M829.5 700.1V705.1M509.5 923.4H514.5M869.5 923.4H864.5M509.5 886.2H514.5M869.5 886.2H864.5M509.5 849.0H514.5M869.5 849.0H864.5M509.5 811.7H514.5M869.5 811.7H864.5M509.5 774.5H514.5M869.5 774.5H864.5M509.5 737.3H514.5M869.5 737.3H864.5M509.5 700.1H514.5M869.5 700.1H864.5" stroke="#262626" stroke-width="2.4" fill="none"/><rect x="509.5" y="700.1" width="360.0" height="241.9" fill="none" stroke="#262626" stroke-width="2.9"/><text x="509.5" y="962.4" font-size="14.6" font-weight="bold" text-anchor="middle" fill="#262626" stroke="#262626" stroke-width="0.3">-200</text><text x="589.5" y="962.4" font-size="14.6" font-weight="bold" text-anchor="middle" fill="#262626" stroke="#262626" stroke-width="0.3">0</text><text x="669.5" y="962.4" font-size="14.6" font-weight="bold" text-anchor="middle" fill="#262626" stroke="#262626" stroke-width="0.3">200</text><text x="749.5" y="962.4" font-size="14.6" font-weight="bold" text-anchor="middle" fill="#262626" stroke="#262626" stroke-width="0.3">400</text><text x="829.5" y="962.4" font-size="14.6" font-weight="bold" text-anchor="middle" fill="#262626" stroke="#262626" stroke-width="0.3">600</text><text x="503.2" y="928.6" font-size="14.6" font-weight="bold" text-anchor="end" fill="#262626" stroke="#262626" stroke-width="0.3">-4</text><text x="503.2" y="891.4" font-size="14.6" font-weight="bold" text-anchor="end" fill="#262626" stroke="#262626" stroke-width="0.3">-2</text><text x="503.2" y="854.2" font-size="14.6" font-weight="bold" text-anchor="end" fill="#262626" stroke="#262626" stroke-width="0.3">0</text><text x="503.2" y="816.9" font-size="14.6" font-weight="bold" text-anchor="end" fill="#262626" stroke="#262626" stroke-width="0.3">2</text><text x="503.2" y="779.7" font-size="14.6" font-weight="bold" text-anchor="end" fill="#262626" stroke="#262626" stroke-width="0.3">4</text><text x="503.2" y="742.5" font-size="14.6" font-weight="bold" text-anchor="end" fill="#262626" stroke="#262626" stroke-width="0.3">6</text><text x="503.2" y="705.3" font-size="14.6" font-weight="bold" text-anchor="end" fill="#262626" stroke="#262626" stroke-width="0.3">8</text><text x="689.5" y="982.4" font-size="15" font-weight="bold" text-anchor="middle" fill="#262626" stroke="#262626" stroke-width="0.3">time (ms)</text><text transform="translate(483.9 821.0) rotate(-90)" font-size="15" font-weight="bold" text-anchor="middle" fill="#262626" stroke="#262626" stroke-width="0.3">Amplitude (uV)</text><text x="689.5" y="695.2" font-size="15" font-weight="bold" text-anchor="middle" fill="#000" stroke="#000" stroke-width="0.3">Autism P8</text></g>
<g><clipPath id="cp22"><rect x="930.3" y="699.2" width="359.0" height="241.4"/></clipPath><g clip-path="url(#cp22)" fill="none" stroke-width="3.5" stroke-linejoin="round" stroke-linecap="round"><path d="M930.3 829.8L931.8 829.7 933.3 829.7 934.8 829.5 936.3 829.3 937.8 829.1 939.3 828.9 940.8 828.7 942.3 828.5 943.8 828.4 945.3 828.4 946.8 828.5 948.3 828.7 949.8 829.1 951.3 829.6 952.8 830.4 954.3 831.4 955.8 832.6 957.3 834.1 958.8 835.5 960.3 836.6 961.8 837.3 963.3 837.5 964.8 837.0 966.3 836.3 967.8 835.3 969.3 834.3 970.8 833.3 972.3 832.5 973.8 831.8 975.3 831.1 976.8 830.4 978.3 829.8 979.8 829.2 981.3 828.6 982.8 828.1 984.3 827.5 985.8 827.0 987.3 826.5 988.8 826.0 990.3 825.5 991.8 825.0 993.3 824.6 994.8 824.1 996.3 823.6 997.8 823.2 999.3 822.7 1000.8 822.3 1002.3 821.9 1003.8 821.5 1005.3 821.0 1006.8 820.6 1008.3 820.2 1009.8 819.8 1011.3 819.6 1012.8 819.6 1014.3 819.9 1015.8 820.7 1017.3 822.2 1018.8 824.6 1020.3 827.5 1021.8 830.5 1023.3 832.9 1024.8 834.2 1026.3 834.0 1027.8 832.7 1029.3 830.7 1030.8 828.4 1032.3 826.1 1033.8 823.9 1035.3 822.0 1036.8 820.5 1038.3 819.8 1039.8 820.1 1041.3 821.4 1042.8 823.0 1044.3 824.1 1045.8 824.2 1047.3 823.4 1048.8 821.8 1050.3 819.5 1051.8 816.4 1053.3 812.4 1054.8 807.4 1056.3 801.5 1057.8 794.7 1059.3 787.4 1060.8 780.0 1062.3 772.7 1063.8 765.7 1065.3 758.9 1066.8 752.6 1068.3 747.1 1069.8 742.5 1071.3 739.5 1072.8 738.3 1074.3 739.7 1075.8 744.0 1077.3 751.3 1078.8 761.6 1080.3 774.6 1081.8 789.2 1083.3 804.5 1084.8 819.3 1086.3 833.3 1087.8 846.0 1089.3 856.9 1090.8 865.8 1092.3 872.3 1093.8 876.0 1095.3 876.9 1096.8 874.8 1098.3 869.8 1099.8 862.1 1101.3 852.2 1102.8 840.7 1104.3 828.4 1105.8 816.1 1107.3 804.1 1108.8 792.7 1110.3 782.1 1111.8 772.4 1113.3 764.0 1114.8 756.9 1116.3 751.0 1117.8 746.3 1119.3 742.6 1120.8 740.1 1122.3 738.9 1123.8 739.2 1125.3 741.2 1126.8 744.5 1128.3 748.6 1129.8 753.2 1131.3 758.1 1132.8 763.0 1134.3 768.1 1135.8 773.1 1137.3 777.8 1138.8 782.3 1140.3 786.3 1141.8 790.1 1143.3 793.5 1144.8 796.6 1146.3 799.4 1147.8 801.9 1149.3 804.1 1150.8 806.0 1152.3 807.6 1153.8 809.0 1155.3 810.3 1156.8 811.5 1158.3 812.6 1159.8 813.7 1161.3 814.7 1162.8 815.6 1164.3 816.4 1165.8 817.0 1167.3 817.6 1168.8 818.1 1170.3 818.4 1171.8 818.7 1173.3 818.8 1174.8 818.8 1176.3 818.6 1177.8 818.3 1179.3 817.9 1180.8 817.4 1182.3 816.9 1183.8 816.3 1185.3 815.7 1186.8 815.0 1188.3 814.3 1189.8 813.5 1191.3 812.7 1192.8 812.0 1194.3 811.3 1195.8 810.6 1197.3 810.2 1198.8 809.8 1200.3 809.5 1201.8 809.4 1203.3 809.3 1204.8 809.4 1206.3 809.5 1207.8 809.7 1209.3 810.0 1210.8 810.4 1212.3 810.9 1213.8 811.5 1215.3 812.2 1216.8 812.9 1218.3 813.7 1219.8 814.5 1221.3 815.4 1222.8 816.2 1224.3 817.1 1225.8 818.0 1227.3 819.0 1228.8 819.9 1230.3 821.0 1231.8 822.0 1233.3 823.2 1234.8 824.3 1236.3 825.6 1237.8 826.9 1239.3 828.2 1240.8 829.6 1242.3 831.0 1243.8 832.4 1245.3 833.8 1246.8 835.2 1248.3 836.6 1249.8 837.9 1251.3 839.3 1252.8 840.6 1254.3 841.9 1255.8 843.0 1257.3 843.8 1258.8 844.5 1260.3 844.8 1261.8 845.0 1263.3 845.0 1264.8 844.8 1266.3 844.6 1267.8 844.4 1269.3 844.2 1270.8 844.0 1272.3 843.9 1273.8 843.7 1275.3 843.4 1276.8 842.9 1278.3 842.3 1279.8 841.6 1281.3 840.6 1282.8 839.6 1284.3 838.5 1285.8 837.3 1287.3 836.3 1288.8 835.5 1289.3 835.3" stroke="#1a08d8"/><path d="M930.3 828.7L931.8 828.7 933.3 828.8 934.8 828.8 936.3 828.9 937.8 829.0 939.3 829.0 940.8 829.1 942.3 829.2 943.8 829.2 945.3 829.3 946.8 829.4 948.3 829.6 949.8 829.7 951.3 829.9 952.8 830.1 954.3 830.4 955.8 830.6 957.3 830.9 958.8 831.2 960.3 831.5 961.8 831.8 963.3 832.1 964.8 832.3 966.3 832.6 967.8 832.8 969.3 833.0 970.8 833.1 972.3 833.2 973.8 833.3 975.3 833.3 976.8 833.4 978.3 833.4 979.8 833.4 981.3 833.4 982.8 833.4 984.3 833.3 985.8 833.3 987.3 833.2 988.8 833.1 990.3 833.0 991.8 832.9 993.3 832.8 994.8 832.7 996.3 832.6 997.8 832.4 999.3 832.3 1000.8 832.1 1002.3 831.9 1003.8 831.7 1005.3 831.5 1006.8 831.3 1008.3 831.1 1009.8 830.8 1011.3 830.6 1012.8 830.4 1014.3 830.1 1015.8 829.9 1017.3 829.6 1018.8 829.3 1020.3 828.9 1021.8 828.4 1023.3 827.7 1024.8 826.8 1026.3 825.8 1027.8 824.7 1029.3 823.6 1030.8 822.7 1032.3 822.0 1033.8 821.6 1035.3 821.8 1036.8 822.4 1038.3 823.5 1039.8 824.9 1041.3 826.2 1042.8 827.2 1044.3 827.8 1045.8 827.7 1047.3 826.6 1048.8 824.3 1050.3 820.8 1051.8 816.2 1053.3 811.1 1054.8 805.4 1056.3 799.3 1057.8 792.9 1059.3 786.4 1060.8 779.8 1062.3 773.4 1063.8 767.2 1065.3 761.2 1066.8 755.7 1068.3 751.0 1069.8 747.4 1071.3 745.3 1072.8 745.3 1074.3 747.6 1075.8 752.5 1077.3 760.0 1078.8 769.9 1080.3 781.7 1081.8 794.6 1083.3 807.5 1084.8 819.9 1086.3 831.4 1087.8 841.7 1089.3 850.5 1090.8 857.4 1092.3 862.3 1093.8 864.7 1095.3 864.5 1096.8 861.6 1098.3 856.0 1099.8 848.2 1101.3 838.3 1102.8 827.3 1104.3 815.9 1105.8 804.7 1107.3 793.9 1108.8 783.8 1110.3 774.6 1111.8 766.5 1113.3 759.6 1114.8 754.0 1116.3 749.4 1117.8 746.0 1119.3 743.6 1120.8 742.5 1122.3 742.7 1123.8 744.3 1125.3 747.1 1126.8 750.7 1128.3 754.6 1129.8 758.7 1131.3 762.9 1132.8 767.4 1134.3 771.8 1135.8 776.2 1137.3 780.4 1138.8 784.4 1140.3 788.0 1141.8 791.4 1143.3 794.4 1144.8 797.3 1146.3 799.8 1147.8 802.0 1149.3 803.9 1150.8 805.5 1152.3 806.8 1153.8 807.9 1155.3 808.8 1156.8 809.5 1158.3 810.2 1159.8 810.6 1161.3 811.0 1162.8 811.1 1164.3 811.2 1165.8 811.2 1167.3 811.0 1168.8 811.0 1170.3 811.1 1171.8 811.1 1173.3 811.2 1174.8 811.3 1176.3 811.3 1177.8 811.2 1179.3 811.2 1180.8 811.1 1182.3 811.1 1183.8 811.0 1185.3 810.8 1186.8 810.7 1188.3 810.5 1189.8 810.4 1191.3 810.2 1192.8 810.0 1194.3 809.8 1195.8 809.5 1197.3 809.2 1198.8 808.9 1200.3 808.6 1201.8 808.5 1203.3 808.6 1204.8 808.8 1206.3 809.3 1207.8 810.1 1209.3 811.1 1210.8 812.2 1212.3 813.4 1213.8 814.7 1215.3 815.9 1216.8 817.0 1218.3 818.0 1219.8 819.0 1221.3 819.8 1222.8 820.6 1224.3 821.4 1225.8 822.3 1227.3 823.1 1228.8 824.0 1230.3 825.0 1231.8 826.0 1233.3 827.2 1234.8 828.3 1236.3 829.5 1237.8 830.6 1239.3 831.7 1240.8 832.8 1242.3 833.8 1243.8 834.8 1245.3 835.7 1246.8 836.6 1248.3 837.5 1249.8 838.4 1251.3 839.2 1252.8 840.0 1254.3 840.7 1255.8 841.4 1257.3 842.1 1258.8 842.8 1260.3 843.4 1261.8 844.0 1263.3 844.5 1264.8 845.1 1266.3 845.6 1267.8 846.1 1269.3 846.7 1270.8 847.3 1272.3 847.9 1273.8 848.3 1275.3 848.4 1276.8 848.1 1278.3 847.4 1279.8 846.3 1281.3 844.8 1282.8 843.1 1284.3 841.3 1285.8 839.5 1287.3 837.9 1288.8 836.7 1289.3 836.4" stroke="#86ee3e"/><path d="M930.3 827.4L931.8 827.4 933.3 827.4 934.8 827.4 936.3 827.4 937.8 827.4 939.3 827.4 940.8 827.4 942.3 827.3 943.8 827.3 945.3 827.3 946.8 827.3 948.3 827.2 949.8 827.2 951.3 827.2 952.8 827.3 954.3 827.4 955.8 827.5 957.3 827.6 958.8 827.8 960.3 828.1 961.8 828.5 963.3 829.1 964.8 829.9 966.3 830.7 967.8 831.6 969.3 832.3 970.8 832.9 972.3 833.3 973.8 833.5 975.3 833.7 976.8 833.9 978.3 834.0 979.8 834.2 981.3 834.4 982.8 834.5 984.3 834.7 985.8 834.8 987.3 834.9 988.8 835.0 990.3 835.1 991.8 835.2 993.3 835.3 994.8 835.3 996.3 835.3 997.8 835.3 999.3 835.1 1000.8 834.9 1002.3 834.6 1003.8 834.3 1005.3 833.9 1006.8 833.3 1008.3 832.5 1009.8 831.5 1011.3 830.4 1012.8 829.0 1014.3 827.6 1015.8 826.2 1017.3 824.9 1018.8 823.7 1020.3 822.7 1021.8 822.1 1023.3 821.8 1024.8 822.2 1026.3 823.0 1027.8 824.3 1029.3 825.8 1030.8 827.2 1032.3 828.4 1033.8 829.3 1035.3 830.0 1036.8 830.5 1038.3 830.7 1039.8 830.5 1041.3 830.1 1042.8 829.3 1044.3 827.9 1045.8 825.8 1047.3 822.9 1048.8 819.4 1050.3 815.2 1051.8 810.6 1053.3 805.5 1054.8 800.1 1056.3 794.4 1057.8 788.3 1059.3 782.2 1060.8 776.2 1062.3 770.3 1063.8 764.7 1065.3 759.5 1066.8 755.1 1068.3 751.8 1069.8 750.0 1071.3 749.8 1072.8 751.3 1074.3 754.5 1075.8 759.2 1077.3 765.3 1078.8 772.4 1080.3 780.0 1081.8 787.5 1083.3 794.7 1084.8 801.4 1086.3 807.5 1087.8 812.7 1089.3 816.8 1090.8 819.8 1092.3 821.5 1093.8 821.8 1095.3 820.8 1096.8 818.4 1098.3 814.9 1099.8 810.3 1101.3 805.0 1102.8 799.4 1104.3 793.8 1105.8 788.4 1107.3 783.2 1108.8 778.4 1110.3 774.0 1111.8 770.2 1113.3 767.0 1114.8 764.4 1116.3 762.3 1117.8 760.7 1119.3 759.6 1120.8 759.1 1122.3 759.0 1123.8 759.5 1125.3 760.4 1126.8 761.7 1128.3 763.2 1129.8 764.8 1131.3 766.4 1132.8 768.0 1134.3 769.6 1135.8 771.0 1137.3 772.3 1138.8 773.4 1140.3 774.2 1141.8 774.9 1143.3 775.5 1144.8 776.0 1146.3 776.6 1147.8 777.2 1149.3 777.8 1150.8 778.5 1152.3 779.2 1153.8 779.9 1155.3 780.7 1156.8 781.5 1158.3 782.4 1159.8 783.3 1161.3 784.2 1162.8 785.1 1164.3 786.0 1165.8 786.7 1167.3 787.3 1168.8 787.4 1170.3 787.1 1171.8 786.3 1173.3 785.2 1174.8 783.7 1176.3 782.3 1177.8 781.1 1179.3 780.6 1180.8 781.0 1182.3 782.0 1183.8 783.4 1185.3 784.8 1186.8 785.9 1188.3 786.8 1189.8 787.4 1191.3 788.0 1192.8 788.7 1194.3 789.5 1195.8 790.5 1197.3 791.6 1198.8 792.7 1200.3 793.7 1201.8 794.8 1203.3 795.7 1204.8 796.7 1206.3 797.5 1207.8 798.3 1209.3 799.0 1210.8 799.5 1212.3 800.0 1213.8 800.4 1215.3 800.9 1216.8 801.5 1218.3 802.2 1219.8 803.2 1221.3 804.4 1222.8 805.6 1224.3 807.0 1225.8 808.3 1227.3 809.6 1228.8 810.8 1230.3 812.0 1231.8 813.2 1233.3 814.4 1234.8 815.6 1236.3 816.9 1237.8 818.4 1239.3 819.9 1240.8 821.6 1242.3 823.4 1243.8 825.0 1245.3 826.4 1246.8 827.6 1248.3 828.4 1249.8 828.9 1251.3 829.2 1252.8 829.4 1254.3 829.3 1255.8 827.9 1257.3 828.0 1258.8 828.4 1260.3 829.2 1261.8 830.4 1263.3 831.9 1264.8 833.6 1266.3 835.3 1267.8 836.9 1269.3 838.3 1270.8 839.2 1272.3 839.5 1273.8 839.0 1275.3 838.2 1276.8 837.0 1278.3 835.8 1279.8 834.6 1281.3 833.4 1282.8 832.3 1284.3 831.4 1285.8 830.6 1287.3 830.1 1288.8 829.7 1289.3 829.6" stroke="#000000"/><path d="M930.3 830.9L931.8 830.9 933.3 831.0 934.8 831.0 936.3 831.1 937.8 831.1 939.3 831.2 940.8 831.3 942.3 831.3 943.8 831.4 945.3 831.5 946.8 831.6 948.3 831.8 949.8 832.0 951.3 832.2 952.8 832.5 954.3 832.8 955.8 833.1 957.3 833.4 958.8 833.7 960.3 833.9 961.8 833.9 963.3 833.9 964.8 833.8 966.3 833.6 967.8 833.3 969.3 832.9 970.8 832.4 972.3 831.7 973.8 830.9 975.3 830.2 976.8 829.7 978.3 829.6 979.8 829.8 981.3 830.5 982.8 831.4 984.3 832.4 985.8 833.3 987.3 833.8 988.8 833.9 990.3 833.7 991.8 833.1 993.3 832.4 994.8 831.5 996.3 830.7 997.8 829.8 999.3 829.0 1000.8 828.3 1002.3 827.6 1003.8 826.9 1005.3 826.5 1006.8 826.2 1008.3 826.2 1009.8 826.3 1011.3 826.5 1012.8 826.9 1014.3 827.5 1015.8 828.2 1017.3 829.0 1018.8 829.9 1020.3 830.8 1021.8 831.4 1023.3 832.0 1024.8 832.3 1026.3 832.6 1027.8 832.7 1029.3 832.8 1030.8 832.9 1032.3 833.0 1033.8 833.1 1035.3 833.1 1036.8 833.0 1038.3 833.0 1039.8 832.9 1041.3 832.8 1042.8 832.4 1044.3 831.5 1045.8 830.0 1047.3 827.8 1048.8 824.8 1050.3 821.2 1051.8 817.0 1053.3 812.1 1054.8 806.6 1056.3 800.4 1057.8 793.9 1059.3 787.2 1060.8 780.6 1062.3 774.4 1063.8 768.8 1065.3 764.3 1066.8 761.1 1068.3 759.7 1069.8 759.9 1071.3 761.6 1072.8 764.8 1074.3 769.1 1075.8 774.4 1077.3 780.5 1078.8 786.9 1080.3 793.3 1081.8 799.5 1083.3 805.3 1084.8 810.7 1086.3 815.5 1087.8 819.7 1089.3 823.1 1090.8 825.6 1092.3 827.1 1093.8 827.6 1095.3 826.9 1096.8 825.2 1098.3 822.5 1099.8 818.8 1101.3 814.4 1102.8 809.4 1104.3 804.3 1105.8 799.3 1107.3 794.4 1108.8 789.8 1110.3 785.4 1111.8 781.4 1113.3 777.9 1114.8 774.9 1116.3 772.3 1117.8 770.2 1119.3 768.6 1120.8 767.4 1122.3 766.6 1123.8 766.2 1125.3 766.1 1126.8 766.3 1128.3 766.8 1129.8 767.5 1131.3 768.2 1132.8 768.9 1134.3 769.6 1135.8 770.4 1137.3 771.4 1138.8 772.5 1140.3 773.9 1141.8 775.5 1143.3 777.3 1144.8 779.1 1146.3 780.9 1147.8 782.6 1149.3 784.2 1150.8 785.7 1152.3 787.1 1153.8 788.4 1155.3 789.6 1156.8 790.8 1158.3 791.8 1159.8 792.6 1161.3 793.3 1162.8 793.9 1164.3 794.2 1165.8 794.5 1167.3 794.6 1168.8 794.7 1170.3 794.5 1171.8 794.3 1173.3 793.9 1174.8 793.6 1176.3 793.5 1177.8 793.6 1179.3 794.0 1180.8 794.6 1182.3 795.4 1183.8 796.3 1185.3 797.3 1186.8 798.2 1188.3 799.2 1189.8 800.1 1191.3 800.9 1192.8 801.7 1194.3 802.5 1195.8 803.2 1197.3 803.9 1198.8 804.5 1200.3 805.1 1201.8 805.5 1203.3 805.8 1204.8 806.0 1206.3 806.2 1207.8 806.5 1209.3 806.8 1210.8 807.3 1212.3 808.0 1213.8 808.7 1215.3 809.6 1216.8 810.5 1218.3 811.4 1219.8 812.4 1221.3 813.2 1222.8 814.1 1224.3 814.9 1225.8 815.6 1227.3 816.4 1228.8 817.2 1230.3 818.1 1231.8 819.1 1233.3 820.2 1234.8 821.4 1236.3 822.7 1237.8 824.2 1239.3 825.7 1240.8 827.2 1242.3 828.6 1243.8 829.9 1245.3 831.0 1246.8 831.9 1248.3 832.6 1249.8 833.2 1251.3 833.7 1252.8 834.1 1254.3 834.6 1255.8 835.2 1257.3 835.9 1258.8 836.6 1260.3 837.5 1261.8 838.5 1263.3 839.5 1264.8 840.6 1266.3 841.6 1267.8 842.6 1269.3 843.5 1270.8 844.3 1272.3 845.0 1273.8 845.2 1275.3 844.9 1276.8 844.1 1278.3 843.1 1279.8 842.1 1281.3 841.2 1282.8 840.6 1284.3 840.2 1285.8 840.0 1287.3 839.8 1288.8 839.7 1289.3 839.7" stroke="#e41418"/></g><path d="M930.3 940.6V935.6M930.3 699.2V704.2M1010.1 940.6V935.6M1010.1 699.2V704.2M1089.9 940.6V935.6M1089.9 699.2V704.2M1169.6 940.6V935.6M1169.6 699.2V704.2M1249.4 940.6V935.6M1249.4 699.2V704.2M930.3 918.7H935.3M1289.3 918.7H1284.3M930.3 874.8H935.3M1289.3 874.8H1284.3M930.3 830.9H935.3M1289.3 830.9H1284.3M930.3 787.0H935.3M1289.3 787.0H1284.3M930.3 743.1H935.3M1289.3 743.1H1284.3M930.3 699.2H935.3M1289.3 699.2H1284.3" stroke="#262626" stroke-width="2.4" fill="none"/><rect x="930.3" y="699.2" width="359.0" height="241.4" fill="none" stroke="#262626" stroke-width="2.9"/><text x="930.3" y="961.0" font-size="14.6" font-weight="bold" text-anchor="middle" fill="#262626" stroke="#262626" stroke-width="0.3">-200</text><text x="1010.1" y="961.0" font-size="14.6" font-weight="bold" text-anchor="middle" fill="#262626" stroke="#262626" stroke-width="0.3">0</text><text x="1089.9" y="961.0" font-size="14.6" font-weight="bold" text-anchor="middle" fill="#262626" stroke="#262626" stroke-width="0.3">200</text><text x="1169.6" y="961.0" font-size="14.6" font-weight="bold" text-anchor="middle" fill="#262626" stroke="#262626" stroke-width="0.3">400</text><text x="1249.4" y="961.0" font-size="14.6" font-weight="bold" text-anchor="middle" fill="#262626" stroke="#262626" stroke-width="0.3">600</text><text x="924.0" y="923.9" font-size="14.6" font-weight="bold" text-anchor="end" fill="#262626" stroke="#262626" stroke-width="0.3">-4</text><text x="924.0" y="880.0" font-size="14.6" font-weight="bold" text-anchor="end" fill="#262626" stroke="#262626" stroke-width="0.3">-2</text><text x="924.0" y="836.1" font-size="14.6" font-weight="bold" text-anchor="end" fill="#262626" stroke="#262626" stroke-width="0.3">0</text><text x="924.0" y="792.2" font-size="14.6" font-weight="bold" text-anchor="end" fill="#262626" stroke="#262626" stroke-width="0.3">2</text><text x="924.0" y="748.3" font-size="14.6" font-weight="bold" text-anchor="end" fill="#262626" stroke="#262626" stroke-width="0.3">4</text><text x="924.0" y="704.4" font-size="14.6" font-weight="bold" text-anchor="end" fill="#262626" stroke="#262626" stroke-width="0.3">6</text><text x="1109.8" y="981.0" font-size="15" font-weight="bold" text-anchor="middle" fill="#262626" stroke="#262626" stroke-width="0.3">time (ms)</text><text transform="translate(904.7 819.9) rotate(-90)" font-size="15" font-weight="bold" text-anchor="middle" fill="#262626" stroke="#262626" stroke-width="0.3">Amplitude (uV)</text><text x="1109.8" y="694.3" font-size="15" font-weight="bold" text-anchor="middle" fill="#000" stroke="#000" stroke-width="0.3">Autism P7</text></g>
<g><clipPath id="cp23"><rect x="1408.8" y="699.2" width="358.8" height="241.4"/></clipPath><g clip-path="url(#cp23)" fill="none" stroke-width="3.5" stroke-linejoin="round" stroke-linecap="round"><path d="M1408.8 819.9L1410.3 820.0 1411.8 820.2 1413.3 820.4 1414.8 820.6 1416.3 820.8 1417.8 821.1 1419.3 821.5 1420.8 821.9 1422.3 822.4 1423.8 823.0 1425.3 823.6 1426.8 824.3 1428.3 825.1 1429.8 825.9 1431.3 826.8 1432.8 827.9 1434.3 828.9 1435.8 830.0 1437.3 831.0 1438.8 831.9 1440.3 832.7 1441.8 833.4 1443.3 834.0 1444.8 834.5 1446.3 834.8 1447.8 835.0 1449.3 835.0 1450.8 834.8 1452.3 834.3 1453.8 833.7 1455.3 833.0 1456.8 832.6 1458.3 832.4 1459.8 832.8 1461.3 833.6 1462.8 835.0 1464.3 836.6 1465.8 838.2 1467.3 839.3 1468.8 839.6 1470.3 839.1 1471.8 837.9 1473.3 836.3 1474.8 834.8 1476.3 833.5 1477.8 832.6 1479.3 832.2 1480.8 832.2 1482.3 832.3 1483.8 832.7 1485.3 833.0 1486.8 833.4 1488.3 833.7 1489.8 834.0 1491.3 834.2 1492.8 834.5 1494.3 834.7 1495.8 835.0 1497.3 835.3 1498.8 835.6 1500.3 836.0 1501.8 836.3 1503.3 836.7 1504.8 836.9 1506.3 837.0 1507.8 836.9 1509.3 836.6 1510.8 836.2 1512.3 835.6 1513.8 834.9 1515.3 834.0 1516.8 833.1 1518.3 832.2 1519.8 831.3 1521.3 830.5 1522.8 829.8 1524.3 828.9 1525.8 827.4 1527.3 824.8 1528.8 820.7 1530.3 815.0 1531.8 808.0 1533.3 800.1 1534.8 791.9 1536.3 783.8 1537.8 776.0 1539.3 768.7 1540.8 761.7 1542.3 755.0 1543.8 748.7 1545.3 742.9 1546.8 737.6 1548.3 733.0 1549.8 729.5 1551.3 727.8 1552.8 728.4 1554.3 732.0 1555.8 739.1 1557.3 750.4 1558.8 765.5 1560.3 783.1 1561.8 801.2 1563.3 818.4 1564.8 834.0 1566.3 847.7 1567.8 859.0 1569.3 867.7 1570.8 873.1 1572.3 874.7 1573.8 872.3 1575.3 866.1 1576.8 856.4 1578.3 844.0 1579.8 830.0 1581.3 815.7 1582.8 801.9 1584.3 788.9 1585.8 777.0 1587.3 766.1 1588.8 756.5 1590.3 748.2 1591.8 741.5 1593.3 736.4 1594.8 733.0 1596.3 731.3 1597.8 731.1 1599.3 732.1 1600.8 734.1 1602.3 737.1 1603.8 740.5 1605.3 744.2 1606.8 747.8 1608.3 751.2 1609.8 754.4 1611.3 757.5 1612.8 760.5 1614.3 763.4 1615.8 766.1 1617.3 768.6 1618.8 770.9 1620.3 773.0 1621.8 775.1 1623.3 777.1 1624.8 779.0 1626.3 780.8 1627.8 782.6 1629.3 784.3 1630.8 785.7 1632.3 787.0 1633.8 787.9 1635.3 788.7 1636.8 789.3 1638.3 789.9 1639.8 790.4 1641.3 791.0 1642.8 791.7 1644.3 792.3 1645.8 792.9 1647.3 793.5 1648.8 794.1 1650.3 794.6 1651.8 795.1 1653.3 795.5 1654.8 795.7 1656.3 795.7 1657.8 795.3 1659.3 794.7 1660.8 794.1 1662.3 793.6 1663.8 793.6 1665.3 793.9 1666.8 794.5 1668.3 795.3 1669.8 796.3 1671.3 797.1 1672.8 797.9 1674.3 798.5 1675.8 799.1 1677.3 799.6 1678.8 800.1 1680.3 800.6 1681.8 801.2 1683.3 802.0 1684.8 802.8 1686.3 803.8 1687.8 804.8 1689.3 806.0 1690.8 807.2 1692.3 808.3 1693.8 809.5 1695.3 810.7 1696.8 811.9 1698.3 813.0 1699.8 814.1 1701.3 815.2 1702.8 816.3 1704.3 817.5 1705.8 818.6 1707.3 819.8 1708.8 821.1 1710.3 822.4 1711.8 823.7 1713.3 824.9 1714.8 826.1 1716.3 827.1 1717.8 827.9 1719.3 828.6 1720.8 829.2 1722.3 829.7 1723.8 830.2 1725.3 830.7 1726.8 831.2 1728.3 831.7 1729.8 832.2 1731.3 832.7 1732.8 833.3 1734.3 834.0 1735.8 834.9 1737.3 836.1 1738.8 837.5 1740.3 839.1 1741.8 840.6 1743.3 841.6 1744.8 842.0 1746.3 841.6 1747.8 840.6 1749.3 839.4 1750.8 838.3 1752.3 837.5 1753.8 837.0 1755.3 836.8 1756.8 836.8 1758.3 837.2 1759.8 837.8 1761.3 838.8 1762.8 840.0 1764.3 841.4 1765.8 842.8 1767.3 843.9 1767.5 844.0" stroke="#1a08d8"/><path d="M1408.8 826.3L1410.3 826.3 1411.8 826.4 1413.3 826.5 1414.8 826.5 1416.3 826.6 1417.8 826.7 1419.3 826.8 1420.8 827.0 1422.3 827.1 1423.8 827.3 1425.3 827.6 1426.8 828.0 1428.3 828.5 1429.8 829.1 1431.3 829.6 1432.8 830.2 1434.3 830.7 1435.8 831.0 1437.3 831.2 1438.8 831.0 1440.3 830.6 1441.8 829.7 1443.3 828.5 1444.8 827.2 1446.3 826.0 1447.8 825.3 1449.3 825.2 1450.8 825.7 1452.3 826.7 1453.8 827.9 1455.3 829.1 1456.8 830.1 1458.3 830.8 1459.8 831.3 1461.3 831.6 1462.8 831.9 1464.3 832.1 1465.8 832.3 1467.3 832.5 1468.8 832.8 1470.3 833.2 1471.8 833.7 1473.3 834.2 1474.8 834.7 1476.3 835.2 1477.8 835.6 1479.3 835.9 1480.8 836.1 1482.3 836.2 1483.8 836.2 1485.3 836.1 1486.8 835.9 1488.3 835.7 1489.8 835.5 1491.3 835.2 1492.8 835.0 1494.3 834.7 1495.8 834.4 1497.3 834.1 1498.8 833.8 1500.3 833.5 1501.8 833.2 1503.3 832.8 1504.8 832.5 1506.3 832.3 1507.8 832.0 1509.3 831.7 1510.8 831.4 1512.3 831.1 1513.8 830.8 1515.3 830.6 1516.8 830.6 1518.3 831.1 1519.8 832.0 1521.3 833.0 1522.8 833.5 1524.3 833.0 1525.8 831.4 1527.3 828.2 1528.8 823.2 1530.3 816.5 1531.8 808.3 1533.3 799.2 1534.8 789.8 1536.3 780.5 1537.8 771.7 1539.3 763.3 1540.8 755.3 1542.3 747.7 1543.8 740.5 1545.3 733.9 1546.8 728.0 1548.3 722.9 1549.8 719.4 1551.3 717.9 1552.8 719.0 1554.3 723.3 1555.8 731.5 1557.3 743.9 1558.8 760.1 1560.3 778.4 1561.8 796.9 1563.3 814.4 1564.8 830.2 1566.3 844.0 1567.8 855.4 1569.3 864.2 1570.8 869.7 1572.3 871.5 1573.8 869.3 1575.3 863.4 1576.8 854.2 1578.3 842.4 1579.8 829.0 1581.3 815.0 1582.8 801.5 1584.3 788.8 1585.8 777.0 1587.3 766.1 1588.8 756.4 1590.3 747.9 1591.8 740.8 1593.3 735.1 1594.8 731.1 1596.3 728.7 1597.8 727.8 1599.3 728.0 1600.8 729.2 1602.3 731.3 1603.8 734.1 1605.3 737.5 1606.8 741.4 1608.3 745.6 1609.8 750.3 1611.3 755.3 1612.8 760.5 1614.3 765.4 1615.8 770.0 1617.3 774.0 1618.8 777.4 1620.3 780.3 1621.8 782.8 1623.3 784.7 1624.8 786.1 1626.3 787.0 1627.8 787.4 1629.3 787.5 1630.8 787.4 1632.3 787.0 1633.8 786.5 1635.3 785.8 1636.8 785.1 1638.3 784.4 1639.8 783.9 1641.3 783.6 1642.8 783.4 1644.3 783.4 1645.8 783.5 1647.3 783.6 1648.8 783.8 1650.3 784.0 1651.8 784.3 1653.3 784.6 1654.8 785.0 1656.3 785.3 1657.8 785.6 1659.3 785.8 1660.8 785.9 1662.3 785.9 1663.8 785.8 1665.3 785.7 1666.8 785.5 1668.3 785.5 1669.8 785.6 1671.3 785.8 1672.8 786.2 1674.3 786.7 1675.8 787.4 1677.3 788.2 1678.8 789.0 1680.3 790.0 1681.8 791.0 1683.3 792.1 1684.8 793.3 1686.3 794.5 1687.8 795.9 1689.3 797.3 1690.8 798.7 1692.3 800.2 1693.8 801.6 1695.3 803.0 1696.8 804.4 1698.3 805.8 1699.8 807.1 1701.3 808.5 1702.8 809.8 1704.3 811.0 1705.8 812.1 1707.3 813.0 1708.8 813.8 1710.3 814.5 1711.8 815.1 1713.3 815.7 1714.8 816.6 1716.3 817.7 1717.8 819.1 1719.3 820.8 1720.8 822.4 1722.3 824.1 1723.8 825.4 1725.3 826.6 1726.8 827.4 1728.3 828.1 1729.8 828.6 1731.3 829.1 1732.8 829.4 1734.3 829.8 1735.8 830.3 1737.3 830.7 1738.8 831.2 1740.3 831.6 1741.8 832.1 1743.3 832.5 1744.8 832.9 1746.3 833.2 1747.8 833.4 1749.3 833.6 1750.8 833.7 1752.3 833.8 1753.8 833.8 1755.3 833.9 1756.8 834.1 1758.3 834.4 1759.8 834.9 1761.3 835.5 1762.8 836.3 1764.3 837.1 1765.8 837.8 1767.3 838.4 1767.5 838.5" stroke="#86ee3e"/><path d="M1408.8 830.9L1410.3 831.0 1411.8 831.2 1413.3 831.5 1414.8 831.7 1416.3 831.9 1417.8 832.0 1419.3 832.0 1420.8 831.9 1422.3 831.5 1423.8 831.0 1425.3 830.3 1426.8 829.6 1428.3 829.0 1429.8 828.5 1431.3 828.4 1432.8 828.6 1434.3 829.2 1435.8 830.3 1437.3 831.6 1438.8 833.0 1440.3 834.4 1441.8 835.5 1443.3 836.1 1444.8 836.1 1446.3 835.4 1447.8 834.1 1449.3 832.7 1450.8 831.5 1452.3 830.9 1453.8 831.1 1455.3 832.0 1456.8 833.4 1458.3 834.7 1459.8 835.7 1461.3 836.2 1462.8 836.0 1464.3 835.5 1465.8 834.8 1467.3 834.0 1468.8 833.3 1470.3 832.6 1471.8 831.9 1473.3 831.2 1474.8 830.5 1476.3 829.7 1477.8 828.8 1479.3 827.7 1480.8 826.5 1482.3 825.3 1483.8 824.2 1485.3 823.2 1486.8 822.4 1488.3 822.0 1489.8 821.8 1491.3 821.9 1492.8 822.4 1494.3 823.2 1495.8 824.3 1497.3 825.7 1498.8 827.0 1500.3 828.1 1501.8 828.7 1503.3 828.9 1504.8 828.7 1506.3 828.4 1507.8 828.0 1509.3 827.6 1510.8 827.2 1512.3 826.8 1513.8 826.4 1515.3 825.9 1516.8 825.3 1518.3 824.7 1519.8 824.0 1521.3 823.1 1522.8 822.0 1524.3 820.6 1525.8 818.6 1527.3 815.8 1528.8 811.6 1530.3 805.7 1531.8 798.3 1533.3 789.9 1534.8 781.3 1536.3 773.0 1537.8 765.1 1539.3 757.6 1540.8 750.6 1542.3 744.0 1543.8 738.1 1545.3 732.8 1546.8 728.4 1548.3 725.4 1549.8 724.2 1551.3 725.1 1552.8 728.5 1554.3 734.5 1555.8 743.0 1557.3 753.6 1558.8 765.2 1560.3 776.5 1561.8 787.0 1563.3 796.4 1564.8 804.5 1566.3 811.1 1567.8 815.9 1569.3 818.7 1570.8 819.5 1572.3 818.1 1573.8 815.0 1575.3 810.3 1576.8 804.3 1578.3 797.5 1579.8 790.2 1581.3 783.1 1582.8 776.3 1584.3 769.9 1585.8 763.9 1587.3 758.2 1588.8 753.1 1590.3 748.5 1591.8 744.5 1593.3 741.1 1594.8 738.4 1596.3 736.4 1597.8 735.2 1599.3 734.8 1600.8 734.9 1602.3 735.7 1603.8 737.0 1605.3 738.5 1606.8 739.9 1608.3 741.2 1609.8 742.2 1611.3 743.0 1612.8 743.6 1614.3 744.2 1615.8 744.8 1617.3 745.3 1618.8 745.9 1620.3 746.5 1621.8 747.2 1623.3 748.2 1624.8 749.4 1626.3 750.9 1627.8 752.7 1629.3 754.5 1630.8 756.3 1632.3 758.1 1633.8 759.8 1635.3 761.4 1636.8 762.7 1638.3 763.6 1639.8 763.9 1641.3 763.6 1642.8 762.7 1644.3 761.4 1645.8 760.3 1647.3 759.3 1648.8 758.5 1650.3 758.0 1651.8 757.6 1653.3 757.4 1654.8 757.3 1656.3 757.5 1657.8 757.9 1659.3 758.4 1660.8 759.0 1662.3 759.4 1663.8 759.5 1665.3 759.1 1666.8 758.2 1668.3 757.3 1669.8 756.9 1671.3 757.3 1672.8 758.4 1674.3 760.4 1675.8 762.9 1677.3 765.5 1678.8 768.0 1680.3 770.1 1681.8 771.7 1683.3 773.0 1684.8 774.0 1686.3 774.9 1687.8 775.9 1689.3 776.8 1690.8 777.8 1692.3 778.8 1693.8 779.9 1695.3 781.2 1696.8 782.6 1698.3 784.2 1699.8 785.9 1701.3 787.6 1702.8 789.4 1704.3 791.2 1705.8 793.0 1707.3 794.7 1708.8 796.4 1710.3 798.0 1711.8 799.4 1713.3 800.7 1714.8 801.9 1716.3 803.0 1717.8 804.1 1719.3 805.2 1720.8 806.3 1722.3 807.4 1723.8 808.7 1725.3 810.0 1726.8 811.4 1728.3 813.0 1729.8 814.8 1731.3 816.6 1732.8 818.6 1734.3 820.6 1735.8 822.7 1737.3 824.9 1738.8 827.0 1740.3 829.0 1741.8 830.6 1743.3 831.5 1744.8 831.8 1746.3 831.3 1747.8 830.1 1749.3 828.4 1750.8 826.3 1752.3 824.2 1753.8 822.5 1755.3 821.9 1756.8 822.6 1758.3 824.5 1759.8 827.0 1761.3 829.5 1762.8 831.8 1764.3 833.5 1765.8 835.0 1767.3 836.0 1767.5 836.1" stroke="#000000"/><path d="M1408.8 821.9L1410.3 823.5 1411.8 825.5 1413.3 827.5 1414.8 829.1 1416.3 830.1 1417.8 830.4 1419.3 830.2 1420.8 829.6 1422.3 828.9 1423.8 828.5 1425.3 828.5 1426.8 828.8 1428.3 829.3 1429.8 830.0 1431.3 830.8 1432.8 831.6 1434.3 832.4 1435.8 833.1 1437.3 833.6 1438.8 833.9 1440.3 834.0 1441.8 833.6 1443.3 833.0 1444.8 832.1 1446.3 831.1 1447.8 830.1 1449.3 829.3 1450.8 828.7 1452.3 828.5 1453.8 828.6 1455.3 829.2 1456.8 830.0 1458.3 831.0 1459.8 832.1 1461.3 833.1 1462.8 834.0 1464.3 834.7 1465.8 835.2 1467.3 835.5 1468.8 835.6 1470.3 835.7 1471.8 835.6 1473.3 835.5 1474.8 835.3 1476.3 835.1 1477.8 834.9 1479.3 834.6 1480.8 834.3 1482.3 833.9 1483.8 833.4 1485.3 832.9 1486.8 832.4 1488.3 831.7 1489.8 831.0 1491.3 830.2 1492.8 829.3 1494.3 828.4 1495.8 827.4 1497.3 826.6 1498.8 825.8 1500.3 825.2 1501.8 824.7 1503.3 824.3 1504.8 824.1 1506.3 824.0 1507.8 824.0 1509.3 824.3 1510.8 824.8 1512.3 825.4 1513.8 826.2 1515.3 827.2 1516.8 828.2 1518.3 829.5 1519.8 830.7 1521.3 831.8 1522.8 832.2 1524.3 831.8 1525.8 830.4 1527.3 827.8 1528.8 823.6 1530.3 817.6 1531.8 810.1 1533.3 801.5 1534.8 792.7 1536.3 784.0 1537.8 775.8 1539.3 768.0 1540.8 760.6 1542.3 753.7 1543.8 747.2 1545.3 741.4 1546.8 736.2 1548.3 732.1 1549.8 729.4 1551.3 728.6 1552.8 730.0 1554.3 733.9 1555.8 740.4 1557.3 749.7 1558.8 761.0 1560.3 773.3 1561.8 785.4 1563.3 796.6 1564.8 806.7 1566.3 815.5 1567.8 822.9 1569.3 828.4 1570.8 831.9 1572.3 833.1 1573.8 831.7 1575.3 827.9 1576.8 822.0 1578.3 814.3 1579.8 805.5 1581.3 796.1 1582.8 787.0 1584.3 778.4 1585.8 770.3 1587.3 762.8 1588.8 756.0 1590.3 749.9 1591.8 744.7 1593.3 740.3 1594.8 737.0 1596.3 734.7 1597.8 733.5 1599.3 733.2 1600.8 734.0 1602.3 735.5 1603.8 737.6 1605.3 739.9 1606.8 742.2 1608.3 744.3 1609.8 746.0 1611.3 747.5 1612.8 748.7 1614.3 749.8 1615.8 750.8 1617.3 751.5 1618.8 752.0 1620.3 752.5 1621.8 752.8 1623.3 753.2 1624.8 753.7 1626.3 754.2 1627.8 754.8 1629.3 755.4 1630.8 756.2 1632.3 757.1 1633.8 758.3 1635.3 759.5 1636.8 760.8 1638.3 762.0 1639.8 762.9 1641.3 763.5 1642.8 763.9 1644.3 764.2 1645.8 764.3 1647.3 764.5 1648.8 764.8 1650.3 765.3 1651.8 765.8 1653.3 766.3 1654.8 766.9 1656.3 767.5 1657.8 768.1 1659.3 768.6 1660.8 769.1 1662.3 769.5 1663.8 769.8 1665.3 770.2 1666.8 770.5 1668.3 770.9 1669.8 771.5 1671.3 772.1 1672.8 773.0 1674.3 774.0 1675.8 775.1 1677.3 776.3 1678.8 777.7 1680.3 779.0 1681.8 780.4 1683.3 781.8 1684.8 783.2 1686.3 784.6 1687.8 786.1 1689.3 787.6 1690.8 789.1 1692.3 790.4 1693.8 791.7 1695.3 792.8 1696.8 793.8 1698.3 794.5 1699.8 795.1 1701.3 795.6 1702.8 796.0 1704.3 796.5 1705.8 797.1 1707.3 797.7 1708.8 798.5 1710.3 799.3 1711.8 800.2 1713.3 801.2 1714.8 802.3 1716.3 803.5 1717.8 804.9 1719.3 806.5 1720.8 808.3 1722.3 810.3 1723.8 812.4 1725.3 814.5 1726.8 816.4 1728.3 818.2 1729.8 819.7 1731.3 821.0 1732.8 822.3 1734.3 823.5 1735.8 824.7 1737.3 826.0 1738.8 827.3 1740.3 828.6 1741.8 829.7 1743.3 830.8 1744.8 831.6 1746.3 832.3 1747.8 832.8 1749.3 833.1 1750.8 833.1 1752.3 832.6 1753.8 831.6 1755.3 830.3 1756.8 829.2 1758.3 828.6 1759.8 828.8 1761.3 829.9 1762.8 831.8 1764.3 834.1 1765.8 836.4 1767.3 838.3 1767.5 838.5" stroke="#e41418"/></g><path d="M1408.8 940.6V935.6M1408.8 699.2V704.2M1488.5 940.6V935.6M1488.5 699.2V704.2M1568.3 940.6V935.6M1568.3 699.2V704.2M1648.0 940.6V935.6M1648.0 699.2V704.2M1727.7 940.6V935.6M1727.7 699.2V704.2M1408.8 918.7H1413.8M1767.6 918.7H1762.6M1408.8 874.8H1413.8M1767.6 874.8H1762.6M1408.8 830.9H1413.8M1767.6 830.9H1762.6M1408.8 787.0H1413.8M1767.6 787.0H1762.6M1408.8 743.1H1413.8M1767.6 743.1H1762.6M1408.8 699.2H1413.8M1767.6 699.2H1762.6" stroke="#262626" stroke-width="2.4" fill="none"/><rect x="1408.8" y="699.2" width="358.8" height="241.4" fill="none" stroke="#262626" stroke-width="2.9"/><text x="1408.8" y="961.0" font-size="14.6" font-weight="bold" text-anchor="middle" fill="#262626" stroke="#262626" stroke-width="0.3">-200</text><text x="1488.5" y="961.0" font-size="14.6" font-weight="bold" text-anchor="middle" fill="#262626" stroke="#262626" stroke-width="0.3">0</text><text x="1568.3" y="961.0" font-size="14.6" font-weight="bold" text-anchor="middle" fill="#262626" stroke="#262626" stroke-width="0.3">200</text><text x="1648.0" y="961.0" font-size="14.6" font-weight="bold" text-anchor="middle" fill="#262626" stroke="#262626" stroke-width="0.3">400</text><text x="1727.7" y="961.0" font-size="14.6" font-weight="bold" text-anchor="middle" fill="#262626" stroke="#262626" stroke-width="0.3">600</text><text x="1402.5" y="923.9" font-size="14.6" font-weight="bold" text-anchor="end" fill="#262626" stroke="#262626" stroke-width="0.3">-4</text><text x="1402.5" y="880.0" font-size="14.6" font-weight="bold" text-anchor="end" fill="#262626" stroke="#262626" stroke-width="0.3">-2</text><text x="1402.5" y="836.1" font-size="14.6" font-weight="bold" text-anchor="end" fill="#262626" stroke="#262626" stroke-width="0.3">0</text><text x="1402.5" y="792.2" font-size="14.6" font-weight="bold" text-anchor="end" fill="#262626" stroke="#262626" stroke-width="0.3">2</text><text x="1402.5" y="748.3" font-size="14.6" font-weight="bold" text-anchor="end" fill="#262626" stroke="#262626" stroke-width="0.3">4</text><text x="1402.5" y="704.4" font-size="14.6" font-weight="bold" text-anchor="end" fill="#262626" stroke="#262626" stroke-width="0.3">6</text><text x="1588.2" y="981.0" font-size="15" font-weight="bold" text-anchor="middle" fill="#262626" stroke="#262626" stroke-width="0.3">time (ms)</text><text transform="translate(1383.2 819.9) rotate(-90)" font-size="15" font-weight="bold" text-anchor="middle" fill="#262626" stroke="#262626" stroke-width="0.3">Amplitude (uV)</text><text x="1588.2" y="694.3" font-size="15" font-weight="bold" text-anchor="middle" fill="#000" stroke="#000" stroke-width="0.3">Autism P8</text></g>
<g><clipPath id="cp30"><rect x="38.0" y="1013.5" width="360.0" height="241.9"/></clipPath><g clip-path="url(#cp30)" fill="none" stroke-width="3.5" stroke-linejoin="round" stroke-linecap="round"><path d="M38.0 1163.3L39.5 1165.4 41.0 1168.1 42.5 1170.4 44.0 1171.6 45.5 1171.6 47.0 1170.5 48.5 1168.7 50.0 1166.7 51.5 1164.8 53.0 1163.1 54.5 1161.6 56.0 1160.3 57.5 1159.2 59.0 1158.2 60.5 1157.4 62.0 1156.8 63.5 1156.4 65.0 1156.1 66.5 1156.1 68.0 1156.3 69.5 1156.8 71.0 1157.7 72.5 1158.9 74.0 1160.3 75.5 1161.6 77.0 1162.7 78.5 1163.3 80.0 1163.4 81.5 1163.2 83.0 1162.6 84.5 1161.9 86.0 1161.0 87.5 1160.1 89.0 1159.0 90.5 1158.0 92.0 1157.2 93.5 1156.8 95.0 1156.9 96.5 1157.5 98.0 1158.5 99.5 1159.8 101.0 1161.3 102.5 1162.7 104.0 1164.1 105.5 1165.2 107.0 1166.2 108.5 1166.9 110.0 1167.5 111.5 1167.9 113.0 1167.9 114.5 1167.4 116.0 1166.5 117.5 1165.3 119.0 1163.9 120.5 1162.4 122.0 1161.2 123.5 1160.1 125.0 1159.2 126.5 1158.5 128.0 1157.8 129.5 1157.2 131.0 1156.5 132.5 1155.8 134.0 1155.1 135.5 1154.5 137.0 1154.3 138.5 1154.8 140.0 1156.0 141.5 1157.8 143.0 1159.9 144.5 1161.7 146.0 1163.0 147.5 1163.6 149.0 1163.6 150.5 1163.2 152.0 1162.6 153.5 1161.7 155.0 1160.7 156.5 1159.5 158.0 1158.1 159.5 1156.4 161.0 1154.5 162.5 1152.2 164.0 1149.5 165.5 1146.2 167.0 1142.0 168.5 1136.3 170.0 1129.3 171.5 1121.0 173.0 1112.2 174.5 1103.5 176.0 1095.2 177.5 1087.8 179.0 1081.7 180.5 1077.4 182.0 1075.2 183.5 1075.1 185.0 1077.2 186.5 1081.7 188.0 1088.5 189.5 1097.3 191.0 1107.1 192.5 1117.0 194.0 1126.1 195.5 1134.0 197.0 1140.8 198.5 1146.4 200.0 1150.7 201.5 1153.5 203.0 1154.8 204.5 1154.6 206.0 1153.0 207.5 1150.4 209.0 1147.1 210.5 1143.6 212.0 1140.3 213.5 1137.5 215.0 1135.4 216.5 1134.0 218.0 1133.1 219.5 1132.6 221.0 1132.5 222.5 1132.7 224.0 1133.3 225.5 1134.0 227.0 1134.9 228.5 1135.9 230.0 1136.9 231.5 1138.1 233.0 1139.3 234.5 1140.4 236.0 1141.3 237.5 1141.8 239.0 1141.9 240.5 1141.6 242.0 1141.0 243.5 1140.1 245.0 1139.1 246.5 1137.8 248.0 1136.3 249.5 1134.7 251.0 1132.8 252.5 1130.9 254.0 1129.1 255.5 1127.4 257.0 1126.1 258.5 1125.0 260.0 1124.2 261.5 1123.6 263.0 1123.3 264.5 1123.2 266.0 1123.4 267.5 1123.8 269.0 1124.5 270.5 1125.5 272.0 1126.7 273.5 1127.8 275.0 1128.9 276.5 1129.8 278.0 1130.5 279.5 1131.0 281.0 1131.2 282.5 1131.3 284.0 1131.2 285.5 1131.1 287.0 1130.9 288.5 1130.8 290.0 1130.7 291.5 1130.8 293.0 1130.9 294.5 1131.0 296.0 1131.1 297.5 1131.2 299.0 1131.1 300.5 1130.9 302.0 1130.5 303.5 1129.8 305.0 1129.0 306.5 1128.1 308.0 1127.2 309.5 1126.5 311.0 1126.1 312.5 1126.2 314.0 1126.6 315.5 1127.5 317.0 1128.5 318.5 1129.7 320.0 1130.8 321.5 1131.8 323.0 1132.7 324.5 1133.3 326.0 1133.9 327.5 1134.4 329.0 1134.8 330.5 1135.2 332.0 1135.7 333.5 1136.1 335.0 1136.6 336.5 1137.0 338.0 1137.5 339.5 1138.0 341.0 1138.5 342.5 1139.0 344.0 1139.5 345.5 1140.0 347.0 1140.5 348.5 1141.1 350.0 1141.7 351.5 1142.3 353.0 1142.8 354.5 1143.3 356.0 1143.6 357.5 1143.7 359.0 1143.7 360.5 1143.4 362.0 1143.0 363.5 1142.4 365.0 1141.8 366.5 1141.1 368.0 1140.5 369.5 1139.9 371.0 1139.5 372.5 1139.1 374.0 1138.7 375.5 1138.2 377.0 1137.6 378.5 1136.7 380.0 1135.6 381.5 1134.7 383.0 1134.3 384.5 1134.9 386.0 1136.5 387.5 1138.8 389.0 1141.6 390.5 1144.5 392.0 1147.3 393.5 1150.0 395.0 1152.7 396.5 1155.0 398.0 1156.8" stroke="#86ee3e"/><path d="M38.0 1164.2L39.5 1164.0 41.0 1163.7 42.5 1163.3 44.0 1162.9 45.5 1162.4 47.0 1161.8 48.5 1161.2 50.0 1160.5 51.5 1159.8 53.0 1159.0 54.5 1158.3 56.0 1157.6 57.5 1157.0 59.0 1156.4 60.5 1155.9 62.0 1155.4 63.5 1155.0 65.0 1154.7 66.5 1154.4 68.0 1154.3 69.5 1154.3 71.0 1154.5 72.5 1154.8 74.0 1155.3 75.5 1155.9 77.0 1156.5 78.5 1157.2 80.0 1157.9 81.5 1158.6 83.0 1159.4 84.5 1160.1 86.0 1160.8 87.5 1161.5 89.0 1162.3 90.5 1163.0 92.0 1163.7 93.5 1164.3 95.0 1165.0 96.5 1165.7 98.0 1166.2 99.5 1166.6 101.0 1166.7 102.5 1166.4 104.0 1165.7 105.5 1164.7 107.0 1163.5 108.5 1162.2 110.0 1161.0 111.5 1159.8 113.0 1158.7 114.5 1157.8 116.0 1157.1 117.5 1156.8 119.0 1156.9 120.5 1157.5 122.0 1158.4 123.5 1159.4 125.0 1160.3 126.5 1161.0 128.0 1161.4 129.5 1161.6 131.0 1161.6 132.5 1161.4 134.0 1161.1 135.5 1160.7 137.0 1160.2 138.5 1159.5 140.0 1158.6 141.5 1157.7 143.0 1156.8 144.5 1156.0 146.0 1155.5 147.5 1155.4 149.0 1155.7 150.5 1156.2 152.0 1156.7 153.5 1156.7 155.0 1156.4 156.5 1155.9 158.0 1155.1 159.5 1153.9 161.0 1152.3 162.5 1150.2 164.0 1147.6 165.5 1144.2 167.0 1139.8 168.5 1133.9 170.0 1126.5 171.5 1118.1 173.0 1109.1 174.5 1100.3 176.0 1092.0 177.5 1084.7 179.0 1078.8 180.5 1074.9 182.0 1073.1 183.5 1073.5 185.0 1076.2 186.5 1081.2 188.0 1088.6 189.5 1097.8 191.0 1108.2 192.5 1118.5 194.0 1128.1 195.5 1136.6 197.0 1144.0 198.5 1150.2 200.0 1155.2 201.5 1158.7 203.0 1160.5 204.5 1160.1 206.0 1157.5 207.5 1153.0 209.0 1147.1 210.5 1140.4 212.0 1133.7 213.5 1127.9 215.0 1123.5 216.5 1120.4 218.0 1118.6 219.5 1117.8 221.0 1117.8 222.5 1118.5 224.0 1119.9 225.5 1121.8 227.0 1123.8 228.5 1126.1 230.0 1128.5 231.5 1130.8 233.0 1132.9 234.5 1134.5 236.0 1135.6 237.5 1136.3 239.0 1136.6 240.5 1136.5 242.0 1136.2 243.5 1135.7 245.0 1135.0 246.5 1134.1 248.0 1133.0 249.5 1131.6 251.0 1130.0 252.5 1128.3 254.0 1126.7 255.5 1125.2 257.0 1124.0 258.5 1122.9 260.0 1122.1 261.5 1121.6 263.0 1121.2 264.5 1121.2 266.0 1121.6 267.5 1122.6 269.0 1124.0 270.5 1125.9 272.0 1128.0 273.5 1130.0 275.0 1131.9 276.5 1133.4 278.0 1134.3 279.5 1134.7 281.0 1134.5 282.5 1133.8 284.0 1132.9 285.5 1131.9 287.0 1131.0 288.5 1130.3 290.0 1129.9 291.5 1129.8 293.0 1129.9 294.5 1130.2 296.0 1130.7 297.5 1131.1 299.0 1131.6 300.5 1132.0 302.0 1132.3 303.5 1132.6 305.0 1132.7 306.5 1132.8 308.0 1132.9 309.5 1133.0 311.0 1133.1 312.5 1133.3 314.0 1133.6 315.5 1133.9 317.0 1134.4 318.5 1134.9 320.0 1135.4 321.5 1136.0 323.0 1136.5 324.5 1136.9 326.0 1137.2 327.5 1137.5 329.0 1137.6 330.5 1137.7 332.0 1137.8 333.5 1137.8 335.0 1138.0 336.5 1138.2 338.0 1138.6 339.5 1139.2 341.0 1140.0 342.5 1140.9 344.0 1141.9 345.5 1142.8 347.0 1143.4 348.5 1143.8 350.0 1143.7 351.5 1143.2 353.0 1142.4 354.5 1141.3 356.0 1140.3 357.5 1139.5 359.0 1139.0 360.5 1138.8 362.0 1138.9 363.5 1139.2 365.0 1139.6 366.5 1140.3 368.0 1141.0 369.5 1141.9 371.0 1143.0 372.5 1144.2 374.0 1145.5 375.5 1146.6 377.0 1147.3 378.5 1147.5 380.0 1147.1 381.5 1146.2 383.0 1145.0 384.5 1143.6 386.0 1142.0 387.5 1140.3 389.0 1138.4 390.5 1136.5 392.0 1134.6 393.5 1133.0 395.0 1131.6 396.5 1130.5 398.0 1129.8" stroke="#e41418"/><path d="M38.0 1169.8L39.5 1171.1 41.0 1172.7 42.5 1174.0 44.0 1174.5 45.5 1174.0 47.0 1172.9 48.5 1171.3 50.0 1169.5 51.5 1167.8 53.0 1166.2 54.5 1164.8 56.0 1163.5 57.5 1162.3 59.0 1161.3 60.5 1160.5 62.0 1160.0 63.5 1159.6 65.0 1159.5 66.5 1159.7 68.0 1160.3 69.5 1161.2 71.0 1162.7 72.5 1164.7 74.0 1166.9 75.5 1168.9 77.0 1170.4 78.5 1171.1 80.0 1171.0 81.5 1170.2 83.0 1169.0 84.5 1167.6 86.0 1166.3 87.5 1165.1 89.0 1164.0 90.5 1162.9 92.0 1161.6 93.5 1160.2 95.0 1158.4 96.5 1156.4 98.0 1154.2 99.5 1151.9 101.0 1150.0 102.5 1148.5 104.0 1147.7 105.5 1147.7 107.0 1148.2 108.5 1149.2 110.0 1150.2 111.5 1151.1 113.0 1151.7 114.5 1152.2 116.0 1152.6 117.5 1153.3 119.0 1154.3 120.5 1155.7 122.0 1157.1 123.5 1158.6 125.0 1159.8 126.5 1160.7 128.0 1161.2 129.5 1161.1 131.0 1160.4 132.5 1159.0 134.0 1157.1 135.5 1154.8 137.0 1152.3 138.5 1149.8 140.0 1147.5 141.5 1145.9 143.0 1145.3 144.5 1145.5 146.0 1146.5 147.5 1147.8 149.0 1149.2 150.5 1150.7 152.0 1151.9 153.5 1152.9 155.0 1153.5 156.5 1153.6 158.0 1153.3 159.5 1152.4 161.0 1150.9 162.5 1148.7 164.0 1145.9 165.5 1142.0 167.0 1136.8 168.5 1129.9 170.0 1121.3 171.5 1111.6 173.0 1101.6 174.5 1091.8 176.0 1082.9 177.5 1075.3 179.0 1069.6 180.5 1066.3 182.0 1065.6 183.5 1067.6 185.0 1072.2 186.5 1079.6 188.0 1089.6 189.5 1101.3 191.0 1113.4 192.5 1125.0 194.0 1135.3 195.5 1144.3 197.0 1151.9 198.5 1158.1 200.0 1162.6 201.5 1165.4 203.0 1166.0 204.5 1164.6 206.0 1161.3 207.5 1156.6 209.0 1150.9 210.5 1145.0 212.0 1139.5 213.5 1134.8 215.0 1131.4 216.5 1129.1 218.0 1127.7 219.5 1127.0 221.0 1127.1 222.5 1127.8 224.0 1129.1 225.5 1130.7 227.0 1132.5 228.5 1134.5 230.0 1136.6 231.5 1138.7 233.0 1140.6 234.5 1142.1 236.0 1143.3 237.5 1144.2 239.0 1144.7 240.5 1144.9 242.0 1144.7 243.5 1144.1 245.0 1143.2 246.5 1141.9 248.0 1140.4 249.5 1138.5 251.0 1136.3 252.5 1133.8 254.0 1131.2 255.5 1128.7 257.0 1126.5 258.5 1124.8 260.0 1123.7 261.5 1123.1 263.0 1123.1 264.5 1123.7 266.0 1124.8 267.5 1126.4 269.0 1128.3 270.5 1130.3 272.0 1132.2 273.5 1134.1 275.0 1135.9 276.5 1137.6 278.0 1139.1 279.5 1140.4 281.0 1141.5 282.5 1142.4 284.0 1143.1 285.5 1143.7 287.0 1144.2 288.5 1144.5 290.0 1144.7 291.5 1144.7 293.0 1144.4 294.5 1143.8 296.0 1143.0 297.5 1142.0 299.0 1141.0 300.5 1140.1 302.0 1139.3 303.5 1138.6 305.0 1138.1 306.5 1137.7 308.0 1137.3 309.5 1137.0 311.0 1136.7 312.5 1136.4 314.0 1136.0 315.5 1135.6 317.0 1135.1 318.5 1134.7 320.0 1134.5 321.5 1134.4 323.0 1134.6 324.5 1135.1 326.0 1135.8 327.5 1136.6 329.0 1137.5 330.5 1138.4 332.0 1139.3 333.5 1140.3 335.0 1141.3 336.5 1142.3 338.0 1143.2 339.5 1143.9 341.0 1144.4 342.5 1144.7 344.0 1144.8 345.5 1144.6 347.0 1144.3 348.5 1144.0 350.0 1143.8 351.5 1143.7 353.0 1143.6 354.5 1143.6 356.0 1143.6 357.5 1143.5 359.0 1143.4 360.5 1143.2 362.0 1143.1 363.5 1143.2 365.0 1143.6 366.5 1144.4 368.0 1145.8 369.5 1147.5 371.0 1149.5 372.5 1151.7 374.0 1154.0 375.5 1156.2 377.0 1157.9 378.5 1158.8 380.0 1158.6 381.5 1157.4 383.0 1155.6 384.5 1153.6 386.0 1151.6 387.5 1150.0 389.0 1148.5 390.5 1147.3 392.0 1146.6 393.5 1146.5 395.0 1147.1 396.5 1148.2 398.0 1149.3" stroke="#1a08d8"/><path d="M38.0 1159.9L39.5 1160.2 41.0 1160.5 42.5 1161.0 44.0 1161.6 45.5 1162.3 47.0 1163.3 48.5 1164.5 50.0 1165.8 51.5 1166.9 53.0 1167.6 54.5 1167.7 56.0 1167.1 57.5 1165.7 59.0 1163.9 60.5 1161.9 62.0 1160.1 63.5 1158.6 65.0 1157.8 66.5 1157.8 68.0 1158.5 69.5 1159.7 71.0 1161.1 72.5 1162.5 74.0 1163.8 75.5 1164.8 77.0 1165.5 78.5 1166.1 80.0 1166.4 81.5 1166.6 83.0 1166.6 84.5 1166.5 86.0 1166.1 87.5 1165.6 89.0 1164.9 90.5 1164.1 92.0 1163.2 93.5 1162.1 95.0 1160.8 96.5 1159.4 98.0 1157.9 99.5 1156.6 101.0 1155.7 102.5 1155.5 104.0 1155.9 105.5 1156.8 107.0 1158.1 108.5 1159.5 110.0 1160.9 111.5 1162.1 113.0 1163.3 114.5 1164.3 116.0 1165.1 117.5 1165.5 119.0 1165.4 120.5 1165.0 122.0 1164.1 123.5 1163.1 125.0 1161.9 126.5 1160.6 128.0 1159.1 129.5 1157.6 131.0 1156.2 132.5 1155.1 134.0 1154.4 135.5 1154.1 137.0 1154.5 138.5 1155.8 140.0 1158.0 141.5 1161.4 143.0 1165.4 144.5 1169.1 146.0 1171.7 147.5 1172.7 149.0 1172.2 150.5 1171.0 152.0 1169.4 153.5 1167.7 155.0 1166.0 156.5 1164.1 158.0 1162.0 159.5 1159.7 161.0 1157.2 162.5 1154.5 164.0 1151.6 165.5 1148.4 167.0 1144.4 168.5 1139.1 170.0 1132.2 171.5 1124.0 173.0 1114.9 174.5 1105.7 176.0 1096.9 177.5 1089.0 179.0 1082.5 180.5 1077.8 182.0 1075.3 183.5 1075.0 185.0 1077.1 186.5 1081.6 188.0 1088.4 189.5 1097.1 191.0 1107.1 192.5 1117.2 194.0 1126.6 195.5 1134.8 197.0 1141.9 198.5 1147.9 200.0 1152.5 201.5 1155.6 203.0 1156.8 204.5 1155.9 206.0 1152.8 207.5 1147.9 209.0 1141.7 210.5 1135.1 212.0 1128.8 213.5 1123.7 215.0 1119.9 216.5 1117.5 218.0 1116.2 219.5 1115.8 221.0 1116.2 222.5 1117.4 224.0 1119.1 225.5 1121.1 227.0 1123.4 228.5 1125.8 230.0 1128.4 231.5 1130.8 233.0 1133.0 234.5 1134.8 236.0 1136.1 237.5 1136.9 239.0 1137.3 240.5 1137.1 242.0 1136.5 243.5 1135.3 245.0 1133.6 246.5 1131.3 248.0 1128.5 249.5 1125.4 251.0 1122.2 252.5 1119.4 254.0 1117.3 255.5 1116.1 257.0 1115.7 258.5 1115.9 260.0 1116.3 261.5 1116.9 263.0 1117.6 264.5 1118.2 266.0 1119.0 267.5 1119.7 269.0 1120.5 270.5 1121.3 272.0 1122.0 273.5 1122.8 275.0 1123.5 276.5 1124.2 278.0 1124.9 279.5 1125.5 281.0 1126.1 282.5 1126.6 284.0 1127.1 285.5 1127.6 287.0 1127.9 288.5 1128.1 290.0 1128.3 291.5 1128.3 293.0 1128.4 294.5 1128.5 296.0 1128.6 297.5 1128.8 299.0 1129.1 300.5 1129.5 302.0 1130.0 303.5 1130.5 305.0 1131.0 306.5 1131.5 308.0 1132.0 309.5 1132.4 311.0 1132.8 312.5 1133.1 314.0 1133.4 315.5 1133.6 317.0 1133.8 318.5 1134.0 320.0 1134.3 321.5 1134.5 323.0 1134.9 324.5 1135.3 326.0 1135.7 327.5 1136.1 329.0 1136.5 330.5 1136.9 332.0 1137.1 333.5 1137.2 335.0 1137.1 336.5 1136.7 338.0 1136.2 339.5 1136.0 341.0 1136.2 342.5 1136.9 344.0 1138.1 345.5 1139.6 347.0 1141.2 348.5 1142.6 350.0 1143.5 351.5 1144.0 353.0 1143.9 354.5 1143.4 356.0 1142.8 357.5 1142.1 359.0 1141.3 360.5 1140.5 362.0 1139.9 363.5 1139.6 365.0 1139.8 366.5 1140.6 368.0 1142.0 369.5 1143.9 371.0 1146.3 372.5 1149.0 374.0 1151.9 375.5 1155.0 377.0 1157.8 378.5 1159.9 380.0 1161.0 381.5 1161.0 383.0 1160.2 384.5 1158.9 386.0 1157.7 387.5 1156.6 389.0 1155.6 390.5 1154.7 392.0 1154.0 393.5 1153.5 395.0 1153.2 396.5 1153.1 398.0 1153.1" stroke="#e40ae8"/><path d="M38.0 1166.6L39.5 1166.6 41.0 1166.5 42.5 1166.4 44.0 1166.4 45.5 1166.2 47.0 1166.0 48.5 1165.7 50.0 1165.3 51.5 1164.6 53.0 1163.8 54.5 1162.9 56.0 1161.9 57.5 1161.0 59.0 1160.4 60.5 1160.0 62.0 1159.9 63.5 1160.3 65.0 1160.9 66.5 1161.8 68.0 1162.9 69.5 1164.1 71.0 1165.3 72.5 1166.7 74.0 1168.0 75.5 1169.1 77.0 1169.7 78.5 1169.7 80.0 1169.2 81.5 1168.1 83.0 1166.7 84.5 1165.1 86.0 1163.6 87.5 1162.1 89.0 1160.7 90.5 1159.3 92.0 1157.9 93.5 1156.6 95.0 1155.1 96.5 1153.7 98.0 1152.3 99.5 1151.1 101.0 1150.4 102.5 1150.4 104.0 1151.3 105.5 1153.0 107.0 1155.4 108.5 1158.1 110.0 1160.6 111.5 1162.9 113.0 1164.7 114.5 1166.2 116.0 1167.2 117.5 1167.7 119.0 1167.7 120.5 1167.0 122.0 1166.0 123.5 1164.5 125.0 1162.7 126.5 1160.6 128.0 1158.3 129.5 1155.9 131.0 1153.5 132.5 1151.3 134.0 1149.4 135.5 1147.9 137.0 1146.9 138.5 1146.5 140.0 1146.8 141.5 1147.6 143.0 1148.8 144.5 1150.2 146.0 1151.7 147.5 1153.3 149.0 1154.7 150.5 1155.8 152.0 1156.6 153.5 1157.0 155.0 1156.9 156.5 1156.3 158.0 1155.2 159.5 1153.6 161.0 1151.5 162.5 1148.9 164.0 1145.7 165.5 1141.7 167.0 1136.3 168.5 1129.2 170.0 1120.5 171.5 1110.5 173.0 1100.1 174.5 1090.1 176.0 1080.8 177.5 1073.0 179.0 1067.2 180.5 1063.7 182.0 1062.8 183.5 1064.4 185.0 1068.5 186.5 1075.1 188.0 1083.9 189.5 1094.0 191.0 1104.3 192.5 1114.0 194.0 1122.5 195.5 1129.8 197.0 1135.9 198.5 1140.6 200.0 1143.8 201.5 1145.3 203.0 1145.0 204.5 1143.0 206.0 1139.6 207.5 1135.2 209.0 1130.0 210.5 1124.6 212.0 1119.3 213.5 1114.6 215.0 1110.8 216.5 1108.0 218.0 1106.0 219.5 1104.8 221.0 1104.3 222.5 1104.5 224.0 1105.3 225.5 1106.6 227.0 1108.4 228.5 1110.4 230.0 1112.7 231.5 1115.0 233.0 1117.2 234.5 1119.2 236.0 1121.0 237.5 1122.5 239.0 1123.7 240.5 1124.8 242.0 1125.8 243.5 1126.7 245.0 1127.3 246.5 1127.7 248.0 1127.4 249.5 1126.6 251.0 1125.2 252.5 1123.4 254.0 1121.4 255.5 1119.6 257.0 1117.9 258.5 1116.4 260.0 1115.1 261.5 1114.1 263.0 1113.4 264.5 1113.2 266.0 1113.5 267.5 1114.1 269.0 1115.1 270.5 1116.2 272.0 1117.5 273.5 1118.9 275.0 1120.4 276.5 1122.0 278.0 1123.5 279.5 1124.9 281.0 1126.1 282.5 1127.2 284.0 1128.1 285.5 1128.7 287.0 1129.0 288.5 1129.0 290.0 1128.8 291.5 1128.3 293.0 1127.8 294.5 1127.2 296.0 1126.6 297.5 1126.1 299.0 1125.5 300.5 1125.0 302.0 1124.4 303.5 1123.9 305.0 1123.4 306.5 1122.9 308.0 1122.5 309.5 1122.1 311.0 1121.8 312.5 1121.8 314.0 1122.1 315.5 1122.7 317.0 1123.6 318.5 1124.7 320.0 1126.0 321.5 1127.4 323.0 1128.9 324.5 1130.5 326.0 1132.1 327.5 1133.4 329.0 1134.2 330.5 1134.5 332.0 1133.8 333.5 1132.6 335.0 1131.2 336.5 1130.1 338.0 1129.8 339.5 1130.2 341.0 1131.2 342.5 1132.8 344.0 1134.7 345.5 1137.0 347.0 1139.4 348.5 1141.6 350.0 1143.0 351.5 1143.5 353.0 1143.2 354.5 1142.2 356.0 1140.8 357.5 1139.5 359.0 1138.1 360.5 1136.9 362.0 1135.8 363.5 1135.0 365.0 1134.5 366.5 1134.6 368.0 1135.5 369.5 1136.8 371.0 1138.1 372.5 1138.9 374.0 1138.5 375.5 1137.0 377.0 1134.9 378.5 1133.0 380.0 1132.0 381.5 1132.4 383.0 1133.7 384.5 1135.8 386.0 1138.3 387.5 1141.1 389.0 1144.0 390.5 1146.9 392.0 1149.3 393.5 1151.2 395.0 1152.7 396.5 1153.7 398.0 1154.4" stroke="#000000"/></g><path d="M38.0 1255.4V1250.4M38.0 1013.5V1018.5M118.0 1255.4V1250.4M118.0 1013.5V1018.5M198.0 1255.4V1250.4M198.0 1013.5V1018.5M278.0 1255.4V1250.4M278.0 1013.5V1018.5M358.0 1255.4V1250.4M358.0 1013.5V1018.5M38.0 1236.8H43.0M398.0 1236.8H393.0M38.0 1199.6H43.0M398.0 1199.6H393.0M38.0 1162.4H43.0M398.0 1162.4H393.0M38.0 1125.1H43.0M398.0 1125.1H393.0M38.0 1087.9H43.0M398.0 1087.9H393.0M38.0 1050.7H43.0M398.0 1050.7H393.0M38.0 1013.5H43.0M398.0 1013.5H393.0" stroke="#262626" stroke-width="2.4" fill="none"/><rect x="38.0" y="1013.5" width="360.0" height="241.9" fill="none" stroke="#262626" stroke-width="2.9"/><text x="38.0" y="1275.8" font-size="14.6" font-weight="bold" text-anchor="middle" fill="#262626" stroke="#262626" stroke-width="0.3">-200</text><text x="118.0" y="1275.8" font-size="14.6" font-weight="bold" text-anchor="middle" fill="#262626" stroke="#262626" stroke-width="0.3">0</text><text x="198.0" y="1275.8" font-size="14.6" font-weight="bold" text-anchor="middle" fill="#262626" stroke="#262626" stroke-width="0.3">200</text><text x="278.0" y="1275.8" font-size="14.6" font-weight="bold" text-anchor="middle" fill="#262626" stroke="#262626" stroke-width="0.3">400</text><text x="358.0" y="1275.8" font-size="14.6" font-weight="bold" text-anchor="middle" fill="#262626" stroke="#262626" stroke-width="0.3">600</text><text x="31.7" y="1242.0" font-size="14.6" font-weight="bold" text-anchor="end" fill="#262626" stroke="#262626" stroke-width="0.3">-4</text><text x="31.7" y="1204.8" font-size="14.6" font-weight="bold" text-anchor="end" fill="#262626" stroke="#262626" stroke-width="0.3">-2</text><text x="31.7" y="1167.6" font-size="14.6" font-weight="bold" text-anchor="end" fill="#262626" stroke="#262626" stroke-width="0.3">0</text><text x="31.7" y="1130.3" font-size="14.6" font-weight="bold" text-anchor="end" fill="#262626" stroke="#262626" stroke-width="0.3">2</text><text x="31.7" y="1093.1" font-size="14.6" font-weight="bold" text-anchor="end" fill="#262626" stroke="#262626" stroke-width="0.3">4</text><text x="31.7" y="1055.9" font-size="14.6" font-weight="bold" text-anchor="end" fill="#262626" stroke="#262626" stroke-width="0.3">6</text><text x="31.7" y="1018.7" font-size="14.6" font-weight="bold" text-anchor="end" fill="#262626" stroke="#262626" stroke-width="0.3">8</text><text x="218.0" y="1295.8" font-size="15" font-weight="bold" text-anchor="middle" fill="#262626" stroke="#262626" stroke-width="0.3">time (ms)</text><text transform="translate(12.4 1134.5) rotate(-90)" font-size="15" font-weight="bold" text-anchor="middle" fill="#262626" stroke="#262626" stroke-width="0.3">Amplitude (uV)</text><text x="218.0" y="1008.6" font-size="15" font-weight="bold" text-anchor="middle" fill="#000" stroke="#000" stroke-width="0.3">ADHD+Autism P7</text></g>
<g><clipPath id="cp31"><rect x="509.5" y="1013.5" width="360.0" height="241.9"/></clipPath><g clip-path="url(#cp31)" fill="none" stroke-width="3.5" stroke-linejoin="round" stroke-linecap="round"><path d="M509.5 1156.8L511.0 1157.5 512.5 1158.6 514.0 1159.9 515.5 1161.5 517.0 1163.5 518.5 1166.0 520.0 1168.7 521.5 1171.3 523.0 1173.1 524.5 1173.7 526.0 1173.0 527.5 1171.3 529.0 1168.8 530.5 1166.2 532.0 1163.8 533.5 1162.0 535.0 1160.8 536.5 1160.0 538.0 1159.5 539.5 1159.1 541.0 1158.6 542.5 1158.0 544.0 1157.3 545.5 1156.5 547.0 1155.8 548.5 1155.5 550.0 1155.5 551.5 1156.0 553.0 1156.8 554.5 1157.8 556.0 1158.8 557.5 1159.7 559.0 1160.6 560.5 1161.3 562.0 1162.0 563.5 1162.7 565.0 1163.5 566.5 1164.3 568.0 1165.1 569.5 1165.9 571.0 1166.5 572.5 1166.7 574.0 1166.4 575.5 1165.5 577.0 1164.2 578.5 1162.7 580.0 1161.3 581.5 1160.2 583.0 1159.4 584.5 1159.0 586.0 1158.8 587.5 1158.6 589.0 1158.2 590.5 1157.7 592.0 1157.1 593.5 1156.5 595.0 1156.1 596.5 1156.3 598.0 1157.1 599.5 1158.5 601.0 1160.2 602.5 1162.0 604.0 1163.6 605.5 1165.0 607.0 1166.0 608.5 1166.6 610.0 1166.6 611.5 1166.0 613.0 1165.0 614.5 1163.9 616.0 1162.9 617.5 1162.2 619.0 1161.9 620.5 1161.8 622.0 1161.5 623.5 1160.6 625.0 1159.1 626.5 1157.0 628.0 1154.3 629.5 1151.2 631.0 1147.7 632.5 1143.7 634.0 1138.8 635.5 1132.7 637.0 1125.4 638.5 1116.8 640.0 1107.2 641.5 1096.5 643.0 1085.2 644.5 1073.6 646.0 1062.5 647.5 1052.4 649.0 1043.9 650.5 1037.3 652.0 1033.2 653.5 1032.2 655.0 1034.4 656.5 1040.2 658.0 1049.5 659.5 1061.8 661.0 1076.1 662.5 1091.1 664.0 1105.8 665.5 1119.8 667.0 1132.6 668.5 1143.7 670.0 1152.9 671.5 1160.1 673.0 1165.0 674.5 1167.7 676.0 1168.0 677.5 1166.3 679.0 1162.7 680.5 1157.8 682.0 1151.6 683.5 1144.5 685.0 1136.8 686.5 1129.0 688.0 1121.3 689.5 1113.9 691.0 1107.0 692.5 1100.7 694.0 1095.3 695.5 1091.0 697.0 1087.8 698.5 1085.6 700.0 1084.4 701.5 1084.0 703.0 1084.1 704.5 1084.4 706.0 1084.8 707.5 1085.3 709.0 1085.7 710.5 1086.2 712.0 1086.7 713.5 1087.2 715.0 1087.7 716.5 1088.1 718.0 1088.4 719.5 1088.7 721.0 1088.8 722.5 1088.9 724.0 1089.0 725.5 1089.1 727.0 1089.2 728.5 1089.3 730.0 1089.6 731.5 1089.9 733.0 1090.2 734.5 1090.6 736.0 1091.1 737.5 1091.6 739.0 1092.2 740.5 1092.9 742.0 1093.7 743.5 1094.6 745.0 1095.6 746.5 1096.7 748.0 1098.1 749.5 1099.9 751.0 1102.1 752.5 1104.6 754.0 1107.1 755.5 1109.2 757.0 1110.7 758.5 1111.4 760.0 1111.1 761.5 1110.2 763.0 1108.9 764.5 1107.7 766.0 1106.8 767.5 1106.2 769.0 1105.8 770.5 1105.7 772.0 1105.7 773.5 1105.8 775.0 1106.0 776.5 1106.3 778.0 1106.7 779.5 1107.1 781.0 1107.7 782.5 1108.4 784.0 1109.1 785.5 1109.9 787.0 1110.7 788.5 1111.5 790.0 1112.3 791.5 1113.2 793.0 1114.0 794.5 1114.9 796.0 1115.8 797.5 1116.7 799.0 1117.8 800.5 1118.9 802.0 1120.2 803.5 1121.6 805.0 1123.2 806.5 1124.9 808.0 1126.6 809.5 1128.2 811.0 1129.6 812.5 1130.8 814.0 1131.7 815.5 1132.3 817.0 1132.6 818.5 1132.7 820.0 1132.7 821.5 1132.5 823.0 1132.4 824.5 1132.5 826.0 1132.8 827.5 1133.2 829.0 1133.7 830.5 1134.3 832.0 1134.9 833.5 1135.5 835.0 1136.0 836.5 1136.3 838.0 1136.3 839.5 1136.1 841.0 1135.6 842.5 1134.9 844.0 1134.2 845.5 1133.8 847.0 1133.7 848.5 1134.2 850.0 1135.2 851.5 1136.7 853.0 1138.6 854.5 1140.6 856.0 1142.3 857.5 1143.6 859.0 1144.1 860.5 1144.1 862.0 1143.5 863.5 1142.5 865.0 1141.3 866.5 1140.0 868.0 1139.0 869.5 1138.2" stroke="#86ee3e"/><path d="M509.5 1167.9L511.0 1166.6 512.5 1164.9 514.0 1163.0 515.5 1161.4 517.0 1160.3 518.5 1159.8 520.0 1159.9 521.5 1160.5 523.0 1161.2 524.5 1161.9 526.0 1162.2 527.5 1162.1 529.0 1161.7 530.5 1161.1 532.0 1160.5 533.5 1159.9 535.0 1159.3 536.5 1159.0 538.0 1158.8 539.5 1158.9 541.0 1159.0 542.5 1159.3 544.0 1159.6 545.5 1159.8 547.0 1160.1 548.5 1160.3 550.0 1160.5 551.5 1160.8 553.0 1161.1 554.5 1161.4 556.0 1161.8 557.5 1162.3 559.0 1163.2 560.5 1164.6 562.0 1166.7 563.5 1169.3 565.0 1172.0 566.5 1173.9 568.0 1174.4 569.5 1173.5 571.0 1171.3 572.5 1168.4 574.0 1165.1 575.5 1161.8 577.0 1158.7 578.5 1156.1 580.0 1154.3 581.5 1153.4 583.0 1153.6 584.5 1154.4 586.0 1155.6 587.5 1156.8 589.0 1157.5 590.5 1157.7 592.0 1157.5 593.5 1157.0 595.0 1156.5 596.5 1155.9 598.0 1155.4 599.5 1154.9 601.0 1154.6 602.5 1154.3 604.0 1154.3 605.5 1154.5 607.0 1155.1 608.5 1155.9 610.0 1156.8 611.5 1157.5 613.0 1157.7 614.5 1157.5 616.0 1156.9 617.5 1155.9 619.0 1154.7 620.5 1153.3 622.0 1151.7 623.5 1149.9 625.0 1148.3 626.5 1147.1 628.0 1146.5 629.5 1146.1 631.0 1145.3 632.5 1143.5 634.0 1140.2 635.5 1135.3 637.0 1129.0 638.5 1121.2 640.0 1112.2 641.5 1102.0 643.0 1090.8 644.5 1079.0 646.0 1067.4 647.5 1056.6 649.0 1047.3 650.5 1040.1 652.0 1035.5 653.5 1034.0 655.0 1035.8 656.5 1041.1 658.0 1049.7 659.5 1061.1 661.0 1074.4 662.5 1088.3 664.0 1102.0 665.5 1115.0 667.0 1126.9 668.5 1137.3 670.0 1145.9 671.5 1152.6 673.0 1157.0 674.5 1158.6 676.0 1157.4 677.5 1153.4 679.0 1146.8 680.5 1138.0 682.0 1127.5 683.5 1116.4 685.0 1105.4 686.5 1095.1 688.0 1085.9 689.5 1078.5 691.0 1073.0 692.5 1069.6 694.0 1068.2 695.5 1068.5 697.0 1070.1 698.5 1072.3 700.0 1074.7 701.5 1077.2 703.0 1079.7 704.5 1082.4 706.0 1085.3 707.5 1088.2 709.0 1091.0 710.5 1093.2 712.0 1094.8 713.5 1095.4 715.0 1095.0 716.5 1093.7 718.0 1091.8 719.5 1089.5 721.0 1087.3 722.5 1085.2 724.0 1083.2 725.5 1081.5 727.0 1080.1 728.5 1079.1 730.0 1078.6 731.5 1078.6 733.0 1079.1 734.5 1079.9 736.0 1080.9 737.5 1081.9 739.0 1083.0 740.5 1084.0 742.0 1085.1 743.5 1086.3 745.0 1087.3 746.5 1088.3 748.0 1089.3 749.5 1090.2 751.0 1091.1 752.5 1092.0 754.0 1093.0 755.5 1094.0 757.0 1094.9 758.5 1095.8 760.0 1096.6 761.5 1097.2 763.0 1097.5 764.5 1097.6 766.0 1097.4 767.5 1097.1 769.0 1096.6 770.5 1096.2 772.0 1095.6 773.5 1095.1 775.0 1094.5 776.5 1093.9 778.0 1093.4 779.5 1093.2 781.0 1093.5 782.5 1094.3 784.0 1095.7 785.5 1097.5 787.0 1099.3 788.5 1101.0 790.0 1102.4 791.5 1103.5 793.0 1104.3 794.5 1105.0 796.0 1105.7 797.5 1106.4 799.0 1107.3 800.5 1108.3 802.0 1109.3 803.5 1110.4 805.0 1111.7 806.5 1113.0 808.0 1114.3 809.5 1115.8 811.0 1117.2 812.5 1118.6 814.0 1119.9 815.5 1121.1 817.0 1122.2 818.5 1123.2 820.0 1124.3 821.5 1125.3 823.0 1126.3 824.5 1127.3 826.0 1128.2 827.5 1129.0 829.0 1129.6 830.5 1129.9 832.0 1130.0 833.5 1129.9 835.0 1129.6 836.5 1129.1 838.0 1128.4 839.5 1127.4 841.0 1126.3 842.5 1125.3 844.0 1124.5 845.5 1124.2 847.0 1124.5 848.5 1125.2 850.0 1126.2 851.5 1127.3 853.0 1128.4 854.5 1129.3 856.0 1130.2 857.5 1130.9 859.0 1131.4 860.5 1131.7 862.0 1131.6 863.5 1131.1 865.0 1130.4 866.5 1129.5 868.0 1128.6 869.5 1127.9" stroke="#e41418"/><path d="M509.5 1158.8L511.0 1159.6 512.5 1160.7 514.0 1161.7 515.5 1162.6 517.0 1163.2 518.5 1163.3 520.0 1162.9 521.5 1162.1 523.0 1161.4 524.5 1161.0 526.0 1161.3 527.5 1162.1 529.0 1163.4 530.5 1164.6 532.0 1165.4 533.5 1165.5 535.0 1164.6 536.5 1163.1 538.0 1161.2 539.5 1159.7 541.0 1158.9 542.5 1159.1 544.0 1160.1 545.5 1161.7 547.0 1163.6 548.5 1165.5 550.0 1167.1 551.5 1168.4 553.0 1169.4 554.5 1169.8 556.0 1169.5 557.5 1168.4 559.0 1166.8 560.5 1164.9 562.0 1163.2 563.5 1162.2 565.0 1162.1 566.5 1163.0 568.0 1164.4 569.5 1165.9 571.0 1166.9 572.5 1166.9 574.0 1166.0 575.5 1164.2 577.0 1161.8 578.5 1159.2 580.0 1156.8 581.5 1155.0 583.0 1153.9 584.5 1153.4 586.0 1153.3 587.5 1153.6 589.0 1154.0 590.5 1154.5 592.0 1155.2 593.5 1155.9 595.0 1156.6 596.5 1157.3 598.0 1157.9 599.5 1158.4 601.0 1158.8 602.5 1159.0 604.0 1159.0 605.5 1158.7 607.0 1158.2 608.5 1157.4 610.0 1156.7 611.5 1156.0 613.0 1155.5 614.5 1155.2 616.0 1154.8 617.5 1154.1 619.0 1153.1 620.5 1151.8 622.0 1150.2 623.5 1148.2 625.0 1145.9 626.5 1143.4 628.0 1140.4 629.5 1136.9 631.0 1132.6 632.5 1127.5 634.0 1121.3 635.5 1114.2 637.0 1106.4 638.5 1097.8 640.0 1088.6 641.5 1079.0 643.0 1069.5 644.5 1060.6 646.0 1052.6 647.5 1045.8 649.0 1040.4 650.5 1037.0 652.0 1035.8 653.5 1037.2 655.0 1041.4 656.5 1048.5 658.0 1058.2 659.5 1069.9 661.0 1082.5 662.5 1095.2 664.0 1107.4 665.5 1118.8 667.0 1129.1 668.5 1137.9 670.0 1145.1 671.5 1150.5 673.0 1153.9 674.5 1154.9 676.0 1153.6 677.5 1150.0 679.0 1144.5 680.5 1137.3 682.0 1128.9 683.5 1119.8 685.0 1110.7 686.5 1102.1 688.0 1094.2 689.5 1087.4 691.0 1082.0 692.5 1078.1 694.0 1075.8 695.5 1074.7 697.0 1074.7 698.5 1075.3 700.0 1076.3 701.5 1077.3 703.0 1078.4 704.5 1079.6 706.0 1081.0 707.5 1082.7 709.0 1084.4 710.5 1086.1 712.0 1087.3 713.5 1087.9 715.0 1087.8 716.5 1087.0 718.0 1085.9 719.5 1084.5 721.0 1083.3 722.5 1082.2 724.0 1081.2 725.5 1080.4 727.0 1079.6 728.5 1079.0 730.0 1078.4 731.5 1078.0 733.0 1077.7 734.5 1077.5 736.0 1077.5 737.5 1077.7 739.0 1078.2 740.5 1078.8 742.0 1079.7 743.5 1080.8 745.0 1082.2 746.5 1083.9 748.0 1086.0 749.5 1088.2 751.0 1090.4 752.5 1092.5 754.0 1094.3 755.5 1095.8 757.0 1097.1 758.5 1098.2 760.0 1099.0 761.5 1099.6 763.0 1099.8 764.5 1099.7 766.0 1098.3 767.5 1098.3 769.0 1098.7 770.5 1099.4 772.0 1100.6 773.5 1102.0 775.0 1103.5 776.5 1104.9 778.0 1106.1 779.5 1107.1 781.0 1107.9 782.5 1108.6 784.0 1109.2 785.5 1109.9 787.0 1110.6 788.5 1111.3 790.0 1112.0 791.5 1112.7 793.0 1113.5 794.5 1114.2 796.0 1114.9 797.5 1115.6 799.0 1116.3 800.5 1117.0 802.0 1117.7 803.5 1118.4 805.0 1119.1 806.5 1119.9 808.0 1120.7 809.5 1121.5 811.0 1122.4 812.5 1123.5 814.0 1124.5 815.5 1125.6 817.0 1126.6 818.5 1127.5 820.0 1128.3 821.5 1128.8 823.0 1129.1 824.5 1129.1 826.0 1128.9 827.5 1128.6 829.0 1128.2 830.5 1127.9 832.0 1127.8 833.5 1128.0 835.0 1128.4 836.5 1129.0 838.0 1129.7 839.5 1130.5 841.0 1131.3 842.5 1131.9 844.0 1132.4 845.5 1132.6 847.0 1132.5 848.5 1132.2 850.0 1131.8 851.5 1131.3 853.0 1130.9 854.5 1130.7 856.0 1130.5 857.5 1130.5 859.0 1130.6 860.5 1130.7 862.0 1130.8 863.5 1131.0 865.0 1131.2 866.5 1131.4 868.0 1131.6 869.5 1131.7" stroke="#1a08d8"/><path d="M509.5 1157.7L511.0 1158.6 512.5 1159.8 514.0 1161.1 515.5 1162.5 517.0 1164.1 518.5 1165.7 520.0 1167.4 521.5 1168.8 523.0 1169.7 524.5 1169.8 526.0 1169.1 527.5 1167.9 529.0 1166.3 530.5 1164.6 532.0 1163.0 533.5 1161.5 535.0 1160.1 536.5 1158.9 538.0 1158.0 539.5 1157.7 541.0 1157.9 542.5 1158.7 544.0 1159.7 545.5 1160.8 547.0 1161.7 548.5 1162.3 550.0 1162.6 551.5 1162.7 553.0 1162.6 554.5 1162.3 556.0 1161.7 557.5 1160.9 559.0 1159.8 560.5 1158.8 562.0 1158.1 563.5 1157.7 565.0 1157.9 566.5 1158.5 568.0 1159.4 569.5 1160.3 571.0 1160.9 572.5 1161.1 574.0 1160.9 575.5 1160.5 577.0 1159.9 578.5 1159.4 580.0 1159.0 581.5 1158.7 583.0 1158.5 584.5 1158.3 586.0 1158.1 587.5 1158.0 589.0 1157.8 590.5 1157.6 592.0 1157.5 593.5 1157.3 595.0 1157.0 596.5 1156.6 598.0 1156.1 599.5 1155.3 601.0 1154.4 602.5 1153.5 604.0 1152.5 605.5 1151.5 607.0 1150.6 608.5 1150.0 610.0 1150.0 611.5 1150.6 613.0 1151.8 614.5 1153.3 616.0 1154.6 617.5 1155.7 619.0 1156.4 620.5 1156.7 622.0 1156.5 623.5 1155.7 625.0 1154.4 626.5 1152.5 628.0 1150.0 629.5 1146.9 631.0 1142.9 632.5 1137.9 634.0 1131.8 635.5 1124.5 637.0 1116.1 638.5 1106.7 640.0 1096.4 641.5 1085.3 643.0 1073.7 644.5 1062.3 646.0 1051.5 647.5 1041.9 649.0 1033.8 650.5 1027.6 652.0 1023.8 653.5 1022.8 655.0 1025.0 656.5 1030.4 658.0 1039.1 659.5 1050.6 661.0 1064.0 662.5 1078.0 664.0 1091.9 665.5 1105.0 667.0 1117.0 668.5 1127.5 670.0 1136.3 671.5 1143.0 673.0 1147.5 674.5 1149.3 676.0 1148.3 677.5 1144.7 679.0 1138.6 680.5 1130.3 682.0 1120.4 683.5 1109.6 685.0 1098.7 686.5 1088.3 688.0 1078.7 689.5 1070.4 691.0 1063.8 692.5 1059.3 694.0 1056.8 695.5 1056.3 697.0 1057.7 698.5 1060.4 700.0 1063.6 701.5 1067.2 703.0 1070.7 704.5 1074.0 706.0 1077.0 707.5 1079.7 709.0 1082.3 710.5 1084.9 712.0 1087.6 713.5 1089.9 715.0 1091.3 716.5 1091.7 718.0 1090.9 719.5 1089.4 721.0 1087.6 722.5 1085.7 724.0 1083.8 725.5 1082.1 727.0 1080.5 728.5 1079.4 730.0 1078.6 731.5 1078.3 733.0 1078.3 734.5 1078.8 736.0 1079.5 737.5 1080.7 739.0 1082.2 740.5 1084.0 742.0 1086.1 743.5 1088.1 745.0 1089.8 746.5 1091.3 748.0 1092.4 749.5 1093.4 751.0 1094.2 752.5 1095.2 754.0 1096.3 755.5 1097.5 757.0 1098.9 758.5 1100.4 760.0 1101.9 761.5 1103.5 763.0 1105.1 764.5 1106.8 766.0 1108.3 767.5 1109.5 769.0 1110.2 770.5 1110.2 772.0 1109.6 773.5 1108.4 775.0 1107.1 776.5 1105.8 778.0 1104.8 779.5 1104.0 781.0 1103.4 782.5 1103.0 784.0 1102.8 785.5 1102.8 787.0 1103.0 788.5 1103.4 790.0 1103.9 791.5 1104.6 793.0 1105.3 794.5 1106.0 796.0 1106.8 797.5 1107.6 799.0 1108.6 800.5 1109.6 802.0 1110.8 803.5 1112.1 805.0 1113.4 806.5 1114.9 808.0 1116.4 809.5 1117.9 811.0 1119.4 812.5 1120.8 814.0 1122.3 815.5 1123.7 817.0 1124.9 818.5 1126.0 820.0 1127.0 821.5 1127.8 823.0 1128.4 824.5 1128.8 826.0 1128.9 827.5 1128.5 829.0 1127.8 830.5 1127.1 832.0 1126.8 833.5 1127.1 835.0 1127.8 836.5 1128.9 838.0 1130.4 839.5 1132.1 841.0 1133.9 842.5 1135.8 844.0 1137.8 845.5 1139.7 847.0 1141.5 848.5 1142.9 850.0 1143.8 851.5 1144.1 853.0 1144.0 854.5 1143.5 856.0 1142.9 857.5 1142.1 859.0 1141.3 860.5 1140.4 862.0 1139.4 863.5 1138.3 865.0 1137.2 866.5 1136.1 868.0 1135.2 869.5 1134.5" stroke="#e40ae8"/><path d="M509.5 1164.2L511.0 1163.8 512.5 1163.3 514.0 1162.7 515.5 1162.1 517.0 1161.5 518.5 1160.9 520.0 1160.4 521.5 1159.8 523.0 1159.2 524.5 1158.6 526.0 1158.1 527.5 1157.7 529.0 1157.7 530.5 1157.9 532.0 1158.5 533.5 1159.4 535.0 1160.5 536.5 1161.7 538.0 1163.1 539.5 1164.7 541.0 1166.3 542.5 1167.7 544.0 1168.7 545.5 1168.9 547.0 1168.2 548.5 1166.8 550.0 1164.8 551.5 1162.7 553.0 1160.6 554.5 1158.5 556.0 1156.7 557.5 1155.3 559.0 1154.5 560.5 1154.4 562.0 1155.1 563.5 1156.4 565.0 1158.0 566.5 1159.6 568.0 1161.1 569.5 1162.4 571.0 1163.6 572.5 1164.7 574.0 1165.6 575.5 1166.3 577.0 1166.6 578.5 1166.6 580.0 1166.2 581.5 1165.6 583.0 1164.9 584.5 1164.0 586.0 1163.2 587.5 1162.3 589.0 1161.4 590.5 1160.5 592.0 1159.6 593.5 1158.8 595.0 1158.0 596.5 1157.3 598.0 1156.6 599.5 1155.9 601.0 1155.2 602.5 1154.4 604.0 1153.6 605.5 1152.8 607.0 1152.2 608.5 1152.0 610.0 1152.3 611.5 1153.1 613.0 1154.2 614.5 1155.6 616.0 1157.2 617.5 1158.8 619.0 1160.5 620.5 1161.9 622.0 1162.9 623.5 1163.3 625.0 1163.0 626.5 1161.9 628.0 1160.0 629.5 1157.1 631.0 1153.2 632.5 1148.2 634.0 1142.1 635.5 1134.7 637.0 1126.3 638.5 1116.9 640.0 1106.6 641.5 1095.6 643.0 1084.3 644.5 1073.3 646.0 1063.2 647.5 1054.4 649.0 1047.3 650.5 1042.3 652.0 1039.8 653.5 1040.1 655.0 1043.3 656.5 1049.4 658.0 1058.1 659.5 1068.8 661.0 1080.4 662.5 1092.1 664.0 1103.3 665.5 1113.7 667.0 1122.9 668.5 1130.6 670.0 1136.7 671.5 1140.9 673.0 1142.8 674.5 1142.1 676.0 1139.0 677.5 1133.5 679.0 1125.8 680.5 1116.4 682.0 1105.6 683.5 1094.4 685.0 1083.4 686.5 1073.0 688.0 1063.5 689.5 1055.4 691.0 1049.0 692.5 1044.6 694.0 1042.5 695.5 1042.8 697.0 1045.4 698.5 1049.6 700.0 1054.6 701.5 1060.1 703.0 1065.4 704.5 1070.0 706.0 1073.4 707.5 1075.7 709.0 1076.9 710.5 1077.7 712.0 1078.3 713.5 1078.9 715.0 1079.5 716.5 1079.7 718.0 1079.6 719.5 1078.9 721.0 1077.7 722.5 1076.2 724.0 1074.8 725.5 1073.7 727.0 1073.1 728.5 1073.1 730.0 1073.7 731.5 1074.6 733.0 1075.9 734.5 1077.4 736.0 1079.2 737.5 1081.2 739.0 1083.4 740.5 1085.6 742.0 1087.8 743.5 1089.9 745.0 1091.7 746.5 1093.4 748.0 1094.8 749.5 1095.8 751.0 1096.4 752.5 1096.5 754.0 1096.0 755.5 1095.1 757.0 1094.0 758.5 1092.8 760.0 1091.8 761.5 1090.9 763.0 1090.2 764.5 1089.9 766.0 1089.8 767.5 1090.2 769.0 1090.8 770.5 1091.7 772.0 1092.8 773.5 1094.2 775.0 1095.7 776.5 1097.4 778.0 1099.1 779.5 1100.8 781.0 1102.3 782.5 1103.6 784.0 1104.7 785.5 1105.6 787.0 1106.4 788.5 1107.2 790.0 1107.9 791.5 1108.7 793.0 1109.4 794.5 1110.0 796.0 1110.5 797.5 1110.9 799.0 1111.2 800.5 1111.3 802.0 1111.3 803.5 1111.2 805.0 1110.9 806.5 1110.5 808.0 1110.0 809.5 1109.6 811.0 1109.4 812.5 1109.6 814.0 1110.4 815.5 1111.7 817.0 1113.5 818.5 1115.5 820.0 1117.8 821.5 1120.2 823.0 1122.5 824.5 1124.4 826.0 1125.4 827.5 1125.6 829.0 1125.0 830.5 1123.7 832.0 1122.2 833.5 1120.8 835.0 1119.6 836.5 1118.7 838.0 1118.5 839.5 1119.1 841.0 1120.7 842.5 1123.0 844.0 1125.5 845.5 1127.9 847.0 1129.8 848.5 1131.3 850.0 1132.5 851.5 1133.4 853.0 1134.2 854.5 1134.8 856.0 1135.2 857.5 1135.5 859.0 1135.5 860.5 1135.5 862.0 1135.4 863.5 1135.2 865.0 1134.9 866.5 1134.7 868.0 1134.5 869.5 1134.5" stroke="#000000"/></g><path d="M509.5 1255.4V1250.4M509.5 1013.5V1018.5M589.5 1255.4V1250.4M589.5 1013.5V1018.5M669.5 1255.4V1250.4M669.5 1013.5V1018.5M749.5 1255.4V1250.4M749.5 1013.5V1018.5M829.5 1255.4V1250.4M829.5 1013.5V1018.5M509.5 1236.8H514.5M869.5 1236.8H864.5M509.5 1199.6H514.5M869.5 1199.6H864.5M509.5 1162.4H514.5M869.5 1162.4H864.5M509.5 1125.1H514.5M869.5 1125.1H864.5M509.5 1087.9H514.5M869.5 1087.9H864.5M509.5 1050.7H514.5M869.5 1050.7H864.5M509.5 1013.5H514.5M869.5 1013.5H864.5" stroke="#262626" stroke-width="2.4" fill="none"/><rect x="509.5" y="1013.5" width="360.0" height="241.9" fill="none" stroke="#262626" stroke-width="2.9"/><text x="509.5" y="1275.8" font-size="14.6" font-weight="bold" text-anchor="middle" fill="#262626" stroke="#262626" stroke-width="0.3">-200</text><text x="589.5" y="1275.8" font-size="14.6" font-weight="bold" text-anchor="middle" fill="#262626" stroke="#262626" stroke-width="0.3">0</text><text x="669.5" y="1275.8" font-size="14.6" font-weight="bold" text-anchor="middle" fill="#262626" stroke="#262626" stroke-width="0.3">200</text><text x="749.5" y="1275.8" font-size="14.6" font-weight="bold" text-anchor="middle" fill="#262626" stroke="#262626" stroke-width="0.3">400</text><text x="829.5" y="1275.8" font-size="14.6" font-weight="bold" text-anchor="middle" fill="#262626" stroke="#262626" stroke-width="0.3">600</text><text x="503.2" y="1242.0" font-size="14.6" font-weight="bold" text-anchor="end" fill="#262626" stroke="#262626" stroke-width="0.3">-4</text><text x="503.2" y="1204.8" font-size="14.6" font-weight="bold" text-anchor="end" fill="#262626" stroke="#262626" stroke-width="0.3">-2</text><text x="503.2" y="1167.6" font-size="14.6" font-weight="bold" text-anchor="end" fill="#262626" stroke="#262626" stroke-width="0.3">0</text><text x="503.2" y="1130.3" font-size="14.6" font-weight="bold" text-anchor="end" fill="#262626" stroke="#262626" stroke-width="0.3">2</text><text x="503.2" y="1093.1" font-size="14.6" font-weight="bold" text-anchor="end" fill="#262626" stroke="#262626" stroke-width="0.3">4</text><text x="503.2" y="1055.9" font-size="14.6" font-weight="bold" text-anchor="end" fill="#262626" stroke="#262626" stroke-width="0.3">6</text><text x="503.2" y="1018.7" font-size="14.6" font-weight="bold" text-anchor="end" fill="#262626" stroke="#262626" stroke-width="0.3">8</text><text x="689.5" y="1295.8" font-size="15" font-weight="bold" text-anchor="middle" fill="#262626" stroke="#262626" stroke-width="0.3">time (ms)</text><text transform="translate(483.9 1134.5) rotate(-90)" font-size="15" font-weight="bold" text-anchor="middle" fill="#262626" stroke="#262626" stroke-width="0.3">Amplitude (uV)</text><text x="689.5" y="1008.6" font-size="15" font-weight="bold" text-anchor="middle" fill="#000" stroke="#000" stroke-width="0.3">ADHD+Autism P8</text></g>
<g><clipPath id="cp32"><rect x="930.3" y="1012.3" width="359.0" height="241.7"/></clipPath><g clip-path="url(#cp32)" fill="none" stroke-width="3.5" stroke-linejoin="round" stroke-linecap="round"><path d="M930.3 1145.2L931.8 1146.2 933.3 1147.5 934.8 1148.8 936.3 1149.9 937.8 1150.6 939.3 1150.8 940.8 1150.5 942.3 1150.0 943.8 1149.1 945.3 1148.1 946.8 1146.9 948.3 1145.6 949.8 1144.1 951.3 1142.7 952.8 1141.6 954.3 1140.9 955.8 1140.7 957.3 1140.9 958.8 1141.5 960.3 1142.2 961.8 1142.9 963.3 1143.6 964.8 1144.2 966.3 1144.6 967.8 1144.7 969.3 1144.1 970.8 1142.6 972.3 1140.2 973.8 1137.3 975.3 1134.7 976.8 1133.2 978.3 1133.3 979.8 1135.2 981.3 1138.2 982.8 1141.4 984.3 1144.1 985.8 1145.8 987.3 1146.5 988.8 1146.7 990.3 1146.4 991.8 1145.9 993.3 1145.1 994.8 1144.3 996.3 1143.6 997.8 1143.1 999.3 1143.0 1000.8 1143.3 1002.3 1143.7 1003.8 1144.2 1005.3 1144.8 1006.8 1145.4 1008.3 1145.9 1009.8 1146.5 1011.3 1146.9 1012.8 1147.3 1014.3 1147.4 1015.8 1147.4 1017.3 1147.2 1018.8 1147.0 1020.3 1146.7 1021.8 1146.4 1023.3 1146.3 1024.8 1146.2 1026.3 1146.1 1027.8 1146.2 1029.3 1146.4 1030.8 1146.8 1032.3 1147.4 1033.8 1148.1 1035.3 1148.6 1036.8 1148.7 1038.3 1148.4 1039.8 1147.7 1041.3 1146.6 1042.8 1145.1 1044.3 1143.2 1045.8 1140.9 1047.3 1138.3 1048.8 1135.6 1050.3 1132.8 1051.8 1130.2 1053.3 1127.8 1054.8 1125.5 1056.3 1123.2 1057.8 1120.9 1059.3 1118.5 1060.8 1116.0 1062.3 1113.4 1063.8 1110.7 1065.3 1108.1 1066.8 1105.4 1068.3 1102.7 1069.8 1100.1 1071.3 1097.8 1072.8 1096.3 1074.3 1095.8 1075.8 1096.9 1077.3 1100.1 1078.8 1105.8 1080.3 1113.7 1081.8 1123.1 1083.3 1132.9 1084.8 1142.1 1086.3 1150.7 1087.8 1158.5 1089.3 1165.4 1090.8 1171.5 1092.3 1176.4 1093.8 1179.9 1095.3 1181.2 1096.8 1179.1 1098.3 1173.6 1099.8 1165.2 1101.3 1155.6 1102.8 1146.1 1104.3 1137.5 1105.8 1129.9 1107.3 1123.1 1108.8 1117.0 1110.3 1111.5 1111.8 1106.7 1113.3 1102.7 1114.8 1099.8 1116.3 1098.2 1117.8 1098.1 1119.3 1099.5 1120.8 1101.9 1122.3 1105.4 1123.8 1109.5 1125.3 1114.0 1126.8 1118.4 1128.3 1122.5 1129.8 1126.0 1131.3 1129.0 1132.8 1131.7 1134.3 1134.0 1135.8 1135.9 1137.3 1137.6 1138.8 1138.8 1140.3 1139.5 1141.8 1139.7 1143.3 1139.4 1144.8 1138.5 1146.3 1137.2 1147.8 1135.6 1149.3 1133.8 1150.8 1131.8 1152.3 1129.7 1153.8 1127.5 1155.3 1125.3 1156.8 1123.1 1158.3 1121.0 1159.8 1119.1 1161.3 1117.4 1162.8 1116.1 1164.3 1115.5 1165.8 1115.5 1167.3 1116.0 1168.8 1117.0 1170.3 1118.3 1171.8 1119.9 1173.3 1121.4 1174.8 1122.6 1176.3 1123.4 1177.8 1123.5 1179.3 1123.1 1180.8 1122.4 1182.3 1121.5 1183.8 1120.7 1185.3 1120.1 1186.8 1119.9 1188.3 1120.0 1189.8 1120.3 1191.3 1120.7 1192.8 1121.1 1194.3 1121.7 1195.8 1122.4 1197.3 1123.1 1198.8 1123.9 1200.3 1124.8 1201.8 1125.9 1203.3 1126.9 1204.8 1128.0 1206.3 1129.0 1207.8 1129.9 1209.3 1130.6 1210.8 1131.1 1212.3 1131.3 1213.8 1131.4 1215.3 1131.5 1216.8 1131.6 1218.3 1131.9 1219.8 1132.5 1221.3 1133.6 1222.8 1135.1 1224.3 1136.9 1225.8 1139.0 1227.3 1141.2 1228.8 1143.5 1230.3 1145.9 1231.8 1148.2 1233.3 1150.4 1234.8 1152.2 1236.3 1153.4 1237.8 1154.1 1239.3 1154.4 1240.8 1154.6 1242.3 1154.8 1243.8 1155.4 1245.3 1156.3 1246.8 1157.4 1248.3 1158.5 1249.8 1159.3 1251.3 1159.5 1252.8 1159.2 1254.3 1158.2 1255.8 1156.7 1257.3 1155.0 1258.8 1153.0 1260.3 1151.1 1261.8 1149.5 1263.3 1148.6 1264.8 1148.6 1266.3 1149.5 1267.8 1150.9 1269.3 1152.6 1270.8 1154.4 1272.3 1156.1 1273.8 1157.5 1275.3 1158.3 1276.8 1158.5 1278.3 1158.0 1279.8 1157.0 1281.3 1155.8 1282.8 1154.6 1284.3 1153.5 1285.8 1152.5 1287.3 1151.6 1288.8 1150.9 1289.3 1150.7" stroke="#1a08d8"/><path d="M930.3 1134.2L931.8 1134.4 933.3 1134.7 934.8 1135.0 936.3 1135.7 937.8 1136.6 939.3 1138.0 940.8 1139.8 942.3 1141.8 943.8 1143.7 945.3 1145.3 946.8 1146.3 948.3 1146.8 949.8 1146.7 951.3 1146.2 952.8 1145.6 954.3 1145.3 955.8 1145.3 957.3 1145.5 958.8 1145.8 960.3 1146.2 961.8 1146.6 963.3 1147.0 964.8 1147.3 966.3 1147.4 967.8 1147.4 969.3 1147.4 970.8 1147.2 972.3 1147.0 973.8 1146.7 975.3 1146.5 976.8 1146.4 978.3 1146.3 979.8 1146.4 981.3 1146.4 982.8 1146.6 984.3 1146.7 985.8 1146.9 987.3 1147.1 988.8 1147.3 990.3 1147.5 991.8 1147.7 993.3 1147.9 994.8 1148.1 996.3 1148.2 997.8 1148.4 999.3 1148.5 1000.8 1148.6 1002.3 1148.5 1003.8 1148.4 1005.3 1148.1 1006.8 1147.9 1008.3 1147.5 1009.8 1147.2 1011.3 1146.8 1012.8 1146.5 1014.3 1146.2 1015.8 1146.0 1017.3 1145.7 1018.8 1145.4 1020.3 1145.2 1021.8 1145.0 1023.3 1145.0 1024.8 1145.1 1026.3 1145.3 1027.8 1145.8 1029.3 1146.3 1030.8 1147.0 1032.3 1147.9 1033.8 1148.9 1035.3 1150.1 1036.8 1151.4 1038.3 1152.7 1039.8 1153.7 1041.3 1154.1 1042.8 1153.9 1044.3 1153.0 1045.8 1151.0 1047.3 1147.9 1048.8 1143.4 1050.3 1138.1 1051.8 1132.8 1053.3 1128.2 1054.8 1124.6 1056.3 1121.7 1057.8 1119.1 1059.3 1116.5 1060.8 1113.7 1062.3 1110.7 1063.8 1107.5 1065.3 1104.3 1066.8 1101.0 1068.3 1097.8 1069.8 1094.6 1071.3 1091.8 1072.8 1089.8 1074.3 1089.2 1075.8 1090.3 1077.3 1093.9 1078.8 1100.3 1080.3 1109.1 1081.8 1119.2 1083.3 1129.6 1084.8 1139.3 1086.3 1148.3 1087.8 1156.4 1089.3 1163.5 1090.8 1169.5 1092.3 1174.2 1093.8 1177.0 1095.3 1177.2 1096.8 1174.2 1098.3 1168.2 1099.8 1160.4 1101.3 1152.1 1102.8 1144.3 1104.3 1137.4 1105.8 1131.2 1107.3 1125.6 1108.8 1120.7 1110.3 1116.3 1111.8 1112.5 1113.3 1109.5 1114.8 1107.5 1116.3 1106.7 1117.8 1107.1 1119.3 1108.6 1120.8 1111.1 1122.3 1114.4 1123.8 1118.2 1125.3 1122.0 1126.8 1125.4 1128.3 1128.1 1129.8 1130.3 1131.3 1132.0 1132.8 1133.4 1134.3 1134.5 1135.8 1135.4 1137.3 1136.0 1138.8 1136.4 1140.3 1136.5 1141.8 1136.4 1143.3 1136.0 1144.8 1135.5 1146.3 1134.8 1147.8 1134.1 1149.3 1133.4 1150.8 1132.8 1152.3 1132.3 1153.8 1131.9 1155.3 1131.5 1156.8 1131.2 1158.3 1131.0 1159.8 1130.9 1161.3 1130.9 1162.8 1131.1 1164.3 1131.4 1165.8 1131.8 1167.3 1132.3 1168.8 1132.8 1170.3 1133.2 1171.8 1133.6 1173.3 1134.1 1174.8 1134.5 1176.3 1134.9 1177.8 1135.4 1179.3 1135.9 1180.8 1136.4 1182.3 1137.0 1183.8 1137.6 1185.3 1138.2 1186.8 1138.7 1188.3 1139.3 1189.8 1139.9 1191.3 1140.4 1192.8 1141.0 1194.3 1141.5 1195.8 1142.0 1197.3 1142.6 1198.8 1143.2 1200.3 1143.8 1201.8 1144.5 1203.3 1145.3 1204.8 1146.2 1206.3 1147.0 1207.8 1147.9 1209.3 1148.7 1210.8 1149.4 1212.3 1150.1 1213.8 1150.8 1215.3 1151.4 1216.8 1151.9 1218.3 1152.3 1219.8 1152.7 1221.3 1153.0 1222.8 1153.2 1224.3 1153.5 1225.8 1153.7 1227.3 1154.0 1228.8 1154.4 1230.3 1154.8 1231.8 1155.3 1233.3 1155.8 1234.8 1156.4 1236.3 1157.1 1237.8 1157.9 1239.3 1158.8 1240.8 1159.9 1242.3 1161.2 1243.8 1162.7 1245.3 1164.3 1246.8 1165.7 1248.3 1166.8 1249.8 1167.3 1251.3 1167.1 1252.8 1166.1 1254.3 1164.9 1255.8 1164.0 1257.3 1164.0 1258.8 1164.7 1260.3 1166.1 1261.8 1167.7 1263.3 1169.3 1264.8 1170.3 1266.3 1170.5 1267.8 1170.0 1269.3 1168.9 1270.8 1167.6 1272.3 1166.5 1273.8 1165.8 1275.3 1165.4 1276.8 1165.4 1278.3 1167.0 1279.8 1166.9 1281.3 1166.6 1282.8 1165.9 1284.3 1165.0 1285.8 1163.9 1287.3 1162.8 1288.8 1161.9 1289.3 1161.7" stroke="#86ee3e"/><path d="M930.3 1150.7L931.8 1151.3 933.3 1152.1 934.8 1153.0 936.3 1153.7 937.8 1154.2 939.3 1154.2 940.8 1153.8 942.3 1153.0 943.8 1151.9 945.3 1150.5 946.8 1148.9 948.3 1146.9 949.8 1144.8 951.3 1142.4 952.8 1140.1 954.3 1138.1 955.8 1136.8 957.3 1136.3 958.8 1136.5 960.3 1137.3 961.8 1138.4 963.3 1139.6 964.8 1140.7 966.3 1141.8 967.8 1142.8 969.3 1143.7 970.8 1144.5 972.3 1145.2 973.8 1145.7 975.3 1146.1 976.8 1146.4 978.3 1146.4 979.8 1146.3 981.3 1146.1 982.8 1145.6 984.3 1145.0 985.8 1144.2 987.3 1143.3 988.8 1142.4 990.3 1141.2 991.8 1140.0 993.3 1138.7 994.8 1137.7 996.3 1136.9 997.8 1136.5 999.3 1136.5 1000.8 1137.0 1002.3 1137.8 1003.8 1138.9 1005.3 1140.3 1006.8 1141.8 1008.3 1143.5 1009.8 1145.3 1011.3 1147.2 1012.8 1149.1 1014.3 1150.9 1015.8 1152.3 1017.3 1152.9 1018.8 1152.6 1020.3 1151.3 1021.8 1149.4 1023.3 1147.2 1024.8 1144.9 1026.3 1142.8 1027.8 1140.9 1029.3 1139.1 1030.8 1137.6 1032.3 1136.3 1033.8 1135.3 1035.3 1134.6 1036.8 1134.3 1038.3 1134.3 1039.8 1135.0 1041.3 1135.8 1042.8 1136.4 1044.3 1136.4 1045.8 1135.8 1047.3 1134.8 1048.8 1133.3 1050.3 1131.3 1051.8 1128.9 1053.3 1126.1 1054.8 1122.9 1056.3 1119.7 1057.8 1116.3 1059.3 1112.9 1060.8 1109.4 1062.3 1105.9 1063.8 1102.4 1065.3 1099.0 1066.8 1095.5 1068.3 1092.2 1069.8 1089.4 1071.3 1087.4 1072.8 1086.8 1074.3 1087.7 1075.8 1090.5 1077.3 1095.1 1078.8 1101.2 1080.3 1108.2 1081.8 1115.2 1083.3 1121.8 1084.8 1127.8 1086.3 1133.3 1087.8 1138.2 1089.3 1142.4 1090.8 1145.8 1092.3 1148.3 1093.8 1149.6 1095.3 1149.4 1096.8 1147.9 1098.3 1145.4 1099.8 1142.5 1101.3 1139.6 1102.8 1137.0 1104.3 1134.8 1105.8 1132.9 1107.3 1131.6 1108.8 1130.6 1110.3 1129.9 1111.8 1129.4 1113.3 1128.8 1114.8 1128.1 1116.3 1127.2 1117.8 1126.3 1119.3 1125.4 1120.8 1124.6 1122.3 1123.9 1123.8 1123.2 1125.3 1122.7 1126.8 1122.3 1128.3 1122.0 1129.8 1122.0 1131.3 1122.3 1132.8 1122.9 1134.3 1123.1 1135.8 1122.9 1137.3 1122.2 1138.8 1121.1 1140.3 1119.6 1141.8 1118.0 1143.3 1116.4 1144.8 1115.0 1146.3 1113.8 1147.8 1112.8 1149.3 1112.0 1150.8 1111.3 1152.3 1110.7 1153.8 1110.4 1155.3 1110.2 1156.8 1110.2 1158.3 1110.4 1159.8 1111.0 1161.3 1112.0 1162.8 1113.3 1164.3 1114.7 1165.8 1116.1 1167.3 1117.4 1168.8 1118.3 1170.3 1118.7 1171.8 1118.6 1173.3 1118.2 1174.8 1117.6 1176.3 1116.9 1177.8 1116.2 1179.3 1115.5 1180.8 1114.9 1182.3 1114.3 1183.8 1114.0 1185.3 1114.0 1186.8 1114.3 1188.3 1114.9 1189.8 1115.7 1191.3 1116.8 1192.8 1117.9 1194.3 1119.2 1195.8 1120.6 1197.3 1122.0 1198.8 1123.5 1200.3 1125.1 1201.8 1126.7 1203.3 1128.3 1204.8 1129.9 1206.3 1131.4 1207.8 1132.8 1209.3 1133.9 1210.8 1134.8 1212.3 1135.4 1213.8 1135.7 1215.3 1135.7 1216.8 1135.2 1218.3 1134.2 1219.8 1132.7 1221.3 1131.3 1222.8 1130.7 1224.3 1131.2 1225.8 1132.6 1227.3 1134.5 1228.8 1136.6 1230.3 1138.5 1231.8 1140.1 1233.3 1141.3 1234.8 1142.4 1236.3 1143.3 1237.8 1144.1 1239.3 1144.7 1240.8 1145.2 1242.3 1145.7 1243.8 1146.1 1245.3 1146.4 1246.8 1146.7 1248.3 1147.0 1249.8 1147.2 1251.3 1147.4 1252.8 1147.4 1254.3 1147.2 1255.8 1146.8 1257.3 1146.3 1258.8 1146.0 1260.3 1146.2 1261.8 1147.0 1263.3 1148.4 1264.8 1150.2 1266.3 1152.0 1267.8 1153.4 1269.3 1154.0 1270.8 1153.6 1272.3 1152.4 1273.8 1151.0 1275.3 1149.9 1276.8 1149.5 1278.3 1149.7 1279.8 1150.2 1281.3 1150.9 1282.8 1151.4 1284.3 1151.8 1285.8 1151.9 1287.3 1151.9 1288.8 1151.9 1289.3 1151.8" stroke="#000000"/><path d="M930.3 1141.9L931.8 1142.2 933.3 1142.6 934.8 1143.1 936.3 1143.6 937.8 1144.0 939.3 1144.4 940.8 1144.8 942.3 1145.1 943.8 1145.4 945.3 1145.6 946.8 1145.8 948.3 1146.0 949.8 1146.1 951.3 1146.2 952.8 1146.3 954.3 1146.3 955.8 1146.4 957.3 1146.4 958.8 1146.4 960.3 1146.3 961.8 1146.3 963.3 1146.3 964.8 1146.3 966.3 1146.4 967.8 1146.5 969.3 1146.8 970.8 1147.0 972.3 1147.2 973.8 1147.4 975.3 1147.5 976.8 1147.5 978.3 1147.4 979.8 1147.1 981.3 1146.7 982.8 1146.2 984.3 1145.6 985.8 1144.9 987.3 1144.2 988.8 1143.5 990.3 1142.9 991.8 1142.1 993.3 1141.4 994.8 1140.8 996.3 1140.2 997.8 1139.8 999.3 1139.7 1000.8 1139.7 1002.3 1139.9 1003.8 1140.2 1005.3 1140.6 1006.8 1141.0 1008.3 1141.4 1009.8 1141.8 1011.3 1142.3 1012.8 1142.7 1014.3 1143.0 1015.8 1143.2 1017.3 1143.1 1018.8 1142.7 1020.3 1142.0 1021.8 1141.2 1023.3 1140.5 1024.8 1139.9 1026.3 1139.7 1027.8 1140.0 1029.3 1140.6 1030.8 1141.4 1032.3 1142.3 1033.8 1143.2 1035.3 1144.1 1036.8 1144.9 1038.3 1145.3 1039.8 1145.3 1041.3 1144.6 1042.8 1143.3 1044.3 1141.3 1045.8 1138.6 1047.3 1135.4 1048.8 1131.7 1050.3 1127.9 1051.8 1124.1 1053.3 1120.3 1054.8 1116.5 1056.3 1112.6 1057.8 1108.6 1059.3 1104.5 1060.8 1100.3 1062.3 1096.0 1063.8 1091.8 1065.3 1087.6 1066.8 1083.6 1068.3 1080.4 1069.8 1078.4 1071.3 1077.9 1072.8 1079.3 1074.3 1082.7 1075.8 1088.1 1077.3 1095.0 1078.8 1102.5 1080.3 1110.0 1081.8 1117.0 1083.3 1123.4 1084.8 1129.3 1086.3 1134.6 1087.8 1139.1 1089.3 1142.8 1090.8 1145.6 1092.3 1147.2 1093.8 1147.4 1095.3 1145.9 1096.8 1143.0 1098.3 1139.2 1099.8 1135.0 1101.3 1130.7 1102.8 1126.4 1104.3 1122.6 1105.8 1119.4 1107.3 1116.9 1108.8 1115.3 1110.3 1114.3 1111.8 1114.0 1113.3 1114.3 1114.8 1115.2 1116.3 1116.4 1117.8 1117.7 1119.3 1119.0 1120.8 1120.1 1122.3 1121.1 1123.8 1121.9 1125.3 1122.5 1126.8 1122.9 1128.3 1123.1 1129.8 1123.0 1131.3 1122.7 1132.8 1122.3 1134.3 1121.7 1135.8 1120.9 1137.3 1120.0 1138.8 1118.9 1140.3 1117.6 1141.8 1116.3 1143.3 1114.9 1144.8 1113.8 1146.3 1112.8 1147.8 1112.0 1149.3 1111.5 1150.8 1111.1 1152.3 1110.8 1153.8 1110.7 1155.3 1110.7 1156.8 1110.9 1158.3 1111.2 1159.8 1111.6 1161.3 1112.1 1162.8 1112.7 1164.3 1113.4 1165.8 1114.1 1167.3 1114.9 1168.8 1115.7 1170.3 1116.6 1171.8 1117.5 1173.3 1118.4 1174.8 1119.3 1176.3 1120.1 1177.8 1120.9 1179.3 1121.7 1180.8 1122.3 1182.3 1123.0 1183.8 1123.6 1185.3 1124.1 1186.8 1124.6 1188.3 1125.0 1189.8 1125.3 1191.3 1125.4 1192.8 1125.4 1194.3 1125.3 1195.8 1125.1 1197.3 1124.9 1198.8 1124.9 1200.3 1125.1 1201.8 1125.4 1203.3 1125.9 1204.8 1126.6 1206.3 1127.5 1207.8 1128.4 1209.3 1129.3 1210.8 1130.2 1212.3 1131.1 1213.8 1131.8 1215.3 1132.5 1216.8 1133.1 1218.3 1133.7 1219.8 1134.2 1221.3 1134.8 1222.8 1135.4 1224.3 1136.0 1225.8 1136.8 1227.3 1137.7 1228.8 1138.6 1230.3 1139.7 1231.8 1140.7 1233.3 1141.8 1234.8 1142.7 1236.3 1143.6 1237.8 1144.4 1239.3 1145.2 1240.8 1145.8 1242.3 1146.4 1243.8 1146.9 1245.3 1147.3 1246.8 1147.5 1248.3 1147.5 1249.8 1147.2 1251.3 1146.6 1252.8 1145.8 1254.3 1145.0 1255.8 1144.4 1257.3 1144.1 1258.8 1144.4 1260.3 1145.0 1261.8 1145.9 1263.3 1147.1 1264.8 1148.5 1266.3 1150.0 1267.8 1151.7 1269.3 1153.1 1270.8 1153.9 1272.3 1153.9 1273.8 1153.0 1275.3 1151.7 1276.8 1150.4 1278.3 1149.6 1279.8 1149.2 1281.3 1149.3 1282.8 1149.7 1284.3 1150.4 1285.8 1151.2 1287.3 1152.0 1288.8 1152.7 1289.3 1152.9" stroke="#e41418"/></g><path d="M930.3 1254.0V1249.0M930.3 1012.3V1017.3M1010.1 1254.0V1249.0M1010.1 1012.3V1017.3M1089.9 1254.0V1249.0M1089.9 1012.3V1017.3M1169.6 1254.0V1249.0M1169.6 1012.3V1017.3M1249.4 1254.0V1249.0M1249.4 1012.3V1017.3M930.3 1232.0H935.3M1289.3 1232.0H1284.3M930.3 1188.1H935.3M1289.3 1188.1H1284.3M930.3 1144.1H935.3M1289.3 1144.1H1284.3M930.3 1100.2H935.3M1289.3 1100.2H1284.3M930.3 1056.2H935.3M1289.3 1056.2H1284.3M930.3 1012.3H935.3M1289.3 1012.3H1284.3" stroke="#262626" stroke-width="2.4" fill="none"/><rect x="930.3" y="1012.3" width="359.0" height="241.7" fill="none" stroke="#262626" stroke-width="2.9"/><text x="930.3" y="1274.4" font-size="14.6" font-weight="bold" text-anchor="middle" fill="#262626" stroke="#262626" stroke-width="0.3">-200</text><text x="1010.1" y="1274.4" font-size="14.6" font-weight="bold" text-anchor="middle" fill="#262626" stroke="#262626" stroke-width="0.3">0</text><text x="1089.9" y="1274.4" font-size="14.6" font-weight="bold" text-anchor="middle" fill="#262626" stroke="#262626" stroke-width="0.3">200</text><text x="1169.6" y="1274.4" font-size="14.6" font-weight="bold" text-anchor="middle" fill="#262626" stroke="#262626" stroke-width="0.3">400</text><text x="1249.4" y="1274.4" font-size="14.6" font-weight="bold" text-anchor="middle" fill="#262626" stroke="#262626" stroke-width="0.3">600</text><text x="924.0" y="1237.2" font-size="14.6" font-weight="bold" text-anchor="end" fill="#262626" stroke="#262626" stroke-width="0.3">-4</text><text x="924.0" y="1193.3" font-size="14.6" font-weight="bold" text-anchor="end" fill="#262626" stroke="#262626" stroke-width="0.3">-2</text><text x="924.0" y="1149.3" font-size="14.6" font-weight="bold" text-anchor="end" fill="#262626" stroke="#262626" stroke-width="0.3">0</text><text x="924.0" y="1105.4" font-size="14.6" font-weight="bold" text-anchor="end" fill="#262626" stroke="#262626" stroke-width="0.3">2</text><text x="924.0" y="1061.4" font-size="14.6" font-weight="bold" text-anchor="end" fill="#262626" stroke="#262626" stroke-width="0.3">4</text><text x="924.0" y="1017.5" font-size="14.6" font-weight="bold" text-anchor="end" fill="#262626" stroke="#262626" stroke-width="0.3">6</text><text x="1109.8" y="1294.4" font-size="15" font-weight="bold" text-anchor="middle" fill="#262626" stroke="#262626" stroke-width="0.3">time (ms)</text><text transform="translate(904.7 1133.2) rotate(-90)" font-size="15" font-weight="bold" text-anchor="middle" fill="#262626" stroke="#262626" stroke-width="0.3">Amplitude (uV)</text><text x="1109.8" y="1007.4" font-size="15" font-weight="bold" text-anchor="middle" fill="#000" stroke="#000" stroke-width="0.3">ADHD+Autism P7</text></g>
<g><clipPath id="cp33"><rect x="1408.8" y="1012.3" width="358.8" height="241.7"/></clipPath><g clip-path="url(#cp33)" fill="none" stroke-width="3.5" stroke-linejoin="round" stroke-linecap="round"><path d="M1408.8 1145.2L1410.3 1145.8 1411.8 1146.6 1413.3 1147.4 1414.8 1148.4 1416.3 1149.3 1417.8 1150.4 1419.3 1151.6 1420.8 1152.8 1422.3 1154.0 1423.8 1155.1 1425.3 1155.9 1426.8 1156.3 1428.3 1156.3 1429.8 1155.7 1431.3 1154.7 1432.8 1153.4 1434.3 1151.9 1435.8 1150.5 1437.3 1149.1 1438.8 1147.9 1440.3 1146.8 1441.8 1146.0 1443.3 1145.4 1444.8 1145.2 1446.3 1145.7 1447.8 1146.6 1449.3 1147.7 1450.8 1148.5 1452.3 1148.6 1453.8 1148.1 1455.3 1146.9 1456.8 1144.9 1458.3 1142.1 1459.8 1138.2 1461.3 1133.9 1462.8 1130.0 1464.3 1127.7 1465.8 1127.7 1467.3 1129.8 1468.8 1133.1 1470.3 1136.4 1471.8 1139.1 1473.3 1141.1 1474.8 1142.4 1476.3 1143.0 1477.8 1143.0 1479.3 1142.5 1480.8 1141.6 1482.3 1140.5 1483.8 1139.4 1485.3 1138.2 1486.8 1137.1 1488.3 1136.1 1489.8 1135.2 1491.3 1134.5 1492.8 1134.2 1494.3 1134.3 1495.8 1134.8 1497.3 1135.5 1498.8 1136.1 1500.3 1136.4 1501.8 1136.2 1503.3 1135.5 1504.8 1135.2 1506.3 1135.5 1507.8 1136.3 1509.3 1137.5 1510.8 1139.0 1512.3 1140.6 1513.8 1142.1 1515.3 1143.4 1516.8 1144.5 1518.3 1145.2 1519.8 1145.4 1521.3 1145.1 1522.8 1144.3 1524.3 1142.9 1525.8 1140.8 1527.3 1137.8 1528.8 1133.5 1530.3 1127.8 1531.8 1120.9 1533.3 1113.0 1534.8 1104.5 1536.3 1095.7 1537.8 1086.6 1539.3 1077.3 1540.8 1068.0 1542.3 1058.8 1543.8 1050.3 1545.3 1043.1 1546.8 1038.1 1548.3 1036.2 1549.8 1037.9 1551.3 1043.2 1552.8 1051.6 1554.3 1062.5 1555.8 1075.3 1557.3 1089.6 1558.8 1104.3 1560.3 1118.6 1561.8 1131.7 1563.3 1143.4 1564.8 1153.6 1566.3 1162.3 1567.8 1169.3 1569.3 1174.0 1570.8 1175.4 1572.3 1172.3 1573.8 1164.1 1575.3 1152.0 1576.8 1137.7 1578.3 1122.6 1579.8 1107.7 1581.3 1093.6 1582.8 1081.1 1584.3 1070.3 1585.8 1061.3 1587.3 1053.9 1588.8 1047.9 1590.3 1043.2 1591.8 1040.0 1593.3 1038.0 1594.8 1037.3 1596.3 1037.9 1597.8 1039.7 1599.3 1042.6 1600.8 1046.3 1602.3 1050.4 1603.8 1054.4 1605.3 1058.2 1606.8 1061.8 1608.3 1065.2 1609.8 1068.2 1611.3 1070.8 1612.8 1073.1 1614.3 1075.0 1615.8 1076.7 1617.3 1078.1 1618.8 1079.2 1620.3 1080.1 1621.8 1080.9 1623.3 1081.3 1624.8 1081.6 1626.3 1081.7 1627.8 1081.5 1629.3 1081.2 1630.8 1080.8 1632.3 1080.3 1633.8 1079.8 1635.3 1079.2 1636.8 1078.7 1638.3 1078.3 1639.8 1078.2 1641.3 1078.3 1642.8 1078.7 1644.3 1079.3 1645.8 1080.0 1647.3 1080.9 1648.8 1082.0 1650.3 1083.3 1651.8 1084.6 1653.3 1086.2 1654.8 1087.8 1656.3 1089.7 1657.8 1091.7 1659.3 1093.8 1660.8 1095.9 1662.3 1097.9 1663.8 1099.6 1665.3 1100.9 1666.8 1102.0 1668.3 1102.8 1669.8 1103.6 1671.3 1104.5 1672.8 1105.4 1674.3 1106.6 1675.8 1107.8 1677.3 1109.1 1678.8 1110.4 1680.3 1111.7 1681.8 1113.0 1683.3 1114.3 1684.8 1115.5 1686.3 1116.7 1687.8 1117.8 1689.3 1118.8 1690.8 1119.7 1692.3 1120.5 1693.8 1121.4 1695.3 1122.2 1696.8 1123.2 1698.3 1124.1 1699.8 1125.2 1701.3 1126.2 1702.8 1127.3 1704.3 1128.3 1705.8 1129.3 1707.3 1130.3 1708.8 1131.4 1710.3 1132.5 1711.8 1133.8 1713.3 1135.3 1714.8 1137.0 1716.3 1138.6 1717.8 1140.3 1719.3 1141.8 1720.8 1143.2 1722.3 1144.3 1723.8 1145.4 1725.3 1146.4 1726.8 1147.5 1728.3 1148.6 1729.8 1149.9 1731.3 1151.2 1732.8 1152.7 1734.3 1154.4 1735.8 1156.4 1737.3 1158.7 1738.8 1161.3 1740.3 1163.9 1741.8 1166.2 1743.3 1168.2 1744.8 1169.6 1746.3 1170.4 1747.8 1170.4 1749.3 1169.6 1750.8 1168.0 1752.3 1165.9 1753.8 1163.5 1755.3 1161.1 1756.8 1158.8 1758.3 1157.1 1759.8 1156.2 1761.3 1156.4 1762.8 1157.7 1764.3 1159.7 1765.8 1161.9 1767.3 1163.6 1767.5 1163.9" stroke="#1a08d8"/><path d="M1408.8 1134.2L1410.3 1135.1 1411.8 1136.3 1413.3 1137.6 1414.8 1138.9 1416.3 1140.3 1417.8 1141.8 1419.3 1143.3 1420.8 1144.7 1422.3 1146.0 1423.8 1147.0 1425.3 1147.5 1426.8 1147.6 1428.3 1147.3 1429.8 1146.7 1431.3 1146.0 1432.8 1145.1 1434.3 1144.3 1435.8 1143.4 1437.3 1142.6 1438.8 1142.0 1440.3 1141.9 1441.8 1142.3 1443.3 1143.2 1444.8 1144.4 1446.3 1145.6 1447.8 1146.6 1449.3 1147.3 1450.8 1147.7 1452.3 1147.8 1453.8 1147.7 1455.3 1147.5 1456.8 1147.4 1458.3 1147.6 1459.8 1147.8 1461.3 1147.9 1462.8 1147.7 1464.3 1147.2 1465.8 1146.3 1467.3 1145.1 1468.8 1143.7 1470.3 1142.3 1471.8 1141.3 1473.3 1140.8 1474.8 1140.7 1476.3 1141.0 1477.8 1141.5 1479.3 1142.1 1480.8 1142.6 1482.3 1143.1 1483.8 1143.6 1485.3 1144.0 1486.8 1144.5 1488.3 1145.0 1489.8 1145.5 1491.3 1146.1 1492.8 1146.8 1494.3 1147.5 1495.8 1148.2 1497.3 1149.0 1498.8 1149.9 1500.3 1150.8 1501.8 1151.7 1503.3 1152.5 1504.8 1153.3 1506.3 1154.0 1507.8 1154.6 1509.3 1155.0 1510.8 1155.2 1512.3 1155.1 1513.8 1154.6 1515.3 1153.8 1516.8 1152.8 1518.3 1151.6 1519.8 1150.5 1521.3 1149.5 1522.8 1148.5 1524.3 1147.1 1525.8 1144.9 1527.3 1141.7 1528.8 1137.5 1530.3 1132.5 1531.8 1127.0 1533.3 1121.0 1534.8 1114.6 1536.3 1107.9 1537.8 1100.8 1539.3 1093.4 1540.8 1085.7 1542.3 1077.9 1543.8 1070.2 1545.3 1062.9 1546.8 1056.4 1548.3 1051.6 1549.8 1049.4 1551.3 1050.4 1552.8 1054.9 1554.3 1062.9 1555.8 1073.5 1557.3 1086.4 1558.8 1100.6 1560.3 1115.3 1561.8 1129.3 1563.3 1142.0 1564.8 1153.0 1566.3 1162.4 1567.8 1169.9 1569.3 1175.1 1570.8 1177.1 1572.3 1174.8 1573.8 1167.9 1575.3 1157.3 1576.8 1144.7 1578.3 1131.3 1579.8 1118.0 1581.3 1105.3 1582.8 1093.9 1584.3 1084.0 1585.8 1075.6 1587.3 1068.6 1588.8 1062.9 1590.3 1058.4 1591.8 1055.0 1593.3 1052.7 1594.8 1051.6 1596.3 1051.7 1597.8 1052.9 1599.3 1055.2 1600.8 1058.4 1602.3 1062.0 1603.8 1065.6 1605.3 1069.1 1606.8 1072.4 1608.3 1075.5 1609.8 1078.4 1611.3 1081.2 1612.8 1083.7 1614.3 1086.0 1615.8 1088.0 1617.3 1089.6 1618.8 1090.8 1620.3 1091.4 1621.8 1091.5 1623.3 1091.1 1624.8 1090.3 1626.3 1089.1 1627.8 1087.8 1629.3 1086.2 1630.8 1084.6 1632.3 1082.9 1633.8 1081.4 1635.3 1080.1 1636.8 1079.0 1638.3 1078.3 1639.8 1078.2 1641.3 1078.8 1642.8 1080.0 1644.3 1081.6 1645.8 1083.5 1647.3 1085.3 1648.8 1086.9 1650.3 1088.3 1651.8 1089.6 1653.3 1090.8 1654.8 1092.1 1656.3 1093.3 1657.8 1094.5 1659.3 1095.8 1660.8 1097.0 1662.3 1098.3 1663.8 1099.5 1665.3 1100.8 1666.8 1102.0 1668.3 1103.2 1669.8 1104.5 1671.3 1105.9 1672.8 1107.4 1674.3 1108.9 1675.8 1110.6 1677.3 1112.3 1678.8 1114.0 1680.3 1115.8 1681.8 1117.5 1683.3 1119.2 1684.8 1120.9 1686.3 1122.5 1687.8 1124.0 1689.3 1125.3 1690.8 1126.5 1692.3 1127.6 1693.8 1128.5 1695.3 1129.3 1696.8 1129.8 1698.3 1130.1 1699.8 1130.3 1701.3 1130.5 1702.8 1130.8 1704.3 1131.2 1705.8 1131.9 1707.3 1132.6 1708.8 1133.5 1710.3 1134.4 1711.8 1135.3 1713.3 1136.3 1714.8 1137.3 1716.3 1138.3 1717.8 1139.4 1719.3 1140.6 1720.8 1142.0 1722.3 1143.4 1723.8 1144.9 1725.3 1146.3 1726.8 1147.7 1728.3 1148.9 1729.8 1149.9 1731.3 1150.8 1732.8 1151.7 1734.3 1152.4 1735.8 1153.1 1737.3 1153.8 1738.8 1154.5 1740.3 1155.1 1741.8 1155.7 1743.3 1156.3 1744.8 1156.8 1746.3 1157.3 1747.8 1157.8 1749.3 1158.2 1750.8 1158.4 1752.3 1158.4 1753.8 1158.1 1755.3 1157.7 1756.8 1157.3 1758.3 1157.2 1759.8 1157.5 1761.3 1158.2 1762.8 1159.2 1764.3 1160.5 1765.8 1161.7 1767.3 1162.7 1767.5 1162.8" stroke="#86ee3e"/><path d="M1408.8 1143.0L1410.3 1143.5 1411.8 1144.1 1413.3 1144.8 1414.8 1145.5 1416.3 1146.1 1417.8 1146.6 1419.3 1147.1 1420.8 1147.6 1422.3 1147.9 1423.8 1148.1 1425.3 1148.1 1426.8 1147.9 1428.3 1147.3 1429.8 1146.4 1431.3 1145.0 1432.8 1143.2 1434.3 1141.3 1435.8 1139.5 1437.3 1137.9 1438.8 1136.8 1440.3 1136.4 1441.8 1136.7 1443.3 1137.6 1444.8 1138.9 1446.3 1140.4 1447.8 1141.8 1449.3 1143.0 1450.8 1143.9 1452.3 1144.6 1453.8 1145.3 1455.3 1146.0 1456.8 1146.8 1458.3 1147.6 1459.8 1148.6 1461.3 1149.6 1462.8 1150.4 1464.3 1150.9 1465.8 1150.9 1467.3 1150.3 1468.8 1149.2 1470.3 1147.7 1471.8 1146.0 1473.3 1144.4 1474.8 1142.9 1476.3 1141.7 1477.8 1140.7 1479.3 1140.0 1480.8 1139.7 1482.3 1139.8 1483.8 1140.2 1485.3 1141.0 1486.8 1141.8 1488.3 1142.7 1489.8 1143.6 1491.3 1144.6 1492.8 1145.5 1494.3 1146.4 1495.8 1147.1 1497.3 1147.7 1498.8 1148.1 1500.3 1148.3 1501.8 1148.5 1503.3 1148.7 1504.8 1148.9 1506.3 1149.0 1507.8 1149.2 1509.3 1149.4 1510.8 1149.7 1512.3 1150.2 1513.8 1150.7 1515.3 1151.3 1516.8 1151.8 1518.3 1151.9 1519.8 1151.5 1521.3 1150.7 1522.8 1149.3 1524.3 1147.2 1525.8 1144.4 1527.3 1140.7 1528.8 1135.9 1530.3 1129.9 1531.8 1122.9 1533.3 1115.0 1534.8 1106.5 1536.3 1097.6 1537.8 1088.5 1539.3 1079.1 1540.8 1069.5 1542.3 1059.9 1543.8 1050.5 1545.3 1041.5 1546.8 1033.5 1548.3 1027.3 1549.8 1023.8 1551.3 1023.2 1552.8 1025.9 1554.3 1031.5 1555.8 1039.4 1557.3 1049.3 1558.8 1060.4 1560.3 1071.9 1561.8 1083.1 1563.3 1093.2 1564.8 1102.1 1566.3 1109.5 1567.8 1115.5 1569.3 1119.7 1570.8 1122.0 1572.3 1122.0 1573.8 1119.7 1575.3 1115.6 1576.8 1110.5 1578.3 1104.9 1579.8 1099.4 1581.3 1094.0 1582.8 1088.9 1584.3 1084.3 1585.8 1080.3 1587.3 1076.8 1588.8 1073.9 1590.3 1071.5 1591.8 1069.4 1593.3 1067.9 1594.8 1066.7 1596.3 1065.9 1597.8 1065.5 1599.3 1065.3 1600.8 1065.3 1602.3 1065.5 1603.8 1065.9 1605.3 1066.4 1606.8 1066.9 1608.3 1067.4 1609.8 1067.8 1611.3 1068.1 1612.8 1068.3 1614.3 1068.5 1615.8 1068.6 1617.3 1068.7 1618.8 1068.7 1620.3 1068.5 1621.8 1068.1 1623.3 1067.1 1624.8 1065.5 1626.3 1063.6 1627.8 1061.7 1629.3 1060.7 1630.8 1061.0 1632.3 1062.6 1633.8 1065.1 1635.3 1067.8 1636.8 1070.2 1638.3 1072.1 1639.8 1073.4 1641.3 1074.0 1642.8 1073.8 1644.3 1072.9 1645.8 1071.5 1647.3 1070.3 1648.8 1069.6 1650.3 1069.5 1651.8 1069.8 1653.3 1070.3 1654.8 1070.8 1656.3 1071.3 1657.8 1071.8 1659.3 1072.2 1660.8 1072.6 1662.3 1073.1 1663.8 1073.8 1665.3 1074.6 1666.8 1075.6 1668.3 1076.6 1669.8 1077.7 1671.3 1078.7 1672.8 1079.6 1674.3 1080.4 1675.8 1081.1 1677.3 1081.7 1678.8 1082.3 1680.3 1082.8 1681.8 1083.3 1683.3 1083.7 1684.8 1084.1 1686.3 1084.5 1687.8 1085.0 1689.3 1085.5 1690.8 1086.1 1692.3 1086.9 1693.8 1088.0 1695.3 1089.5 1696.8 1091.6 1698.3 1094.1 1699.8 1097.1 1701.3 1100.2 1702.8 1103.2 1704.3 1105.9 1705.8 1108.5 1707.3 1110.8 1708.8 1112.9 1710.3 1114.6 1711.8 1116.0 1713.3 1117.0 1714.8 1117.8 1716.3 1118.6 1717.8 1119.8 1719.3 1121.5 1720.8 1123.5 1722.3 1125.6 1723.8 1127.4 1725.3 1128.9 1726.8 1129.9 1728.3 1130.8 1729.8 1131.5 1731.3 1132.3 1732.8 1133.3 1734.3 1134.4 1735.8 1135.6 1737.3 1137.1 1738.8 1138.8 1740.3 1140.6 1741.8 1142.5 1743.3 1144.1 1744.8 1145.4 1746.3 1146.2 1747.8 1146.3 1749.3 1145.7 1750.8 1144.5 1752.3 1142.9 1753.8 1140.9 1755.3 1138.6 1756.8 1136.3 1758.3 1133.9 1759.8 1131.9 1761.3 1130.4 1762.8 1129.5 1764.3 1129.1 1765.8 1129.2 1767.3 1129.6 1767.5 1129.6" stroke="#000000"/><path d="M1408.8 1140.8L1410.3 1140.9 1411.8 1141.0 1413.3 1141.0 1414.8 1141.1 1416.3 1141.2 1417.8 1141.4 1419.3 1141.7 1420.8 1142.1 1422.3 1142.6 1423.8 1143.1 1425.3 1143.8 1426.8 1144.6 1428.3 1145.6 1429.8 1146.8 1431.3 1148.2 1432.8 1149.6 1434.3 1150.9 1435.8 1151.7 1437.3 1151.8 1438.8 1151.2 1440.3 1150.2 1441.8 1149.2 1443.3 1148.5 1444.8 1148.4 1446.3 1148.8 1447.8 1149.6 1449.3 1150.8 1450.8 1152.1 1452.3 1152.9 1453.8 1152.7 1455.3 1151.7 1456.8 1150.0 1458.3 1147.9 1459.8 1145.7 1461.3 1143.6 1462.8 1141.6 1464.3 1139.8 1465.8 1138.3 1467.3 1137.1 1468.8 1136.4 1470.3 1136.4 1471.8 1136.8 1473.3 1137.6 1474.8 1138.5 1476.3 1139.3 1477.8 1139.9 1479.3 1140.3 1480.8 1140.5 1482.3 1140.7 1483.8 1140.8 1485.3 1140.8 1486.8 1140.7 1488.3 1140.5 1489.8 1140.1 1491.3 1139.8 1492.8 1139.6 1494.3 1139.5 1495.8 1139.7 1497.3 1140.1 1498.8 1140.8 1500.3 1141.6 1501.8 1142.3 1503.3 1142.9 1504.8 1143.0 1506.3 1142.7 1507.8 1142.0 1509.3 1141.2 1510.8 1140.7 1512.3 1140.9 1513.8 1141.7 1515.3 1142.9 1516.8 1144.2 1518.3 1145.1 1519.8 1145.5 1521.3 1145.2 1522.8 1144.3 1524.3 1142.6 1525.8 1140.0 1527.3 1136.5 1528.8 1132.0 1530.3 1126.6 1531.8 1120.4 1533.3 1113.5 1534.8 1106.1 1536.3 1098.5 1537.8 1090.5 1539.3 1082.3 1540.8 1074.0 1542.3 1065.8 1543.8 1057.8 1545.3 1050.6 1546.8 1044.7 1548.3 1040.9 1549.8 1039.6 1551.3 1041.1 1552.8 1045.1 1554.3 1051.2 1555.8 1058.9 1557.3 1067.9 1558.8 1077.5 1560.3 1087.2 1561.8 1096.2 1563.3 1104.3 1564.8 1111.4 1566.3 1117.3 1567.8 1122.1 1569.3 1125.5 1570.8 1127.0 1572.3 1126.2 1573.8 1123.0 1575.3 1118.0 1576.8 1111.9 1578.3 1105.5 1579.8 1099.2 1581.3 1093.2 1582.8 1087.9 1584.3 1083.4 1585.8 1079.5 1587.3 1076.4 1588.8 1073.9 1590.3 1071.9 1591.8 1070.6 1593.3 1069.7 1594.8 1069.4 1596.3 1069.5 1597.8 1070.1 1599.3 1071.2 1600.8 1072.5 1602.3 1074.1 1603.8 1075.9 1605.3 1077.8 1606.8 1079.6 1608.3 1081.2 1609.8 1082.3 1611.3 1082.8 1612.8 1082.6 1614.3 1082.0 1615.8 1081.1 1617.3 1080.0 1618.8 1078.7 1620.3 1077.4 1621.8 1076.0 1623.3 1074.6 1624.8 1073.2 1626.3 1071.9 1627.8 1070.6 1629.3 1069.5 1630.8 1068.7 1632.3 1068.3 1633.8 1068.3 1635.3 1068.7 1636.8 1069.3 1638.3 1070.2 1639.8 1071.3 1641.3 1072.7 1642.8 1074.3 1644.3 1076.0 1645.8 1077.7 1647.3 1079.2 1648.8 1080.6 1650.3 1081.8 1651.8 1082.8 1653.3 1083.7 1654.8 1084.5 1656.3 1085.2 1657.8 1085.9 1659.3 1086.6 1660.8 1087.2 1662.3 1087.8 1663.8 1088.4 1665.3 1088.9 1666.8 1089.5 1668.3 1090.0 1669.8 1090.5 1671.3 1091.1 1672.8 1091.7 1674.3 1092.4 1675.8 1093.0 1677.3 1093.7 1678.8 1094.4 1680.3 1095.1 1681.8 1095.9 1683.3 1096.6 1684.8 1097.3 1686.3 1098.1 1687.8 1098.8 1689.3 1099.7 1690.8 1100.8 1692.3 1102.1 1693.8 1103.7 1695.3 1105.5 1696.8 1107.4 1698.3 1109.4 1699.8 1111.3 1701.3 1113.1 1702.8 1114.9 1704.3 1116.6 1705.8 1118.2 1707.3 1119.7 1708.8 1121.2 1710.3 1122.5 1711.8 1123.8 1713.3 1125.0 1714.8 1126.3 1716.3 1127.6 1717.8 1128.9 1719.3 1130.2 1720.8 1131.5 1722.3 1132.5 1723.8 1133.3 1725.3 1133.9 1726.8 1134.1 1728.3 1134.3 1729.8 1134.6 1731.3 1135.1 1732.8 1135.9 1734.3 1137.0 1735.8 1138.4 1737.3 1140.0 1738.8 1141.8 1740.3 1143.9 1741.8 1146.1 1743.3 1148.2 1744.8 1149.9 1746.3 1150.8 1747.8 1151.0 1749.3 1150.6 1750.8 1149.6 1752.3 1148.4 1753.8 1147.0 1755.3 1145.4 1756.8 1143.8 1758.3 1142.4 1759.8 1141.3 1761.3 1140.5 1762.8 1140.1 1764.3 1139.9 1765.8 1139.8 1767.3 1139.8 1767.5 1139.7" stroke="#e41418"/></g><path d="M1408.8 1254.0V1249.0M1408.8 1012.3V1017.3M1488.5 1254.0V1249.0M1488.5 1012.3V1017.3M1568.3 1254.0V1249.0M1568.3 1012.3V1017.3M1648.0 1254.0V1249.0M1648.0 1012.3V1017.3M1727.7 1254.0V1249.0M1727.7 1012.3V1017.3M1408.8 1232.0H1413.8M1767.6 1232.0H1762.6M1408.8 1188.1H1413.8M1767.6 1188.1H1762.6M1408.8 1144.1H1413.8M1767.6 1144.1H1762.6M1408.8 1100.2H1413.8M1767.6 1100.2H1762.6M1408.8 1056.2H1413.8M1767.6 1056.2H1762.6M1408.8 1012.3H1413.8M1767.6 1012.3H1762.6" stroke="#262626" stroke-width="2.4" fill="none"/><rect x="1408.8" y="1012.3" width="358.8" height="241.7" fill="none" stroke="#262626" stroke-width="2.9"/><text x="1408.8" y="1274.4" font-size="14.6" font-weight="bold" text-anchor="middle" fill="#262626" stroke="#262626" stroke-width="0.3">-200</text><text x="1488.5" y="1274.4" font-size="14.6" font-weight="bold" text-anchor="middle" fill="#262626" stroke="#262626" stroke-width="0.3">0</text><text x="1568.3" y="1274.4" font-size="14.6" font-weight="bold" text-anchor="middle" fill="#262626" stroke="#262626" stroke-width="0.3">200</text><text x="1648.0" y="1274.4" font-size="14.6" font-weight="bold" text-anchor="middle" fill="#262626" stroke="#262626" stroke-width="0.3">400</text><text x="1727.7" y="1274.4" font-size="14.6" font-weight="bold" text-anchor="middle" fill="#262626" stroke="#262626" stroke-width="0.3">600</text><text x="1402.5" y="1237.2" font-size="14.6" font-weight="bold" text-anchor="end" fill="#262626" stroke="#262626" stroke-width="0.3">-4</text><text x="1402.5" y="1193.3" font-size="14.6" font-weight="bold" text-anchor="end" fill="#262626" stroke="#262626" stroke-width="0.3">-2</text><text x="1402.5" y="1149.3" font-size="14.6" font-weight="bold" text-anchor="end" fill="#262626" stroke="#262626" stroke-width="0.3">0</text><text x="1402.5" y="1105.4" font-size="14.6" font-weight="bold" text-anchor="end" fill="#262626" stroke="#262626" stroke-width="0.3">2</text><text x="1402.5" y="1061.4" font-size="14.6" font-weight="bold" text-anchor="end" fill="#262626" stroke="#262626" stroke-width="0.3">4</text><text x="1402.5" y="1017.5" font-size="14.6" font-weight="bold" text-anchor="end" fill="#262626" stroke="#262626" stroke-width="0.3">6</text><text x="1588.2" y="1294.4" font-size="15" font-weight="bold" text-anchor="middle" fill="#262626" stroke="#262626" stroke-width="0.3">time (ms)</text><text transform="translate(1383.2 1133.2) rotate(-90)" font-size="15" font-weight="bold" text-anchor="middle" fill="#262626" stroke="#262626" stroke-width="0.3">Amplitude (uV)</text><text x="1588.2" y="1007.4" font-size="15" font-weight="bold" text-anchor="middle" fill="#000" stroke="#000" stroke-width="0.3">ADHD+Autism P8</text></g>
<path d="M170.5 104.0H228.0" fill="none" stroke="#111" stroke-width="2" stroke-dasharray="10 8.7"/><path d="M228.0 103.5V314.5" fill="none" stroke="#111" stroke-width="2" stroke-dasharray="10 8.7"/><path d="M169.4 104.0V314.5" fill="none" stroke="#111" stroke-width="2" stroke-dasharray="10 8.7" stroke-dashoffset="10"/><path d="M273.4 290.6L220.9 276.0" stroke="#000" stroke-width="3.8" fill="none"/><path d="M210.3 273.0L224.5 270.5L221.2 282.5Z" fill="#000"/><text x="282.0" y="299.2" font-size="25.4" font-weight="bold" fill="#000" stroke="#000" stroke-width="0.5" textLength="61.4" lengthAdjust="spacingAndGlyphs">N170</text>
<path d="M1064.4 104.0H1120.9" fill="none" stroke="#111" stroke-width="2" stroke-dasharray="10 8.7"/><path d="M1120.9 103.5V314.4" fill="none" stroke="#111" stroke-width="2" stroke-dasharray="10 8.7"/><path d="M1063.3 104.0V314.4" fill="none" stroke="#111" stroke-width="2" stroke-dasharray="10 8.7" stroke-dashoffset="10"/><path d="M1175.8 287.8L1110.7 283.3" stroke="#000" stroke-width="3.8" fill="none"/><path d="M1099.7 282.6L1113.1 277.3L1112.2 289.7Z" fill="#000"/><text x="1184.9" y="298.2" font-size="25.4" font-weight="bold" fill="#000" stroke="#000" stroke-width="0.5" textLength="61.8" lengthAdjust="spacingAndGlyphs">N170</text>
</svg></body></html>
